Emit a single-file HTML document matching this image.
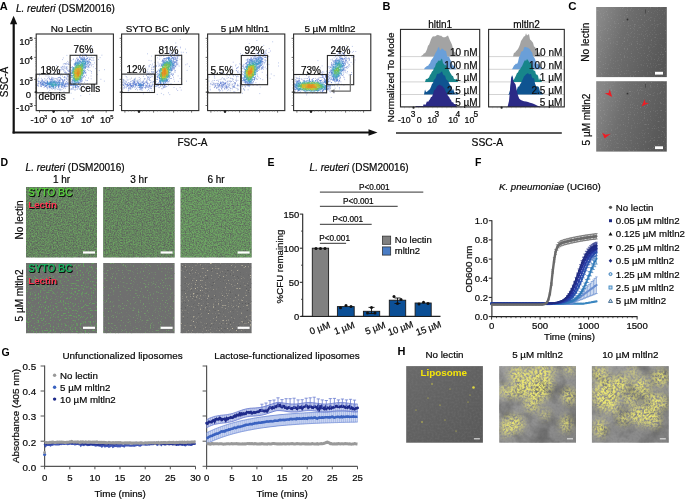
<!DOCTYPE html>
<html><head><meta charset="utf-8"><style>
html,body{margin:0;padding:0;background:#fff;overflow:hidden}
svg{display:block;will-change:transform}
text{font-family:"Liberation Sans",sans-serif}
</style></head><body>
<svg width="685" height="499" viewBox="0 0 685 499" font-family='"Liberation Sans", sans-serif'>
<rect width="685" height="499" fill="#fff"/>
<text x="-0.3" y="9.6" font-size="11" font-weight="bold" fill="#000">A</text>
<text x="16.0" y="11.8" font-size="10" stroke="#1a1a1a" stroke-width="0.22"><tspan font-style="italic">L. reuteri</tspan> (DSM20016)</text>
<line x1="13.7" y1="23.0" x2="13.7" y2="133.5" stroke="#111" stroke-width="2.2"/>
<line x1="12.6" y1="132.5" x2="369.0" y2="132.5" stroke="#111" stroke-width="2.2"/>
<path d="M13.6 15.8 L10.0 24.2 L17.2 24.2 Z" fill="#111"/>
<path d="M377.5 132.5 L368.5 129.3 L368.5 135.7 Z" fill="#111"/>
<text x="8.3" y="82.0" font-size="10" text-anchor="middle" stroke="#1a1a1a" stroke-width="0.22" transform="rotate(-90 8.3 82.0)">SSC-A</text>
<text x="192.5" y="146.2" font-size="10" text-anchor="middle" stroke="#1a1a1a" stroke-width="0.22">FSC-A</text>
<text x="71.5" y="31.5" font-size="9.9" text-anchor="middle" stroke="#1a1a1a" stroke-width="0.22">No Lectin</text>
<path d="M98.8 70.6h.8M56.1 65.6h.8M73.4 98.8h.8M95.8 82.6h.8M91.8 46.7h.8M89.4 94.3h.8M97.0 74.6h.8M80.4 95.7h.8M70.7 93.2h.8M62.9 57.9h.8M104.1 69.7h.8M101.5 55.2h.8M89.0 89.4h.8M103.9 81.1h.8M39.0 73.7h.8M66.5 55.4h.8M99.7 57.6h.8M53.0 73.3h.8" stroke="#849cd8" stroke-width=".8" opacity="0.85"/>
<path d="M62.1 59.6h.8M95.2 68.6h.8M100.5 79.3h.8M90.8 78.8h.8M39.0 75.7h.8M96.3 64.7h.8M93.7 87.7h.8M75.3 55.2h.8M98.0 59.5h.8M91.2 73.1h.8M90.7 50.4h.8M53.9 74.6h.8M84.8 88.7h.8M89.8 53.0h.8M88.2 78.0h.8M93.0 52.4h.8M90.7 76.0h.8M87.1 80.5h.8" stroke="#8490d8" stroke-width=".8" opacity="0.85"/>
<path d="M95.1 55.9h.8M70.8 60.7h.8M87.0 87.5h.8M91.9 86.8h.8M94.2 62.9h.8M57.4 72.5h.8M63.6 91.3h.8M44.3 73.6h.8M86.9 83.6h.8M91.2 71.5h.8M43.7 73.5h.8M60.4 90.4h.8M85.7 88.8h.8M42.3 74.1h.8M86.5 80.6h.8M67.4 61.4h.8M91.1 53.0h.8M82.1 52.7h.8M89.7 70.7h.8M60.8 73.8h.8M49.4 90.2h.8M92.9 66.8h.8M69.4 88.5h.8M83.3 53.9h.8M93.4 60.4h.8M47.6 75.9h.8M82.9 85.4h.8M45.6 76.0h.8M63.9 63.7h.8M73.2 59.0h.8M48.1 91.9h.8M85.0 80.0h.8M72.8 59.6h.8M92.8 59.0h.8M37.4 79.2h.8M64.9 63.7h.8M58.4 71.4h.8M90.6 57.5h.8M84.0 82.4h.8" stroke="#7890d8" stroke-width=".8" opacity="0.85"/>
<path d="M59.1 70.8h.8M79.4 89.5h.8M92.6 64.5h.8M66.0 63.0h.8M93.9 55.4h.8M92.4 57.8h.8M60.3 75.5h.8M79.3 88.7h.8M62.9 64.0h.8M87.9 70.4h.8M93.5 57.5h.8M85.0 77.2h.8M59.5 70.4h.8M48.8 76.8h.8M70.9 88.6h.8M64.6 63.6h.8" stroke="#7890cc" stroke-width=".8" opacity="0.85"/>
<path d="M84.8 54.7h.8M90.6 64.7h.8M68.0 64.1h.8M68.5 62.4h.8" stroke="#7884cc" stroke-width=".8" opacity="0.85"/>
<path d="M38.2 86.2h.8M88.4 57.3h.8M80.3 55.0h.8M67.4 63.7h.8M90.5 63.8h.8M47.0 88.0h.8M44.4 78.6h.8M63.2 70.9h.8M64.9 88.3h.8M71.3 89.2h.8M39.9 86.3h.8M66.4 64.2h.8M65.3 64.2h.8M60.7 67.1h.8M64.7 71.5h.8M90.9 57.3h.8M52.2 77.8h.8M80.2 54.9h.8M67.4 66.9h.8M57.7 77.7h.8M69.8 64.3h.8M90.4 59.6h.8M62.1 76.1h.8M67.9 74.2h.8M38.3 78.2h.8M66.2 78.7h.8M62.4 69.6h.8M37.4 85.4h.8M63.0 69.4h.8M64.3 79.4h.8M67.8 76.7h.8M87.0 57.8h.8M62.8 67.8h.8M86.5 55.0h.8M41.2 86.1h.8M70.0 65.3h.8M58.0 77.7h.8M78.4 87.0h.8M64.3 76.5h.8M61.6 89.4h.8M51.3 77.2h.8M68.6 79.3h.8M67.0 76.3h.8M82.0 55.0h.8M62.3 66.3h.8M59.8 89.5h.8M76.7 89.5h.8M59.8 77.6h.8M57.4 89.3h.8M72.3 88.8h.8M70.5 89.7h.8M48.4 77.4h.8M66.6 78.9h.8M58.5 77.5h.8M66.2 68.2h.8M90.3 62.6h.8M59.0 90.0h.8M63.8 77.5h.8M84.6 54.4h.8M66.1 69.3h.8M67.4 86.4h.8M79.1 57.3h.8M78.6 86.4h.8M60.3 69.7h.8M76.8 57.8h.8M63.8 77.6h.8M88.4 59.9h.8M60.6 69.9h.8M80.6 83.0h.8M69.0 69.8h.8M37.4 80.8h.8M37.6 85.8h.8M61.3 79.6h.8M63.3 88.4h.8M91.0 65.8h.8M67.6 73.3h.8M67.3 68.9h.8M55.5 78.7h.8M76.1 58.4h.8M85.8 54.9h.8M61.5 67.9h.8M46.9 88.9h.8M37.0 84.0h.8M38.5 84.1h.8M69.4 77.8h.8M75.1 89.9h.8M65.2 73.9h.8M67.5 80.4h.8M59.2 80.0h.8M59.4 77.4h.8M40.9 78.3h.8M89.9 59.1h.8M60.8 67.7h.8" stroke="#6c84cc" stroke-width=".8" opacity="0.85"/>
<path d="M69.0 79.4h.8M68.6 64.6h.8M74.3 89.9h.8M37.4 85.2h.8M64.0 68.1h.8M64.4 77.1h.8M61.7 68.9h.8M86.9 69.4h.8M44.7 80.0h.8M42.0 79.9h.8M91.5 60.5h.8M56.6 78.8h.8M60.6 78.7h.8M85.4 55.2h.8M77.5 88.4h.8M89.3 61.8h.8M89.2 58.1h.8M59.6 77.3h.8M65.9 67.3h.8" stroke="#6084cc" stroke-width=".8" opacity="0.85"/>
<path d="M57.8 89.0h.8M89.3 59.2h.8M69.9 67.1h.8M64.2 72.6h.8M65.7 72.5h.8M62.5 66.6h.8M65.2 72.6h.8M89.3 64.9h.8M46.4 79.9h.8M68.4 64.1h.8M72.7 89.3h.8M66.1 67.0h.8M66.6 79.6h.8M66.0 73.3h.8M69.9 83.2h.8M69.2 71.4h.8M64.4 70.2h.8M65.5 68.4h.8M59.5 88.7h.8M68.7 83.6h.8M40.1 84.3h.8M63.8 66.1h.8M89.4 67.3h.8M64.9 86.6h.8M88.2 66.3h.8M37.8 81.7h.8M41.1 86.6h.8M77.5 59.6h.8M79.3 57.7h.8M86.0 56.7h.8M53.7 88.3h.8M44.2 86.1h.8M38.2 81.8h.8M57.6 79.7h.8M81.4 57.9h.8M65.5 77.8h.8M66.8 75.2h.8M54.5 78.4h.8M68.0 70.3h.8M51.2 88.2h.8M77.4 59.0h.8M54.6 89.8h.8M64.3 80.3h.8M67.4 82.9h.8M62.2 79.5h.8M51.8 89.1h.8M64.6 66.9h.8M86.8 67.3h.8M66.4 81.8h.8M72.1 66.5h.8M69.2 70.8h.8M37.9 83.5h.8M67.1 70.7h.8M81.6 57.9h.8M70.1 82.8h.8M52.9 88.1h.8M39.9 82.3h.8M41.2 81.7h.8M60.2 78.6h.8M68.1 83.7h.8M38.4 81.0h.8M56.6 79.1h.8M88.0 67.7h.8M49.1 78.5h.8M86.2 75.2h.8M66.6 77.8h.8M62.9 81.5h.8M79.0 85.0h.8M60.5 79.2h.8M50.2 79.8h.8M75.0 60.2h.8M51.1 79.4h.8M82.1 56.5h.8M67.9 73.5h.8M88.6 60.3h.8M74.9 61.7h.8M47.3 78.4h.8M66.7 75.7h.8M71.9 67.8h.8M61.1 86.5h.8M82.0 80.8h.8M64.5 86.1h.8M64.9 84.7h.8M38.5 83.0h.8M86.3 56.1h.8M65.9 81.6h.8M85.5 73.0h.8M83.3 57.1h.8M41.5 81.2h.8M79.7 56.7h.8M42.0 84.2h.8" stroke="#6078cc" stroke-width=".8" opacity="0.85"/>
<path d="M67.2 83.3h.8M55.6 88.7h.8M65.7 83.9h.8M69.6 82.8h.8M88.8 64.6h.8M79.0 56.6h.8M76.8 86.0h.8M75.3 87.9h.8M80.6 81.0h.8M38.9 81.6h.8M52.8 79.6h.8M59.7 86.0h.8M70.2 85.1h.8M40.7 80.9h.8M81.4 83.4h.8M88.7 64.1h.8M59.6 80.2h.8M52.2 79.3h.8M65.8 86.4h.8M64.4 84.4h.8M83.1 76.3h.8M44.8 80.9h.8M50.4 79.7h.8M70.7 84.9h.8M77.9 87.0h.8M90.0 62.8h.8M44.2 81.9h.8M85.1 72.4h.8M51.6 78.8h.8M89.3 59.5h.8M81.4 81.7h.8" stroke="#5478cc" stroke-width=".8" opacity="0.85"/>
<path d="M63.9 80.1h.8M78.0 60.0h.8M45.0 86.1h.8M81.5 57.9h.8M85.0 73.2h.8M61.5 87.5h.8M73.8 63.9h.8M58.8 81.7h.8M67.7 82.3h.8M88.6 65.6h.8M70.8 85.5h.8M69.3 74.1h.8M85.5 72.1h.8M87.7 66.3h.8M78.3 84.0h.8M83.9 76.2h.8M88.8 62.0h.8M77.4 87.0h.8M82.5 77.7h.8M62.9 86.1h.8M75.4 86.9h.8M65.6 86.7h.8M40.7 84.9h.8M43.7 87.4h.8M70.7 84.5h.8M68.3 71.5h.8M65.7 85.2h.8M56.6 81.3h.8M63.5 81.5h.8M65.8 84.2h.8M71.3 81.6h.8M78.1 59.3h.8M58.5 87.2h.8M84.3 57.2h.8M62.3 80.4h.8M53.1 78.1h.8M67.6 84.8h.8M86.3 59.5h.8M84.8 70.5h.8M72.0 81.1h.8M43.2 81.3h.8M68.1 84.9h.8M80.2 85.4h.8M81.7 58.9h.8M48.9 79.1h.8M82.8 77.1h.8M63.7 85.3h.8M81.3 59.6h.8M75.8 87.6h.8M85.4 59.6h.8M80.2 85.2h.8M66.7 83.6h.8M58.4 81.6h.8M44.9 86.5h.8M74.1 65.3h.8M64.8 83.7h.8M40.2 83.1h.8M62.4 80.2h.8M51.0 78.4h.8M84.6 68.1h.8M87.8 66.3h.8M49.6 79.9h.8M46.7 80.9h.8M64.5 80.0h.8" stroke="#546ccc" stroke-width=".8" opacity="0.85"/>
<path d="M87.5 61.3h.8M67.5 84.4h.8M71.3 83.4h.8M71.3 84.2h.8M48.6 86.1h.8M71.3 67.4h.8M71.5 84.8h.8M68.9 75.7h.8M84.3 57.9h.8M42.5 81.5h.8M63.6 87.4h.8M62.6 85.5h.8M41.5 80.0h.8M57.4 80.4h.8M60.8 82.7h.8M62.2 85.4h.8M89.1 62.0h.8M62.2 87.0h.8M56.3 81.3h.8M55.0 81.9h.8M62.3 81.4h.8M59.1 80.3h.8M41.9 82.1h.8M63.4 83.7h.8M50.2 81.9h.8M62.8 84.4h.8M70.2 67.6h.8M39.8 83.3h.8M65.1 84.2h.8M78.4 83.2h.8M72.4 87.1h.8M62.7 80.6h.8M72.8 87.0h.8M44.9 86.3h.8M46.5 86.9h.8M87.8 62.9h.8M42.3 83.4h.8M43.0 85.0h.8M77.9 86.5h.8M47.1 81.4h.8M62.9 82.5h.8M45.7 85.7h.8M82.8 59.4h.8M71.1 82.9h.8M42.1 80.4h.8M84.3 58.8h.8M59.7 80.7h.8M41.0 84.8h.8M43.6 82.8h.8M86.6 60.9h.8M51.0 79.9h.8M63.1 83.1h.8M44.9 83.2h.8M58.2 81.0h.8M78.0 84.2h.8M77.1 85.1h.8M82.8 57.7h.8M44.8 83.2h.8M61.7 83.5h.8M72.8 84.6h.8M41.9 84.1h.8M49.4 87.6h.8M47.4 81.3h.8M59.2 82.4h.8M84.2 71.5h.8M49.1 86.1h.8M86.4 64.7h.8M80.2 57.7h.8M70.9 84.9h.8M49.4 86.8h.8M73.6 87.3h.8M64.1 86.5h.8M64.2 86.6h.8M43.1 85.0h.8M42.2 83.5h.8M81.3 80.9h.8M87.2 58.4h.8M49.4 86.7h.8M40.2 82.7h.8M73.8 64.4h.8M86.5 64.4h.8M60.9 87.0h.8M60.8 82.6h.8M84.4 66.6h.8M65.2 83.0h.8M41.5 83.0h.8M78.8 82.4h.8M70.2 85.2h.8M84.8 67.8h.8M46.0 83.6h.8M86.4 60.9h.8M86.8 58.3h.8M71.8 85.3h.8M79.0 61.9h.8M40.9 83.8h.8M45.1 82.9h.8M80.1 61.4h.8M45.3 82.7h.8M73.2 87.9h.8M80.5 80.8h.8M81.9 58.8h.8M55.0 81.2h.8M78.5 82.7h.8M80.4 59.0h.8M82.2 59.7h.8M75.2 62.5h.8M62.2 85.0h.8M77.3 60.8h.8M71.3 79.9h.8M61.5 85.8h.8M77.4 60.1h.8M61.4 84.7h.8M75.1 87.4h.8M74.9 85.9h.8M82.6 59.6h.8M58.2 85.3h.8M86.7 65.4h.8M85.3 67.5h.8M84.6 66.2h.8M84.4 61.1h.8M86.0 58.5h.8M75.0 86.5h.8M75.2 86.1h.8M78.3 82.2h.8M47.2 82.7h.8M58.4 86.4h.8M61.2 85.2h.8M73.3 84.4h.8M59.0 80.8h.8M62.5 83.2h.8M77.3 86.0h.8M58.1 86.6h.8M74.5 85.0h.8M80.1 82.0h.8M46.8 82.2h.8M43.8 83.8h.8M84.2 58.3h.8M46.6 87.6h.8M64.3 85.8h.8M63.4 82.9h.8M55.4 87.2h.8M81.6 78.6h.8M54.9 87.7h.8M72.1 76.9h.8M75.9 63.6h.8M80.1 81.0h.8M41.4 84.4h.8M74.7 85.2h.8M48.7 87.9h.8M46.0 83.5h.8M51.2 86.1h.8M52.9 81.6h.8M72.1 80.0h.8M40.3 85.8h.8" stroke="#486ccc" stroke-width=".8" opacity="0.85"/>
<path d="M62.6 82.1h.8M85.9 66.5h.8M43.5 82.2h.8M65.8 83.3h.8M49.7 82.0h.8M81.4 79.7h.8M42.7 83.4h.8M45.1 83.6h.8M82.2 75.1h.8M85.4 65.1h.8M87.0 63.3h.8M47.3 84.4h.8M79.0 60.5h.8M75.3 63.5h.8M88.0 62.0h.8M85.8 61.4h.8M47.1 81.5h.8M48.8 87.2h.8M47.9 83.0h.8M73.3 85.4h.8M58.0 82.3h.8M53.4 86.4h.8M78.8 82.3h.8M51.6 80.7h.8M85.0 59.4h.8M50.3 81.1h.8M72.5 85.2h.8M78.6 81.2h.8M72.1 82.1h.8M42.7 82.5h.8M42.3 85.0h.8M62.2 84.6h.8M54.2 81.2h.8M42.3 85.1h.8M73.6 67.8h.8M51.3 81.9h.8M60.2 82.1h.8M83.9 75.8h.8M85.7 66.8h.8M46.3 85.9h.8M45.8 85.7h.8M73.0 85.2h.8M77.4 82.4h.8M82.8 59.7h.8M56.4 85.5h.8M42.3 84.1h.8M46.9 82.8h.8M76.3 85.5h.8M40.7 82.7h.8M57.7 86.8h.8M55.9 86.5h.8M70.2 74.0h.8M40.4 82.3h.8M62.1 82.9h.8M77.3 60.9h.8M50.6 88.0h.8M55.1 87.0h.8M54.6 80.9h.8M63.3 83.9h.8M87.8 62.2h.8M73.5 83.6h.8M84.4 68.6h.8M56.2 82.3h.8M43.7 84.5h.8M80.5 79.1h.8M87.6 61.1h.8M87.0 61.8h.8M58.6 84.9h.8M85.0 68.1h.8M84.1 59.6h.8M60.5 84.4h.8M71.5 70.8h.8M85.1 61.9h.8M84.9 67.8h.8M43.1 85.4h.8M49.5 82.3h.8M83.8 59.3h.8M47.1 84.1h.8M73.7 84.3h.8M52.4 86.1h.8M72.0 72.2h.8M71.2 77.3h.8M46.4 85.3h.8" stroke="#4878cc" stroke-width=".8" opacity="0.85"/>
<path d="M76.2 61.9h.8M47.5 84.0h.8M47.3 82.4h.8M56.6 83.5h.8M63.8 84.9h.8M59.1 85.8h.8M80.7 58.6h.8M74.7 85.2h.8M70.9 75.1h.8M63.8 85.7h.8M81.3 79.5h.8M47.9 84.1h.8M58.1 87.4h.8M50.7 81.6h.8M48.9 84.3h.8M77.9 61.6h.8M80.1 61.5h.8M55.1 82.9h.8M54.2 81.9h.8M50.9 86.1h.8M57.7 85.6h.8M47.3 83.6h.8M87.9 63.3h.8M82.5 60.7h.8M75.8 85.2h.8M58.8 84.6h.8M70.4 69.2h.8M58.5 83.1h.8M85.6 62.3h.8M48.6 84.2h.8M85.1 63.1h.8M86.9 61.5h.8M58.9 82.5h.8M79.1 61.6h.8M59.4 85.1h.8M54.9 82.9h.8M48.6 86.2h.8M47.5 85.7h.8M43.2 84.1h.8M45.7 85.6h.8M81.3 59.6h.8M86.7 62.3h.8M80.4 59.0h.8M83.3 72.4h.8M53.4 88.0h.8M71.9 75.5h.8M71.8 73.7h.8M76.7 60.0h.8M45.9 85.4h.8M57.4 85.3h.8M44.3 85.1h.8M57.3 82.9h.8M44.1 82.3h.8M53.8 80.1h.8M75.7 85.8h.8M71.2 73.6h.8M74.8 63.5h.8M50.1 82.4h.8M49.6 82.1h.8M43.7 82.4h.8M49.8 86.9h.8M52.9 86.5h.8M72.2 82.1h.8M52.5 86.2h.8M52.8 86.1h.8M72.6 84.8h.8M51.1 82.0h.8M71.4 75.7h.8M79.5 60.9h.8M82.5 59.0h.8M83.6 59.0h.8M60.8 84.0h.8M54.7 83.6h.8M61.1 83.7h.8M79.4 80.5h.8M50.2 84.4h.8M52.5 82.8h.8M73.4 82.1h.8M83.4 58.9h.8" stroke="#3c78cc" stroke-width=".8" opacity="0.85"/>
<path d="M50.7 83.3h.8M51.8 82.3h.8M51.4 82.3h.8M84.7 63.6h.8M59.3 83.1h.8M76.8 64.0h.8M58.0 85.2h.8M49.0 83.3h.8M71.5 70.4h.8M48.9 84.3h.8M62.1 82.8h.8M47.7 84.4h.8M70.9 77.1h.8M87.4 63.9h.8M45.7 84.2h.8M50.8 83.7h.8M84.8 62.6h.8M75.2 86.0h.8M86.6 63.8h.8M44.9 84.8h.8M51.1 84.7h.8M62.1 84.7h.8M74.0 84.5h.8M58.9 84.1h.8M52.6 80.7h.8M75.8 63.2h.8M74.7 63.2h.8M55.5 85.0h.8M46.8 83.8h.8M76.5 82.6h.8M72.2 71.1h.8M52.4 86.6h.8M76.1 82.6h.8M60.8 84.8h.8M53.2 82.5h.8M50.5 84.0h.8M75.0 64.4h.8M84.4 63.3h.8M56.8 84.0h.8M72.1 72.3h.8M57.7 82.7h.8M59.4 83.7h.8M52.5 86.6h.8M84.1 71.8h.8M84.8 64.0h.8M47.5 84.1h.8M59.3 83.0h.8M56.5 83.6h.8M55.2 85.0h.8M47.7 83.5h.8M52.9 81.3h.8M84.6 62.9h.8M77.4 82.6h.8M82.3 71.5h.8M46.1 82.2h.8M75.5 65.3h.8M70.4 77.9h.8M53.9 81.9h.8M81.5 62.9h.8M51.1 86.3h.8M73.7 85.9h.8M51.8 81.3h.8M73.2 83.8h.8M84.5 60.9h.8M84.4 61.4h.8M82.4 61.2h.8M74.9 63.3h.8M85.1 63.5h.8M80.4 78.3h.8M59.5 84.1h.8M73.7 81.7h.8M49.5 85.9h.8M80.2 80.1h.8M50.2 87.1h.8M80.5 77.6h.8M77.0 63.1h.8M46.4 83.6h.8M80.3 62.6h.8M83.1 68.0h.8M52.2 84.4h.8M51.5 82.3h.8M72.3 80.2h.8M47.3 84.8h.8M46.7 82.5h.8M83.0 60.8h.8M59.6 84.2h.8M75.2 82.5h.8M85.1 62.8h.8M81.4 62.0h.8M76.0 82.7h.8M52.7 86.6h.8M49.3 84.4h.8M53.7 83.8h.8M82.4 69.5h.8M83.9 63.2h.8M51.9 80.0h.8M52.6 82.1h.8M77.3 62.2h.8M83.6 72.7h.8M82.9 74.0h.8M73.9 81.4h.8M70.9 72.9h.8M73.5 68.5h.8M74.2 83.7h.8M77.3 62.4h.8M50.4 82.5h.8M82.7 65.4h.8M84.5 64.1h.8M85.1 66.5h.8M80.7 63.7h.8M59.0 84.1h.8M57.7 83.7h.8M83.6 73.3h.8M50.4 84.0h.8M54.9 83.6h.8M56.8 85.0h.8M71.9 75.3h.8M82.2 69.9h.8M70.9 72.9h.8M74.1 81.0h.8M76.3 62.4h.8M73.4 68.2h.8M57.1 82.5h.8M71.8 72.7h.8M57.8 84.9h.8M82.7 71.9h.8M70.8 72.7h.8M51.0 83.1h.8M82.2 61.5h.8M83.8 69.8h.8M54.5 84.2h.8M54.7 85.6h.8M47.9 84.3h.8M77.3 63.5h.8M74.0 81.2h.8M73.1 80.6h.8M53.0 82.3h.8M73.6 69.0h.8M70.9 75.8h.8M56.4 82.4h.8" stroke="#3c84cc" stroke-width=".8" opacity="0.85"/>
<path d="M85.2 64.0h.8M83.3 64.9h.8M78.3 63.8h.8M73.5 80.4h.8M73.4 83.5h.8M55.5 82.7h.8M77.9 62.5h.8M73.5 79.8h.8M52.7 86.2h.8M83.4 67.1h.8M48.2 83.4h.8M84.1 63.7h.8M76.1 64.8h.8M83.5 70.7h.8M82.4 73.0h.8M83.2 64.7h.8M55.5 82.6h.8M82.5 65.4h.8M71.9 70.0h.8M50.4 84.1h.8M48.7 82.2h.8M77.7 64.0h.8M74.0 83.3h.8M81.7 60.1h.8M82.9 61.6h.8M78.1 82.9h.8M84.0 65.2h.8M74.8 64.6h.8M49.7 85.5h.8M82.1 63.6h.8M82.4 62.1h.8M82.3 63.3h.8M57.6 82.2h.8M83.9 63.6h.8M82.3 67.1h.8M49.3 83.9h.8M77.8 63.1h.8M81.8 61.5h.8M83.3 63.9h.8M71.8 70.2h.8M82.3 73.2h.8M85.1 64.9h.8M48.9 83.8h.8M55.4 84.5h.8M56.7 84.2h.8M54.5 84.8h.8M77.2 63.6h.8M84.0 67.5h.8M51.5 83.6h.8M55.5 84.8h.8M71.8 71.8h.8M83.7 70.1h.8M72.3 69.8h.8M72.3 68.6h.8M55.8 84.2h.8M49.5 82.9h.8M83.2 65.3h.8M75.6 84.0h.8M51.8 85.8h.8M71.4 73.6h.8M72.2 83.2h.8M52.5 84.4h.8M84.3 61.0h.8M74.9 83.8h.8M83.7 60.8h.8M51.2 85.5h.8M85.3 60.7h.8M74.7 64.2h.8M71.5 71.4h.8M74.2 78.8h.8M51.5 84.4h.8M50.4 83.3h.8M83.4 67.1h.8M73.5 82.0h.8M73.0 67.9h.8M80.4 60.1h.8M80.8 62.2h.8M77.9 63.5h.8M72.1 73.4h.8M83.0 61.3h.8M82.7 67.0h.8M75.8 65.5h.8M74.6 80.7h.8M83.2 63.1h.8M52.7 87.9h.8M73.6 78.7h.8M53.6 87.7h.8M83.9 61.4h.8M71.9 73.3h.8M82.6 65.1h.8M52.6 87.5h.8M79.6 62.2h.8M84.0 64.6h.8M53.8 83.3h.8M76.1 65.8h.8M80.3 66.0h.8M82.3 61.7h.8M70.5 75.5h.8M81.7 65.8h.8M72.8 69.2h.8M85.2 62.1h.8M56.3 84.4h.8M73.3 78.5h.8M78.1 64.3h.8M76.6 63.9h.8M73.5 79.1h.8M76.3 62.8h.8M52.0 84.7h.8M74.9 83.0h.8M76.5 80.0h.8M84.0 65.3h.8M55.3 84.6h.8M84.7 65.3h.8M81.8 65.7h.8M54.0 84.8h.8M80.1 64.0h.8M83.4 73.0h.8M57.9 84.5h.8M76.0 65.7h.8M82.6 70.1h.8" stroke="#3c90cc" stroke-width=".8" opacity="0.85"/>
<path d="M53.0 85.3h.8M58.0 84.4h.8M73.3 67.7h.8M80.9 77.3h.8M72.6 67.6h.8M74.2 82.3h.8M50.2 82.4h.8M72.8 67.7h.8M49.9 83.6h.8M80.3 74.7h.8M53.9 85.0h.8M82.9 73.8h.8M73.5 70.6h.8M52.5 84.8h.8M74.8 80.2h.8M77.1 65.1h.8M79.2 63.3h.8M75.1 83.7h.8M72.7 69.5h.8M54.0 82.5h.8M55.2 84.7h.8M79.0 65.2h.8M75.5 67.5h.8M51.3 84.1h.8M49.3 83.7h.8M82.2 65.0h.8M50.2 84.7h.8M75.8 66.3h.8M80.3 74.6h.8M77.2 64.5h.8M83.5 65.8h.8M82.3 63.6h.8M74.9 66.1h.8M51.6 84.6h.8M72.5 78.3h.8M53.3 82.2h.8M79.6 78.5h.8M82.4 60.0h.8M83.0 61.8h.8M82.7 63.6h.8M79.5 65.5h.8M73.3 75.4h.8M53.3 84.9h.8M74.3 83.7h.8M80.2 74.4h.8M85.3 63.2h.8M55.8 84.6h.8M50.7 84.6h.8M52.4 84.0h.8M85.5 62.6h.8M79.7 65.2h.8M79.9 78.8h.8M80.5 76.8h.8M75.0 64.1h.8M73.5 78.4h.8M82.2 65.4h.8M78.1 63.0h.8M80.8 65.4h.8M81.8 63.1h.8M81.4 76.6h.8M80.6 78.0h.8M50.9 84.8h.8M54.3 82.4h.8M55.0 85.3h.8M80.8 74.4h.8M82.5 60.5h.8M74.2 80.0h.8M79.7 78.4h.8M52.8 84.8h.8M75.5 64.9h.8M73.9 77.7h.8M49.4 83.8h.8M48.8 83.3h.8M82.5 66.9h.8M80.4 64.7h.8M80.9 66.7h.8M73.7 74.8h.8M84.7 62.1h.8M80.0 78.6h.8M82.6 73.6h.8M77.5 81.8h.8M81.7 64.5h.8M80.9 66.4h.8M81.5 63.2h.8M49.7 84.0h.8M82.7 63.6h.8M74.9 80.2h.8M55.5 85.9h.8M74.7 81.1h.8M76.7 65.5h.8M50.0 84.3h.8M79.1 63.6h.8M48.3 83.0h.8M80.1 64.9h.8M82.3 69.1h.8M77.6 62.1h.8M55.5 84.6h.8M74.8 81.7h.8M54.9 84.9h.8M75.7 67.2h.8M52.4 82.2h.8M75.5 80.2h.8M75.1 64.8h.8M81.8 63.9h.8M74.1 79.1h.8M76.0 66.8h.8M75.0 80.3h.8M73.5 68.6h.8M74.6 80.4h.8M72.3 80.4h.8M53.8 82.2h.8M52.9 83.6h.8M80.7 62.4h.8M80.5 77.8h.8M52.9 85.9h.8M82.7 68.3h.8M74.8 81.6h.8M73.8 73.3h.8M78.7 63.2h.8M73.7 72.0h.8M79.2 63.1h.8" stroke="#3c9cc0" stroke-width=".8" opacity="0.85"/>
<path d="M77.6 81.3h.8M82.2 74.0h.8M52.4 83.3h.8M82.4 71.9h.8M75.1 80.3h.8M77.8 65.7h.8M80.9 62.3h.8M74.1 74.1h.8M55.8 84.5h.8M73.9 72.0h.8M73.1 80.2h.8M82.0 65.5h.8M76.5 81.3h.8M82.3 67.2h.8M74.0 76.5h.8M74.7 66.6h.8M84.2 71.7h.8M74.3 81.1h.8M78.9 65.4h.8M54.1 82.0h.8M55.0 85.8h.8M73.6 73.3h.8M55.0 84.1h.8M79.7 65.9h.8M51.5 85.9h.8M78.8 63.0h.8M51.7 85.0h.8M73.5 69.2h.8M52.5 83.4h.8M80.8 72.1h.8M81.0 73.7h.8M78.2 80.0h.8M82.5 66.4h.8M74.8 80.0h.8M53.6 85.1h.8M78.6 78.5h.8M75.0 67.9h.8M52.2 84.8h.8M80.5 64.9h.8M81.9 77.8h.8M77.5 65.6h.8M83.7 62.0h.8M80.4 74.2h.8M76.1 80.3h.8M51.7 83.6h.8M74.6 79.1h.8M78.2 66.0h.8M84.2 64.0h.8M73.1 74.4h.8M82.4 66.6h.8M77.0 65.1h.8M73.7 77.4h.8M77.7 65.3h.8M81.7 69.2h.8M75.8 81.2h.8" stroke="#3ca8b4" stroke-width=".8" opacity="0.85"/>
<path d="M74.9 79.7h.8M82.5 62.5h.8M82.0 65.9h.8M81.9 68.7h.8M74.1 76.3h.8M73.9 76.0h.8M82.1 76.0h.8M73.3 74.7h.8M55.0 84.5h.8M77.2 80.0h.8M77.3 81.4h.8M53.7 85.9h.8M72.4 76.4h.8M77.8 67.6h.8M81.6 75.5h.8M80.9 78.0h.8M52.4 85.5h.8M80.5 65.9h.8M78.8 66.9h.8M79.4 76.2h.8M76.2 78.7h.8M76.8 78.3h.8M77.8 79.9h.8M77.7 79.6h.8M73.9 75.7h.8M78.2 66.8h.8M77.0 80.5h.8M55.4 84.3h.8M76.9 80.7h.8M81.7 72.4h.8M73.5 79.9h.8M73.9 69.9h.8M75.7 78.9h.8M80.3 69.6h.8M83.2 71.0h.8M81.7 65.1h.8M76.9 65.9h.8M74.1 75.7h.8M81.5 70.7h.8M73.9 79.9h.8M73.0 78.9h.8" stroke="#48a8b4" stroke-width=".8" opacity="0.85"/>
<path d="M75.7 67.5h.8M81.4 63.2h.8M78.5 77.0h.8M79.3 66.0h.8M81.8 73.4h.8M84.2 63.9h.8M80.4 75.1h.8M55.7 85.6h.8M82.4 63.8h.8M75.7 80.7h.8M83.0 70.5h.8M80.0 67.5h.8M76.0 67.1h.8M82.6 66.5h.8M75.0 69.8h.8M83.8 67.4h.8M83.6 66.7h.8M76.4 80.6h.8M81.6 63.2h.8M75.5 80.0h.8M78.9 79.7h.8M73.0 77.6h.8M79.9 77.5h.8M75.8 66.7h.8M75.1 78.7h.8M83.3 70.5h.8M81.3 72.6h.8M72.6 73.3h.8M83.1 62.3h.8M80.1 79.6h.8M80.4 65.7h.8M82.5 68.5h.8M80.3 69.4h.8M76.1 67.7h.8M83.6 67.6h.8M77.7 79.4h.8M81.2 71.5h.8M77.4 80.4h.8M73.1 69.8h.8M81.0 71.5h.8M53.5 84.5h.8M75.7 68.4h.8M80.5 75.5h.8M74.3 69.6h.8M78.3 78.8h.8M81.5 64.9h.8M76.8 81.0h.8M74.0 77.1h.8M73.9 70.0h.8M73.2 71.5h.8M74.4 80.2h.8M81.7 74.9h.8M79.5 78.6h.8M76.2 69.3h.8M52.6 85.5h.8M79.4 77.7h.8M73.5 68.9h.8M83.0 64.0h.8M77.8 65.8h.8M82.3 66.3h.8M74.2 77.4h.8M81.5 69.5h.8M79.2 66.1h.8M76.1 78.8h.8M77.7 66.1h.8M73.5 78.4h.8M72.8 69.1h.8M75.5 79.1h.8M81.2 72.3h.8M76.2 76.2h.8M77.8 78.2h.8M76.7 79.8h.8M77.7 65.0h.8M81.2 71.0h.8M73.8 71.7h.8M82.4 65.3h.8M77.8 64.3h.8M52.5 85.3h.8M80.6 70.9h.8" stroke="#48b4a8" stroke-width=".8" opacity="0.85"/>
<path d="M74.0 75.3h.8M78.7 66.5h.8M76.1 67.0h.8M75.4 79.5h.8M76.2 67.0h.8M77.9 79.5h.8M76.1 76.4h.8M75.2 79.1h.8M74.0 71.7h.8M72.8 76.2h.8M79.7 65.4h.8" stroke="#48b49c" stroke-width=".8" opacity="0.85"/>
<path d="M74.3 76.7h.8M78.3 77.3h.8M76.5 66.7h.8M80.4 70.5h.8M72.3 79.4h.8M76.3 78.7h.8M79.0 79.5h.8M80.0 76.4h.8M79.0 79.1h.8" stroke="#54b49c" stroke-width=".8" opacity="0.85"/>
<path d="M72.9 77.9h.8M79.6 67.7h.8M82.1 68.2h.8M82.0 69.1h.8M72.8 72.8h.8M74.1 75.1h.8M80.2 77.5h.8M77.0 67.7h.8M78.9 79.7h.8M78.9 79.1h.8M80.7 68.0h.8M80.6 64.0h.8M75.6 67.4h.8M81.9 65.3h.8M78.6 76.1h.8M78.4 65.2h.8M81.4 72.4h.8M78.3 64.8h.8M73.2 71.8h.8M75.4 81.1h.8M76.3 76.6h.8M80.6 70.4h.8M80.1 76.6h.8M78.7 74.6h.8M81.8 70.5h.8M81.5 66.5h.8M75.7 67.6h.8M73.7 76.3h.8M74.5 78.0h.8M80.7 69.5h.8M76.7 77.1h.8M79.6 65.0h.8M82.0 65.3h.8" stroke="#54b490" stroke-width=".8" opacity="0.85"/>
<path d="M73.9 77.0h.8M81.7 69.0h.8M76.5 68.0h.8M74.8 80.3h.8M73.7 72.6h.8M77.8 67.5h.8M74.0 73.6h.8M77.0 66.7h.8M82.1 75.2h.8M73.4 71.9h.8M75.0 76.2h.8M78.5 76.1h.8M77.3 69.6h.8M73.7 75.7h.8M80.0 68.9h.8M79.8 79.3h.8M79.5 76.2h.8M77.3 67.4h.8M73.0 70.3h.8M73.0 70.4h.8M81.6 64.3h.8M76.2 67.4h.8M73.1 71.4h.8M74.2 78.3h.8M78.8 69.6h.8M74.0 71.7h.8M80.7 65.9h.8" stroke="#54b484" stroke-width=".8" opacity="0.85"/>
<path d="M77.0 79.2h.8M76.0 68.9h.8M76.8 66.7h.8M79.6 76.6h.8M81.9 75.3h.8" stroke="#60c084" stroke-width=".8" opacity="0.85"/>
<path d="M73.8 72.7h.8M81.7 64.6h.8M78.8 75.7h.8M75.9 71.2h.8M80.5 65.4h.8M78.0 68.4h.8M78.4 76.4h.8M75.5 71.0h.8M72.6 71.3h.8M73.9 71.6h.8M72.2 77.4h.8M80.2 71.6h.8M81.9 70.0h.8M77.9 66.2h.8M80.1 77.6h.8M79.9 68.4h.8M81.3 65.3h.8M78.4 67.7h.8M75.6 80.4h.8M81.4 67.5h.8M75.0 73.1h.8M77.5 67.1h.8M76.3 65.7h.8M73.9 76.3h.8M79.0 69.5h.8M75.0 71.1h.8M80.1 74.7h.8M78.0 79.0h.8M78.2 65.5h.8M80.2 66.2h.8M73.2 78.0h.8M81.8 65.0h.8M77.4 68.5h.8M73.3 75.3h.8M80.8 67.8h.8" stroke="#60c078" stroke-width=".8" opacity="0.85"/>
<path d="M75.6 74.7h.8M81.2 70.4h.8M80.7 66.7h.8M81.2 73.4h.8M75.9 80.5h.8M78.8 75.8h.8M78.2 76.2h.8M74.9 76.3h.8M74.5 67.6h.8M78.8 71.8h.8M80.6 67.3h.8M76.4 65.5h.8M75.4 74.6h.8M81.3 72.0h.8M79.2 74.1h.8M74.1 72.4h.8M74.0 76.0h.8M75.5 74.7h.8M74.5 76.0h.8M80.7 68.2h.8M72.9 71.4h.8M80.7 74.7h.8M76.1 74.0h.8M78.8 64.9h.8M75.9 77.1h.8M77.7 67.0h.8M76.4 64.1h.8M80.5 75.5h.8M81.1 70.6h.8" stroke="#60c06c" stroke-width=".8" opacity="0.85"/>
<path d="M79.1 74.1h.8M79.1 71.9h.8" stroke="#60c060" stroke-width=".8" opacity="0.85"/>
<path d="M75.4 71.9h.8M81.8 67.1h.8M79.0 75.4h.8M79.8 77.9h.8M75.2 66.8h.8M77.7 68.1h.8M81.0 67.4h.8M74.9 79.3h.8M75.3 74.2h.8M77.3 78.7h.8M78.4 71.0h.8M80.5 69.6h.8M75.5 70.5h.8M79.1 72.0h.8M76.3 76.7h.8M79.6 75.3h.8M81.1 74.8h.8M79.2 70.5h.8M81.7 70.7h.8M73.4 75.5h.8M76.2 67.0h.8M80.4 75.8h.8M74.3 71.7h.8M75.7 76.5h.8M78.2 71.8h.8M79.5 67.8h.8M75.3 78.1h.8M76.8 74.1h.8M76.2 67.8h.8M76.5 75.2h.8M76.5 78.8h.8M79.6 76.7h.8M76.6 79.1h.8M78.4 73.4h.8M74.4 67.8h.8M81.2 64.6h.8" stroke="#6cc060" stroke-width=".8" opacity="0.85"/>
<path d="M77.7 75.8h.8M79.9 69.1h.8M77.9 79.3h.8M74.9 75.5h.8M79.0 65.7h.8M78.0 68.4h.8M73.2 70.0h.8M74.7 74.4h.8M76.2 74.9h.8M80.4 68.3h.8M78.5 65.3h.8M80.5 70.5h.8M79.6 72.8h.8M78.7 73.1h.8M76.1 72.1h.8M78.1 69.3h.8M77.5 67.7h.8M77.5 75.5h.8M74.2 72.1h.8M75.1 69.0h.8M81.9 73.8h.8M78.1 76.6h.8M78.2 75.3h.8M76.6 69.1h.8M75.4 76.3h.8M80.1 68.0h.8M74.0 74.0h.8M74.0 73.9h.8M76.1 79.4h.8M79.2 77.4h.8M79.8 75.2h.8" stroke="#6cc054" stroke-width=".8" opacity="0.85"/>
<path d="M76.1 78.0h.8M81.6 73.6h.8M76.0 79.0h.8M82.1 68.7h.8M78.6 71.3h.8M78.3 75.4h.8M74.6 72.5h.8M79.6 76.5h.8M80.5 70.0h.8" stroke="#6cc048" stroke-width=".8" opacity="0.85"/>
<path d="M76.4 74.4h.8M76.9 74.7h.8M75.2 69.5h.8M75.5 76.1h.8M79.9 72.0h.8M79.7 66.4h.8M77.0 77.2h.8M73.6 73.4h.8M77.5 77.8h.8M77.4 78.5h.8M74.9 74.3h.8M76.8 77.6h.8M75.3 71.8h.8M75.9 70.7h.8M77.2 70.5h.8M72.8 75.4h.8M81.8 70.4h.8M78.9 76.8h.8M76.5 69.5h.8M76.7 68.0h.8M76.0 71.9h.8M79.7 68.4h.8M78.5 70.9h.8M73.5 73.8h.8M79.7 74.7h.8M75.9 70.4h.8M80.7 70.9h.8M78.2 66.2h.8M80.1 68.0h.8M81.4 73.8h.8M72.2 72.1h.8M81.9 66.3h.8M79.9 68.5h.8M79.5 69.7h.8M77.8 72.1h.8M79.3 66.6h.8" stroke="#78c048" stroke-width=".8" opacity="0.85"/>
<path d="M81.0 69.7h.8M75.1 79.1h.8M72.7 72.5h.8M77.3 76.3h.8M81.8 66.2h.8M81.5 70.3h.8M74.8 75.7h.8M78.8 75.9h.8M72.2 73.3h.8M81.0 66.3h.8M81.3 72.0h.8M79.9 75.4h.8M82.1 72.1h.8M79.4 70.5h.8M79.8 68.2h.8M77.8 72.3h.8M80.8 71.3h.8M77.2 74.1h.8M77.7 67.4h.8M76.5 74.8h.8M76.8 79.1h.8M80.0 69.2h.8M77.3 73.9h.8M81.4 70.9h.8M73.7 73.7h.8M75.5 70.0h.8M74.7 76.6h.8M74.8 69.1h.8M79.9 72.8h.8M77.5 73.7h.8M75.6 79.2h.8M75.0 68.1h.8M74.4 74.8h.8M81.1 68.5h.8M77.5 71.2h.8M81.1 70.3h.8M76.2 69.0h.8M80.0 71.5h.8M78.1 72.3h.8M81.4 72.9h.8M78.1 73.6h.8M76.4 71.5h.8M75.4 74.9h.8M75.8 73.3h.8M81.5 68.9h.8M78.1 78.1h.8" stroke="#84c048" stroke-width=".8" opacity="0.85"/>
<path d="M80.9 69.1h.8M76.3 76.4h.8M80.4 73.6h.8M76.5 79.6h.8M79.8 71.8h.8M80.8 70.0h.8M76.9 73.1h.8M75.6 72.1h.8M79.3 76.3h.8M76.0 71.0h.8M74.2 77.4h.8M78.2 71.9h.8M75.2 79.1h.8M76.9 78.9h.8M77.1 76.7h.8M76.4 69.9h.8M76.2 76.4h.8M78.7 74.1h.8M77.3 72.9h.8M74.4 77.1h.8M79.6 70.1h.8M78.7 72.4h.8M76.1 75.3h.8M75.5 79.1h.8M81.1 71.0h.8M75.0 76.0h.8M78.9 77.6h.8M80.0 78.0h.8M75.7 69.3h.8M80.0 77.4h.8M78.4 73.3h.8M74.9 73.7h.8M82.0 72.4h.8M74.5 70.4h.8M78.8 66.3h.8M75.5 70.4h.8M79.1 67.1h.8M78.8 76.2h.8M79.4 74.3h.8M76.0 71.9h.8M76.9 79.8h.8M79.4 67.3h.8M75.7 79.3h.8M79.4 69.5h.8M75.1 79.6h.8M77.1 74.0h.8M75.7 73.5h.8M80.9 72.1h.8M81.5 69.6h.8M77.6 78.2h.8M77.9 71.7h.8M78.3 68.3h.8M76.4 75.8h.8M77.5 73.8h.8M74.6 73.6h.8M75.5 70.7h.8M79.1 75.2h.8" stroke="#90c048" stroke-width=".8" opacity="0.85"/>
<path d="M80.8 73.2h.8M74.8 69.0h.8M82.1 70.3h.8M79.4 73.6h.8M74.5 71.8h.8M78.0 78.9h.8M76.5 73.7h.8M78.1 78.9h.8M77.3 68.4h.8M79.5 72.1h.8M79.2 72.9h.8M74.7 76.1h.8M79.0 66.1h.8M77.2 68.7h.8M77.2 73.3h.8M74.9 78.1h.8M74.7 76.7h.8M81.2 69.8h.8M76.7 73.9h.8M77.6 73.2h.8M80.3 72.4h.8M78.8 76.0h.8M74.7 68.5h.8M80.6 68.9h.8M75.4 73.1h.8M76.8 68.5h.8M79.0 72.8h.8M77.9 74.9h.8M76.3 78.4h.8M77.4 78.1h.8M74.9 69.2h.8M76.2 70.3h.8M78.8 72.0h.8M79.7 68.2h.8M79.3 66.2h.8M75.8 73.1h.8" stroke="#9cc03c" stroke-width=".8" opacity="0.85"/>
<path d="M77.9 68.4h.8M78.1 78.0h.8M75.9 78.8h.8M79.9 67.7h.8M75.2 69.5h.8M76.0 78.3h.8M77.7 72.6h.8M75.8 78.9h.8M79.8 66.7h.8M78.0 72.9h.8M78.6 73.2h.8M74.7 73.8h.8M77.2 72.9h.8M79.2 70.3h.8M76.1 76.9h.8M74.4 69.8h.8M75.9 76.7h.8M74.8 69.8h.8M74.6 75.3h.8" stroke="#a8c03c" stroke-width=".8" opacity="0.85"/>
<path d="M77.1 69.0h.8M78.7 75.4h.8M74.9 72.0h.8M76.0 77.5h.8M78.2 74.8h.8M75.6 69.0h.8M76.0 76.2h.8M75.2 78.6h.8M80.4 69.2h.8M77.1 66.0h.8M75.6 68.2h.8M76.4 70.5h.8M76.7 69.7h.8M80.6 72.0h.8M75.9 71.1h.8" stroke="#a8cc3c" stroke-width=".8" opacity="0.85"/>
<path d="M77.9 66.7h.8M79.6 75.3h.8M76.4 66.9h.8M77.5 71.1h.8M77.7 68.5h.8M80.8 71.7h.8M78.4 70.0h.8M80.3 71.2h.8M76.4 71.4h.8M76.1 75.0h.8M77.4 67.7h.8M79.1 70.0h.8M79.5 73.6h.8M76.3 68.7h.8M79.7 72.5h.8M76.3 74.1h.8M77.8 74.4h.8M75.7 77.5h.8M77.1 69.4h.8M80.2 71.2h.8M76.8 73.4h.8M75.2 70.5h.8M81.9 70.2h.8M75.1 75.1h.8M78.9 68.5h.8M76.8 73.0h.8" stroke="#b4cc3c" stroke-width=".8" opacity="0.85"/>
<path d="M75.9 70.4h.8M79.1 75.6h.8M77.4 71.3h.8M80.2 73.2h.8M77.4 71.1h.8M78.1 76.9h.8M74.9 71.2h.8M75.8 73.7h.8M76.8 76.5h.8M75.6 69.8h.8M78.1 69.9h.8M77.9 71.3h.8M74.7 75.4h.8M76.3 77.0h.8M74.7 76.8h.8M78.8 68.8h.8" stroke="#c0cc3c" stroke-width=".8" opacity="0.85"/>
<path d="M79.8 74.1h.8M76.6 73.5h.8M75.5 70.6h.8M75.1 77.1h.8M76.4 75.0h.8M75.3 74.5h.8M78.8 71.5h.8M75.5 72.2h.8M75.5 74.6h.8M76.4 72.1h.8M77.7 74.8h.8" stroke="#cccc3c" stroke-width=".8" opacity="0.85"/>
<path d="M77.0 71.7h.8M77.6 77.2h.8M76.3 75.4h.8M79.3 70.2h.8M74.8 76.2h.8M78.5 75.1h.8M75.9 76.6h.8M76.5 72.8h.8M74.5 75.4h.8M77.2 70.0h.8M75.2 73.8h.8M78.4 69.8h.8M75.9 71.6h.8M79.9 73.9h.8M76.3 72.7h.8M80.1 71.9h.8M74.3 72.4h.8M77.7 68.4h.8M79.6 70.2h.8M74.7 73.1h.8M76.6 69.7h.8" stroke="#cccc30" stroke-width=".8" opacity="0.85"/>
<path d="M80.0 69.0h.8M77.7 72.0h.8M75.0 75.0h.8M79.2 69.3h.8M75.8 70.7h.8" stroke="#ccc030" stroke-width=".8" opacity="0.85"/>
<path d="M76.9 70.1h.8M74.7 76.1h.8M76.4 69.0h.8M75.6 77.6h.8M79.6 68.5h.8M78.0 70.2h.8M78.6 75.6h.8M74.3 77.4h.8M76.6 75.1h.8M75.2 77.1h.8M76.5 76.9h.8M78.8 74.4h.8M78.1 76.0h.8M76.3 72.7h.8M77.3 70.2h.8M75.6 74.4h.8M74.6 72.6h.8M79.0 74.9h.8M79.5 68.3h.8M79.7 70.2h.8M77.1 70.7h.8M78.3 72.1h.8" stroke="#d8c030" stroke-width=".8" opacity="0.85"/>
<path d="M80.2 74.3h.8M77.4 74.9h.8M80.1 68.3h.8M74.7 75.0h.8M77.8 68.5h.8M74.9 71.5h.8M76.5 73.6h.8M75.4 74.6h.8M79.2 68.4h.8M79.7 73.5h.8M76.8 77.2h.8M75.8 75.8h.8M76.7 70.0h.8M79.3 68.7h.8" stroke="#d8b430" stroke-width=".8" opacity="0.85"/>
<path d="M76.4 69.1h.8M76.7 77.2h.8M77.2 73.9h.8M77.6 75.8h.8M75.1 72.6h.8M77.4 76.0h.8M79.3 73.3h.8M76.0 71.0h.8M78.3 68.4h.8M76.1 75.3h.8M77.8 71.3h.8M79.0 73.8h.8M74.4 70.8h.8M80.1 68.3h.8M77.0 73.0h.8M80.1 68.9h.8M76.2 73.3h.8" stroke="#e4b430" stroke-width=".8" opacity="0.85"/>
<path d="M79.0 69.0h.8M77.9 74.2h.8M79.0 72.2h.8M78.6 70.8h.8M74.3 72.3h.8M74.4 71.1h.8M77.4 73.2h.8M75.8 72.0h.8M78.5 71.8h.8M77.2 72.8h.8M77.0 70.1h.8M75.0 72.9h.8M79.6 73.6h.8M74.8 70.3h.8M78.6 71.0h.8M76.7 74.2h.8M76.0 75.9h.8M79.8 68.1h.8M80.0 69.3h.8M77.3 73.1h.8M76.8 74.6h.8M75.7 70.6h.8M75.2 70.7h.8M78.0 69.4h.8M79.2 69.1h.8M74.4 73.6h.8M77.0 72.0h.8M78.4 74.3h.8M78.2 73.8h.8M76.4 69.6h.8M76.6 72.6h.8M80.1 74.1h.8M76.9 69.2h.8M74.9 73.5h.8M75.2 72.3h.8M75.4 75.5h.8M78.1 68.8h.8M78.4 73.6h.8M79.0 73.7h.8M77.9 72.6h.8M79.2 70.5h.8" stroke="#e4a830" stroke-width=".8" opacity="0.85"/>
<path d="M76.8 69.0h.8M78.8 73.1h.8M77.4 69.9h.8M77.3 68.8h.8M79.1 71.3h.8M74.7 73.6h.8M78.8 70.8h.8M78.2 70.2h.8M78.1 69.7h.8M78.0 75.0h.8" stroke="#e49c30" stroke-width=".8" opacity="0.85"/>
<path d="M77.5 75.8h.8M76.2 73.3h.8M76.6 73.9h.8M78.1 72.6h.8M77.9 74.5h.8M74.8 72.9h.8M78.2 71.8h.8M79.6 72.9h.8M76.5 70.7h.8M80.0 71.6h.8M76.7 73.1h.8" stroke="#e49024" stroke-width=".8" opacity="0.85"/>
<path d="M78.3 70.0h.8M79.0 71.9h.8M78.0 73.4h.8M77.2 72.0h.8M77.5 70.6h.8M78.1 75.4h.8M78.0 74.8h.8M77.8 73.5h.8M77.1 71.7h.8M77.9 74.0h.8M77.5 73.9h.8M77.0 72.1h.8M77.7 74.4h.8M77.7 76.0h.8M76.6 73.4h.8M77.4 75.8h.8M77.1 72.7h.8M77.3 72.9h.8M78.1 71.9h.8M79.3 73.4h.8M77.5 72.4h.8M77.9 75.0h.8M77.3 74.8h.8M77.5 76.0h.8" stroke="#e48424" stroke-width=".8" opacity="0.85"/>
<rect x="36.2" y="34.0" width="77.2" height="76.6" fill="none" stroke="#2a2a2a" stroke-width="1.1"/>
<line x1="34.2" y1="38.3" x2="36.2" y2="38.3" stroke="#444" stroke-width="0.8"/>
<line x1="34.2" y1="57.4" x2="36.2" y2="57.4" stroke="#444" stroke-width="0.8"/>
<line x1="34.2" y1="79.4" x2="36.2" y2="79.4" stroke="#444" stroke-width="0.8"/>
<line x1="34.2" y1="92.2" x2="36.2" y2="92.2" stroke="#444" stroke-width="0.8"/>
<line x1="34.2" y1="105.5" x2="36.2" y2="105.5" stroke="#444" stroke-width="0.8"/>
<line x1="35.0" y1="40.5" x2="36.2" y2="40.5" stroke="#777" stroke-width="0.5"/>
<line x1="35.0" y1="42.5" x2="36.2" y2="42.5" stroke="#777" stroke-width="0.5"/>
<line x1="35.0" y1="44.6" x2="36.2" y2="44.6" stroke="#777" stroke-width="0.5"/>
<line x1="35.0" y1="47.0" x2="36.2" y2="47.0" stroke="#777" stroke-width="0.5"/>
<line x1="35.0" y1="51.0" x2="36.2" y2="51.0" stroke="#777" stroke-width="0.5"/>
<line x1="35.0" y1="59.5" x2="36.2" y2="59.5" stroke="#777" stroke-width="0.5"/>
<line x1="35.0" y1="61.5" x2="36.2" y2="61.5" stroke="#777" stroke-width="0.5"/>
<line x1="35.0" y1="63.5" x2="36.2" y2="63.5" stroke="#777" stroke-width="0.5"/>
<line x1="35.0" y1="66.0" x2="36.2" y2="66.0" stroke="#777" stroke-width="0.5"/>
<line x1="35.0" y1="70.0" x2="36.2" y2="70.0" stroke="#777" stroke-width="0.5"/>
<line x1="35.0" y1="82.0" x2="36.2" y2="82.0" stroke="#777" stroke-width="0.5"/>
<line x1="35.0" y1="85.0" x2="36.2" y2="85.0" stroke="#777" stroke-width="0.5"/>
<line x1="35.0" y1="88.0" x2="36.2" y2="88.0" stroke="#777" stroke-width="0.5"/>
<line x1="35.0" y1="95.0" x2="36.2" y2="95.0" stroke="#777" stroke-width="0.5"/>
<line x1="35.0" y1="98.0" x2="36.2" y2="98.0" stroke="#777" stroke-width="0.5"/>
<line x1="35.0" y1="101.0" x2="36.2" y2="101.0" stroke="#777" stroke-width="0.5"/>
<line x1="35.0" y1="103.0" x2="36.2" y2="103.0" stroke="#777" stroke-width="0.5"/>
<line x1="39.5" y1="110.6" x2="39.5" y2="112.6" stroke="#444" stroke-width="0.8"/>
<line x1="53.6" y1="110.6" x2="53.6" y2="112.6" stroke="#444" stroke-width="0.8"/>
<line x1="68.2" y1="110.6" x2="68.2" y2="112.6" stroke="#444" stroke-width="0.8"/>
<line x1="88.2" y1="110.6" x2="88.2" y2="112.6" stroke="#444" stroke-width="0.8"/>
<line x1="106.2" y1="110.6" x2="106.2" y2="112.6" stroke="#444" stroke-width="0.8"/>
<line x1="43.0" y1="110.6" x2="43.0" y2="111.8" stroke="#777" stroke-width="0.5"/>
<line x1="46.0" y1="110.6" x2="46.0" y2="111.8" stroke="#777" stroke-width="0.5"/>
<line x1="49.0" y1="110.6" x2="49.0" y2="111.8" stroke="#777" stroke-width="0.5"/>
<line x1="57.0" y1="110.6" x2="57.0" y2="111.8" stroke="#777" stroke-width="0.5"/>
<line x1="61.0" y1="110.6" x2="61.0" y2="111.8" stroke="#777" stroke-width="0.5"/>
<line x1="64.0" y1="110.6" x2="64.0" y2="111.8" stroke="#777" stroke-width="0.5"/>
<line x1="72.0" y1="110.6" x2="72.0" y2="111.8" stroke="#777" stroke-width="0.5"/>
<line x1="75.0" y1="110.6" x2="75.0" y2="111.8" stroke="#777" stroke-width="0.5"/>
<line x1="78.0" y1="110.6" x2="78.0" y2="111.8" stroke="#777" stroke-width="0.5"/>
<line x1="81.0" y1="110.6" x2="81.0" y2="111.8" stroke="#777" stroke-width="0.5"/>
<line x1="84.0" y1="110.6" x2="84.0" y2="111.8" stroke="#777" stroke-width="0.5"/>
<line x1="92.0" y1="110.6" x2="92.0" y2="111.8" stroke="#777" stroke-width="0.5"/>
<line x1="95.0" y1="110.6" x2="95.0" y2="111.8" stroke="#777" stroke-width="0.5"/>
<line x1="98.0" y1="110.6" x2="98.0" y2="111.8" stroke="#777" stroke-width="0.5"/>
<line x1="101.0" y1="110.6" x2="101.0" y2="111.8" stroke="#777" stroke-width="0.5"/>
<line x1="103.0" y1="110.6" x2="103.0" y2="111.8" stroke="#777" stroke-width="0.5"/>
<circle cx="53.6" cy="111.6" r="1.3" fill="#222"/>
<circle cx="36.2" cy="92.2" r="1.1" fill="#222"/>
<rect x="36.2" y="74.2" width="33.0" height="18.6" fill="none" stroke="#2a2a2a" stroke-width="1.1"/>
<rect x="70.1" y="55.3" width="26.7" height="28.8" fill="none" stroke="#2a2a2a" stroke-width="1.1"/>
<text x="40.5" y="73.8" font-size="10" stroke="#1a1a1a" stroke-width="0.22">18%</text>
<text x="83.5" y="53.4" font-size="10" text-anchor="middle" stroke="#1a1a1a" stroke-width="0.22">76%</text>
<text x="157.7" y="31.5" font-size="9.9" text-anchor="middle" stroke="#1a1a1a" stroke-width="0.22">SYTO BC only</text>
<path d="M156.8 94.4h.8M186.7 70.4h.8M147.1 53.8h.8M163.3 94.7h.8M181.8 84.3h.8M185.1 49.1h.8M140.3 67.5h.8M189.2 66.4h.8M186.0 81.1h.8M175.4 43.0h.8M124.7 74.8h.8M151.3 56.1h.8M174.1 81.3h.8M179.9 39.5h.8M169.4 94.6h.8M177.4 84.6h.8M160.9 93.4h.8M150.8 60.8h.8M157.1 57.8h.8M177.7 75.9h.8M186.0 52.7h.8M168.0 92.8h.8" stroke="#849cd8" stroke-width=".8" opacity="0.85"/>
<path d="M180.8 90.1h.8M180.1 47.1h.8M148.6 60.4h.8M185.4 64.8h.8M179.6 78.6h.8M186.8 63.9h.8M174.3 47.6h.8M173.6 87.5h.8M179.7 87.6h.8M177.3 90.5h.8M172.3 48.0h.8M177.9 81.4h.8M176.1 89.0h.8M145.4 67.2h.8M161.0 55.9h.8M177.2 46.9h.8M179.6 59.3h.8M143.3 74.2h.8M142.9 93.9h.8M180.1 47.9h.8M148.7 65.6h.8" stroke="#8490d8" stroke-width=".8" opacity="0.85"/>
<path d="M125.8 76.5h.8M159.5 56.6h.8M178.7 66.1h.8M182.8 52.3h.8M177.9 51.1h.8M174.7 50.3h.8M181.5 59.0h.8M143.4 70.4h.8M138.8 77.5h.8M151.5 90.8h.8M154.1 62.4h.8M126.6 77.8h.8M169.7 50.9h.8M163.4 56.4h.8M168.9 51.2h.8M122.6 89.0h.8M147.0 90.7h.8M168.0 85.3h.8M159.3 59.2h.8M147.5 69.2h.8M127.8 90.9h.8M143.9 71.9h.8M148.9 66.2h.8M143.2 76.3h.8M149.0 91.0h.8M170.6 83.6h.8M151.6 65.9h.8M171.2 52.0h.8M180.8 52.2h.8M139.3 79.5h.8M147.2 71.3h.8M122.6 79.4h.8M145.6 72.2h.8M174.9 72.1h.8M148.6 66.9h.8M124.0 88.2h.8M128.4 90.5h.8M140.2 78.8h.8M173.4 79.2h.8M155.7 65.8h.8M181.0 54.3h.8M169.5 53.7h.8M147.2 73.1h.8M152.0 64.1h.8M156.1 66.1h.8M157.8 64.0h.8" stroke="#7890d8" stroke-width=".8" opacity="0.85"/>
<path d="M135.1 89.5h.8M169.5 52.4h.8M136.0 88.6h.8M129.7 79.2h.8M152.8 69.4h.8M152.6 71.6h.8M143.9 79.6h.8M155.9 66.0h.8M153.4 71.7h.8M161.0 88.7h.8M178.2 56.1h.8M127.7 79.9h.8M141.9 90.2h.8M137.6 80.0h.8M143.6 72.8h.8M153.2 81.6h.8M178.8 55.7h.8M143.9 78.5h.8M151.1 71.4h.8M178.2 55.1h.8M153.2 81.5h.8M154.1 86.9h.8M152.8 69.5h.8M148.7 72.3h.8M149.8 64.5h.8M169.4 52.8h.8M151.6 72.0h.8M153.7 88.0h.8M173.9 72.0h.8M175.7 52.9h.8M131.1 78.1h.8M154.7 66.0h.8M152.1 82.8h.8M152.9 82.0h.8M146.2 74.9h.8M123.4 79.5h.8M135.2 79.9h.8" stroke="#7890cc" stroke-width=".8" opacity="0.85"/>
<path d="M162.3 88.8h.8M148.2 73.6h.8" stroke="#7884cc" stroke-width=".8" opacity="0.85"/>
<path d="M145.1 88.3h.8M156.5 83.5h.8M150.0 77.5h.8M150.5 88.4h.8M126.7 80.0h.8M153.2 74.1h.8M175.0 53.1h.8M172.3 75.6h.8M148.4 79.6h.8M157.6 62.2h.8M166.4 86.5h.8M151.2 67.9h.8M151.8 76.2h.8M146.8 79.7h.8M137.0 89.9h.8M154.4 66.2h.8M149.9 80.7h.8M123.2 87.8h.8M151.1 69.5h.8M173.2 77.2h.8M151.1 88.6h.8M148.3 77.6h.8M175.1 70.5h.8M153.2 66.6h.8M151.7 85.1h.8M151.0 74.2h.8M156.3 86.2h.8M171.2 78.4h.8M149.0 78.4h.8M151.4 72.0h.8M150.2 73.7h.8M124.5 80.5h.8M130.6 89.0h.8M151.8 84.2h.8M156.8 84.2h.8M155.1 86.4h.8M168.4 83.1h.8M179.4 55.8h.8M153.6 86.4h.8M147.0 74.4h.8M155.0 70.4h.8M158.8 87.6h.8M174.2 70.1h.8M177.9 54.3h.8M150.4 88.3h.8M170.0 55.5h.8M155.5 74.3h.8M125.7 81.7h.8M164.6 87.2h.8M156.6 85.5h.8M152.5 74.2h.8M142.4 88.7h.8M151.6 81.2h.8M133.8 79.4h.8M140.0 80.9h.8M164.3 86.3h.8M124.7 81.6h.8M155.7 81.7h.8M176.6 52.6h.8M162.8 87.7h.8M148.5 74.1h.8M173.8 68.6h.8M144.7 78.7h.8M151.5 76.9h.8M147.0 76.8h.8M153.3 72.4h.8M176.8 54.4h.8M152.2 73.1h.8M130.9 81.2h.8M130.2 88.5h.8M152.7 67.6h.8M147.5 78.0h.8M155.1 77.9h.8M124.0 83.0h.8M153.6 67.3h.8M123.0 85.2h.8M157.3 71.0h.8M150.6 82.5h.8M173.1 55.4h.8M176.7 56.4h.8M174.3 52.7h.8M172.0 75.5h.8M161.6 61.6h.8M124.7 82.8h.8M122.6 82.7h.8M176.4 59.2h.8M122.9 81.4h.8M146.4 80.7h.8M139.5 89.3h.8M129.2 88.4h.8M153.5 66.6h.8M158.5 87.2h.8M173.0 74.2h.8M146.0 75.3h.8M129.7 89.3h.8M146.9 83.1h.8M132.3 80.7h.8M147.0 78.2h.8M147.7 76.9h.8M164.3 87.5h.8M174.2 55.0h.8M122.7 82.4h.8M125.1 83.5h.8M152.3 85.1h.8M145.5 81.9h.8M150.3 82.6h.8" stroke="#6c84cc" stroke-width=".8" opacity="0.85"/>
<path d="M155.7 86.3h.8M135.8 81.0h.8M135.1 78.2h.8M177.4 58.2h.8M151.0 74.8h.8M123.2 80.4h.8M175.9 60.5h.8M168.3 81.6h.8M137.2 81.1h.8M149.7 75.8h.8M159.4 64.1h.8M157.0 84.1h.8M134.3 81.8h.8M149.3 74.3h.8M148.9 84.6h.8M148.1 89.5h.8M133.8 79.4h.8M133.5 81.0h.8M149.3 79.8h.8M156.6 79.5h.8M172.8 74.0h.8M128.7 82.9h.8M157.5 73.6h.8M141.9 81.4h.8" stroke="#6084cc" stroke-width=".8" opacity="0.85"/>
<path d="M134.3 79.1h.8M172.1 55.4h.8M154.6 85.0h.8M167.6 81.6h.8M170.3 78.5h.8M170.2 54.5h.8M149.3 80.3h.8M156.0 72.5h.8M149.2 85.7h.8M160.2 86.3h.8M134.4 87.7h.8M173.9 57.3h.8M134.9 86.9h.8M148.7 88.1h.8M148.6 77.1h.8M176.8 58.9h.8M146.9 84.5h.8M130.0 81.7h.8M126.2 82.1h.8M152.7 84.6h.8M149.8 87.1h.8M142.9 81.4h.8M177.5 63.1h.8M157.6 77.5h.8M172.0 54.0h.8M166.9 82.9h.8M129.5 87.1h.8M163.9 85.2h.8M157.9 85.5h.8M149.9 85.3h.8M165.5 86.7h.8M151.5 86.7h.8M128.2 88.8h.8M148.5 86.9h.8M163.0 86.6h.8M161.5 85.8h.8M166.6 57.6h.8M159.0 65.7h.8M157.0 71.6h.8M151.0 85.9h.8M176.2 65.0h.8M124.5 85.9h.8M156.7 76.6h.8M124.3 86.8h.8M126.9 86.1h.8M146.2 85.9h.8M128.0 88.8h.8M150.7 86.7h.8M156.8 79.3h.8M174.5 54.2h.8M147.9 74.6h.8M127.0 83.3h.8M177.0 57.9h.8M144.8 87.3h.8M124.6 87.6h.8M127.2 84.5h.8M177.1 64.2h.8M143.9 83.6h.8M164.9 84.9h.8M147.7 83.4h.8M149.6 86.6h.8M147.1 83.3h.8M143.0 80.9h.8M139.7 89.7h.8M144.3 83.5h.8M138.6 81.0h.8M157.1 85.8h.8M148.8 86.0h.8M170.4 54.2h.8M163.0 87.6h.8M174.2 55.2h.8M146.3 85.9h.8M136.7 87.2h.8M122.9 84.8h.8M176.7 61.0h.8M146.6 81.2h.8M141.2 88.8h.8M176.2 64.1h.8M164.1 60.0h.8M176.3 63.8h.8M163.3 58.5h.8M176.8 57.3h.8M148.8 86.3h.8M126.3 86.2h.8M174.6 66.5h.8M176.5 60.7h.8M177.2 56.0h.8M173.6 54.9h.8M177.3 60.4h.8M150.8 86.5h.8M136.8 81.3h.8M158.2 85.6h.8M132.1 87.7h.8M164.1 85.2h.8M177.5 64.8h.8M172.5 55.1h.8M145.1 87.7h.8M122.4 84.6h.8M134.1 80.7h.8M125.6 84.6h.8M133.3 86.0h.8M129.4 84.0h.8M134.8 86.3h.8M166.0 57.9h.8" stroke="#6078cc" stroke-width=".8" opacity="0.85"/>
<path d="M160.0 84.6h.8M175.8 61.8h.8M149.4 83.8h.8M145.8 82.8h.8M133.5 81.1h.8M133.6 81.5h.8M123.7 83.7h.8M131.1 86.4h.8M132.5 83.4h.8M124.7 84.3h.8M123.3 85.6h.8M145.5 86.4h.8M163.7 84.3h.8M160.0 85.2h.8M147.1 87.0h.8M172.1 70.1h.8M164.6 58.8h.8M169.7 76.2h.8M174.6 58.2h.8M162.2 85.0h.8M139.8 88.8h.8M156.8 79.3h.8M174.6 59.5h.8M158.8 84.0h.8M147.2 86.1h.8M133.7 82.4h.8M131.4 85.8h.8M158.3 66.1h.8M146.1 87.2h.8M165.7 83.3h.8M132.5 87.3h.8" stroke="#5478cc" stroke-width=".8" opacity="0.85"/>
<path d="M169.1 80.9h.8M157.5 73.7h.8M140.9 89.9h.8M176.0 60.2h.8M175.2 57.8h.8M156.2 72.3h.8M129.9 85.0h.8M171.3 56.6h.8M163.9 58.6h.8M133.2 85.0h.8M156.5 74.7h.8M162.7 60.2h.8M129.7 83.2h.8M176.4 62.8h.8M174.0 54.9h.8M168.2 57.2h.8M158.6 84.6h.8M174.7 59.5h.8M127.3 86.3h.8M157.2 76.9h.8M125.4 84.2h.8M149.0 85.6h.8M129.7 84.2h.8M130.3 84.3h.8M145.5 85.7h.8M145.9 82.1h.8M142.9 83.4h.8M133.3 83.3h.8M137.4 85.8h.8M147.8 87.5h.8M157.8 83.6h.8M128.2 82.7h.8M126.0 87.8h.8M144.5 87.5h.8M173.3 59.7h.8M174.3 61.8h.8M134.2 82.1h.8M126.1 84.7h.8M173.8 65.2h.8M132.6 80.8h.8M147.3 83.1h.8M146.4 82.2h.8M163.7 85.0h.8M134.9 82.1h.8M171.9 68.2h.8M145.5 82.2h.8M156.4 72.1h.8M132.5 84.7h.8M172.4 69.0h.8M172.0 58.0h.8M142.9 86.2h.8M175.5 56.9h.8M138.4 87.4h.8M171.8 68.0h.8M163.1 61.0h.8M142.6 87.3h.8M130.0 87.0h.8M136.8 82.4h.8M157.5 77.1h.8M173.7 67.3h.8M173.9 62.1h.8M147.9 85.9h.8M170.9 56.3h.8M174.7 58.8h.8M146.4 85.4h.8M143.7 82.3h.8M160.5 63.8h.8M173.4 69.0h.8M135.6 84.0h.8M134.9 84.3h.8M139.2 87.4h.8M160.5 84.1h.8M142.1 85.1h.8M126.8 84.2h.8M164.5 85.9h.8M130.9 85.5h.8M175.0 66.2h.8M129.9 85.1h.8M135.6 83.5h.8M171.9 70.0h.8M138.3 83.9h.8M129.5 87.2h.8" stroke="#546ccc" stroke-width=".8" opacity="0.85"/>
<path d="M130.5 85.7h.8M128.1 85.0h.8M173.7 56.8h.8M173.9 64.9h.8M141.7 84.8h.8M160.3 84.4h.8M156.9 77.0h.8M170.6 56.4h.8M171.6 74.3h.8M172.3 57.7h.8M129.6 84.8h.8M130.5 83.9h.8M174.2 67.9h.8M175.4 62.0h.8M161.5 64.3h.8M128.3 87.7h.8M133.7 82.1h.8M171.5 73.8h.8M126.9 85.3h.8M164.9 58.4h.8M128.4 85.7h.8M128.0 85.6h.8M167.8 58.0h.8M135.9 83.8h.8M132.8 86.4h.8M143.1 85.7h.8M173.3 58.1h.8M175.5 58.6h.8M175.3 61.2h.8M130.8 86.7h.8M160.4 82.8h.8M131.3 86.0h.8M140.4 83.2h.8M141.9 87.0h.8M127.1 84.8h.8M162.1 85.7h.8M141.9 82.5h.8M139.9 87.3h.8M132.2 85.8h.8M160.0 83.4h.8M131.1 86.1h.8M130.6 87.9h.8M169.0 57.5h.8M159.0 70.6h.8M175.3 65.1h.8M129.0 84.3h.8M140.4 88.0h.8M135.6 85.5h.8M163.0 61.8h.8M132.7 85.1h.8M164.1 58.8h.8M162.5 61.2h.8M130.4 83.7h.8M138.0 83.3h.8M161.1 83.8h.8M175.4 66.8h.8M134.8 84.6h.8M174.3 63.1h.8M168.6 56.9h.8M159.2 81.2h.8M173.7 65.6h.8M137.4 82.4h.8M145.0 85.0h.8M129.8 85.6h.8M143.5 85.3h.8M142.4 85.5h.8M161.1 64.7h.8M141.7 87.9h.8M134.3 84.3h.8M168.3 57.5h.8M134.7 84.1h.8M159.3 78.4h.8M172.8 68.7h.8M162.9 82.9h.8M172.8 57.6h.8M142.0 87.7h.8M172.6 67.3h.8M133.9 82.5h.8M172.3 62.0h.8M168.6 79.0h.8M141.3 84.6h.8M141.0 87.8h.8M163.3 84.2h.8M135.3 84.5h.8M136.6 83.7h.8M139.1 85.9h.8M135.6 85.5h.8M172.1 57.6h.8M164.5 82.4h.8M171.6 60.8h.8M162.6 60.1h.8M167.6 58.2h.8M159.5 69.0h.8M137.8 83.5h.8M135.2 84.8h.8M140.8 82.2h.8M134.3 83.4h.8M172.4 66.1h.8M138.7 85.6h.8M158.5 82.5h.8M174.8 62.6h.8M138.3 85.2h.8M167.8 58.3h.8M162.7 60.0h.8M173.5 61.7h.8M143.0 83.3h.8M143.0 84.2h.8M131.8 83.3h.8M158.8 71.9h.8M163.9 83.5h.8M127.7 85.2h.8M159.1 80.1h.8M142.4 82.5h.8M162.1 60.4h.8M170.8 74.2h.8M132.7 82.5h.8M161.1 65.5h.8M159.0 78.7h.8M140.0 86.3h.8M173.3 59.1h.8M161.3 65.6h.8M165.3 83.0h.8M133.1 85.9h.8M137.7 84.1h.8M141.4 87.6h.8M141.1 85.5h.8M169.7 59.6h.8M172.6 63.5h.8M172.5 65.5h.8M142.7 84.7h.8M139.4 87.4h.8M172.3 62.0h.8M133.3 83.7h.8M139.2 85.0h.8M137.8 82.5h.8M128.3 85.6h.8M174.0 62.7h.8M168.1 57.8h.8M138.4 83.7h.8M168.1 76.4h.8M170.9 70.5h.8M132.9 83.9h.8M140.9 84.9h.8M166.1 80.8h.8M169.6 74.0h.8M165.6 59.3h.8M170.8 56.7h.8M161.9 61.1h.8M173.1 58.5h.8M138.6 82.0h.8M175.6 62.6h.8M159.3 78.9h.8M172.6 63.1h.8M170.9 58.4h.8M168.5 76.0h.8M166.1 59.2h.8" stroke="#486ccc" stroke-width=".8" opacity="0.85"/>
<path d="M172.6 58.8h.8M140.1 83.4h.8M160.1 83.2h.8M172.0 66.3h.8M165.9 58.6h.8M159.8 82.9h.8M166.8 80.9h.8M142.5 85.4h.8M132.1 85.9h.8M139.4 86.9h.8M168.1 58.7h.8M166.4 81.1h.8M142.9 84.0h.8M168.1 58.7h.8M140.9 85.7h.8M168.5 78.2h.8M141.4 83.8h.8M159.4 81.1h.8M134.6 84.9h.8M168.1 59.5h.8M173.3 63.8h.8M159.6 81.7h.8M138.7 84.3h.8M166.9 80.2h.8M160.4 66.1h.8M169.9 70.0h.8M164.9 60.9h.8M159.0 81.1h.8M173.2 67.2h.8M166.0 80.4h.8M139.7 86.2h.8M168.7 77.3h.8M163.3 62.4h.8M140.2 85.5h.8M141.0 85.5h.8M158.9 73.9h.8M134.7 84.7h.8M136.0 85.2h.8M157.9 75.0h.8M160.6 82.8h.8M135.9 84.5h.8M167.9 59.8h.8M169.9 68.1h.8M161.4 66.3h.8M170.7 70.8h.8M167.7 76.5h.8M170.7 59.6h.8" stroke="#4878cc" stroke-width=".8" opacity="0.85"/>
<path d="M170.6 71.0h.8M171.2 70.7h.8M172.9 59.9h.8M172.4 64.3h.8M165.4 81.3h.8M171.0 69.8h.8M159.2 71.4h.8M173.3 65.3h.8M138.7 84.9h.8M139.9 85.2h.8M171.2 61.0h.8M141.0 86.7h.8M164.7 80.7h.8M169.3 58.4h.8M139.3 83.7h.8M159.0 70.4h.8M139.8 87.9h.8M166.8 80.3h.8M165.0 82.2h.8M157.7 76.0h.8M166.9 61.8h.8M171.0 58.3h.8M164.8 81.3h.8M169.3 59.7h.8M167.2 58.0h.8M137.9 85.5h.8M164.3 61.9h.8M142.7 85.0h.8M164.9 80.7h.8M139.4 84.5h.8M162.8 62.0h.8M168.6 58.8h.8M159.4 70.1h.8M159.5 78.5h.8M170.4 72.5h.8M162.5 82.1h.8M173.2 61.9h.8M167.6 58.5h.8M142.6 84.6h.8M140.2 84.7h.8M167.0 80.8h.8M166.2 79.3h.8M165.7 81.5h.8M166.4 79.1h.8M173.4 66.9h.8" stroke="#3c78cc" stroke-width=".8" opacity="0.85"/>
<path d="M158.0 70.0h.8M165.9 61.3h.8M159.0 77.6h.8M170.9 69.0h.8M159.8 82.8h.8M169.6 58.3h.8M160.0 82.2h.8M168.5 77.4h.8M172.6 61.8h.8M170.0 69.8h.8M167.5 79.8h.8M164.1 80.8h.8M160.0 80.9h.8M160.1 81.0h.8M171.8 64.9h.8M139.2 84.3h.8M140.1 84.4h.8M140.7 85.8h.8M171.2 61.1h.8M168.7 60.7h.8M162.8 83.3h.8M169.8 66.6h.8M172.1 63.2h.8M171.4 60.5h.8M173.6 63.2h.8M173.3 60.6h.8M173.3 64.0h.8M165.7 80.3h.8M140.2 85.1h.8M170.9 68.6h.8M139.9 86.0h.8M169.3 61.3h.8M166.3 81.0h.8M138.6 85.6h.8M168.5 58.1h.8M140.9 84.5h.8M138.2 85.5h.8M170.0 61.7h.8M163.0 83.3h.8M162.5 63.5h.8M159.5 74.3h.8M171.7 64.4h.8M162.5 65.1h.8M163.0 81.9h.8M139.5 84.3h.8M138.8 85.4h.8M169.7 63.5h.8M167.9 61.9h.8M171.0 62.6h.8M170.5 62.9h.8M163.2 83.2h.8M171.9 66.3h.8M171.8 67.5h.8M164.0 80.0h.8M168.6 75.4h.8M169.2 77.0h.8M166.5 79.8h.8M168.3 75.1h.8M173.2 65.6h.8M167.8 58.9h.8M162.4 80.1h.8M171.7 64.1h.8M170.0 65.1h.8M168.3 74.9h.8M169.3 58.1h.8M170.6 59.5h.8M168.1 59.3h.8M170.8 67.8h.8M166.2 78.8h.8M157.6 75.2h.8M160.3 81.5h.8M172.9 65.0h.8M162.4 80.2h.8M159.0 78.7h.8M162.4 62.8h.8M164.6 61.0h.8M167.8 76.1h.8M169.2 75.9h.8M158.8 77.9h.8M164.8 60.6h.8M171.5 65.2h.8M161.3 68.5h.8M160.3 69.0h.8M170.9 69.4h.8M160.6 81.8h.8M170.9 66.2h.8M169.9 61.5h.8M162.2 65.1h.8" stroke="#3c84cc" stroke-width=".8" opacity="0.85"/>
<path d="M169.6 60.5h.8M170.2 68.3h.8M162.8 65.9h.8M159.4 72.1h.8M168.8 58.7h.8M172.2 64.5h.8M170.4 66.7h.8M169.7 62.7h.8M160.7 68.4h.8M159.6 80.5h.8M163.8 62.6h.8M164.0 63.3h.8M173.0 65.2h.8M164.3 61.7h.8M164.2 63.4h.8M163.4 64.6h.8M167.9 58.4h.8M159.9 81.4h.8M159.4 74.0h.8M168.0 74.2h.8M166.9 61.4h.8M169.7 69.1h.8M166.6 79.2h.8M164.5 81.1h.8M168.1 59.0h.8M169.9 64.8h.8M163.9 81.6h.8M163.7 62.7h.8M170.4 61.2h.8M167.5 79.7h.8M161.6 80.9h.8M165.5 62.3h.8M163.2 63.5h.8M170.6 69.2h.8M166.1 79.3h.8M170.0 68.2h.8M170.0 64.9h.8M165.6 63.7h.8M170.3 62.1h.8M159.6 74.9h.8M172.7 64.1h.8M168.7 72.6h.8M163.2 64.7h.8M170.2 64.6h.8M161.5 78.6h.8M170.0 60.9h.8M168.0 60.4h.8M171.1 62.2h.8M167.9 62.3h.8M167.2 63.6h.8M168.0 72.5h.8M170.2 61.2h.8M165.8 76.2h.8M158.6 76.0h.8M168.0 73.0h.8M171.6 65.6h.8M167.7 72.6h.8M159.1 75.3h.8M168.3 68.7h.8M162.4 80.6h.8M170.0 65.4h.8M161.7 64.0h.8M169.8 64.0h.8M164.3 81.2h.8M169.3 69.8h.8M165.5 80.2h.8M170.2 65.3h.8M163.0 81.5h.8M167.6 71.5h.8M169.6 63.5h.8M164.3 80.2h.8M169.2 72.7h.8M166.0 61.3h.8M159.8 81.8h.8M170.3 64.5h.8M163.9 62.5h.8M159.0 77.3h.8M167.7 75.0h.8M163.9 62.6h.8M170.7 60.9h.8M160.8 80.5h.8M163.6 64.1h.8M168.2 76.0h.8M171.5 63.0h.8M164.8 62.5h.8M161.5 81.1h.8" stroke="#3c90cc" stroke-width=".8" opacity="0.85"/>
<path d="M158.6 75.0h.8M159.4 77.1h.8M165.5 63.8h.8M168.5 71.6h.8M166.4 62.6h.8M163.2 80.7h.8M160.7 79.4h.8M166.2 60.9h.8M167.7 68.7h.8M167.6 73.8h.8M168.9 66.6h.8M165.8 61.9h.8M167.9 73.9h.8M170.4 64.8h.8M168.3 63.3h.8M166.8 76.2h.8M160.2 80.4h.8M159.2 74.4h.8M168.8 61.7h.8M163.0 80.2h.8M167.0 61.3h.8M170.7 61.3h.8M161.5 79.5h.8M169.8 61.0h.8M169.1 66.7h.8M167.2 77.8h.8M160.6 68.3h.8M160.6 69.6h.8M160.8 81.7h.8M169.2 65.2h.8M167.9 72.4h.8M163.7 65.8h.8M165.4 65.8h.8M163.6 79.0h.8M162.6 79.1h.8M166.4 79.4h.8M160.6 79.5h.8M168.9 62.0h.8M169.2 61.1h.8M160.8 78.4h.8M161.5 80.2h.8M159.7 72.5h.8M161.6 76.5h.8M167.0 62.8h.8M160.3 78.6h.8M161.9 80.1h.8M167.8 67.8h.8M163.3 64.1h.8M167.7 70.1h.8M170.9 62.6h.8M168.7 66.2h.8M170.5 63.4h.8M161.5 73.1h.8M161.6 80.4h.8M160.1 71.8h.8M167.8 68.5h.8M170.8 63.0h.8M171.4 63.4h.8M163.5 78.5h.8M161.6 73.6h.8M166.5 76.3h.8M164.2 79.7h.8M168.9 63.9h.8M168.6 75.1h.8M162.2 66.0h.8M167.9 70.9h.8M166.6 63.7h.8M161.5 80.4h.8M162.7 81.4h.8M162.5 65.0h.8M168.4 72.5h.8M165.5 63.5h.8M164.3 78.4h.8M167.8 73.2h.8M166.6 62.3h.8M166.9 63.1h.8M168.8 62.5h.8M170.0 67.4h.8M164.6 78.1h.8M164.9 63.4h.8M164.5 65.3h.8M168.4 64.0h.8M169.2 60.9h.8M168.8 64.1h.8M164.9 62.9h.8M162.4 64.8h.8M168.0 67.7h.8" stroke="#3c9cc0" stroke-width=".8" opacity="0.85"/>
<path d="M162.9 68.0h.8M160.8 77.4h.8M162.0 79.9h.8M163.4 80.4h.8M161.6 76.0h.8M168.0 63.9h.8M161.4 77.8h.8M162.0 81.3h.8M168.1 67.2h.8M161.2 80.3h.8M164.7 63.4h.8M170.2 65.7h.8M168.9 60.3h.8M160.2 70.0h.8M161.2 77.9h.8M166.6 65.7h.8M167.7 67.7h.8M169.0 63.7h.8M168.5 69.6h.8M167.6 62.1h.8M166.1 64.8h.8M159.9 76.1h.8M163.1 65.0h.8M169.1 66.9h.8M164.0 65.2h.8M165.5 62.7h.8M169.1 64.5h.8M162.5 67.2h.8M162.8 65.6h.8M166.7 63.5h.8M169.5 69.1h.8M164.2 78.7h.8M160.4 73.8h.8M167.9 66.7h.8" stroke="#3ca8b4" stroke-width=".8" opacity="0.85"/>
<path d="M161.7 78.8h.8M163.1 67.8h.8M163.4 67.7h.8M160.7 73.7h.8M165.7 64.7h.8M168.6 63.8h.8M166.6 64.5h.8M167.8 71.0h.8M166.2 64.7h.8M161.7 79.3h.8M169.0 66.2h.8M165.1 62.5h.8M170.4 67.9h.8M168.9 63.4h.8M170.7 67.0h.8M165.1 64.2h.8M167.0 76.8h.8M160.8 79.8h.8M167.2 64.8h.8M168.9 72.7h.8M160.7 70.4h.8M161.0 69.2h.8M161.7 78.7h.8M160.4 68.5h.8M168.4 66.5h.8M160.8 79.6h.8M169.2 69.1h.8M161.1 71.1h.8M168.8 65.2h.8M161.4 76.2h.8M167.0 62.3h.8M160.9 76.2h.8M164.9 63.8h.8M170.8 62.6h.8M159.7 74.7h.8M166.9 77.5h.8M167.7 67.6h.8" stroke="#48a8b4" stroke-width=".8" opacity="0.85"/>
<path d="M161.9 66.0h.8M161.3 74.7h.8M169.4 74.9h.8M162.5 80.2h.8M161.7 80.3h.8M162.0 81.6h.8M159.8 71.6h.8M165.8 76.7h.8M160.1 70.8h.8M166.0 62.7h.8M168.3 65.3h.8M167.8 75.3h.8M170.9 63.8h.8M163.8 64.6h.8M163.6 76.4h.8M160.8 70.0h.8M163.3 64.7h.8M169.4 72.0h.8M170.2 62.0h.8M160.8 69.7h.8M160.7 76.3h.8M165.1 78.8h.8M163.9 64.5h.8M168.0 68.9h.8M160.6 77.0h.8M168.0 62.9h.8M165.2 66.0h.8M161.3 74.7h.8M168.9 62.5h.8M167.0 75.8h.8M170.9 65.9h.8M164.6 78.2h.8M160.0 68.9h.8M162.8 81.2h.8M168.0 63.2h.8M170.5 65.4h.8M167.8 64.5h.8M160.1 79.9h.8M161.5 73.1h.8M161.2 75.9h.8M167.9 67.4h.8M163.2 64.8h.8M171.1 64.4h.8M165.8 75.5h.8M161.4 76.0h.8M169.5 64.1h.8M167.9 68.2h.8M169.5 70.8h.8M168.6 63.1h.8M169.7 65.1h.8M161.2 69.4h.8M161.4 76.9h.8M169.4 72.5h.8M164.4 78.1h.8M166.1 67.0h.8M167.2 67.8h.8M168.2 66.8h.8M167.4 62.8h.8M161.5 78.2h.8M159.9 69.7h.8M166.7 67.2h.8M168.4 68.3h.8M164.2 63.5h.8M161.5 74.0h.8M166.4 67.8h.8M166.3 67.7h.8M159.6 76.6h.8M166.7 77.0h.8M165.4 79.8h.8M168.5 63.4h.8M164.9 66.6h.8M164.7 65.2h.8M168.8 65.3h.8M165.5 79.7h.8M161.2 78.4h.8M162.8 79.9h.8M165.2 65.5h.8M167.4 76.5h.8M168.4 65.7h.8M165.6 78.1h.8M160.8 72.6h.8M169.4 62.2h.8M167.7 69.3h.8M164.3 67.5h.8" stroke="#48b4a8" stroke-width=".8" opacity="0.85"/>
<path d="M167.1 62.4h.8M164.0 67.9h.8M166.7 69.5h.8M166.9 64.6h.8M166.8 68.9h.8M160.5 69.3h.8M160.0 75.2h.8M164.1 66.8h.8M164.7 66.9h.8M161.0 76.8h.8M166.2 75.5h.8M168.7 62.9h.8M166.2 77.1h.8M166.9 74.6h.8" stroke="#48b49c" stroke-width=".8" opacity="0.85"/>
<path d="M169.5 63.1h.8M163.9 76.5h.8M160.0 78.5h.8M166.5 64.6h.8M163.2 69.0h.8M166.5 64.3h.8M160.2 78.8h.8M160.5 78.3h.8M161.3 79.8h.8M168.6 69.0h.8M164.0 65.5h.8" stroke="#54b49c" stroke-width=".8" opacity="0.85"/>
<path d="M160.1 75.9h.8M166.1 76.8h.8M161.3 74.7h.8M162.1 77.3h.8M162.4 67.1h.8M165.9 68.7h.8M168.7 65.2h.8M162.2 76.7h.8M160.6 77.0h.8M167.9 62.4h.8M161.9 69.0h.8M161.9 77.0h.8M160.2 76.2h.8M162.3 69.6h.8M166.3 65.4h.8M167.5 77.0h.8M168.2 64.0h.8M160.9 70.2h.8M163.2 78.6h.8M165.0 79.6h.8M168.4 64.6h.8M166.1 64.7h.8M165.6 66.0h.8M161.7 77.7h.8M169.6 70.1h.8M163.9 79.0h.8M162.9 77.2h.8M167.8 67.1h.8M163.1 69.6h.8M168.7 73.4h.8M169.5 64.8h.8" stroke="#54b490" stroke-width=".8" opacity="0.85"/>
<path d="M168.6 70.0h.8M162.2 77.0h.8M162.1 67.2h.8M168.0 69.0h.8M167.8 72.1h.8M166.6 75.7h.8M165.1 66.3h.8M168.3 72.7h.8M160.9 73.4h.8M166.1 62.9h.8M167.9 63.7h.8M161.1 74.5h.8M161.1 78.2h.8M160.5 75.7h.8M168.3 67.5h.8M161.3 77.7h.8M167.1 64.3h.8M163.0 69.2h.8M166.2 76.7h.8M167.2 71.5h.8M161.6 70.2h.8M167.5 69.5h.8M161.1 71.1h.8M162.2 69.3h.8M165.2 78.2h.8M169.0 70.1h.8M165.5 66.8h.8M162.4 69.8h.8M166.5 65.6h.8M165.8 68.2h.8M164.5 64.7h.8M168.1 66.5h.8M163.5 67.6h.8M162.1 69.9h.8M165.9 73.6h.8" stroke="#54b484" stroke-width=".8" opacity="0.85"/>
<path d="M162.8 79.2h.8M167.6 75.6h.8M162.5 78.5h.8M165.3 78.1h.8M165.4 65.1h.8M160.5 71.1h.8M163.1 66.0h.8M161.4 77.3h.8" stroke="#60c084" stroke-width=".8" opacity="0.85"/>
<path d="M169.4 62.5h.8M164.1 65.0h.8M162.4 77.0h.8M165.1 76.4h.8M160.4 70.1h.8M162.7 68.1h.8M168.0 68.3h.8M160.4 76.9h.8M166.1 63.5h.8M165.7 77.9h.8M163.9 78.7h.8M167.4 67.3h.8M160.2 70.9h.8M166.0 65.8h.8M166.7 73.7h.8M167.0 75.8h.8M165.4 64.6h.8M166.9 72.0h.8M163.6 76.8h.8M168.0 71.0h.8M163.1 78.3h.8M167.7 72.7h.8M161.9 66.5h.8M164.5 78.1h.8M164.6 64.5h.8M167.1 74.8h.8M169.3 69.3h.8M165.7 67.7h.8M169.5 64.9h.8M166.0 67.5h.8M166.4 73.8h.8M165.9 71.0h.8M162.9 77.3h.8M166.1 74.2h.8M162.2 69.5h.8M166.5 74.3h.8M166.5 69.4h.8M166.1 70.7h.8M168.9 62.4h.8M160.7 74.9h.8" stroke="#60c078" stroke-width=".8" opacity="0.85"/>
<path d="M166.8 74.8h.8M166.2 72.5h.8M163.3 74.8h.8M167.0 77.7h.8M168.4 70.8h.8M160.8 75.2h.8M168.2 71.6h.8M166.6 65.3h.8M164.9 65.5h.8M166.1 65.6h.8M163.5 68.8h.8M162.6 78.2h.8M163.8 75.0h.8M162.7 68.1h.8M161.8 79.0h.8M161.0 72.6h.8M165.9 74.7h.8M166.8 69.8h.8M159.8 70.0h.8M165.6 62.8h.8M163.2 78.4h.8M166.7 72.9h.8M168.3 64.3h.8M161.8 79.5h.8M160.1 76.1h.8M163.3 67.0h.8M169.5 62.9h.8M167.4 68.8h.8M167.4 71.6h.8M161.0 74.6h.8M162.9 74.9h.8M163.5 77.3h.8M167.8 71.5h.8M169.0 70.1h.8M165.7 63.7h.8M167.2 62.2h.8M163.9 75.6h.8M163.2 69.1h.8M167.0 70.2h.8M167.8 70.7h.8" stroke="#60c06c" stroke-width=".8" opacity="0.85"/>
<path d="M164.8 75.5h.8M164.1 68.9h.8" stroke="#60c060" stroke-width=".8" opacity="0.85"/>
<path d="M164.7 79.8h.8M167.4 67.2h.8M167.8 66.4h.8M165.0 76.5h.8M164.7 69.6h.8M162.8 69.9h.8M167.9 66.8h.8M165.6 68.4h.8M168.7 67.5h.8M163.9 67.8h.8M162.0 66.5h.8M161.5 73.3h.8M162.3 66.3h.8M165.9 74.0h.8M164.2 76.1h.8M162.5 69.1h.8M166.8 65.9h.8M162.9 74.5h.8M165.8 73.8h.8M161.7 68.7h.8M168.1 67.6h.8M166.2 74.8h.8M164.1 76.0h.8M163.8 76.5h.8M169.3 64.2h.8M162.6 78.9h.8M163.8 75.7h.8M160.1 75.0h.8M160.5 74.8h.8M162.2 75.4h.8M169.4 66.9h.8" stroke="#6cc060" stroke-width=".8" opacity="0.85"/>
<path d="M162.5 78.7h.8M164.4 68.0h.8M161.8 69.2h.8M161.5 73.9h.8M168.5 66.6h.8M166.3 68.6h.8M161.6 74.2h.8M166.3 67.6h.8M161.1 77.5h.8M167.1 75.0h.8M163.7 67.2h.8M166.9 68.4h.8M165.3 77.0h.8M169.1 66.7h.8M164.3 64.1h.8M161.9 69.6h.8M165.5 76.8h.8M161.0 72.4h.8M163.0 69.6h.8M159.9 76.5h.8M163.6 77.1h.8M167.5 69.7h.8M162.5 79.6h.8M163.5 78.5h.8M163.2 73.3h.8M161.7 72.4h.8M165.3 69.2h.8M167.2 66.8h.8M160.2 72.9h.8M163.0 74.3h.8M164.2 68.4h.8M165.5 68.2h.8M165.9 64.2h.8M161.8 75.7h.8M168.6 64.6h.8M163.5 72.4h.8M164.4 64.0h.8M163.9 64.9h.8M164.7 69.9h.8" stroke="#6cc054" stroke-width=".8" opacity="0.85"/>
<path d="M164.1 75.0h.8M167.3 71.0h.8M163.9 65.3h.8M166.0 65.4h.8M163.6 74.1h.8M162.4 78.7h.8M167.0 67.7h.8M164.8 75.1h.8" stroke="#6cc048" stroke-width=".8" opacity="0.85"/>
<path d="M165.9 72.9h.8M161.1 74.1h.8M164.7 69.4h.8M165.5 68.2h.8M162.5 69.0h.8M161.6 76.0h.8M164.4 76.3h.8M163.5 72.0h.8M167.9 65.3h.8M166.5 72.6h.8M168.2 65.2h.8M165.7 75.4h.8M163.6 71.8h.8M169.3 64.8h.8M166.4 74.1h.8M167.0 64.7h.8M166.1 74.0h.8M166.7 65.3h.8M162.2 77.6h.8M160.9 74.9h.8M160.6 75.2h.8M166.0 64.2h.8M166.0 67.9h.8M161.7 74.2h.8M162.9 71.6h.8M163.5 69.6h.8M162.0 78.2h.8M167.5 66.6h.8M162.8 69.8h.8M163.1 68.4h.8M162.3 74.5h.8M162.1 76.8h.8M162.2 66.8h.8M162.3 67.5h.8M161.1 72.8h.8M166.9 70.8h.8M165.7 71.2h.8M162.6 77.5h.8M163.9 74.8h.8M165.3 77.2h.8M168.6 65.6h.8M165.6 65.1h.8M166.1 70.4h.8" stroke="#78c048" stroke-width=".8" opacity="0.85"/>
<path d="M159.9 75.7h.8M164.5 66.3h.8M164.8 65.3h.8M163.0 70.3h.8M166.8 72.2h.8M161.7 69.6h.8M164.1 72.0h.8M166.6 73.6h.8M165.8 64.6h.8M165.8 75.1h.8M165.3 65.0h.8M165.2 67.9h.8M166.8 64.3h.8M163.9 70.2h.8M164.9 74.1h.8M167.6 74.0h.8M164.2 69.0h.8M165.8 68.3h.8M167.0 74.6h.8M164.8 75.6h.8M163.7 77.3h.8M166.8 73.0h.8M163.2 71.1h.8M160.1 75.4h.8M163.4 74.4h.8M166.0 70.8h.8M160.2 75.7h.8M162.7 76.7h.8M167.6 75.2h.8M167.0 69.8h.8M160.8 73.3h.8M166.9 73.4h.8M161.8 68.8h.8M162.7 74.3h.8M160.2 74.0h.8M167.1 64.0h.8M163.7 70.6h.8M164.4 68.0h.8M167.3 64.3h.8" stroke="#84c048" stroke-width=".8" opacity="0.85"/>
<path d="M167.3 75.1h.8M163.9 72.1h.8M163.8 71.8h.8M166.4 71.8h.8M163.7 77.5h.8M162.5 72.1h.8M162.4 71.1h.8M163.9 69.5h.8M164.5 70.0h.8M164.5 73.9h.8M163.9 68.8h.8M159.8 75.7h.8M166.8 73.7h.8M163.9 72.0h.8M165.9 64.7h.8M165.6 66.7h.8M166.3 65.9h.8M166.8 73.7h.8M166.7 72.7h.8M160.5 74.2h.8M165.3 77.5h.8M163.0 73.4h.8M163.7 75.2h.8M162.0 70.3h.8M165.3 76.2h.8M165.8 73.2h.8M161.7 76.7h.8M163.7 77.0h.8M165.8 66.7h.8" stroke="#90c048" stroke-width=".8" opacity="0.85"/>
<path d="M165.7 71.3h.8M165.1 74.8h.8M166.8 71.4h.8M165.7 67.3h.8M164.9 72.9h.8M162.6 77.4h.8M165.2 68.8h.8M163.6 71.2h.8M166.3 75.6h.8M162.8 70.1h.8M164.3 71.7h.8M163.8 74.0h.8M165.4 74.0h.8M163.4 70.0h.8M164.5 73.5h.8M166.6 75.0h.8M163.0 75.0h.8M164.5 76.7h.8M162.2 75.6h.8M163.3 77.5h.8M165.9 72.5h.8M166.8 72.2h.8M164.0 70.8h.8" stroke="#9cc03c" stroke-width=".8" opacity="0.85"/>
<path d="M163.3 77.4h.8M163.5 74.4h.8M164.8 69.0h.8M163.8 70.0h.8M166.0 71.1h.8M166.1 72.4h.8M167.4 75.1h.8M163.7 74.0h.8M162.9 68.1h.8M162.1 76.9h.8M164.3 67.9h.8M167.1 68.8h.8" stroke="#a8c03c" stroke-width=".8" opacity="0.85"/>
<path d="M164.9 66.9h.8M161.8 71.2h.8M163.3 75.7h.8M162.5 70.7h.8M164.4 74.2h.8M161.8 73.9h.8M165.4 69.2h.8M163.2 76.9h.8M167.2 74.7h.8M162.2 75.8h.8M162.6 69.9h.8" stroke="#a8cc3c" stroke-width=".8" opacity="0.85"/>
<path d="M165.7 69.8h.8M164.9 69.0h.8M162.0 73.0h.8M165.7 66.5h.8M165.0 71.1h.8M162.2 70.4h.8M164.8 77.0h.8M165.0 69.2h.8M162.3 68.8h.8M162.6 77.3h.8M166.0 69.2h.8M161.8 76.4h.8M166.4 71.2h.8M164.6 69.9h.8M164.1 75.9h.8M164.0 72.4h.8M164.7 72.6h.8M163.6 75.8h.8M167.0 70.5h.8M163.0 70.3h.8M162.5 68.2h.8M163.2 71.6h.8M162.6 77.4h.8M162.1 70.4h.8M163.4 72.3h.8M164.6 73.0h.8M162.7 76.7h.8M165.4 69.0h.8M163.0 76.3h.8M167.5 73.6h.8M163.5 77.2h.8M164.3 74.8h.8M164.7 76.0h.8M164.0 76.8h.8M167.3 72.3h.8M163.1 77.8h.8M164.4 67.5h.8M164.7 76.0h.8M167.2 72.1h.8" stroke="#b4cc3c" stroke-width=".8" opacity="0.85"/>
<path d="M162.6 76.7h.8M166.3 68.1h.8M163.6 72.8h.8M164.1 77.6h.8M165.2 68.1h.8M164.8 75.3h.8M165.5 77.9h.8M164.1 72.5h.8M164.5 66.8h.8M165.2 66.7h.8M166.7 72.6h.8M165.0 66.4h.8M164.7 74.9h.8M161.8 77.5h.8M161.8 68.9h.8M163.7 66.2h.8M162.9 70.5h.8M163.1 77.9h.8M166.3 70.2h.8M166.1 72.8h.8M167.1 73.3h.8M162.3 72.7h.8M165.5 76.8h.8M164.1 75.4h.8M164.9 67.8h.8M164.0 73.2h.8M162.7 77.0h.8M162.4 71.0h.8" stroke="#c0cc3c" stroke-width=".8" opacity="0.85"/>
<path d="M164.3 73.5h.8M162.3 71.7h.8M162.2 70.0h.8M164.0 69.2h.8M162.3 73.6h.8M163.0 72.9h.8M163.5 72.6h.8M166.3 73.7h.8M161.6 77.3h.8M165.6 69.3h.8M162.9 68.9h.8M163.8 70.2h.8M161.8 77.5h.8" stroke="#cccc3c" stroke-width=".8" opacity="0.85"/>
<path d="M164.2 70.9h.8M164.4 68.6h.8M162.8 69.4h.8M165.4 69.8h.8M164.6 72.1h.8M162.0 71.1h.8M166.5 74.0h.8M165.1 69.4h.8M165.7 71.3h.8M166.1 72.0h.8M163.0 72.9h.8M161.7 69.3h.8M163.4 72.2h.8M164.4 73.2h.8M162.4 71.8h.8M166.3 71.0h.8M162.6 70.1h.8M165.1 69.4h.8M162.3 77.6h.8M162.1 75.5h.8M163.3 77.2h.8M162.4 73.7h.8M166.6 71.6h.8M162.6 71.9h.8" stroke="#cccc30" stroke-width=".8" opacity="0.85"/>
<path d="M164.4 74.4h.8M164.7 72.7h.8M162.4 72.4h.8M162.6 69.2h.8M164.4 71.8h.8M163.7 73.5h.8" stroke="#ccc030" stroke-width=".8" opacity="0.85"/>
<path d="M163.1 69.3h.8M165.1 70.5h.8M165.9 72.5h.8M167.3 72.1h.8M163.2 69.0h.8M165.7 71.8h.8M162.1 74.1h.8M164.7 72.4h.8M165.0 73.1h.8M163.0 69.0h.8M166.3 71.4h.8M164.9 71.7h.8M163.9 71.6h.8M162.9 71.7h.8M162.8 75.6h.8M165.7 70.4h.8M162.0 75.5h.8M167.2 70.7h.8M162.0 73.9h.8M166.5 71.6h.8M162.1 75.4h.8M162.2 74.8h.8M163.5 68.5h.8M162.8 71.6h.8M164.2 70.3h.8M162.8 75.2h.8M164.2 71.9h.8M163.5 77.1h.8M165.6 72.4h.8M164.8 70.2h.8M165.0 74.1h.8" stroke="#d8c030" stroke-width=".8" opacity="0.85"/>
<path d="M166.3 71.6h.8M162.4 69.7h.8M163.2 75.1h.8M163.2 68.8h.8M163.3 72.5h.8M163.7 70.7h.8M164.2 68.3h.8M163.1 71.3h.8M166.5 70.7h.8M164.5 72.2h.8M164.1 74.9h.8M162.4 69.3h.8M166.8 72.5h.8M164.1 68.9h.8M164.5 70.8h.8M167.6 72.8h.8M165.4 73.8h.8M162.9 73.9h.8M163.5 73.5h.8" stroke="#d8b430" stroke-width=".8" opacity="0.85"/>
<path d="M162.0 73.9h.8M164.6 70.5h.8M162.6 73.7h.8M162.5 69.5h.8M164.2 75.0h.8M161.9 74.7h.8M163.8 68.8h.8M166.9 70.5h.8M164.1 71.8h.8M164.8 69.3h.8M162.4 71.0h.8" stroke="#e4b430" stroke-width=".8" opacity="0.85"/>
<path d="M165.5 73.9h.8M165.1 69.4h.8M162.0 70.1h.8M166.4 73.8h.8M165.3 72.0h.8M164.4 72.5h.8M166.5 71.7h.8M162.1 74.8h.8M165.9 73.4h.8M163.8 70.9h.8M163.1 72.7h.8M162.7 70.0h.8M164.6 68.8h.8M163.2 72.8h.8M161.8 72.5h.8M167.0 71.0h.8M162.6 74.2h.8M163.0 74.7h.8M163.0 73.7h.8M164.2 70.9h.8M162.4 75.6h.8M163.6 75.0h.8M164.8 68.7h.8" stroke="#e4a830" stroke-width=".8" opacity="0.85"/>
<path d="M163.6 69.9h.8M165.2 69.0h.8M164.2 69.6h.8M165.5 72.0h.8M164.0 75.8h.8M164.7 69.3h.8M165.2 72.7h.8M162.4 72.6h.8M163.2 72.5h.8M163.6 70.1h.8M162.3 70.3h.8M164.6 69.8h.8M165.5 69.5h.8M165.3 73.2h.8" stroke="#e49c30" stroke-width=".8" opacity="0.85"/>
<path d="M162.7 70.0h.8M161.8 73.5h.8M164.7 70.2h.8M164.0 71.6h.8M163.9 68.6h.8M162.0 75.4h.8M165.1 71.3h.8M164.9 75.9h.8M163.1 71.1h.8M163.6 72.9h.8M165.1 73.5h.8M165.6 74.0h.8M163.4 71.6h.8M161.9 74.9h.8M162.6 74.6h.8M164.5 73.7h.8M163.9 70.7h.8M164.4 73.0h.8M162.1 75.1h.8M164.1 72.3h.8M165.2 73.8h.8M161.9 75.5h.8M161.6 72.3h.8" stroke="#e49024" stroke-width=".8" opacity="0.85"/>
<path d="M163.7 69.1h.8M164.4 69.1h.8M161.9 73.1h.8M163.1 71.8h.8M164.4 74.7h.8M164.8 73.5h.8M163.8 68.5h.8M162.4 76.0h.8M163.5 74.4h.8M163.7 75.9h.8M163.6 76.0h.8M162.2 73.1h.8M164.7 74.7h.8M164.9 68.9h.8M164.5 73.9h.8M165.3 72.0h.8M163.7 73.1h.8M165.0 71.0h.8M162.3 73.7h.8M161.8 73.0h.8M165.5 73.3h.8M164.9 71.2h.8M164.3 73.3h.8M162.2 72.1h.8M164.4 70.7h.8M162.1 72.9h.8M165.2 70.4h.8M164.5 72.2h.8M164.6 70.1h.8M162.5 73.0h.8M165.0 70.5h.8M165.5 73.5h.8M162.4 73.8h.8M161.9 73.5h.8M164.3 71.9h.8M164.5 70.8h.8M164.5 71.5h.8M164.5 73.8h.8M165.3 72.3h.8M163.7 70.8h.8M164.3 73.7h.8M164.3 73.4h.8M164.5 70.1h.8M164.1 72.9h.8" stroke="#e48424" stroke-width=".8" opacity="0.85"/>
<rect x="121.6" y="34.0" width="77.2" height="76.6" fill="none" stroke="#2a2a2a" stroke-width="1.1"/>
<line x1="119.6" y1="38.3" x2="121.6" y2="38.3" stroke="#444" stroke-width="0.8"/>
<line x1="119.6" y1="57.4" x2="121.6" y2="57.4" stroke="#444" stroke-width="0.8"/>
<line x1="119.6" y1="79.4" x2="121.6" y2="79.4" stroke="#444" stroke-width="0.8"/>
<line x1="119.6" y1="92.2" x2="121.6" y2="92.2" stroke="#444" stroke-width="0.8"/>
<line x1="119.6" y1="105.5" x2="121.6" y2="105.5" stroke="#444" stroke-width="0.8"/>
<line x1="120.4" y1="40.5" x2="121.6" y2="40.5" stroke="#777" stroke-width="0.5"/>
<line x1="120.4" y1="42.5" x2="121.6" y2="42.5" stroke="#777" stroke-width="0.5"/>
<line x1="120.4" y1="44.6" x2="121.6" y2="44.6" stroke="#777" stroke-width="0.5"/>
<line x1="120.4" y1="47.0" x2="121.6" y2="47.0" stroke="#777" stroke-width="0.5"/>
<line x1="120.4" y1="51.0" x2="121.6" y2="51.0" stroke="#777" stroke-width="0.5"/>
<line x1="120.4" y1="59.5" x2="121.6" y2="59.5" stroke="#777" stroke-width="0.5"/>
<line x1="120.4" y1="61.5" x2="121.6" y2="61.5" stroke="#777" stroke-width="0.5"/>
<line x1="120.4" y1="63.5" x2="121.6" y2="63.5" stroke="#777" stroke-width="0.5"/>
<line x1="120.4" y1="66.0" x2="121.6" y2="66.0" stroke="#777" stroke-width="0.5"/>
<line x1="120.4" y1="70.0" x2="121.6" y2="70.0" stroke="#777" stroke-width="0.5"/>
<line x1="120.4" y1="82.0" x2="121.6" y2="82.0" stroke="#777" stroke-width="0.5"/>
<line x1="120.4" y1="85.0" x2="121.6" y2="85.0" stroke="#777" stroke-width="0.5"/>
<line x1="120.4" y1="88.0" x2="121.6" y2="88.0" stroke="#777" stroke-width="0.5"/>
<line x1="120.4" y1="95.0" x2="121.6" y2="95.0" stroke="#777" stroke-width="0.5"/>
<line x1="120.4" y1="98.0" x2="121.6" y2="98.0" stroke="#777" stroke-width="0.5"/>
<line x1="120.4" y1="101.0" x2="121.6" y2="101.0" stroke="#777" stroke-width="0.5"/>
<line x1="120.4" y1="103.0" x2="121.6" y2="103.0" stroke="#777" stroke-width="0.5"/>
<line x1="124.9" y1="110.6" x2="124.9" y2="112.6" stroke="#444" stroke-width="0.8"/>
<line x1="139.0" y1="110.6" x2="139.0" y2="112.6" stroke="#444" stroke-width="0.8"/>
<line x1="153.6" y1="110.6" x2="153.6" y2="112.6" stroke="#444" stroke-width="0.8"/>
<line x1="173.6" y1="110.6" x2="173.6" y2="112.6" stroke="#444" stroke-width="0.8"/>
<line x1="191.6" y1="110.6" x2="191.6" y2="112.6" stroke="#444" stroke-width="0.8"/>
<line x1="128.4" y1="110.6" x2="128.4" y2="111.8" stroke="#777" stroke-width="0.5"/>
<line x1="131.4" y1="110.6" x2="131.4" y2="111.8" stroke="#777" stroke-width="0.5"/>
<line x1="134.4" y1="110.6" x2="134.4" y2="111.8" stroke="#777" stroke-width="0.5"/>
<line x1="142.4" y1="110.6" x2="142.4" y2="111.8" stroke="#777" stroke-width="0.5"/>
<line x1="146.4" y1="110.6" x2="146.4" y2="111.8" stroke="#777" stroke-width="0.5"/>
<line x1="149.4" y1="110.6" x2="149.4" y2="111.8" stroke="#777" stroke-width="0.5"/>
<line x1="157.4" y1="110.6" x2="157.4" y2="111.8" stroke="#777" stroke-width="0.5"/>
<line x1="160.4" y1="110.6" x2="160.4" y2="111.8" stroke="#777" stroke-width="0.5"/>
<line x1="163.4" y1="110.6" x2="163.4" y2="111.8" stroke="#777" stroke-width="0.5"/>
<line x1="166.4" y1="110.6" x2="166.4" y2="111.8" stroke="#777" stroke-width="0.5"/>
<line x1="169.4" y1="110.6" x2="169.4" y2="111.8" stroke="#777" stroke-width="0.5"/>
<line x1="177.4" y1="110.6" x2="177.4" y2="111.8" stroke="#777" stroke-width="0.5"/>
<line x1="180.4" y1="110.6" x2="180.4" y2="111.8" stroke="#777" stroke-width="0.5"/>
<line x1="183.4" y1="110.6" x2="183.4" y2="111.8" stroke="#777" stroke-width="0.5"/>
<line x1="186.4" y1="110.6" x2="186.4" y2="111.8" stroke="#777" stroke-width="0.5"/>
<line x1="188.4" y1="110.6" x2="188.4" y2="111.8" stroke="#777" stroke-width="0.5"/>
<circle cx="139.0" cy="111.6" r="1.3" fill="#222"/>
<circle cx="121.6" cy="92.2" r="1.1" fill="#222"/>
<rect x="121.6" y="74.1" width="32.9" height="18.4" fill="none" stroke="#2a2a2a" stroke-width="1.1"/>
<rect x="155.3" y="55.3" width="26.4" height="29.2" fill="none" stroke="#2a2a2a" stroke-width="1.1"/>
<text x="126.5" y="73.3" font-size="10" stroke="#1a1a1a" stroke-width="0.22">12%</text>
<text x="168.5" y="54.2" font-size="10" text-anchor="middle" stroke="#1a1a1a" stroke-width="0.22">81%</text>
<text x="245.0" y="31.5" font-size="9.9" text-anchor="middle" stroke="#1a1a1a" stroke-width="0.22">5 µM hltln1</text>
<path d="M263.4 45.4h.8M248.8 43.5h.8M256.5 40.5h.8M254.5 47.5h.8M273.7 75.7h.8M259.8 87.1h.8M272.3 41.8h.8M240.1 53.7h.8M238.5 92.5h.8M278.1 62.9h.8M259.4 93.6h.8M208.6 77.2h.8M242.1 93.3h.8M242.2 54.5h.8M278.0 66.0h.8M258.9 84.3h.8M269.7 78.3h.8M230.1 65.8h.8M239.0 63.8h.8M270.8 74.0h.8" stroke="#849cd8" stroke-width=".8" opacity="0.85"/>
<path d="M232.8 62.2h.8M261.8 72.3h.8M268.8 48.6h.8M223.6 73.5h.8M270.1 51.0h.8M266.7 77.2h.8M255.0 50.5h.8M226.2 92.4h.8M221.2 72.5h.8M268.5 64.4h.8M213.9 75.8h.8M266.0 75.1h.8M262.4 79.7h.8M232.0 66.9h.8M265.9 68.8h.8M256.7 85.5h.8M234.5 91.9h.8" stroke="#8490d8" stroke-width=".8" opacity="0.85"/>
<path d="M260.1 78.7h.8M221.5 72.3h.8M221.9 77.7h.8M213.9 76.9h.8M244.3 90.0h.8M247.7 89.8h.8M268.4 56.5h.8M209.8 89.2h.8M237.7 76.6h.8M211.5 81.9h.8M231.0 70.0h.8M232.7 75.7h.8M231.9 68.8h.8M231.1 72.1h.8M268.5 52.5h.8M266.9 65.3h.8M252.2 53.5h.8M214.4 78.2h.8M233.5 91.6h.8M219.7 79.6h.8M238.1 89.7h.8M233.2 76.1h.8M209.8 90.0h.8M227.4 90.6h.8M235.0 65.8h.8M220.1 90.7h.8M239.0 74.1h.8M208.6 81.1h.8M229.3 75.5h.8M219.0 91.1h.8M232.7 70.8h.8M228.0 77.5h.8M209.6 86.8h.8M223.8 74.0h.8M226.7 75.9h.8M240.0 64.2h.8M243.1 88.8h.8M266.0 50.2h.8M238.2 66.9h.8M222.3 90.8h.8M229.8 90.8h.8M258.5 77.9h.8M225.6 74.9h.8M266.5 64.2h.8M237.0 72.7h.8M214.0 80.5h.8M235.6 64.8h.8M220.9 78.9h.8M236.1 70.7h.8M236.0 78.0h.8M255.5 82.7h.8M236.3 68.5h.8M264.9 67.0h.8M237.4 67.6h.8M235.8 88.3h.8M226.6 78.3h.8M237.1 67.7h.8M234.2 74.4h.8M237.5 80.4h.8M210.4 84.7h.8M265.5 51.9h.8M240.7 88.9h.8M266.9 54.9h.8M240.3 87.5h.8M236.1 76.5h.8" stroke="#7890d8" stroke-width=".8" opacity="0.85"/>
<path d="M261.3 50.8h.8M237.0 89.9h.8M234.9 75.5h.8M255.7 53.8h.8M236.8 75.9h.8M266.5 60.6h.8M250.6 55.5h.8M238.3 72.7h.8M211.4 84.0h.8M232.2 80.0h.8M240.7 81.8h.8M264.8 50.8h.8M250.5 55.9h.8M244.1 90.0h.8M238.1 85.2h.8M237.2 71.6h.8M260.3 51.0h.8M223.8 79.7h.8M237.4 88.4h.8M240.5 68.1h.8M243.3 88.9h.8M235.8 70.3h.8M240.9 74.4h.8M228.3 89.4h.8M212.7 82.7h.8M263.8 52.1h.8M230.6 78.4h.8M212.5 80.7h.8M240.4 84.8h.8M241.5 84.9h.8M265.8 53.7h.8" stroke="#7890cc" stroke-width=".8" opacity="0.85"/>
<path d="M236.0 68.2h.8M241.9 86.4h.8M236.0 81.3h.8M213.3 84.8h.8M252.7 85.3h.8M237.8 71.0h.8" stroke="#7884cc" stroke-width=".8" opacity="0.85"/>
<path d="M266.9 60.1h.8M231.9 78.6h.8M210.0 83.4h.8M235.8 80.0h.8M245.1 86.7h.8M263.0 69.2h.8M241.4 68.5h.8M242.8 65.1h.8M223.6 78.7h.8M239.7 83.8h.8M237.2 84.3h.8M221.5 89.2h.8M224.5 89.0h.8M211.9 84.6h.8M216.4 80.5h.8M231.9 88.9h.8M237.3 85.5h.8M235.6 80.2h.8M228.6 80.9h.8M263.8 63.8h.8M224.3 88.1h.8M223.7 78.9h.8M255.6 55.4h.8M215.1 86.2h.8M225.1 80.1h.8M235.0 82.6h.8M239.9 71.8h.8M265.3 61.8h.8M266.3 57.7h.8M216.3 88.4h.8M234.0 86.8h.8M232.1 86.9h.8M262.1 68.5h.8M235.1 83.5h.8M221.3 88.7h.8M256.6 53.5h.8M229.9 78.2h.8M232.9 81.4h.8M233.6 85.4h.8M230.3 82.0h.8M232.9 79.3h.8M248.8 86.6h.8M231.7 84.1h.8M240.7 86.1h.8M230.2 88.7h.8M231.9 84.4h.8M237.5 86.0h.8M214.0 87.2h.8M263.0 52.5h.8M236.8 85.5h.8M264.9 57.4h.8M230.5 88.4h.8M226.4 88.8h.8M227.0 81.2h.8M217.7 80.2h.8M231.2 81.5h.8M230.3 81.0h.8M244.6 86.9h.8M265.2 59.9h.8M226.6 81.9h.8M241.2 84.1h.8M261.5 68.5h.8M264.0 54.0h.8M264.3 62.6h.8M264.6 54.6h.8M265.3 53.0h.8M239.6 85.9h.8M213.1 83.6h.8M241.1 84.2h.8M233.6 83.4h.8M229.4 81.4h.8M226.6 88.6h.8M245.5 85.2h.8M247.5 59.6h.8M246.8 59.5h.8M231.7 85.8h.8M233.9 85.3h.8M255.8 78.4h.8M245.0 63.5h.8M218.2 89.9h.8M263.3 54.3h.8M251.2 57.7h.8M254.4 55.9h.8M218.2 81.7h.8M260.9 52.9h.8M214.9 86.3h.8M234.1 82.5h.8M257.2 79.3h.8M217.1 84.8h.8M242.4 66.1h.8M234.0 87.0h.8M261.9 53.5h.8M262.1 67.6h.8M234.7 83.6h.8M228.7 85.1h.8M243.9 85.2h.8M213.9 84.7h.8M212.3 84.9h.8M214.3 83.3h.8M258.2 52.3h.8M251.7 84.0h.8M216.6 83.2h.8M228.8 83.5h.8M258.1 55.2h.8M262.4 64.0h.8M260.9 54.1h.8" stroke="#6c84cc" stroke-width=".8" opacity="0.85"/>
<path d="M222.5 81.8h.8M227.6 84.4h.8M229.4 85.6h.8M245.7 60.1h.8M263.8 59.9h.8M221.1 88.2h.8M257.7 53.2h.8M255.9 79.2h.8M249.0 59.5h.8M263.2 66.1h.8M242.6 68.4h.8M233.2 87.0h.8M258.0 53.0h.8M249.6 59.6h.8M219.2 89.9h.8M227.7 87.1h.8" stroke="#6084cc" stroke-width=".8" opacity="0.85"/>
<path d="M263.8 54.5h.8M258.5 55.6h.8M233.0 86.6h.8M214.7 86.1h.8M261.4 69.4h.8M243.4 66.2h.8M260.8 68.8h.8M218.6 89.2h.8M228.6 84.8h.8M234.5 87.5h.8M215.9 87.5h.8M263.4 67.6h.8M242.4 80.9h.8M229.4 87.6h.8M215.1 83.7h.8M224.3 88.8h.8M217.2 87.2h.8M213.9 87.6h.8M226.2 87.7h.8M227.0 83.9h.8M216.6 83.8h.8M257.2 55.4h.8M234.7 83.2h.8M263.9 55.6h.8M227.6 85.9h.8M257.4 76.5h.8M234.7 84.7h.8M254.2 78.6h.8M264.5 55.6h.8M224.9 86.7h.8M225.5 82.6h.8M228.4 86.7h.8M252.9 82.8h.8M243.6 64.4h.8M233.4 86.8h.8M242.3 66.3h.8M250.3 58.0h.8M229.6 84.1h.8M242.8 82.1h.8M224.5 83.5h.8M241.8 71.7h.8M264.8 60.3h.8M252.6 56.6h.8M232.7 87.1h.8M226.4 87.0h.8M248.0 84.5h.8M242.2 80.5h.8M226.3 86.5h.8M217.1 83.8h.8M265.4 57.0h.8M223.5 83.4h.8M243.2 67.1h.8M217.6 85.3h.8M254.0 79.3h.8M258.0 54.6h.8M248.5 84.7h.8M227.5 82.0h.8M223.0 82.4h.8M227.1 87.2h.8M216.7 85.8h.8M222.7 87.2h.8M218.5 86.0h.8M246.8 85.0h.8M256.2 58.0h.8M214.8 85.0h.8M254.0 56.1h.8M220.2 83.3h.8M247.3 60.3h.8M219.2 84.5h.8M247.3 84.2h.8M220.4 85.8h.8M216.5 87.9h.8M262.1 66.5h.8M247.5 84.2h.8M263.1 56.7h.8M215.4 85.4h.8M243.6 74.7h.8M222.5 86.7h.8M262.1 59.2h.8M220.4 87.1h.8M264.0 57.4h.8M245.5 82.3h.8" stroke="#6078cc" stroke-width=".8" opacity="0.85"/>
<path d="M224.3 83.9h.8M252.9 57.8h.8M249.5 85.5h.8M247.6 85.6h.8M223.3 84.9h.8M255.0 56.9h.8M265.1 57.3h.8M261.0 67.8h.8M218.0 83.6h.8M226.3 87.1h.8M219.7 83.2h.8M225.3 85.3h.8M218.0 86.2h.8M252.1 82.3h.8M244.6 82.7h.8M221.4 86.4h.8M250.8 59.8h.8M245.9 62.6h.8M259.7 54.4h.8M252.2 59.4h.8M242.9 74.9h.8M218.7 86.4h.8M218.3 85.0h.8M220.2 83.1h.8M224.3 86.1h.8" stroke="#5478cc" stroke-width=".8" opacity="0.85"/>
<path d="M226.3 87.7h.8M261.9 62.0h.8M222.9 85.0h.8M251.6 80.4h.8M262.2 56.1h.8M224.8 82.9h.8M243.4 72.1h.8M262.4 61.6h.8M250.0 59.7h.8M247.1 61.6h.8M225.3 83.3h.8M253.7 79.5h.8M258.5 57.8h.8M258.4 70.4h.8M226.1 86.3h.8M256.8 75.1h.8M250.7 58.7h.8M226.1 85.3h.8M221.9 85.5h.8M221.6 86.1h.8M261.4 57.3h.8M220.0 82.0h.8M260.3 57.8h.8M221.7 87.6h.8M252.8 59.1h.8M247.6 58.3h.8M249.4 59.7h.8M223.3 84.7h.8M221.4 84.5h.8M250.8 58.6h.8M260.8 57.8h.8M247.7 85.9h.8M258.1 56.0h.8M219.2 85.7h.8M218.4 87.6h.8M221.5 85.0h.8M260.4 57.5h.8M254.0 79.9h.8M255.2 58.4h.8M219.3 84.5h.8M219.2 85.2h.8M222.0 86.8h.8M243.6 80.4h.8M261.6 58.3h.8M254.3 57.2h.8M224.9 87.4h.8M220.3 82.9h.8M247.1 62.4h.8M247.0 82.5h.8" stroke="#546ccc" stroke-width=".8" opacity="0.85"/>
<path d="M261.8 63.3h.8M258.6 55.3h.8M242.0 74.1h.8M260.0 66.7h.8M222.5 83.0h.8M245.3 83.2h.8M255.6 56.9h.8M255.0 59.8h.8M263.4 62.1h.8M221.4 82.7h.8M221.7 82.1h.8M220.0 83.7h.8M225.3 83.7h.8M225.2 83.7h.8M262.0 58.9h.8M247.6 60.0h.8M222.3 84.4h.8M247.1 83.7h.8M258.7 67.0h.8M261.1 59.1h.8M258.5 66.6h.8M244.9 80.3h.8M251.2 59.8h.8M244.5 82.3h.8M245.7 84.2h.8M224.3 84.3h.8M261.7 61.9h.8M259.4 69.4h.8M247.3 82.1h.8M221.2 83.3h.8M258.7 68.4h.8M248.6 85.6h.8M249.0 61.8h.8M261.4 57.9h.8M246.0 63.0h.8M243.6 79.8h.8M254.1 78.0h.8M243.0 79.9h.8M243.0 77.9h.8M223.6 82.9h.8M245.4 66.2h.8M262.7 58.8h.8M223.2 85.0h.8M262.3 61.5h.8M253.9 79.9h.8M260.6 59.7h.8M259.9 56.7h.8M245.5 82.4h.8M248.9 82.9h.8M255.7 70.0h.8M247.7 83.1h.8M243.4 78.3h.8M243.8 67.9h.8M254.4 59.2h.8M242.4 77.7h.8M249.6 60.2h.8M255.3 59.0h.8M243.4 79.2h.8M260.4 61.0h.8M220.8 85.6h.8M261.7 60.0h.8M245.9 64.0h.8M261.6 67.6h.8M257.9 59.6h.8M257.3 57.4h.8M257.8 68.0h.8M260.7 62.2h.8M257.2 58.0h.8M253.0 81.5h.8M260.3 62.1h.8M260.9 65.4h.8M260.7 65.6h.8M247.8 83.6h.8M241.8 78.5h.8M256.3 59.9h.8M244.5 80.7h.8M258.3 67.3h.8M245.7 83.2h.8M245.2 69.6h.8M245.5 81.5h.8M250.2 83.4h.8M245.0 67.1h.8M260.9 61.2h.8M249.2 82.3h.8M250.2 82.1h.8M246.5 63.2h.8M247.6 61.2h.8M258.0 59.1h.8M248.6 62.9h.8M249.5 83.7h.8" stroke="#486ccc" stroke-width=".8" opacity="0.85"/>
<path d="M260.0 57.1h.8M256.0 58.6h.8M244.8 81.9h.8M256.6 73.8h.8M260.6 63.8h.8M255.1 76.6h.8M245.6 63.8h.8M258.3 58.1h.8M260.6 60.9h.8M254.9 58.5h.8M259.0 57.8h.8M261.4 65.0h.8M260.0 60.2h.8M261.4 60.3h.8M250.7 61.4h.8M259.6 63.0h.8M250.4 82.9h.8M245.5 80.0h.8M251.0 62.0h.8M243.9 78.1h.8M261.4 59.9h.8M257.7 64.4h.8M259.3 56.6h.8M253.0 58.6h.8M257.7 66.3h.8M260.3 61.3h.8M250.8 60.8h.8M251.0 82.4h.8M257.8 57.2h.8M248.9 61.8h.8M245.6 82.5h.8M255.8 71.9h.8M258.8 57.3h.8M258.2 62.0h.8M258.9 65.8h.8M258.8 65.4h.8M245.4 69.7h.8M255.6 60.9h.8M256.2 69.1h.8M257.0 71.2h.8M248.0 61.8h.8M248.6 62.8h.8M259.9 62.3h.8M251.5 83.2h.8M261.5 64.5h.8M254.1 58.4h.8M255.3 77.9h.8M259.7 62.2h.8M256.4 59.1h.8M244.5 81.3h.8" stroke="#4878cc" stroke-width=".8" opacity="0.85"/>
<path d="M251.2 60.6h.8M249.1 62.4h.8M249.6 60.6h.8M246.5 81.6h.8M257.3 67.2h.8M259.1 67.3h.8M260.3 65.4h.8M249.7 82.0h.8M246.0 65.1h.8M258.3 59.0h.8M243.8 80.3h.8M259.9 65.4h.8M251.5 83.7h.8M245.5 79.8h.8M256.0 59.2h.8M250.0 81.6h.8M260.6 61.1h.8M247.0 65.9h.8M249.2 82.5h.8M259.4 66.4h.8M258.8 64.8h.8M259.7 62.2h.8M256.6 67.9h.8M244.6 79.6h.8M259.2 62.9h.8M260.0 64.4h.8M253.7 61.7h.8M261.6 58.9h.8M257.7 63.4h.8M258.0 61.6h.8M259.4 63.1h.8M244.5 77.6h.8M256.6 61.6h.8M253.7 77.4h.8M260.0 61.2h.8M261.0 62.0h.8M252.5 79.5h.8M251.8 61.4h.8M257.5 62.9h.8M258.8 67.0h.8M245.5 76.3h.8M244.5 76.0h.8M244.4 76.7h.8M258.9 66.9h.8" stroke="#3c78cc" stroke-width=".8" opacity="0.85"/>
<path d="M249.1 62.9h.8M256.9 61.0h.8M247.9 83.2h.8M244.4 77.6h.8M248.4 81.2h.8M256.8 69.4h.8M257.1 59.7h.8M244.1 80.3h.8M245.8 81.9h.8M254.6 61.8h.8M254.1 62.5h.8M261.3 59.0h.8M257.6 59.2h.8M256.7 60.4h.8M250.6 81.1h.8M260.8 61.8h.8M256.0 70.2h.8M249.0 80.8h.8M257.3 70.2h.8M256.1 61.1h.8M249.5 80.8h.8M251.1 80.4h.8M255.5 61.9h.8M243.8 80.8h.8M251.2 64.0h.8M247.0 64.6h.8M257.8 60.9h.8M252.6 60.1h.8M259.2 61.9h.8M259.7 63.0h.8M245.4 81.3h.8M246.7 80.3h.8M258.4 58.9h.8M253.3 63.5h.8M247.9 82.3h.8M257.3 63.4h.8M259.6 60.6h.8M260.0 58.3h.8M259.0 62.7h.8M253.9 74.8h.8M256.2 63.9h.8M249.2 64.0h.8M257.6 68.4h.8M256.3 65.0h.8M256.1 63.6h.8M255.7 68.8h.8M253.8 74.6h.8M245.0 70.9h.8M248.2 80.1h.8M259.4 58.8h.8M253.6 77.6h.8M257.4 63.2h.8M250.9 60.2h.8M249.1 83.6h.8M246.1 66.4h.8M255.6 70.0h.8M252.4 60.6h.8M244.7 78.1h.8M256.3 63.6h.8M245.1 70.8h.8M255.4 62.8h.8M256.1 60.1h.8M257.2 64.3h.8M253.9 72.1h.8M250.8 81.5h.8M256.8 63.7h.8M253.7 74.1h.8M256.3 66.3h.8M255.8 64.0h.8M253.3 63.6h.8M250.6 62.6h.8M245.7 66.7h.8M256.0 67.8h.8M244.3 76.7h.8M257.3 64.5h.8M256.1 71.3h.8M253.0 61.8h.8M252.8 60.4h.8M258.4 58.9h.8M251.0 63.1h.8M252.4 80.0h.8M256.6 61.6h.8M254.0 72.6h.8M260.2 61.2h.8M258.7 59.9h.8M260.4 63.5h.8M257.9 63.6h.8M245.6 77.0h.8M245.5 77.0h.8M253.5 61.4h.8M257.7 58.6h.8M254.0 60.4h.8M245.5 74.9h.8M251.5 62.0h.8M249.7 60.3h.8M258.2 64.8h.8M257.4 66.6h.8M257.0 71.3h.8M250.5 61.5h.8M259.5 58.9h.8M254.2 61.2h.8M252.1 63.4h.8M243.8 69.1h.8M245.2 72.0h.8M252.0 79.0h.8M258.4 62.8h.8M252.3 60.2h.8M253.6 77.6h.8M256.1 68.9h.8M246.9 65.6h.8M248.5 80.8h.8M256.1 64.0h.8" stroke="#3c84cc" stroke-width=".8" opacity="0.85"/>
<path d="M245.7 67.6h.8M246.4 78.7h.8M250.3 60.8h.8M249.4 81.8h.8M258.6 63.5h.8M255.7 63.1h.8M260.6 62.8h.8M247.8 64.6h.8M247.5 64.9h.8M259.7 62.9h.8M258.2 63.8h.8M256.7 65.5h.8M244.1 75.2h.8M245.6 76.1h.8M249.6 60.9h.8M252.3 61.8h.8M244.8 69.5h.8M248.9 81.8h.8M248.7 63.1h.8M245.7 79.8h.8M243.6 79.9h.8M246.9 79.0h.8M244.0 69.0h.8M247.7 80.1h.8M252.2 63.9h.8M253.4 77.3h.8M259.4 64.2h.8M249.6 81.0h.8M246.6 66.7h.8M245.3 73.2h.8M254.1 72.7h.8M252.6 63.4h.8M244.9 74.0h.8M247.6 81.5h.8M246.9 67.6h.8M255.0 74.5h.8M255.1 70.6h.8M253.9 70.1h.8M252.4 62.5h.8M244.4 71.5h.8M255.8 63.0h.8M247.4 79.0h.8M255.7 60.8h.8M247.8 80.7h.8M250.7 81.9h.8M253.7 74.1h.8M255.6 64.3h.8M252.5 79.8h.8M254.6 71.7h.8M252.8 63.5h.8M253.1 63.7h.8M256.5 62.2h.8M246.2 67.3h.8M259.1 60.9h.8M246.6 81.6h.8M254.9 63.4h.8M249.2 63.5h.8M255.3 60.9h.8M250.0 79.6h.8M252.2 61.4h.8M256.8 69.4h.8M247.8 64.8h.8M252.6 61.4h.8M257.1 64.4h.8M244.8 71.4h.8M256.8 60.5h.8M257.6 61.2h.8M252.3 63.0h.8M257.3 67.7h.8M256.1 63.1h.8M259.0 63.2h.8M258.3 60.3h.8M254.1 60.9h.8M245.1 72.0h.8M258.4 61.9h.8M254.8 75.0h.8M257.3 67.7h.8M245.3 79.4h.8M254.4 70.6h.8M244.1 73.0h.8M256.2 67.0h.8M256.8 60.0h.8M257.6 68.6h.8M254.1 64.3h.8M255.5 70.0h.8M256.3 61.5h.8M256.2 65.1h.8M255.7 68.1h.8M251.3 79.4h.8M243.6 79.6h.8M255.1 66.9h.8M250.4 78.7h.8M254.9 63.4h.8M258.1 62.5h.8M248.5 79.1h.8M245.3 71.9h.8M254.4 62.5h.8" stroke="#3c90cc" stroke-width=".8" opacity="0.85"/>
<path d="M250.5 78.1h.8M243.9 76.7h.8M244.5 70.0h.8M251.5 80.9h.8M255.9 64.8h.8M255.0 62.9h.8M252.9 62.8h.8M245.2 73.0h.8M247.7 64.2h.8M246.0 79.1h.8M246.3 70.0h.8M258.9 62.2h.8M258.4 63.2h.8M255.4 72.8h.8M249.9 81.4h.8M257.3 68.2h.8M244.3 76.2h.8M254.0 64.3h.8M246.6 67.2h.8M248.1 81.4h.8M250.2 79.2h.8M250.0 79.6h.8M254.0 74.2h.8M249.6 64.6h.8M249.4 64.0h.8M254.1 64.6h.8M248.0 78.3h.8M251.3 65.6h.8M244.4 75.0h.8M256.6 63.8h.8M245.1 71.2h.8M245.4 75.9h.8M251.5 65.2h.8M245.3 77.1h.8M253.8 71.2h.8M249.0 81.8h.8M259.5 60.2h.8M252.3 76.5h.8M255.1 64.9h.8M249.8 82.0h.8M249.6 64.3h.8M254.0 66.5h.8M254.8 63.6h.8M256.7 63.7h.8M251.6 65.4h.8M244.8 77.5h.8M259.2 60.8h.8M253.6 67.1h.8M247.2 69.4h.8M249.9 63.5h.8M247.3 67.4h.8M247.1 68.9h.8M246.7 66.6h.8M246.6 78.5h.8M250.8 65.5h.8M251.8 63.6h.8M255.5 66.1h.8M249.8 64.2h.8M249.7 64.5h.8M249.6 80.4h.8M255.5 66.6h.8M253.7 67.5h.8M247.0 66.2h.8M247.9 80.7h.8M257.6 64.0h.8M254.8 62.7h.8M254.4 66.5h.8M249.4 80.0h.8M246.6 77.1h.8M251.3 65.4h.8M247.3 78.3h.8M253.9 68.8h.8M247.0 77.4h.8M246.2 78.8h.8M250.3 62.6h.8M246.8 78.3h.8M256.9 63.5h.8M253.8 68.6h.8" stroke="#3c9cc0" stroke-width=".8" opacity="0.85"/>
<path d="M249.7 65.9h.8M245.6 79.1h.8M246.5 78.0h.8M247.1 68.9h.8M250.0 78.2h.8M251.7 65.1h.8M255.2 74.5h.8M251.5 63.2h.8M243.8 72.6h.8M253.8 72.3h.8M249.4 78.9h.8M255.5 71.9h.8M255.9 64.8h.8M249.8 64.8h.8M248.8 80.7h.8M249.6 64.7h.8M251.4 65.6h.8M252.2 77.5h.8M246.1 79.3h.8M254.2 72.1h.8M248.9 65.4h.8M247.3 78.8h.8M244.7 75.9h.8M254.1 64.5h.8M245.9 68.5h.8M255.1 69.7h.8M247.2 66.6h.8M252.9 74.9h.8M250.9 76.1h.8M254.4 65.4h.8" stroke="#3ca8b4" stroke-width=".8" opacity="0.85"/>
<path d="M255.0 65.2h.8M252.5 62.2h.8M253.8 63.1h.8M249.1 66.3h.8M251.9 63.2h.8M250.6 79.6h.8M252.9 64.4h.8M252.3 74.4h.8M255.5 71.1h.8M246.4 77.5h.8M247.3 69.6h.8M244.6 75.7h.8M252.5 76.5h.8M246.0 67.4h.8M254.7 72.5h.8M255.2 72.1h.8M254.5 72.8h.8M247.6 65.2h.8M254.8 69.4h.8M250.2 79.5h.8M250.3 62.3h.8M254.4 62.5h.8M245.8 79.6h.8M252.9 62.8h.8M254.0 69.2h.8M247.4 66.4h.8M252.6 75.9h.8M250.1 77.0h.8M254.0 69.9h.8M249.2 67.3h.8M249.4 66.7h.8M248.1 80.7h.8M251.1 79.2h.8M252.7 64.3h.8M248.9 80.0h.8M246.5 75.9h.8M254.0 67.8h.8M255.0 67.7h.8M250.9 64.9h.8M252.6 76.1h.8M246.2 68.2h.8M247.5 76.3h.8M244.0 73.5h.8" stroke="#48a8b4" stroke-width=".8" opacity="0.85"/>
<path d="M249.8 78.7h.8M245.3 73.6h.8M247.2 75.9h.8M248.7 67.1h.8M254.5 73.0h.8M251.7 75.1h.8M247.2 70.3h.8M255.0 73.6h.8M247.3 79.9h.8M246.9 77.9h.8M252.8 75.1h.8M248.1 78.5h.8M245.9 70.9h.8M254.7 69.5h.8M251.1 78.4h.8M254.0 73.7h.8M251.9 74.2h.8M254.7 73.6h.8M253.1 74.9h.8M251.9 63.2h.8M249.1 77.7h.8M248.4 77.4h.8M248.4 66.9h.8M250.2 65.4h.8M252.6 64.5h.8M248.8 64.3h.8M251.9 64.1h.8M253.7 71.4h.8M246.8 74.8h.8M252.9 64.4h.8M251.5 78.9h.8M247.2 77.1h.8M246.5 79.5h.8M247.6 68.9h.8M254.5 65.0h.8M254.7 72.3h.8M246.3 70.5h.8M246.2 68.4h.8M245.7 74.2h.8M248.8 66.1h.8M250.9 78.2h.8M254.2 68.5h.8M247.7 67.7h.8M249.9 78.5h.8M247.9 79.9h.8M252.8 64.5h.8M246.1 74.9h.8M250.9 77.4h.8M246.2 74.6h.8M253.3 65.6h.8M247.0 69.6h.8M255.0 64.7h.8M250.4 79.7h.8M253.6 64.4h.8M249.3 65.6h.8M254.9 64.1h.8M247.5 77.3h.8M245.9 69.6h.8M252.8 67.7h.8M252.4 64.5h.8M247.0 79.8h.8M246.2 77.8h.8M249.2 76.4h.8M247.1 75.0h.8M253.1 67.4h.8M252.7 75.6h.8M254.5 69.4h.8M249.6 77.1h.8M248.7 64.4h.8M250.8 76.6h.8M246.9 73.1h.8M248.0 79.2h.8M251.9 67.2h.8M245.8 74.0h.8M247.1 77.9h.8M248.1 66.8h.8" stroke="#48b4a8" stroke-width=".8" opacity="0.85"/>
<path d="M253.5 75.4h.8M247.7 65.3h.8M254.0 70.3h.8M248.5 67.9h.8M248.8 78.6h.8M254.7 70.5h.8M252.5 72.9h.8M249.6 65.3h.8M254.0 71.0h.8M248.4 78.1h.8M246.8 75.5h.8M252.6 65.1h.8M250.0 65.1h.8M247.8 77.3h.8M250.3 77.6h.8M246.8 74.1h.8" stroke="#48b49c" stroke-width=".8" opacity="0.85"/>
<path d="M246.7 77.9h.8M251.8 74.6h.8M247.4 71.1h.8M248.9 67.0h.8M250.0 66.9h.8M247.0 75.2h.8M246.5 70.3h.8M247.3 77.7h.8M254.7 70.0h.8M248.7 77.4h.8M249.4 76.2h.8M251.7 65.4h.8" stroke="#54b49c" stroke-width=".8" opacity="0.85"/>
<path d="M247.0 72.0h.8M250.6 65.9h.8M251.7 65.8h.8M245.7 72.9h.8M252.3 76.1h.8M253.5 72.2h.8M251.3 67.3h.8M253.9 65.2h.8M253.0 74.1h.8M246.1 72.5h.8M253.2 64.6h.8M251.3 66.4h.8M252.0 67.0h.8M251.7 77.3h.8M249.5 76.2h.8M250.7 76.7h.8M250.5 78.0h.8M250.7 78.9h.8M253.7 68.0h.8M248.9 76.4h.8M252.2 70.5h.8M246.1 75.7h.8M253.1 75.6h.8M250.2 76.2h.8M248.7 79.6h.8M249.4 68.3h.8M249.2 67.4h.8M247.7 77.6h.8" stroke="#54b490" stroke-width=".8" opacity="0.85"/>
<path d="M249.6 79.1h.8M250.6 77.7h.8M252.9 73.2h.8M252.1 66.8h.8M251.7 71.0h.8M250.6 74.5h.8M249.4 76.5h.8M251.7 75.4h.8M245.9 72.1h.8M249.9 75.9h.8M252.7 69.7h.8M250.1 74.4h.8M254.8 66.2h.8M249.5 77.5h.8M250.9 65.8h.8M252.3 73.8h.8M248.9 67.2h.8M253.4 64.3h.8M252.7 72.3h.8M252.4 69.9h.8M248.9 79.5h.8M245.9 70.6h.8M251.6 66.5h.8M252.5 65.7h.8M252.7 75.9h.8" stroke="#54b484" stroke-width=".8" opacity="0.85"/>
<path d="M247.3 74.7h.8M247.4 70.5h.8M255.3 67.0h.8M245.9 71.7h.8M254.1 71.7h.8" stroke="#60c084" stroke-width=".8" opacity="0.85"/>
<path d="M250.1 79.2h.8M253.9 71.1h.8M252.2 65.5h.8M245.7 74.4h.8M250.6 74.5h.8M254.7 66.6h.8M249.7 75.0h.8M255.3 66.9h.8M247.4 77.1h.8M247.7 76.2h.8M250.1 79.7h.8M249.7 76.7h.8M250.4 66.0h.8M252.1 75.7h.8M246.7 72.0h.8M246.1 68.6h.8M250.4 77.9h.8M253.8 66.6h.8M251.9 69.5h.8M250.9 75.2h.8M253.4 74.5h.8M251.5 67.8h.8M247.7 74.5h.8M252.7 68.8h.8M247.2 76.5h.8M247.9 75.5h.8M246.7 75.0h.8M249.0 75.2h.8M247.4 72.7h.8M245.7 75.3h.8M249.4 67.0h.8" stroke="#60c078" stroke-width=".8" opacity="0.85"/>
<path d="M247.4 76.0h.8M255.5 68.2h.8M248.9 75.8h.8M253.2 68.2h.8M247.3 71.7h.8M249.0 76.2h.8M251.6 66.6h.8M247.4 73.6h.8M251.4 77.2h.8M255.3 69.5h.8M251.9 68.6h.8M250.5 65.4h.8M248.7 77.2h.8M248.9 76.7h.8M249.0 67.8h.8M251.7 71.7h.8M246.7 77.3h.8M250.3 67.2h.8M252.5 74.9h.8M251.8 74.9h.8M248.3 69.9h.8M250.8 66.0h.8M248.2 79.9h.8M253.3 67.5h.8M250.1 65.8h.8" stroke="#60c06c" stroke-width=".8" opacity="0.85"/>
<path d="M246.9 71.7h.8M248.8 68.1h.8M253.1 74.3h.8" stroke="#60c060" stroke-width=".8" opacity="0.85"/>
<path d="M253.2 72.1h.8M255.6 69.4h.8M247.4 70.2h.8M250.9 76.4h.8M248.1 66.7h.8M247.2 71.8h.8M249.3 67.9h.8M247.8 79.6h.8M253.6 68.0h.8M249.8 65.3h.8M252.9 68.2h.8M255.0 68.8h.8M247.5 73.0h.8M246.5 68.8h.8M252.5 67.9h.8M248.1 67.1h.8M251.0 77.2h.8M253.9 69.4h.8M246.4 70.9h.8M253.9 67.4h.8M248.1 79.7h.8M247.9 79.2h.8M247.4 69.2h.8M254.4 66.5h.8M247.3 72.4h.8" stroke="#6cc060" stroke-width=".8" opacity="0.85"/>
<path d="M252.3 74.5h.8M247.3 72.6h.8M250.2 67.6h.8M251.3 67.9h.8M252.3 67.2h.8M250.3 74.1h.8M252.3 73.9h.8M251.1 67.3h.8M251.7 73.9h.8M251.9 75.8h.8M249.5 67.9h.8M248.9 74.7h.8M253.7 68.2h.8M249.6 77.6h.8M249.2 79.2h.8M252.5 74.7h.8M252.0 72.4h.8M253.3 66.4h.8M253.0 65.4h.8M247.2 73.4h.8M251.0 68.8h.8M249.2 69.8h.8M249.4 71.4h.8M248.8 77.0h.8M248.9 75.6h.8M248.7 76.5h.8M248.4 78.4h.8M251.9 74.8h.8M248.1 78.8h.8M251.2 76.9h.8M247.7 70.9h.8M253.1 67.0h.8M248.7 79.4h.8M250.0 73.4h.8M249.9 67.9h.8M253.1 72.0h.8" stroke="#6cc054" stroke-width=".8" opacity="0.85"/>
<path d="M253.0 67.2h.8M247.5 74.0h.8M251.0 67.1h.8M252.1 66.0h.8M250.7 69.7h.8M250.9 65.5h.8M248.4 75.4h.8M248.1 68.6h.8M249.1 75.9h.8M251.2 76.0h.8M253.1 68.2h.8M248.9 68.1h.8M247.7 70.4h.8M252.4 72.2h.8M253.1 66.3h.8M251.6 68.6h.8M253.3 69.3h.8" stroke="#6cc048" stroke-width=".8" opacity="0.85"/>
<path d="M248.3 73.4h.8M251.9 66.0h.8M250.8 77.4h.8M252.1 75.6h.8M247.8 72.1h.8M246.1 72.2h.8M247.3 77.1h.8M248.2 70.2h.8M247.2 75.1h.8M253.0 68.2h.8M247.6 75.9h.8M252.1 73.8h.8M252.5 71.3h.8M250.5 66.5h.8M249.4 75.8h.8M250.1 72.8h.8M253.1 65.5h.8M249.6 75.2h.8M249.7 73.8h.8M247.5 71.6h.8M245.9 76.6h.8M249.2 73.8h.8M249.3 66.8h.8M248.0 68.7h.8M250.5 69.7h.8M245.8 70.6h.8M253.0 71.3h.8M253.5 69.5h.8M250.4 69.4h.8M248.8 74.2h.8M247.1 71.5h.8M251.8 72.0h.8M245.9 76.9h.8M247.2 70.3h.8M253.1 74.6h.8M251.2 74.0h.8M247.4 71.2h.8" stroke="#78c048" stroke-width=".8" opacity="0.85"/>
<path d="M252.5 68.6h.8M253.3 66.7h.8M249.9 70.6h.8M249.6 67.3h.8M252.5 73.5h.8M249.8 74.0h.8M250.9 66.3h.8M249.5 71.3h.8M250.6 73.0h.8M251.5 66.3h.8M250.2 77.9h.8M250.3 72.2h.8M253.2 75.6h.8M252.7 74.6h.8M249.9 76.5h.8M251.2 76.3h.8M253.4 70.0h.8M247.8 67.5h.8M250.6 68.4h.8M250.4 71.7h.8M248.9 76.3h.8M248.1 71.1h.8M248.2 71.1h.8M253.4 74.1h.8M253.2 68.7h.8M252.2 69.1h.8" stroke="#84c048" stroke-width=".8" opacity="0.85"/>
<path d="M249.6 68.5h.8M251.0 71.3h.8M250.4 67.2h.8M248.2 67.4h.8M247.8 75.3h.8M252.0 66.3h.8M252.0 73.7h.8M249.3 67.2h.8M248.2 74.0h.8M251.9 75.5h.8M250.5 73.7h.8M252.6 74.7h.8M251.1 72.8h.8M247.4 74.9h.8M253.0 70.9h.8M248.5 66.1h.8M252.0 70.8h.8M250.7 70.1h.8M250.0 72.2h.8M246.7 75.8h.8M251.7 67.2h.8M245.6 70.5h.8M252.2 69.2h.8M253.1 69.5h.8M248.4 73.4h.8M252.5 72.5h.8M249.7 74.0h.8M253.2 67.5h.8M250.7 72.8h.8M246.9 70.2h.8M252.3 68.8h.8M249.8 69.8h.8M249.9 72.0h.8M250.2 74.8h.8M248.0 69.5h.8M248.7 67.2h.8M250.5 77.4h.8M248.8 72.5h.8" stroke="#90c048" stroke-width=".8" opacity="0.85"/>
<path d="M249.8 77.5h.8M250.3 71.7h.8M246.7 72.8h.8M245.7 71.0h.8M249.3 69.7h.8M252.1 67.5h.8M250.2 77.1h.8M246.7 73.0h.8M252.2 69.0h.8M251.6 76.0h.8M249.3 76.0h.8M250.4 76.2h.8M251.9 73.1h.8M246.4 71.0h.8M252.8 75.1h.8M253.2 66.0h.8M251.6 68.5h.8M250.6 70.7h.8M252.0 75.1h.8M250.4 74.3h.8M249.4 73.0h.8M253.1 68.3h.8M252.2 67.8h.8M252.3 66.6h.8M248.8 76.1h.8M247.8 74.0h.8M248.1 66.6h.8M246.7 72.2h.8M251.8 75.4h.8M249.2 72.4h.8" stroke="#9cc03c" stroke-width=".8" opacity="0.85"/>
<path d="M249.7 68.8h.8M249.8 74.7h.8M246.6 70.5h.8M248.6 77.2h.8M252.9 74.9h.8M245.8 72.3h.8M251.8 72.9h.8M249.7 66.0h.8M247.8 73.4h.8M248.2 68.1h.8M250.4 70.1h.8M249.0 76.5h.8M249.2 72.1h.8M249.3 77.8h.8M250.3 76.9h.8M245.9 75.4h.8" stroke="#a8c03c" stroke-width=".8" opacity="0.85"/>
<path d="M247.9 74.1h.8M249.6 66.7h.8M252.6 70.2h.8M246.0 74.2h.8M248.4 73.1h.8M249.1 70.3h.8M250.9 66.5h.8M249.3 68.3h.8M249.6 69.2h.8M251.4 69.3h.8M251.1 74.1h.8M250.3 75.6h.8M253.0 69.1h.8M247.4 70.4h.8M249.4 68.3h.8M249.6 71.2h.8M252.9 72.7h.8" stroke="#a8cc3c" stroke-width=".8" opacity="0.85"/>
<path d="M252.3 68.6h.8M251.7 68.3h.8M248.9 74.1h.8M249.1 71.5h.8M246.5 71.6h.8M246.1 75.0h.8M252.0 72.0h.8M250.1 72.2h.8M248.9 75.6h.8M252.0 70.9h.8M246.8 74.0h.8M251.7 68.3h.8M250.1 72.7h.8M245.7 72.1h.8M250.7 75.6h.8M247.6 74.0h.8M247.3 75.0h.8M250.0 67.5h.8M251.1 69.4h.8M250.2 71.9h.8M247.4 71.3h.8M252.0 71.6h.8M246.5 73.2h.8" stroke="#b4cc3c" stroke-width=".8" opacity="0.85"/>
<path d="M251.4 69.7h.8M249.1 70.1h.8M252.4 69.3h.8M247.6 75.5h.8M246.7 70.4h.8M252.5 69.2h.8M250.1 70.9h.8M249.6 74.2h.8M251.1 69.3h.8M248.5 74.8h.8M252.9 67.4h.8M247.8 76.6h.8M250.6 75.1h.8M245.7 72.7h.8M251.3 67.3h.8M253.1 67.7h.8M247.1 73.1h.8M249.5 72.0h.8M253.6 66.2h.8M251.4 68.5h.8M248.6 73.5h.8M246.3 73.8h.8M248.8 68.6h.8M247.6 70.8h.8M250.5 71.7h.8M252.0 73.0h.8M252.7 71.4h.8M252.3 69.4h.8M249.8 74.7h.8M252.3 71.0h.8M249.0 73.5h.8M253.2 71.9h.8M246.6 73.2h.8M252.3 66.2h.8" stroke="#c0cc3c" stroke-width=".8" opacity="0.85"/>
<path d="M250.1 75.4h.8M252.3 72.6h.8M252.8 70.0h.8M249.0 72.0h.8M249.3 70.3h.8M248.1 70.5h.8M248.4 69.6h.8M251.1 66.2h.8M251.6 70.8h.8M249.4 73.9h.8M252.7 66.5h.8M252.9 69.6h.8M253.5 70.8h.8" stroke="#cccc3c" stroke-width=".8" opacity="0.85"/>
<path d="M248.1 70.4h.8M253.6 68.4h.8M248.8 72.9h.8M250.8 69.2h.8M250.0 72.9h.8M252.5 71.4h.8M249.2 75.3h.8M247.8 68.6h.8M252.1 67.9h.8M253.0 73.3h.8M249.4 69.9h.8M247.7 73.9h.8M248.3 74.4h.8M246.9 73.8h.8M249.9 69.9h.8M248.3 74.9h.8M246.2 72.5h.8M248.6 72.9h.8M248.8 69.9h.8M251.3 70.1h.8M249.6 69.5h.8M249.4 74.7h.8" stroke="#cccc30" stroke-width=".8" opacity="0.85"/>
<path d="M246.6 72.3h.8M246.8 72.6h.8M250.5 74.8h.8M249.3 73.6h.8M250.8 67.1h.8M249.4 70.8h.8" stroke="#ccc030" stroke-width=".8" opacity="0.85"/>
<path d="M249.2 71.9h.8M246.6 73.6h.8M251.1 71.7h.8M247.5 73.6h.8M249.8 69.5h.8M249.6 74.7h.8M249.9 73.0h.8M249.9 70.6h.8M247.8 72.1h.8M249.2 73.6h.8M248.5 70.9h.8M248.2 70.1h.8M251.3 69.7h.8M252.8 70.2h.8M248.3 70.4h.8M248.0 71.7h.8M250.8 72.1h.8M247.6 72.5h.8M250.3 71.4h.8M250.6 73.0h.8M250.1 67.1h.8M250.2 68.3h.8M249.7 75.5h.8M251.5 71.2h.8M249.8 68.7h.8M250.9 71.4h.8M250.2 69.4h.8M250.7 69.7h.8M246.8 73.1h.8M248.7 69.4h.8M248.6 75.5h.8M250.3 70.0h.8M249.4 71.9h.8M250.2 69.9h.8M250.1 70.9h.8M250.8 75.9h.8M251.9 71.1h.8M248.9 74.2h.8M251.2 72.8h.8M250.9 73.2h.8" stroke="#d8c030" stroke-width=".8" opacity="0.85"/>
<path d="M250.4 75.7h.8M251.0 73.4h.8M250.2 67.6h.8M248.4 74.6h.8M250.5 66.6h.8M250.6 67.4h.8M248.1 71.2h.8M253.0 69.1h.8M248.9 68.2h.8M251.6 68.2h.8M248.5 72.1h.8M251.0 69.3h.8" stroke="#d8b430" stroke-width=".8" opacity="0.85"/>
<path d="M248.0 71.5h.8M251.3 75.8h.8M252.3 71.8h.8M251.2 66.6h.8M249.6 72.9h.8M248.5 69.6h.8M251.9 71.5h.8M252.6 69.0h.8M251.0 70.8h.8M248.4 68.8h.8M248.1 75.9h.8M250.3 70.8h.8M251.1 70.0h.8M250.9 72.9h.8M249.7 68.7h.8" stroke="#e4b430" stroke-width=".8" opacity="0.85"/>
<path d="M248.2 68.0h.8M250.4 72.9h.8M251.3 72.0h.8M248.0 75.9h.8M250.4 70.0h.8M249.5 75.4h.8M251.5 70.5h.8M249.9 68.0h.8M250.2 73.4h.8M250.6 72.7h.8M249.1 72.9h.8M248.7 71.8h.8M251.5 71.5h.8M250.7 70.9h.8M249.2 69.3h.8M249.1 68.1h.8M251.4 70.7h.8M249.8 71.0h.8M248.6 70.0h.8M249.5 69.1h.8M248.5 68.8h.8M248.2 71.0h.8M248.5 73.2h.8M249.5 74.2h.8" stroke="#e4a830" stroke-width=".8" opacity="0.85"/>
<path d="M251.0 69.7h.8M248.8 73.1h.8M249.2 75.1h.8M248.4 72.3h.8M248.8 70.5h.8M248.0 75.1h.8M251.0 75.3h.8M250.1 71.2h.8M249.9 69.5h.8M248.8 74.0h.8M248.7 72.2h.8M250.6 68.2h.8M251.1 69.2h.8M249.2 72.4h.8M249.2 74.4h.8M250.9 69.4h.8" stroke="#e49c30" stroke-width=".8" opacity="0.85"/>
<path d="M250.7 72.5h.8M250.9 71.6h.8M251.4 72.6h.8M248.3 72.9h.8M247.8 73.5h.8M250.5 71.4h.8M248.0 73.0h.8M251.2 71.9h.8M250.4 72.6h.8M248.8 73.2h.8M251.2 68.6h.8M248.2 74.0h.8M250.0 69.5h.8" stroke="#e49024" stroke-width=".8" opacity="0.85"/>
<path d="M248.5 74.5h.8M250.3 72.4h.8M250.1 71.4h.8M250.8 71.5h.8M249.8 72.6h.8M251.4 69.5h.8M249.0 71.3h.8M249.7 71.3h.8M248.4 71.5h.8M250.8 73.9h.8M251.2 68.4h.8M249.6 71.2h.8M250.2 70.8h.8M250.5 73.4h.8M249.9 73.5h.8M250.0 70.9h.8M247.7 71.5h.8M248.3 71.8h.8M250.9 73.8h.8M248.1 73.6h.8M249.2 73.9h.8M248.4 73.3h.8M250.6 70.5h.8M248.3 73.2h.8M248.2 71.3h.8M251.6 71.7h.8M249.6 71.8h.8M247.8 72.8h.8M249.8 70.7h.8M249.7 71.2h.8M251.0 70.3h.8M250.6 71.9h.8M249.2 72.8h.8M249.6 73.5h.8M249.7 71.1h.8M248.3 73.7h.8M250.3 71.0h.8M251.4 68.8h.8M251.3 71.7h.8M248.3 72.0h.8M250.1 70.3h.8M249.9 73.2h.8M251.0 68.1h.8M248.3 73.8h.8M250.8 71.8h.8M251.5 71.5h.8" stroke="#e48424" stroke-width=".8" opacity="0.85"/>
<rect x="207.6" y="34.0" width="77.2" height="76.6" fill="none" stroke="#2a2a2a" stroke-width="1.1"/>
<line x1="205.6" y1="38.3" x2="207.6" y2="38.3" stroke="#444" stroke-width="0.8"/>
<line x1="205.6" y1="57.4" x2="207.6" y2="57.4" stroke="#444" stroke-width="0.8"/>
<line x1="205.6" y1="79.4" x2="207.6" y2="79.4" stroke="#444" stroke-width="0.8"/>
<line x1="205.6" y1="92.2" x2="207.6" y2="92.2" stroke="#444" stroke-width="0.8"/>
<line x1="205.6" y1="105.5" x2="207.6" y2="105.5" stroke="#444" stroke-width="0.8"/>
<line x1="206.4" y1="40.5" x2="207.6" y2="40.5" stroke="#777" stroke-width="0.5"/>
<line x1="206.4" y1="42.5" x2="207.6" y2="42.5" stroke="#777" stroke-width="0.5"/>
<line x1="206.4" y1="44.6" x2="207.6" y2="44.6" stroke="#777" stroke-width="0.5"/>
<line x1="206.4" y1="47.0" x2="207.6" y2="47.0" stroke="#777" stroke-width="0.5"/>
<line x1="206.4" y1="51.0" x2="207.6" y2="51.0" stroke="#777" stroke-width="0.5"/>
<line x1="206.4" y1="59.5" x2="207.6" y2="59.5" stroke="#777" stroke-width="0.5"/>
<line x1="206.4" y1="61.5" x2="207.6" y2="61.5" stroke="#777" stroke-width="0.5"/>
<line x1="206.4" y1="63.5" x2="207.6" y2="63.5" stroke="#777" stroke-width="0.5"/>
<line x1="206.4" y1="66.0" x2="207.6" y2="66.0" stroke="#777" stroke-width="0.5"/>
<line x1="206.4" y1="70.0" x2="207.6" y2="70.0" stroke="#777" stroke-width="0.5"/>
<line x1="206.4" y1="82.0" x2="207.6" y2="82.0" stroke="#777" stroke-width="0.5"/>
<line x1="206.4" y1="85.0" x2="207.6" y2="85.0" stroke="#777" stroke-width="0.5"/>
<line x1="206.4" y1="88.0" x2="207.6" y2="88.0" stroke="#777" stroke-width="0.5"/>
<line x1="206.4" y1="95.0" x2="207.6" y2="95.0" stroke="#777" stroke-width="0.5"/>
<line x1="206.4" y1="98.0" x2="207.6" y2="98.0" stroke="#777" stroke-width="0.5"/>
<line x1="206.4" y1="101.0" x2="207.6" y2="101.0" stroke="#777" stroke-width="0.5"/>
<line x1="206.4" y1="103.0" x2="207.6" y2="103.0" stroke="#777" stroke-width="0.5"/>
<line x1="210.9" y1="110.6" x2="210.9" y2="112.6" stroke="#444" stroke-width="0.8"/>
<line x1="225.0" y1="110.6" x2="225.0" y2="112.6" stroke="#444" stroke-width="0.8"/>
<line x1="239.6" y1="110.6" x2="239.6" y2="112.6" stroke="#444" stroke-width="0.8"/>
<line x1="259.6" y1="110.6" x2="259.6" y2="112.6" stroke="#444" stroke-width="0.8"/>
<line x1="277.6" y1="110.6" x2="277.6" y2="112.6" stroke="#444" stroke-width="0.8"/>
<line x1="214.4" y1="110.6" x2="214.4" y2="111.8" stroke="#777" stroke-width="0.5"/>
<line x1="217.4" y1="110.6" x2="217.4" y2="111.8" stroke="#777" stroke-width="0.5"/>
<line x1="220.4" y1="110.6" x2="220.4" y2="111.8" stroke="#777" stroke-width="0.5"/>
<line x1="228.4" y1="110.6" x2="228.4" y2="111.8" stroke="#777" stroke-width="0.5"/>
<line x1="232.4" y1="110.6" x2="232.4" y2="111.8" stroke="#777" stroke-width="0.5"/>
<line x1="235.4" y1="110.6" x2="235.4" y2="111.8" stroke="#777" stroke-width="0.5"/>
<line x1="243.4" y1="110.6" x2="243.4" y2="111.8" stroke="#777" stroke-width="0.5"/>
<line x1="246.4" y1="110.6" x2="246.4" y2="111.8" stroke="#777" stroke-width="0.5"/>
<line x1="249.4" y1="110.6" x2="249.4" y2="111.8" stroke="#777" stroke-width="0.5"/>
<line x1="252.4" y1="110.6" x2="252.4" y2="111.8" stroke="#777" stroke-width="0.5"/>
<line x1="255.4" y1="110.6" x2="255.4" y2="111.8" stroke="#777" stroke-width="0.5"/>
<line x1="263.4" y1="110.6" x2="263.4" y2="111.8" stroke="#777" stroke-width="0.5"/>
<line x1="266.4" y1="110.6" x2="266.4" y2="111.8" stroke="#777" stroke-width="0.5"/>
<line x1="269.4" y1="110.6" x2="269.4" y2="111.8" stroke="#777" stroke-width="0.5"/>
<line x1="272.4" y1="110.6" x2="272.4" y2="111.8" stroke="#777" stroke-width="0.5"/>
<line x1="274.4" y1="110.6" x2="274.4" y2="111.8" stroke="#777" stroke-width="0.5"/>
<circle cx="225.0" cy="111.6" r="1.3" fill="#222"/>
<circle cx="207.6" cy="92.2" r="1.1" fill="#222"/>
<rect x="207.6" y="74.5" width="33.1" height="18.3" fill="none" stroke="#2a2a2a" stroke-width="1.1"/>
<rect x="241.3" y="55.5" width="26.3" height="29.2" fill="none" stroke="#2a2a2a" stroke-width="1.1"/>
<text x="210.5" y="73.8" font-size="10" stroke="#1a1a1a" stroke-width="0.22">5.5%</text>
<text x="254.5" y="54.4" font-size="10" text-anchor="middle" stroke="#1a1a1a" stroke-width="0.22">92%</text>
<text x="330.0" y="31.5" font-size="9.9" text-anchor="middle" stroke="#1a1a1a" stroke-width="0.22">5 µM mltln2</text>
<path d="M353.1 82.2h.8M342.6 47.8h.8M346.2 45.6h.8M317.5 60.6h.8M319.9 67.9h.8M315.0 74.6h.8M330.8 97.5h.8M321.7 65.9h.8M351.9 46.4h.8" stroke="#849cd8" stroke-width=".8" opacity="0.85"/>
<path d="M302.6 74.7h.8M353.8 56.6h.8M351.9 52.4h.8M339.1 88.9h.8M352.7 64.2h.8M334.7 88.2h.8M354.6 60.0h.8M345.9 48.3h.8M351.7 57.3h.8M355.4 51.5h.8M329.9 92.1h.8M295.6 74.9h.8M343.5 85.2h.8M353.6 62.1h.8M333.1 92.1h.8M333.6 93.2h.8" stroke="#8490d8" stroke-width=".8" opacity="0.85"/>
<path d="M349.8 51.8h.8M348.7 74.9h.8M330.5 59.8h.8M351.2 74.5h.8M351.0 74.5h.8M348.9 48.7h.8M344.3 79.6h.8M306.2 75.5h.8M351.3 72.5h.8M341.0 84.3h.8M339.2 87.6h.8M348.5 55.2h.8M350.7 62.4h.8M353.2 51.4h.8M295.6 77.3h.8M351.5 56.8h.8M306.3 94.9h.8M299.0 76.8h.8M343.9 77.8h.8M330.8 91.0h.8M344.1 50.8h.8M320.4 73.4h.8M321.9 71.6h.8M337.8 53.6h.8M325.7 93.1h.8M347.0 71.5h.8" stroke="#7890d8" stroke-width=".8" opacity="0.85"/>
<path d="M326.1 71.2h.8M347.9 65.7h.8M337.1 85.9h.8M346.6 72.9h.8M348.1 67.2h.8M338.2 53.0h.8M333.7 57.9h.8" stroke="#7890cc" stroke-width=".8" opacity="0.85"/>
<path d="M323.6 92.4h.8M336.8 54.6h.8M321.4 72.5h.8M340.5 81.8h.8M342.7 53.0h.8M345.0 72.1h.8M343.6 54.3h.8" stroke="#7884cc" stroke-width=".8" opacity="0.85"/>
<path d="M294.9 79.6h.8M318.7 77.6h.8M349.5 66.1h.8M334.1 85.7h.8M342.8 54.0h.8M300.9 79.0h.8M329.9 88.5h.8M348.8 58.4h.8M329.6 66.5h.8M334.0 84.6h.8M340.3 53.6h.8M301.6 79.3h.8M320.8 75.5h.8M336.6 55.9h.8M332.2 84.8h.8M299.4 92.5h.8M338.2 52.8h.8M346.7 68.5h.8M343.3 77.0h.8M342.0 52.7h.8M343.9 54.3h.8M299.6 92.2h.8M322.1 73.2h.8M308.0 77.1h.8M335.0 56.7h.8M308.7 76.5h.8M316.9 79.0h.8M346.0 67.3h.8M328.2 66.8h.8M323.4 72.1h.8M331.2 62.7h.8M348.5 64.7h.8M345.0 57.3h.8M346.1 57.1h.8M322.6 92.8h.8M308.6 77.8h.8M316.4 79.7h.8M348.3 58.0h.8M332.0 85.3h.8M343.7 54.5h.8M328.9 68.2h.8M331.9 59.2h.8M318.3 79.7h.8M349.2 64.7h.8M320.3 77.6h.8M320.9 77.6h.8M303.8 78.8h.8M331.1 82.5h.8M349.1 59.2h.8M329.1 91.1h.8M295.3 91.8h.8M324.9 75.3h.8M328.1 81.4h.8M343.1 53.8h.8M348.5 58.4h.8M329.8 81.1h.8M327.9 82.8h.8M346.5 62.4h.8M338.4 83.6h.8M336.7 57.9h.8M332.6 61.0h.8M340.5 52.9h.8M314.9 78.4h.8M342.2 53.6h.8M346.2 60.5h.8" stroke="#6c84cc" stroke-width=".8" opacity="0.85"/>
<path d="M312.2 79.1h.8M348.8 60.5h.8M305.7 93.1h.8M333.1 85.0h.8M339.0 57.1h.8M345.8 67.4h.8M328.1 79.0h.8M343.2 74.8h.8M334.8 82.9h.8M325.3 75.7h.8M332.6 60.6h.8M328.7 72.8h.8M322.5 77.0h.8" stroke="#6084cc" stroke-width=".8" opacity="0.85"/>
<path d="M296.0 78.2h.8M317.7 79.5h.8M333.4 61.4h.8M338.3 82.9h.8M318.4 78.7h.8M345.3 70.2h.8M331.4 63.2h.8M297.5 78.1h.8M341.4 54.7h.8M326.0 90.6h.8M343.7 68.5h.8M344.6 58.1h.8M321.9 77.4h.8M330.3 85.3h.8M328.4 76.3h.8M339.6 54.7h.8M348.8 59.7h.8M330.8 82.8h.8M345.7 58.8h.8M305.6 78.4h.8M341.7 75.3h.8M307.0 78.6h.8M344.2 56.3h.8M325.5 76.2h.8M321.6 79.8h.8M330.9 64.4h.8M336.7 83.8h.8M309.1 78.8h.8M297.0 91.3h.8M331.3 82.5h.8M325.3 74.9h.8M326.1 74.3h.8M298.8 79.2h.8M330.3 87.2h.8M345.7 60.9h.8M340.3 56.7h.8M340.7 57.2h.8M329.5 89.1h.8M327.1 74.1h.8M344.9 59.8h.8M297.6 78.5h.8M326.7 78.1h.8M346.8 58.8h.8M329.9 85.4h.8M297.5 90.2h.8M328.0 85.5h.8M347.5 63.4h.8M340.5 56.6h.8M338.6 81.4h.8M325.2 76.8h.8M341.8 75.5h.8M329.4 71.0h.8M322.8 77.3h.8M322.6 77.1h.8M340.0 77.4h.8M346.7 66.7h.8M328.7 75.1h.8M346.8 66.8h.8M329.0 72.9h.8M338.4 81.5h.8M313.1 78.5h.8M323.5 78.5h.8M337.5 59.1h.8M330.8 67.8h.8" stroke="#6078cc" stroke-width=".8" opacity="0.85"/>
<path d="M344.0 59.0h.8M327.8 77.3h.8M331.4 78.2h.8M333.2 63.9h.8M345.4 60.5h.8M329.2 77.8h.8M312.2 79.7h.8M338.3 56.1h.8M325.0 74.6h.8M344.3 70.8h.8M329.3 72.6h.8M327.8 80.2h.8M321.8 75.4h.8M339.4 57.1h.8M328.1 81.5h.8M327.7 84.3h.8M330.9 66.0h.8M336.1 58.5h.8M315.8 92.6h.8M322.2 75.1h.8M316.6 93.0h.8M328.8 86.1h.8M295.4 81.0h.8M328.8 81.2h.8M344.9 62.9h.8M331.2 84.6h.8" stroke="#5478cc" stroke-width=".8" opacity="0.85"/>
<path d="M331.2 65.0h.8M342.2 59.0h.8M330.3 86.0h.8M299.3 78.5h.8M325.0 75.1h.8M328.6 86.7h.8M345.7 59.0h.8M311.4 79.8h.8M323.4 81.0h.8M329.8 79.6h.8M339.5 78.8h.8M328.3 74.6h.8M344.3 69.8h.8M322.6 75.4h.8M325.9 80.0h.8M327.8 76.7h.8M333.0 62.2h.8M345.0 67.7h.8M306.9 93.0h.8M329.4 75.7h.8M327.6 84.6h.8M329.1 78.4h.8M342.7 59.0h.8M347.4 61.9h.8M343.1 70.9h.8M312.0 92.9h.8M327.1 76.5h.8M309.0 79.3h.8M328.5 88.6h.8M327.9 79.3h.8M309.1 79.9h.8M322.4 76.7h.8M330.8 79.2h.8M298.1 90.5h.8M324.2 79.5h.8M337.9 59.9h.8M294.4 89.3h.8M325.0 76.7h.8M321.7 81.6h.8M325.2 77.1h.8M344.1 58.5h.8M336.2 80.7h.8M327.8 88.4h.8M328.4 89.8h.8M342.5 70.3h.8M323.3 90.7h.8M345.5 61.3h.8M332.6 80.5h.8M336.0 80.7h.8M327.2 83.8h.8M334.2 81.2h.8M337.2 80.5h.8M297.6 81.0h.8M344.3 63.3h.8M339.3 80.5h.8" stroke="#546ccc" stroke-width=".8" opacity="0.85"/>
<path d="M337.0 80.1h.8M296.9 81.8h.8M325.8 83.4h.8M327.4 79.7h.8M335.3 80.9h.8M335.0 61.9h.8M324.0 78.9h.8M330.6 67.2h.8M342.1 58.2h.8M335.7 59.9h.8M308.9 79.6h.8M331.0 73.7h.8M295.0 89.8h.8M338.9 80.8h.8M329.3 85.5h.8M324.3 78.3h.8M332.2 79.8h.8M339.9 58.6h.8M327.1 89.3h.8M335.7 59.9h.8M299.0 80.6h.8M339.5 78.2h.8M326.0 84.2h.8M343.8 63.2h.8M331.4 79.4h.8M342.9 59.7h.8M341.0 74.5h.8M331.0 72.7h.8M326.1 82.5h.8M330.4 77.9h.8M339.2 80.2h.8M344.9 61.0h.8M328.9 87.3h.8M342.5 60.0h.8M326.6 88.2h.8M299.2 90.1h.8M322.2 91.4h.8M322.4 90.7h.8M342.1 59.3h.8M343.4 72.9h.8M297.2 81.3h.8M326.6 84.6h.8M332.4 65.4h.8M296.6 81.4h.8M336.5 80.7h.8M317.1 80.9h.8M302.8 80.5h.8M344.1 62.1h.8M298.2 80.8h.8M324.2 81.3h.8M342.4 70.7h.8M325.7 89.2h.8M344.1 65.1h.8M329.9 67.5h.8M331.6 65.0h.8M331.5 72.5h.8M338.5 76.2h.8M296.5 82.0h.8M326.8 89.0h.8M341.7 70.9h.8M339.6 58.1h.8M321.8 90.0h.8M320.1 80.6h.8M296.4 80.2h.8M336.5 81.5h.8M336.4 60.0h.8M343.9 67.3h.8M324.2 80.2h.8M342.7 63.2h.8M325.8 83.1h.8M334.9 61.3h.8M330.8 74.3h.8M298.8 81.7h.8M333.1 78.2h.8M327.5 88.2h.8M317.3 81.4h.8M325.3 81.6h.8M340.6 58.6h.8M325.5 79.5h.8M330.5 72.9h.8M333.7 80.0h.8M330.8 76.8h.8M294.4 83.8h.8M299.1 80.9h.8M295.5 87.6h.8M343.1 61.1h.8M331.4 69.9h.8M333.9 60.8h.8M321.9 90.5h.8M339.8 59.2h.8M328.4 86.7h.8M325.3 80.5h.8M345.1 63.2h.8M298.2 90.4h.8M294.5 86.1h.8M321.0 80.5h.8M294.8 84.4h.8M325.7 87.1h.8M324.5 81.8h.8M301.1 90.0h.8M330.9 70.6h.8M325.1 82.8h.8M330.7 71.4h.8M324.6 81.8h.8M345.0 64.4h.8M335.0 61.0h.8M343.0 69.3h.8M341.5 59.1h.8M294.5 89.2h.8M342.5 58.5h.8M341.7 69.8h.8M327.1 86.8h.8M342.4 61.5h.8M337.7 79.9h.8M333.2 78.2h.8M304.3 90.8h.8M330.4 69.8h.8M324.4 88.1h.8M330.2 70.9h.8M333.1 78.5h.8M342.1 70.2h.8M332.9 66.7h.8M320.2 91.2h.8M294.5 86.9h.8M316.8 81.0h.8M297.5 83.6h.8M323.0 90.1h.8M322.0 91.3h.8M304.1 80.9h.8M295.3 89.7h.8M331.5 73.2h.8M341.8 70.0h.8" stroke="#486ccc" stroke-width=".8" opacity="0.85"/>
<path d="M344.4 65.5h.8M321.5 91.9h.8M341.1 58.5h.8M341.0 58.4h.8M326.9 86.0h.8M298.4 80.1h.8M298.4 81.7h.8M332.4 64.2h.8M294.5 86.2h.8M324.1 84.8h.8M335.6 79.5h.8M338.8 59.4h.8M337.1 80.2h.8M324.8 89.6h.8M324.1 82.1h.8M334.8 81.3h.8M333.8 80.7h.8M334.4 61.1h.8M336.1 61.6h.8M326.0 88.6h.8M340.6 60.0h.8M333.7 79.7h.8M342.3 66.4h.8M324.9 88.7h.8M323.7 82.5h.8M335.9 78.0h.8M297.6 81.7h.8M343.0 63.6h.8M339.1 61.7h.8M314.4 81.9h.8M327.0 86.0h.8M294.5 88.0h.8M335.3 60.2h.8M339.9 72.2h.8M343.4 63.2h.8M333.0 78.7h.8M342.2 63.1h.8M324.9 80.1h.8M310.2 81.5h.8M330.7 72.7h.8M332.9 67.3h.8M342.2 66.3h.8M342.7 66.1h.8M330.8 74.7h.8M319.7 80.7h.8M340.4 72.8h.8M324.6 81.1h.8M333.2 64.6h.8M318.6 90.5h.8M303.0 81.2h.8M331.2 72.2h.8M341.8 61.4h.8M319.1 80.7h.8M336.4 61.9h.8M324.9 81.6h.8M298.2 90.9h.8M325.3 82.2h.8M295.7 81.8h.8M332.9 67.1h.8M333.9 63.9h.8M327.3 89.8h.8M343.1 61.6h.8M305.7 81.4h.8M342.2 63.4h.8M325.2 86.0h.8M333.3 80.0h.8M325.8 87.8h.8M321.9 83.4h.8M332.4 76.5h.8M340.9 60.4h.8M299.3 90.4h.8M319.7 81.1h.8M325.1 85.6h.8M334.6 79.4h.8" stroke="#4878cc" stroke-width=".8" opacity="0.85"/>
<path d="M320.2 80.5h.8M316.4 80.2h.8M332.5 77.1h.8M311.9 81.2h.8M325.1 80.9h.8M343.4 68.8h.8M295.4 87.6h.8M297.3 83.2h.8M307.1 80.6h.8M335.6 78.5h.8M337.9 76.2h.8M303.6 90.8h.8M311.5 81.0h.8M336.3 79.7h.8M295.1 87.1h.8M311.9 81.6h.8M296.7 88.9h.8M332.8 77.6h.8M325.9 85.5h.8M339.6 76.9h.8M338.3 61.0h.8M320.0 81.9h.8M298.9 84.0h.8M341.6 58.3h.8M332.8 79.1h.8M319.7 80.5h.8M325.2 82.7h.8M295.9 85.0h.8M295.9 84.9h.8M340.6 59.1h.8M330.5 71.6h.8M330.5 75.5h.8M298.5 82.6h.8M342.9 69.4h.8M326.1 88.3h.8M331.6 73.0h.8M337.6 60.4h.8M335.2 63.5h.8M335.3 63.5h.8M333.4 79.3h.8M335.0 60.3h.8M312.0 81.5h.8M304.6 91.5h.8M335.6 63.7h.8M306.5 90.4h.8M343.5 67.2h.8M333.2 77.7h.8M331.2 70.7h.8M295.8 83.2h.8M315.0 81.1h.8M298.8 88.3h.8M318.1 81.8h.8M342.7 69.8h.8M339.6 61.3h.8M336.9 79.7h.8M336.8 79.0h.8M332.6 74.4h.8M306.2 80.8h.8M318.0 90.2h.8M334.8 78.0h.8M319.6 83.8h.8M343.0 65.4h.8M325.9 86.2h.8M334.4 79.9h.8M335.3 62.8h.8M325.1 83.2h.8M342.0 65.9h.8M336.0 60.7h.8" stroke="#3c78cc" stroke-width=".8" opacity="0.85"/>
<path d="M324.1 87.9h.8M304.4 80.6h.8M343.4 65.3h.8M326.2 86.8h.8M315.1 90.2h.8M312.7 90.6h.8M299.5 88.6h.8M297.2 88.3h.8M317.3 90.5h.8M302.8 90.4h.8M296.9 82.5h.8M333.3 67.7h.8M336.3 76.2h.8M308.5 90.6h.8M317.4 91.2h.8M336.2 79.7h.8M335.2 77.8h.8M339.9 73.2h.8M303.9 81.9h.8M339.6 62.3h.8M333.6 65.1h.8M296.1 87.5h.8M332.2 72.2h.8M323.2 89.6h.8M341.9 62.2h.8M300.3 91.1h.8M323.4 84.0h.8M313.2 81.0h.8M333.6 74.8h.8M324.5 88.5h.8M333.3 69.4h.8M332.9 79.6h.8M334.2 62.6h.8M317.4 91.3h.8M341.1 71.5h.8M325.3 85.7h.8M298.6 89.6h.8M335.3 77.9h.8M335.9 77.7h.8M297.5 89.6h.8M296.0 83.7h.8M322.0 88.3h.8M338.2 74.5h.8M336.6 63.3h.8M337.2 78.2h.8M315.5 90.8h.8M333.0 76.3h.8M296.6 85.1h.8M336.4 76.6h.8M341.9 67.0h.8M315.2 80.6h.8M342.7 68.3h.8M320.7 83.4h.8M339.9 69.8h.8M323.8 89.4h.8M295.4 85.7h.8M320.5 89.4h.8M334.8 76.3h.8M311.5 91.4h.8M320.8 88.3h.8M332.7 76.3h.8M322.4 88.9h.8M333.0 69.9h.8M324.5 82.1h.8M319.9 83.9h.8M340.2 69.2h.8M295.9 86.6h.8M331.8 72.6h.8M295.9 88.8h.8M313.4 81.0h.8M337.4 77.5h.8M337.7 61.8h.8M309.4 81.9h.8M336.8 79.5h.8M337.5 60.7h.8M342.6 65.8h.8M337.6 61.8h.8M299.6 83.9h.8M343.2 64.0h.8M305.7 90.4h.8M304.8 90.6h.8M332.1 74.0h.8M339.5 75.5h.8M323.6 84.6h.8M341.8 65.6h.8M333.1 70.6h.8M314.2 91.0h.8M324.0 88.8h.8M343.2 64.5h.8M300.3 82.9h.8M296.0 85.5h.8M339.6 63.5h.8M295.6 86.1h.8M332.7 73.5h.8M318.5 90.6h.8M343.5 66.4h.8M294.6 84.3h.8M297.8 83.4h.8M341.2 65.9h.8M337.0 63.8h.8M334.5 77.1h.8M295.9 88.0h.8M294.6 84.3h.8M314.0 90.4h.8M325.3 86.7h.8M337.9 76.2h.8M338.5 63.8h.8M340.9 64.3h.8M309.4 81.0h.8M322.7 82.9h.8M313.9 90.5h.8M294.6 85.1h.8M298.2 89.8h.8M334.4 66.3h.8M341.6 63.0h.8M336.5 63.2h.8M303.8 81.5h.8M341.0 67.1h.8M296.5 83.1h.8M296.6 89.3h.8M335.9 76.2h.8M332.8 66.9h.8M322.8 89.1h.8M309.9 91.3h.8M321.5 88.4h.8M342.2 63.4h.8M311.6 90.9h.8M315.2 80.6h.8M334.3 75.9h.8M337.3 76.9h.8M334.7 67.8h.8M341.4 70.6h.8M333.4 69.2h.8M340.4 71.7h.8M308.0 81.1h.8M336.4 65.4h.8M342.4 65.5h.8M334.2 77.5h.8M337.9 62.8h.8M299.4 89.4h.8M337.1 76.4h.8" stroke="#3c84cc" stroke-width=".8" opacity="0.85"/>
<path d="M334.9 62.2h.8M312.0 80.7h.8M335.0 64.5h.8M339.6 63.2h.8M305.5 81.5h.8M320.7 82.7h.8M298.3 89.2h.8M321.7 82.7h.8M307.1 90.5h.8M297.0 85.4h.8M340.6 70.9h.8M341.5 66.2h.8M309.0 90.2h.8M338.7 61.4h.8M297.9 86.3h.8M296.7 86.5h.8M312.2 81.6h.8M334.8 62.4h.8M332.4 66.0h.8M307.2 90.4h.8M331.7 69.6h.8M333.3 72.6h.8M295.8 85.3h.8M318.6 90.7h.8M296.8 87.2h.8M298.0 86.6h.8M324.8 86.5h.8M318.3 82.6h.8M316.1 90.4h.8M332.9 74.4h.8M299.8 89.0h.8M337.9 60.5h.8M340.4 63.7h.8M296.3 82.8h.8M295.8 85.0h.8M341.1 73.6h.8M296.2 88.6h.8M333.2 74.8h.8M332.4 66.8h.8M309.3 81.5h.8M299.9 89.4h.8M337.5 63.0h.8M342.4 63.0h.8M338.6 63.3h.8M336.7 64.1h.8M338.7 75.9h.8M322.9 82.8h.8M340.3 65.3h.8M341.6 61.1h.8M333.2 69.4h.8M310.9 90.1h.8M297.1 87.2h.8M294.9 86.2h.8M324.5 89.6h.8M324.7 87.7h.8M331.8 67.9h.8M341.2 61.2h.8M335.2 66.4h.8M325.4 89.5h.8M337.7 75.2h.8M341.5 72.9h.8M322.4 86.7h.8M315.9 90.3h.8M332.9 69.1h.8M339.7 73.9h.8M296.8 89.0h.8M321.5 88.5h.8M310.1 81.9h.8M339.5 61.5h.8M340.3 73.7h.8M342.1 67.8h.8M297.0 88.6h.8M341.4 64.5h.8M303.7 90.5h.8M332.6 76.2h.8M306.7 81.4h.8M315.6 90.6h.8M300.0 83.2h.8M308.7 80.4h.8M337.1 60.8h.8M334.8 65.6h.8M338.7 75.8h.8M322.8 89.6h.8M299.4 85.1h.8M324.9 89.0h.8M295.9 85.7h.8M333.8 64.6h.8M332.1 76.4h.8M300.1 88.0h.8M338.7 74.1h.8M333.3 66.5h.8M316.4 90.2h.8M338.1 75.6h.8M336.6 62.8h.8M311.5 90.7h.8M341.6 63.8h.8M301.6 88.1h.8M334.0 74.5h.8M340.4 62.0h.8M318.3 84.0h.8M319.2 83.7h.8M333.5 73.9h.8M297.4 85.1h.8M338.3 75.7h.8M332.6 67.2h.8M322.6 85.2h.8M342.7 68.0h.8M339.6 70.2h.8M337.0 74.9h.8M324.4 87.3h.8M332.1 70.0h.8M333.7 76.3h.8M337.2 60.6h.8M339.4 60.8h.8M322.1 87.9h.8M321.6 86.2h.8M308.8 80.5h.8M331.7 68.6h.8M338.2 63.3h.8M332.8 75.8h.8M298.9 88.6h.8M335.0 67.7h.8M309.5 90.3h.8M334.9 63.2h.8M334.2 78.9h.8M338.1 73.8h.8M324.1 87.6h.8M337.4 76.2h.8M336.8 63.8h.8M305.1 91.8h.8M340.1 70.2h.8M334.4 78.8h.8M325.1 87.3h.8M320.3 88.3h.8M333.2 70.7h.8M337.8 74.7h.8M299.4 82.8h.8M308.5 82.0h.8M332.1 70.1h.8M339.9 67.3h.8M338.4 65.6h.8M340.1 66.2h.8M333.0 75.5h.8M298.7 89.2h.8M319.5 89.3h.8M335.5 62.3h.8M299.5 83.2h.8M339.5 60.3h.8M335.4 64.5h.8M338.8 65.6h.8M317.8 89.8h.8M334.0 66.9h.8M324.1 85.5h.8M335.3 67.2h.8M338.8 73.0h.8M336.8 65.4h.8M343.4 64.9h.8M322.4 86.9h.8M322.7 86.0h.8M335.8 63.9h.8M341.3 62.7h.8M337.3 64.6h.8M341.7 64.7h.8M337.9 62.9h.8M338.3 64.7h.8M302.3 83.0h.8M339.2 60.1h.8M299.4 85.8h.8M335.1 68.5h.8M321.8 88.0h.8M339.2 60.9h.8M338.0 63.5h.8M340.9 67.0h.8M336.1 76.6h.8M320.5 82.5h.8M338.6 67.5h.8M297.9 86.3h.8" stroke="#3c90cc" stroke-width=".8" opacity="0.85"/>
<path d="M340.6 66.6h.8M325.2 85.4h.8M332.6 72.0h.8M337.4 63.4h.8M333.8 75.0h.8M336.3 77.1h.8M335.9 75.1h.8M314.4 91.6h.8M341.1 69.9h.8M335.8 67.0h.8M308.9 90.5h.8M303.4 83.3h.8M318.0 90.0h.8M335.9 62.4h.8M335.5 65.8h.8M323.3 86.7h.8M319.3 89.6h.8M337.9 63.1h.8M300.2 82.2h.8M334.4 73.7h.8M336.7 63.9h.8M316.5 90.2h.8M298.6 83.7h.8M331.6 75.7h.8M298.3 85.9h.8M334.5 69.6h.8M303.5 83.6h.8M297.1 85.0h.8M297.9 88.7h.8M334.5 74.3h.8M309.2 80.8h.8M339.4 70.6h.8M339.3 69.4h.8M339.0 65.1h.8M338.5 64.2h.8M339.7 66.1h.8M334.6 64.5h.8M315.8 90.2h.8M335.0 74.5h.8M338.9 67.0h.8M340.6 67.2h.8M336.2 62.9h.8M338.4 75.3h.8M335.6 72.9h.8M339.1 69.3h.8M332.4 71.7h.8M336.2 64.1h.8M320.7 83.7h.8M306.6 91.6h.8M334.2 67.8h.8M323.4 86.5h.8M337.4 77.0h.8M316.5 90.5h.8M306.0 90.5h.8M308.1 90.2h.8M321.8 86.7h.8M298.5 89.4h.8M302.4 89.5h.8M333.7 76.1h.8M325.3 87.9h.8M335.4 64.2h.8M338.5 69.8h.8M339.8 69.8h.8M340.0 67.1h.8M337.1 65.7h.8M296.7 84.7h.8M332.8 68.1h.8M322.2 85.0h.8M335.2 74.9h.8M332.0 68.8h.8M298.4 83.3h.8M341.1 66.1h.8M325.1 86.8h.8M322.0 84.9h.8M297.5 86.6h.8M337.6 65.4h.8M339.8 68.5h.8M334.2 71.3h.8M337.4 65.0h.8M312.9 90.6h.8M298.4 83.0h.8M323.9 86.4h.8M336.3 77.8h.8M337.2 64.4h.8M339.5 62.6h.8M335.7 66.6h.8M336.2 63.3h.8M341.4 69.9h.8M317.3 82.4h.8M338.7 72.5h.8M335.4 67.1h.8M338.4 62.5h.8M332.0 75.2h.8M338.9 63.6h.8M300.8 89.2h.8M319.8 82.9h.8M306.3 91.0h.8M338.7 73.2h.8M338.0 67.7h.8M333.6 75.9h.8M340.3 66.3h.8M321.0 85.5h.8M324.2 87.0h.8M317.7 88.7h.8M334.5 76.2h.8M297.4 86.5h.8M337.6 74.5h.8M334.8 77.8h.8M340.7 65.0h.8M334.9 76.1h.8M334.4 75.2h.8M334.8 72.2h.8M295.8 85.9h.8M296.5 85.0h.8M319.7 84.9h.8M299.0 86.3h.8M337.1 65.6h.8M308.6 91.0h.8M299.4 88.5h.8M339.7 67.3h.8M335.6 64.2h.8M300.6 88.8h.8M307.1 83.6h.8M336.8 72.5h.8M306.2 82.7h.8M314.2 83.0h.8M298.6 89.2h.8M324.5 87.8h.8M339.3 72.2h.8M334.6 72.8h.8M307.1 83.4h.8M299.4 84.2h.8M338.2 62.2h.8M320.8 87.9h.8M312.6 83.7h.8M310.6 83.9h.8M304.9 82.0h.8M317.3 90.9h.8M336.9 73.9h.8M322.7 88.0h.8M336.3 68.9h.8M336.4 68.2h.8M314.3 84.0h.8M302.2 89.4h.8M340.2 70.2h.8M333.6 69.5h.8M337.6 68.4h.8M304.2 83.5h.8M335.8 74.0h.8M302.9 88.8h.8M302.5 83.4h.8M320.7 85.7h.8M299.1 84.7h.8M300.0 89.3h.8M317.5 90.3h.8M320.7 89.5h.8M336.6 73.0h.8" stroke="#3c9cc0" stroke-width=".8" opacity="0.85"/>
<path d="M338.5 67.3h.8M297.7 83.9h.8M318.7 82.9h.8M341.1 64.1h.8M303.7 82.7h.8M335.7 66.5h.8M339.6 62.8h.8M334.9 77.2h.8M335.8 67.9h.8M339.5 74.8h.8M313.0 91.6h.8M298.1 83.7h.8M339.2 66.1h.8M321.0 84.7h.8M319.0 88.7h.8M311.2 83.2h.8M309.0 82.2h.8M337.6 71.9h.8M335.5 68.9h.8M296.3 84.2h.8M334.7 72.9h.8M298.2 83.3h.8M332.1 71.0h.8M318.6 88.2h.8M341.5 69.1h.8M336.1 78.0h.8M310.1 90.7h.8M317.6 83.0h.8M336.8 75.1h.8M318.8 83.2h.8M335.8 65.2h.8M310.6 91.1h.8M320.7 88.2h.8M334.5 71.0h.8M333.5 70.7h.8M305.4 88.1h.8M318.3 89.1h.8M298.5 88.9h.8M336.0 76.8h.8M336.7 76.2h.8M335.8 68.2h.8M339.8 64.3h.8M336.7 75.3h.8M333.5 71.6h.8M309.5 90.3h.8M314.5 83.1h.8M336.9 75.8h.8M336.9 70.7h.8M338.3 64.1h.8M332.4 69.0h.8M337.8 71.6h.8M338.7 71.7h.8M300.7 86.2h.8M335.8 68.3h.8M338.4 67.8h.8M311.2 83.3h.8M333.3 68.7h.8M320.9 87.4h.8M334.8 75.4h.8M304.0 89.1h.8M340.4 66.6h.8M311.4 90.4h.8M300.3 86.3h.8M338.1 74.4h.8M337.2 71.3h.8M300.1 82.8h.8M335.0 72.7h.8M318.0 88.6h.8M311.2 90.1h.8M299.7 85.1h.8M323.5 86.9h.8M334.4 69.9h.8M336.4 71.4h.8M301.4 83.8h.8M335.2 68.6h.8M307.7 83.7h.8M338.4 69.4h.8M338.7 63.8h.8M312.2 90.0h.8M332.2 70.3h.8M305.6 89.0h.8M337.4 68.4h.8" stroke="#3ca8b4" stroke-width=".8" opacity="0.85"/>
<path d="M301.6 83.8h.8M338.5 69.1h.8M337.6 71.8h.8M334.3 70.1h.8M337.5 64.6h.8M315.5 83.7h.8M302.7 89.1h.8M337.4 74.0h.8M337.4 73.2h.8M300.3 82.9h.8M333.1 71.1h.8M337.5 63.4h.8M337.9 70.1h.8M319.9 88.6h.8M340.4 68.0h.8M321.0 88.0h.8M304.2 82.0h.8M311.0 90.5h.8M322.3 87.0h.8M339.4 63.4h.8M304.9 83.6h.8M298.2 86.2h.8M319.2 87.6h.8M321.1 88.7h.8M311.9 83.7h.8M318.9 88.7h.8M321.0 88.8h.8M332.4 73.2h.8M333.7 76.5h.8M337.2 67.8h.8M335.0 76.5h.8M307.4 82.7h.8M334.8 71.4h.8M297.9 84.7h.8M317.2 84.0h.8M334.9 71.4h.8M320.1 89.9h.8M335.7 75.6h.8M332.1 73.5h.8M300.7 84.8h.8M336.2 78.0h.8M337.2 66.0h.8M337.2 67.0h.8M336.4 71.9h.8M340.7 68.9h.8M336.8 69.2h.8M317.0 88.2h.8M301.6 89.6h.8M323.5 85.8h.8M319.4 83.6h.8M300.5 85.3h.8M321.7 84.6h.8M319.3 84.4h.8M303.7 89.9h.8M302.4 83.5h.8M315.0 88.6h.8M305.1 88.9h.8M337.6 70.5h.8M303.5 82.8h.8M318.6 83.5h.8M301.0 84.9h.8M302.0 89.8h.8M317.0 89.6h.8M337.3 64.7h.8M301.3 85.7h.8M301.1 85.7h.8M299.8 85.5h.8M337.8 64.2h.8M303.6 88.1h.8M318.5 84.1h.8M314.8 88.4h.8M297.9 85.1h.8M334.9 77.2h.8M319.6 89.0h.8M336.5 74.0h.8M299.7 89.2h.8M335.6 69.3h.8" stroke="#48a8b4" stroke-width=".8" opacity="0.85"/>
<path d="M339.3 73.7h.8M338.7 73.8h.8M333.7 73.8h.8M307.4 83.7h.8M305.1 88.8h.8M307.7 83.1h.8M321.4 86.7h.8M305.7 88.4h.8M340.9 65.6h.8M313.7 89.1h.8M340.7 65.9h.8M318.4 83.8h.8M334.0 67.5h.8M321.8 86.0h.8M300.0 86.2h.8M311.4 90.9h.8M304.0 82.5h.8M299.7 82.3h.8M298.6 85.0h.8M303.9 82.7h.8M321.7 86.2h.8M339.5 64.4h.8M334.3 69.9h.8M315.5 82.0h.8M304.5 83.2h.8M339.2 62.2h.8M318.2 84.5h.8M305.8 88.7h.8M308.7 83.8h.8M338.0 64.4h.8M313.3 82.4h.8M308.6 82.3h.8M307.4 88.7h.8M298.8 85.9h.8M317.2 88.8h.8M340.6 66.0h.8M322.6 85.0h.8M314.0 82.4h.8M311.7 83.1h.8M334.5 71.2h.8M305.7 83.1h.8M337.1 74.1h.8M309.8 84.0h.8M336.9 74.7h.8M298.3 84.6h.8M333.7 74.9h.8M320.3 84.8h.8M306.6 88.2h.8M320.6 85.5h.8M319.0 85.2h.8M302.3 83.3h.8M339.4 66.6h.8M299.9 88.5h.8M300.9 89.4h.8M335.7 75.9h.8M336.7 68.2h.8M302.4 82.3h.8M322.7 86.4h.8M308.1 83.3h.8M321.0 84.8h.8M334.9 72.7h.8M336.5 66.0h.8M338.7 66.3h.8M308.3 89.4h.8M320.6 84.5h.8M301.6 83.4h.8M339.9 65.9h.8M303.9 83.9h.8M320.5 84.8h.8M338.1 73.2h.8M315.8 89.6h.8M338.1 66.6h.8M300.4 87.8h.8M308.9 88.4h.8M334.4 73.2h.8M337.1 74.3h.8M340.5 65.0h.8M318.8 85.3h.8M305.8 83.1h.8M334.2 68.6h.8M314.0 88.4h.8M321.0 85.2h.8M308.3 82.6h.8M306.6 83.0h.8M299.7 88.9h.8M313.9 83.1h.8M303.2 88.0h.8M309.1 82.7h.8M309.5 83.7h.8M335.3 70.9h.8M298.9 85.5h.8M320.9 88.9h.8M318.7 84.7h.8M338.2 68.5h.8M301.0 84.3h.8M312.4 88.8h.8M339.4 66.4h.8M338.1 69.8h.8M318.5 83.4h.8M318.9 85.7h.8M314.1 82.5h.8M322.7 84.6h.8M336.1 68.4h.8M309.2 88.0h.8M317.7 84.1h.8M302.7 88.1h.8M336.2 73.7h.8M310.1 83.8h.8M321.2 86.5h.8M339.2 65.4h.8M318.7 83.3h.8M336.3 73.0h.8M339.6 67.3h.8M321.8 87.6h.8M302.8 82.6h.8M302.9 88.3h.8M300.3 85.9h.8M335.9 75.6h.8M321.1 87.2h.8M316.1 82.8h.8M339.4 64.4h.8M300.4 88.5h.8M317.9 83.0h.8M316.5 89.4h.8M307.2 82.7h.8M301.6 87.8h.8M313.9 89.5h.8M303.4 88.8h.8M297.8 86.7h.8M339.3 69.6h.8M335.8 66.2h.8M320.4 87.5h.8M301.3 85.2h.8" stroke="#48b4a8" stroke-width=".8" opacity="0.85"/>
<path d="M317.6 85.4h.8M320.1 86.6h.8M302.0 88.0h.8M321.9 84.6h.8M336.6 73.9h.8M307.6 88.2h.8M333.6 71.9h.8M322.4 84.5h.8M335.9 75.6h.8M321.8 86.2h.8M337.7 69.8h.8M335.3 71.0h.8M307.4 83.8h.8M323.0 87.0h.8M302.9 82.2h.8M313.1 83.3h.8M317.7 88.4h.8M339.0 70.7h.8M305.6 89.5h.8M334.1 72.2h.8M309.2 83.3h.8M316.0 84.7h.8M336.4 70.1h.8M318.0 84.8h.8M309.9 89.0h.8M335.6 68.0h.8M338.7 65.3h.8M338.6 72.4h.8" stroke="#48b49c" stroke-width=".8" opacity="0.85"/>
<path d="M298.3 86.4h.8M334.5 73.6h.8M336.0 74.5h.8M307.8 83.0h.8M319.9 86.6h.8M315.2 89.5h.8M313.8 83.3h.8M317.3 89.5h.8M338.2 70.8h.8M317.1 86.1h.8M318.4 86.6h.8M317.4 88.4h.8M337.2 65.7h.8M300.3 88.4h.8M299.3 87.2h.8M335.0 69.8h.8M303.2 88.1h.8" stroke="#54b49c" stroke-width=".8" opacity="0.85"/>
<path d="M304.4 89.3h.8M337.2 71.3h.8M339.4 64.5h.8M338.0 68.3h.8M334.7 71.8h.8M321.2 86.3h.8M339.5 64.0h.8M338.0 73.0h.8M338.5 70.4h.8M339.2 73.5h.8M312.0 83.5h.8M301.1 85.2h.8M317.0 88.0h.8M298.8 86.2h.8M338.4 71.4h.8M335.6 68.7h.8M316.7 82.6h.8M337.9 70.5h.8M307.1 83.2h.8M306.6 88.4h.8M318.0 85.5h.8M334.7 70.4h.8M339.0 69.7h.8M298.7 86.4h.8M319.9 85.9h.8M321.6 87.7h.8M320.2 85.5h.8M316.1 89.8h.8M336.2 74.4h.8M335.6 72.2h.8M337.9 67.7h.8M317.6 85.4h.8M300.1 85.5h.8M308.6 89.9h.8M305.0 89.6h.8M316.5 88.2h.8M336.7 73.8h.8M335.5 73.1h.8M316.6 86.3h.8M311.8 84.0h.8M305.7 89.0h.8M301.7 82.4h.8M338.1 73.2h.8M312.1 89.7h.8M319.4 84.2h.8M334.5 71.7h.8M320.4 85.3h.8M338.2 70.6h.8M338.0 69.4h.8M307.0 88.1h.8M305.9 88.2h.8" stroke="#54b490" stroke-width=".8" opacity="0.85"/>
<path d="M316.0 86.5h.8M308.4 83.4h.8M299.1 86.2h.8M337.1 67.5h.8M298.2 87.1h.8M307.9 82.7h.8M303.2 88.7h.8M297.8 85.5h.8M305.7 88.4h.8M311.4 82.4h.8M336.4 72.1h.8M338.9 66.7h.8M309.7 88.2h.8M298.0 87.0h.8M334.8 68.5h.8M301.1 86.4h.8M300.5 86.5h.8M323.0 87.6h.8M316.6 86.4h.8M302.5 83.5h.8M336.2 70.2h.8M337.9 72.5h.8M338.2 68.7h.8M303.7 84.1h.8M310.7 89.3h.8M322.9 87.8h.8M299.1 84.5h.8M301.6 83.8h.8M333.9 70.0h.8M338.2 72.7h.8M339.4 64.8h.8M317.1 88.4h.8M338.0 69.6h.8M322.2 86.5h.8M338.1 67.9h.8M316.5 86.5h.8M321.3 84.8h.8M301.7 83.8h.8M320.4 86.1h.8M335.6 71.3h.8M315.8 82.9h.8M338.5 64.4h.8M338.0 70.5h.8M339.5 65.2h.8" stroke="#54b484" stroke-width=".8" opacity="0.85"/>
<path d="M318.5 87.1h.8M315.8 89.9h.8M314.7 85.7h.8M302.9 88.6h.8M314.8 83.0h.8M333.7 70.8h.8M316.7 83.6h.8M321.3 86.5h.8M320.6 85.4h.8M317.5 83.0h.8M335.6 73.4h.8" stroke="#60c084" stroke-width=".8" opacity="0.85"/>
<path d="M313.7 85.4h.8M301.6 86.6h.8M334.3 72.7h.8M338.4 71.0h.8M304.4 85.2h.8M303.3 85.6h.8M303.5 90.0h.8M335.1 73.1h.8M316.3 82.2h.8M319.1 85.6h.8M318.2 88.4h.8M316.4 84.8h.8M315.1 83.5h.8M337.7 64.9h.8M316.7 86.0h.8M315.8 89.6h.8M335.7 69.9h.8M320.9 86.9h.8M338.0 72.0h.8M313.6 85.7h.8M335.8 72.5h.8M302.6 84.6h.8M335.9 68.0h.8M306.9 84.4h.8M339.1 69.4h.8M318.1 84.4h.8M314.9 89.9h.8M306.6 85.8h.8M316.1 88.5h.8M339.1 70.8h.8M312.7 82.9h.8M305.1 83.2h.8M304.5 88.7h.8M335.4 70.4h.8" stroke="#60c078" stroke-width=".8" opacity="0.85"/>
<path d="M315.9 87.1h.8M320.4 87.1h.8M338.0 70.7h.8M315.5 89.8h.8M305.6 87.5h.8M306.6 83.8h.8M307.4 88.4h.8M339.1 69.5h.8M308.1 89.2h.8M304.7 82.9h.8M302.5 85.7h.8M306.1 85.9h.8M303.4 84.4h.8M337.0 68.3h.8M317.9 85.0h.8M320.5 85.5h.8M317.0 83.1h.8M308.7 83.4h.8M310.9 83.9h.8M305.9 83.9h.8M316.6 88.3h.8M303.3 84.4h.8M336.7 72.4h.8M319.7 87.5h.8M307.6 82.8h.8M321.5 86.4h.8M320.1 85.5h.8M307.1 83.6h.8M337.5 68.6h.8M300.4 85.2h.8M335.9 69.4h.8M320.0 85.5h.8M301.5 85.5h.8M314.9 87.2h.8M315.6 89.5h.8M334.8 73.8h.8M334.1 73.4h.8M315.9 84.0h.8M305.3 89.5h.8M308.8 89.8h.8M299.7 86.2h.8M301.7 89.4h.8M336.4 70.7h.8M301.2 86.7h.8M317.3 83.1h.8" stroke="#60c06c" stroke-width=".8" opacity="0.85"/>
<path d="M338.9 67.0h.8M317.5 82.7h.8" stroke="#60c060" stroke-width=".8" opacity="0.85"/>
<path d="M320.5 85.4h.8M312.2 85.9h.8M314.3 82.6h.8M314.4 89.1h.8M320.9 86.6h.8M303.3 87.9h.8M320.2 86.8h.8M338.3 70.2h.8M338.3 69.3h.8M311.9 85.6h.8M337.5 73.7h.8M337.7 70.3h.8M334.6 73.9h.8M303.7 89.1h.8M334.5 70.4h.8M334.0 70.0h.8M337.2 68.5h.8M338.5 66.3h.8M310.6 88.2h.8M315.0 85.4h.8M306.9 89.3h.8M302.8 89.2h.8M303.6 84.7h.8M310.0 89.5h.8M336.1 69.5h.8M336.3 72.2h.8M299.8 86.8h.8M314.4 83.8h.8M303.0 84.4h.8M305.6 88.9h.8M306.3 88.0h.8M303.8 83.7h.8M306.7 82.9h.8M309.0 88.4h.8M309.7 88.2h.8M311.0 84.5h.8M315.1 86.4h.8M306.9 90.0h.8M334.6 73.3h.8M315.5 86.9h.8M337.6 70.6h.8M311.6 84.0h.8M306.7 85.8h.8M316.1 88.7h.8" stroke="#6cc060" stroke-width=".8" opacity="0.85"/>
<path d="M304.7 86.9h.8M312.4 85.8h.8M305.4 83.0h.8M336.2 70.5h.8M316.7 89.4h.8M306.2 86.5h.8M314.9 85.2h.8M318.9 86.0h.8M308.5 89.4h.8M305.4 85.8h.8M313.5 89.6h.8M337.0 70.2h.8M337.9 70.8h.8M304.7 85.8h.8M306.1 89.7h.8M320.6 85.2h.8M338.3 71.4h.8M315.5 83.0h.8M311.0 83.9h.8M334.5 70.8h.8M310.5 85.9h.8M303.3 86.7h.8M334.7 70.7h.8M318.6 85.5h.8M315.6 83.5h.8M308.3 89.1h.8M314.1 86.8h.8M305.6 89.8h.8M313.2 84.4h.8M311.6 84.0h.8M336.3 68.3h.8M314.8 88.5h.8M303.1 87.2h.8M303.7 85.5h.8M316.3 84.6h.8M311.7 82.4h.8M312.1 85.5h.8M305.2 86.1h.8M306.9 86.0h.8M303.4 85.2h.8M311.7 88.8h.8M309.1 87.1h.8M337.8 68.0h.8" stroke="#6cc054" stroke-width=".8" opacity="0.85"/>
<path d="M300.6 86.2h.8M312.4 89.1h.8M312.3 83.4h.8M302.1 86.0h.8M321.3 86.7h.8M318.8 86.0h.8M337.1 71.8h.8M306.7 83.5h.8M336.3 69.2h.8M312.8 89.1h.8M306.8 89.2h.8M318.2 85.2h.8M305.0 83.9h.8M311.6 82.7h.8M313.2 82.9h.8M300.3 87.0h.8M315.0 83.9h.8M307.5 85.6h.8M315.4 87.7h.8M334.8 71.2h.8M337.1 71.5h.8" stroke="#6cc048" stroke-width=".8" opacity="0.85"/>
<path d="M315.3 87.6h.8M300.8 87.7h.8M337.0 68.9h.8M307.6 87.5h.8M304.4 86.2h.8M305.6 86.3h.8M319.8 85.4h.8M314.0 83.0h.8M337.5 69.8h.8M311.2 84.9h.8M308.7 84.5h.8M316.9 84.7h.8M314.3 85.9h.8M302.0 89.7h.8M315.7 86.0h.8M314.6 84.8h.8M312.9 82.2h.8M301.7 85.9h.8M313.4 85.8h.8M318.7 87.4h.8M317.1 89.9h.8M317.4 88.7h.8M314.5 87.8h.8M316.7 84.7h.8M310.2 89.5h.8M305.2 84.2h.8M335.0 71.8h.8M306.1 86.4h.8M335.9 72.9h.8M301.6 85.3h.8M316.0 87.7h.8M316.3 85.4h.8M310.4 88.1h.8M316.7 85.9h.8M310.9 84.5h.8M308.6 83.6h.8M318.0 86.1h.8M310.0 88.8h.8M314.3 87.6h.8M308.6 82.4h.8M334.2 72.0h.8M310.9 82.1h.8M305.4 84.8h.8M304.6 85.1h.8M302.6 85.1h.8M310.8 89.3h.8M315.3 87.9h.8M311.1 85.0h.8M300.7 85.2h.8M305.8 86.1h.8M312.6 88.8h.8M314.6 86.8h.8M337.0 68.3h.8M315.1 89.5h.8M318.0 85.2h.8M311.3 87.3h.8M312.2 87.2h.8M308.5 84.9h.8M336.9 70.8h.8M334.3 70.5h.8" stroke="#78c048" stroke-width=".8" opacity="0.85"/>
<path d="M309.7 83.2h.8M318.5 86.5h.8M306.8 86.8h.8M304.2 85.5h.8M309.8 83.5h.8M314.6 85.4h.8M313.9 85.0h.8M319.1 85.5h.8M320.9 87.8h.8M316.5 88.4h.8M303.5 88.0h.8M305.1 86.4h.8M304.9 85.8h.8M305.8 88.4h.8M299.7 85.5h.8M300.0 86.2h.8M318.5 87.4h.8M302.7 85.0h.8M308.7 85.6h.8M310.1 86.6h.8M313.0 87.1h.8M315.7 87.8h.8M308.4 83.8h.8M303.0 86.9h.8M300.8 84.5h.8M335.7 70.0h.8M311.1 87.3h.8M319.1 87.7h.8M301.4 85.8h.8M318.8 85.6h.8M336.0 70.4h.8M314.8 87.0h.8M312.8 85.3h.8M337.4 70.6h.8M307.8 84.2h.8M316.4 88.9h.8M314.9 88.6h.8M300.9 87.1h.8M309.3 87.6h.8M314.4 88.6h.8M301.6 87.4h.8M304.1 86.1h.8M309.8 89.0h.8M309.9 86.2h.8M310.7 87.5h.8" stroke="#84c048" stroke-width=".8" opacity="0.85"/>
<path d="M316.3 84.3h.8M313.1 89.4h.8M305.7 86.7h.8M308.3 86.4h.8M312.6 82.1h.8M301.8 87.8h.8M317.5 89.3h.8M302.6 86.1h.8M317.2 87.9h.8M307.6 85.8h.8M312.7 89.5h.8M336.0 70.4h.8M305.0 87.7h.8M301.2 85.4h.8M303.9 85.0h.8M317.1 85.7h.8M304.2 88.7h.8M308.4 87.6h.8M304.6 89.2h.8M319.2 85.8h.8M306.9 87.6h.8M315.8 84.1h.8M310.1 82.7h.8M301.9 85.9h.8M316.3 85.9h.8M318.9 86.4h.8M309.4 88.1h.8M317.8 84.5h.8M302.1 85.8h.8M313.3 84.6h.8M304.4 84.3h.8M314.5 86.2h.8M304.4 85.8h.8M313.1 84.8h.8M315.0 86.8h.8M317.9 86.9h.8M311.0 85.0h.8M309.9 88.8h.8M307.9 88.5h.8M312.3 86.6h.8M318.0 84.9h.8M316.1 86.4h.8M308.2 88.3h.8M309.1 87.1h.8M317.8 85.4h.8" stroke="#90c048" stroke-width=".8" opacity="0.85"/>
<path d="M305.7 88.8h.8M307.9 87.2h.8M309.6 88.6h.8M302.6 87.1h.8M312.9 87.9h.8M303.0 86.4h.8M312.6 86.3h.8M316.2 87.6h.8M300.5 84.9h.8M311.7 85.8h.8M308.5 82.9h.8M314.9 88.8h.8M316.0 86.7h.8M305.4 86.5h.8M303.8 88.9h.8M315.1 89.2h.8M313.0 89.1h.8M308.3 85.9h.8M309.4 83.4h.8M304.5 86.1h.8M308.7 85.4h.8M305.7 86.8h.8M311.8 86.5h.8M312.4 87.0h.8M307.0 88.4h.8M304.6 84.2h.8M317.8 86.1h.8M335.8 70.6h.8M304.4 84.9h.8M304.1 85.1h.8M318.5 87.0h.8M312.2 89.1h.8M305.2 84.3h.8M311.4 84.7h.8M310.1 88.6h.8M305.0 85.5h.8M317.1 84.2h.8M303.2 85.4h.8M313.7 85.9h.8M318.9 87.7h.8M316.1 85.9h.8M305.7 85.9h.8M314.0 87.3h.8M304.1 86.5h.8M312.1 84.2h.8M318.2 85.2h.8M304.9 87.2h.8M302.5 86.3h.8M318.6 87.6h.8M312.6 86.0h.8M313.3 87.9h.8M301.7 84.3h.8M302.0 87.3h.8M315.1 89.9h.8" stroke="#9cc03c" stroke-width=".8" opacity="0.85"/>
<path d="M311.1 84.3h.8M302.6 87.0h.8M301.7 84.1h.8M318.8 86.7h.8M311.4 85.5h.8M314.2 85.1h.8M316.9 85.7h.8M315.2 89.1h.8M309.5 84.8h.8M313.2 86.4h.8M304.4 85.6h.8M309.2 85.1h.8" stroke="#a8c03c" stroke-width=".8" opacity="0.85"/>
<path d="M316.8 84.4h.8M302.3 85.5h.8M305.1 87.6h.8M317.6 85.4h.8M312.5 88.4h.8M309.0 88.0h.8M312.7 89.7h.8M305.4 87.2h.8M303.2 87.3h.8M311.2 84.9h.8M313.2 89.6h.8M311.5 85.3h.8M308.1 87.6h.8M314.1 84.5h.8M306.1 88.4h.8M304.1 86.3h.8M303.4 86.5h.8M306.4 85.7h.8M317.8 85.2h.8M313.6 89.4h.8M316.2 85.6h.8M314.0 85.9h.8M306.4 90.0h.8M306.0 85.5h.8" stroke="#a8cc3c" stroke-width=".8" opacity="0.85"/>
<path d="M309.6 85.8h.8M305.3 87.5h.8M313.5 86.8h.8M309.6 88.5h.8M301.7 87.9h.8M308.3 88.1h.8M309.2 88.2h.8M305.9 86.4h.8M313.0 88.3h.8M302.5 85.1h.8M307.1 84.1h.8M307.8 85.3h.8M303.7 87.7h.8M301.8 87.3h.8M306.2 86.3h.8M307.2 87.2h.8M304.7 85.8h.8M312.6 84.1h.8M313.2 85.6h.8M302.5 87.5h.8M318.6 86.6h.8M317.4 85.7h.8M308.6 88.7h.8M311.5 88.1h.8M317.9 84.1h.8M315.9 86.8h.8M315.6 86.1h.8M314.4 86.3h.8M309.1 86.0h.8M315.1 85.5h.8M306.2 84.5h.8M306.5 87.0h.8M313.3 90.0h.8M310.4 88.5h.8M307.5 88.1h.8M306.2 87.7h.8M309.6 88.6h.8M309.7 86.1h.8M311.9 87.0h.8M305.1 85.0h.8M312.4 88.6h.8M315.6 86.7h.8M312.4 88.6h.8M306.4 86.0h.8M315.5 89.1h.8M311.1 85.2h.8M309.1 85.4h.8M315.1 88.9h.8M302.1 86.1h.8" stroke="#b4cc3c" stroke-width=".8" opacity="0.85"/>
<path d="M306.9 86.9h.8M308.8 84.1h.8M306.7 86.2h.8M319.3 84.3h.8M303.5 87.4h.8M312.9 89.6h.8M304.1 86.8h.8M307.5 84.7h.8M304.6 87.8h.8M303.7 86.0h.8M313.5 88.5h.8M309.8 86.8h.8M310.9 89.0h.8M316.1 85.5h.8M312.7 85.6h.8M312.8 88.4h.8M314.9 87.3h.8M312.5 87.7h.8M311.1 88.8h.8M303.3 84.1h.8M307.6 84.2h.8M302.5 84.9h.8M306.1 85.7h.8M313.9 85.3h.8M314.5 85.2h.8M310.8 89.7h.8M313.9 87.2h.8M302.7 86.3h.8M308.9 85.1h.8M304.2 84.6h.8M304.5 85.1h.8M308.9 87.0h.8M306.7 86.7h.8M307.1 84.7h.8M317.4 84.1h.8M317.5 85.2h.8M311.9 85.5h.8M313.1 88.7h.8M301.7 87.5h.8M309.1 87.4h.8" stroke="#c0cc3c" stroke-width=".8" opacity="0.85"/>
<path d="M306.3 85.0h.8M305.3 86.9h.8M313.0 84.7h.8M308.1 87.2h.8M309.5 86.2h.8M310.7 88.8h.8M315.0 85.7h.8M316.6 86.1h.8M306.1 85.8h.8M304.1 85.3h.8M312.1 84.1h.8M316.7 87.5h.8M302.0 85.8h.8M311.5 89.5h.8M310.8 86.2h.8M315.0 84.0h.8" stroke="#cccc3c" stroke-width=".8" opacity="0.85"/>
<path d="M311.3 89.1h.8M303.7 86.6h.8M302.9 87.6h.8M302.6 87.0h.8M311.7 90.0h.8M312.9 86.2h.8M315.8 84.8h.8M311.5 88.1h.8M311.4 87.5h.8M314.8 84.9h.8M302.1 85.1h.8M312.2 84.9h.8M315.1 84.3h.8M309.4 86.1h.8M307.8 89.6h.8M313.2 85.1h.8M302.8 87.8h.8M304.2 86.9h.8M310.0 86.6h.8M309.1 84.9h.8M309.1 85.4h.8M315.9 87.2h.8" stroke="#cccc30" stroke-width=".8" opacity="0.85"/>
<path d="M312.3 87.6h.8M302.0 86.7h.8M314.2 86.4h.8M305.8 84.4h.8M303.3 86.0h.8M313.2 85.1h.8M306.0 87.2h.8" stroke="#ccc030" stroke-width=".8" opacity="0.85"/>
<path d="M311.6 85.3h.8M306.7 84.4h.8M307.9 87.7h.8M312.9 86.8h.8M311.4 87.4h.8M301.9 84.4h.8M311.6 88.4h.8M311.9 85.6h.8M311.5 88.5h.8M312.4 86.1h.8M317.1 86.3h.8M303.3 86.2h.8M304.4 87.7h.8M310.5 86.6h.8M314.0 87.8h.8M303.3 85.3h.8M302.5 84.9h.8M306.1 87.9h.8M308.5 84.8h.8M307.6 85.3h.8M310.9 87.1h.8M303.8 86.9h.8M306.1 87.7h.8M303.4 85.3h.8M306.0 85.0h.8M308.6 87.6h.8M307.5 85.7h.8M312.6 87.3h.8M315.7 86.9h.8M311.0 84.6h.8M308.9 84.4h.8M315.7 85.4h.8M313.8 87.7h.8M316.4 84.3h.8M303.4 86.7h.8M303.3 85.8h.8M302.6 86.1h.8M315.0 87.5h.8M309.4 85.9h.8M307.7 87.2h.8" stroke="#d8c030" stroke-width=".8" opacity="0.85"/>
<path d="M303.8 85.5h.8M315.6 87.4h.8M316.3 85.8h.8M303.3 85.4h.8M310.1 88.2h.8M301.8 85.4h.8M311.2 89.9h.8M311.1 85.7h.8M301.9 85.3h.8M309.2 85.5h.8M316.4 87.3h.8M314.9 86.0h.8M303.6 87.5h.8M314.4 84.6h.8M315.8 87.8h.8M309.9 86.4h.8M303.5 87.0h.8M314.3 86.7h.8M311.9 85.9h.8M302.0 85.9h.8M305.2 86.1h.8M310.6 89.3h.8M305.4 85.5h.8" stroke="#d8b430" stroke-width=".8" opacity="0.85"/>
<path d="M307.8 84.6h.8M314.1 87.1h.8M309.9 85.6h.8M306.6 86.9h.8M313.2 84.9h.8M302.7 87.5h.8M306.0 87.2h.8M309.2 85.2h.8M312.9 86.4h.8M311.8 87.6h.8M310.4 87.8h.8M306.2 85.3h.8M308.0 87.7h.8M302.2 86.8h.8M305.4 86.1h.8" stroke="#e4b430" stroke-width=".8" opacity="0.85"/>
<path d="M303.1 87.4h.8M315.3 86.6h.8M303.4 86.4h.8M307.1 86.2h.8M307.5 85.9h.8M314.4 86.8h.8M309.3 85.7h.8M304.1 84.8h.8M313.9 84.6h.8M306.7 86.3h.8M306.9 86.5h.8M313.2 84.9h.8M310.9 87.5h.8M307.2 85.9h.8M309.7 87.5h.8M314.2 85.3h.8M313.7 84.4h.8M311.1 86.8h.8M314.8 85.0h.8M312.5 85.9h.8M306.2 85.8h.8M310.4 86.0h.8M308.6 87.9h.8M306.8 86.2h.8M303.2 87.8h.8M314.5 87.4h.8M309.8 85.5h.8M312.3 85.3h.8M308.9 87.6h.8M306.3 88.0h.8" stroke="#e4a830" stroke-width=".8" opacity="0.85"/>
<path d="M312.1 87.0h.8M308.1 85.0h.8M313.9 85.9h.8M312.3 85.3h.8M311.9 86.9h.8M315.4 87.7h.8M311.2 85.4h.8M314.3 86.7h.8M312.4 85.8h.8M310.4 87.3h.8M313.8 86.3h.8M307.0 86.9h.8M310.6 87.6h.8M310.8 84.8h.8M306.1 84.4h.8M310.3 86.0h.8M308.5 87.5h.8M306.4 84.2h.8M312.0 86.3h.8M305.5 85.9h.8M309.1 86.2h.8M311.3 87.2h.8M312.7 85.1h.8M308.3 85.0h.8M310.1 86.8h.8" stroke="#e49c30" stroke-width=".8" opacity="0.85"/>
<path d="M309.8 84.8h.8M310.3 85.1h.8M309.2 84.5h.8M310.3 85.0h.8M312.1 84.9h.8M308.4 86.0h.8M313.5 87.2h.8M312.6 87.4h.8M309.1 84.5h.8M313.0 84.4h.8M312.2 85.2h.8M305.3 87.5h.8M308.4 87.1h.8M308.6 87.5h.8M307.4 87.1h.8M309.7 86.8h.8M310.5 86.2h.8M310.9 85.3h.8M313.6 86.0h.8M306.0 87.3h.8M307.3 87.4h.8" stroke="#e49024" stroke-width=".8" opacity="0.85"/>
<path d="M312.8 85.4h.8M308.4 84.6h.8M314.6 87.1h.8M311.1 86.1h.8M308.3 86.5h.8M314.3 87.2h.8M315.5 87.5h.8M308.3 87.9h.8M307.8 84.3h.8M307.6 84.9h.8M306.7 86.7h.8M309.4 86.0h.8M307.9 86.2h.8M312.2 84.6h.8M309.9 85.0h.8M308.0 86.8h.8M310.6 84.7h.8M308.9 86.4h.8M313.2 86.7h.8M308.5 86.1h.8M314.6 87.3h.8M311.3 85.5h.8M311.6 87.3h.8M309.8 86.6h.8M311.4 87.6h.8M310.5 87.0h.8M309.7 84.8h.8M311.1 87.4h.8M312.9 87.2h.8M313.1 87.7h.8M311.1 86.9h.8M311.7 87.4h.8M308.1 86.9h.8M311.8 86.1h.8M309.6 86.5h.8M309.0 85.9h.8M308.3 86.7h.8M308.4 85.2h.8M311.4 86.8h.8M310.9 87.8h.8M310.4 86.8h.8M310.6 87.6h.8M309.3 87.4h.8M311.5 86.4h.8M310.3 87.1h.8M307.6 85.3h.8M307.5 86.0h.8" stroke="#e48424" stroke-width=".8" opacity="0.85"/>
<rect x="293.6" y="34.0" width="77.2" height="76.6" fill="none" stroke="#2a2a2a" stroke-width="1.1"/>
<line x1="291.6" y1="38.3" x2="293.6" y2="38.3" stroke="#444" stroke-width="0.8"/>
<line x1="291.6" y1="57.4" x2="293.6" y2="57.4" stroke="#444" stroke-width="0.8"/>
<line x1="291.6" y1="79.4" x2="293.6" y2="79.4" stroke="#444" stroke-width="0.8"/>
<line x1="291.6" y1="92.2" x2="293.6" y2="92.2" stroke="#444" stroke-width="0.8"/>
<line x1="291.6" y1="105.5" x2="293.6" y2="105.5" stroke="#444" stroke-width="0.8"/>
<line x1="292.4" y1="40.5" x2="293.6" y2="40.5" stroke="#777" stroke-width="0.5"/>
<line x1="292.4" y1="42.5" x2="293.6" y2="42.5" stroke="#777" stroke-width="0.5"/>
<line x1="292.4" y1="44.6" x2="293.6" y2="44.6" stroke="#777" stroke-width="0.5"/>
<line x1="292.4" y1="47.0" x2="293.6" y2="47.0" stroke="#777" stroke-width="0.5"/>
<line x1="292.4" y1="51.0" x2="293.6" y2="51.0" stroke="#777" stroke-width="0.5"/>
<line x1="292.4" y1="59.5" x2="293.6" y2="59.5" stroke="#777" stroke-width="0.5"/>
<line x1="292.4" y1="61.5" x2="293.6" y2="61.5" stroke="#777" stroke-width="0.5"/>
<line x1="292.4" y1="63.5" x2="293.6" y2="63.5" stroke="#777" stroke-width="0.5"/>
<line x1="292.4" y1="66.0" x2="293.6" y2="66.0" stroke="#777" stroke-width="0.5"/>
<line x1="292.4" y1="70.0" x2="293.6" y2="70.0" stroke="#777" stroke-width="0.5"/>
<line x1="292.4" y1="82.0" x2="293.6" y2="82.0" stroke="#777" stroke-width="0.5"/>
<line x1="292.4" y1="85.0" x2="293.6" y2="85.0" stroke="#777" stroke-width="0.5"/>
<line x1="292.4" y1="88.0" x2="293.6" y2="88.0" stroke="#777" stroke-width="0.5"/>
<line x1="292.4" y1="95.0" x2="293.6" y2="95.0" stroke="#777" stroke-width="0.5"/>
<line x1="292.4" y1="98.0" x2="293.6" y2="98.0" stroke="#777" stroke-width="0.5"/>
<line x1="292.4" y1="101.0" x2="293.6" y2="101.0" stroke="#777" stroke-width="0.5"/>
<line x1="292.4" y1="103.0" x2="293.6" y2="103.0" stroke="#777" stroke-width="0.5"/>
<line x1="296.9" y1="110.6" x2="296.9" y2="112.6" stroke="#444" stroke-width="0.8"/>
<line x1="311.0" y1="110.6" x2="311.0" y2="112.6" stroke="#444" stroke-width="0.8"/>
<line x1="325.6" y1="110.6" x2="325.6" y2="112.6" stroke="#444" stroke-width="0.8"/>
<line x1="345.6" y1="110.6" x2="345.6" y2="112.6" stroke="#444" stroke-width="0.8"/>
<line x1="363.6" y1="110.6" x2="363.6" y2="112.6" stroke="#444" stroke-width="0.8"/>
<line x1="300.4" y1="110.6" x2="300.4" y2="111.8" stroke="#777" stroke-width="0.5"/>
<line x1="303.4" y1="110.6" x2="303.4" y2="111.8" stroke="#777" stroke-width="0.5"/>
<line x1="306.4" y1="110.6" x2="306.4" y2="111.8" stroke="#777" stroke-width="0.5"/>
<line x1="314.4" y1="110.6" x2="314.4" y2="111.8" stroke="#777" stroke-width="0.5"/>
<line x1="318.4" y1="110.6" x2="318.4" y2="111.8" stroke="#777" stroke-width="0.5"/>
<line x1="321.4" y1="110.6" x2="321.4" y2="111.8" stroke="#777" stroke-width="0.5"/>
<line x1="329.4" y1="110.6" x2="329.4" y2="111.8" stroke="#777" stroke-width="0.5"/>
<line x1="332.4" y1="110.6" x2="332.4" y2="111.8" stroke="#777" stroke-width="0.5"/>
<line x1="335.4" y1="110.6" x2="335.4" y2="111.8" stroke="#777" stroke-width="0.5"/>
<line x1="338.4" y1="110.6" x2="338.4" y2="111.8" stroke="#777" stroke-width="0.5"/>
<line x1="341.4" y1="110.6" x2="341.4" y2="111.8" stroke="#777" stroke-width="0.5"/>
<line x1="349.4" y1="110.6" x2="349.4" y2="111.8" stroke="#777" stroke-width="0.5"/>
<line x1="352.4" y1="110.6" x2="352.4" y2="111.8" stroke="#777" stroke-width="0.5"/>
<line x1="355.4" y1="110.6" x2="355.4" y2="111.8" stroke="#777" stroke-width="0.5"/>
<line x1="358.4" y1="110.6" x2="358.4" y2="111.8" stroke="#777" stroke-width="0.5"/>
<line x1="360.4" y1="110.6" x2="360.4" y2="111.8" stroke="#777" stroke-width="0.5"/>
<circle cx="311.0" cy="111.6" r="1.3" fill="#222"/>
<circle cx="293.6" cy="92.2" r="1.1" fill="#222"/>
<rect x="293.6" y="74.5" width="33.0" height="18.3" fill="none" stroke="#2a2a2a" stroke-width="1.1"/>
<rect x="327.4" y="55.5" width="26.3" height="29.2" fill="none" stroke="#2a2a2a" stroke-width="1.1"/>
<text x="301.0" y="73.8" font-size="10" stroke="#1a1a1a" stroke-width="0.22">73%</text>
<text x="340.5" y="54.4" font-size="10" text-anchor="middle" stroke="#1a1a1a" stroke-width="0.22">24%</text>
<text x="38.6" y="100.2" font-size="10" stroke="#1a1a1a" stroke-width="0.22">debris</text>
<text x="80.2" y="92.3" font-size="10" stroke="#1a1a1a" stroke-width="0.22">cells</text>
<text x="19.2" y="44.8" font-size="9.6" stroke="#1a1a1a" stroke-width="0.22">10</text>
<text x="29.4" y="41.2" font-size="5.76" stroke="#1a1a1a" stroke-width="0.22">5</text>
<text x="19.2" y="63.7" font-size="9.6" stroke="#1a1a1a" stroke-width="0.22">10</text>
<text x="29.4" y="60.1" font-size="5.76" stroke="#1a1a1a" stroke-width="0.22">4</text>
<text x="19.2" y="84.5" font-size="9.6" stroke="#1a1a1a" stroke-width="0.22">10</text>
<text x="29.4" y="80.9" font-size="5.76" stroke="#1a1a1a" stroke-width="0.22">3</text>
<text x="31.0" y="97.8" font-size="9.6" text-anchor="end" stroke="#1a1a1a" stroke-width="0.22">0</text>
<text x="16.0" y="110.7" font-size="9.6" stroke="#1a1a1a" stroke-width="0.22">-</text>
<text x="19.2" y="110.7" font-size="9.6" stroke="#1a1a1a" stroke-width="0.22">10</text>
<text x="29.4" y="107.1" font-size="5.76" stroke="#1a1a1a" stroke-width="0.22">3</text>
<text x="30.6" y="122.5" font-size="9.6" stroke="#1a1a1a" stroke-width="0.22">-</text>
<text x="33.8" y="122.5" font-size="9.6" stroke="#1a1a1a" stroke-width="0.22">10</text>
<text x="44.0" y="118.9" font-size="5.76" stroke="#1a1a1a" stroke-width="0.22">3</text>
<text x="60.3" y="122.5" font-size="9.6" stroke="#1a1a1a" stroke-width="0.22">10</text>
<text x="70.5" y="118.9" font-size="5.76" stroke="#1a1a1a" stroke-width="0.22">3</text>
<text x="80.9" y="122.5" font-size="9.6" stroke="#1a1a1a" stroke-width="0.22">10</text>
<text x="91.1" y="118.9" font-size="5.76" stroke="#1a1a1a" stroke-width="0.22">4</text>
<text x="100.0" y="122.5" font-size="9.6" stroke="#1a1a1a" stroke-width="0.22">10</text>
<text x="110.2" y="118.9" font-size="5.76" stroke="#1a1a1a" stroke-width="0.22">5</text>
<text x="53.8" y="122.5" font-size="9.6" text-anchor="middle" stroke="#1a1a1a" stroke-width="0.22">0</text>
<path d="M350.3 74.2 V91.1 H332.5" fill="none" stroke="#666" stroke-width="1.1"/>
<path d="M330.0 91.1 L334.5 89.2 L334.5 93.0 Z" fill="#666"/>
<text x="382.5" y="9.8" font-size="11" font-weight="bold" fill="#000">B</text>
<text x="440.1" y="27.5" font-size="10" text-anchor="middle" stroke="#1a1a1a" stroke-width="0.22">hltln1</text>
<line x1="400.5" y1="56.6" x2="479.7" y2="56.6" stroke="#c8c8c8" stroke-width="0.8"/>
<path d="M421.0 56.6 L421.0 55.9 L422.0 55.4 L423.0 54.8 L424.0 53.3 L425.0 53.3 L426.0 51.6 L427.0 49.2 L428.0 45.7 L429.0 44.8 L430.0 42.2 L431.0 39.3 L432.0 37.6 L433.0 36.2 L434.0 36.5 L435.0 36.2 L436.0 36.0 L437.0 34.7 L438.0 35.2 L439.0 35.1 L440.0 35.9 L441.0 35.5 L442.0 36.6 L443.0 37.2 L444.0 37.2 L445.0 37.3 L446.0 36.7 L447.0 36.1 L448.0 35.5 L449.0 38.1 L450.0 40.4 L451.0 42.4 L452.0 44.7 L453.0 48.6 L454.0 51.8 L455.0 52.3 L456.0 52.9 L457.0 54.7 L458.0 55.4 L459.0 55.9 L460.0 56.2 L461.0 56.4 L461.0 56.6 Z" fill="#a3a3a3"/>
<line x1="400.5" y1="69.3" x2="479.7" y2="69.3" stroke="#c8c8c8" stroke-width="0.8"/>
<path d="M416.0 69.3 L416.0 69.3 L417.0 69.3 L418.0 69.3 L419.0 69.3 L420.0 69.3 L421.0 69.3 L422.0 69.3 L423.0 69.3 L424.0 69.3 L425.0 67.4 L426.0 67.0 L427.0 65.7 L428.0 66.0 L429.0 64.3 L430.0 63.2 L431.0 60.5 L432.0 59.3 L433.0 57.8 L434.0 56.3 L435.0 53.9 L436.0 51.9 L437.0 50.6 L438.0 47.7 L439.0 47.1 L440.0 50.4 L441.0 49.5 L442.0 48.2 L443.0 49.3 L444.0 49.7 L445.0 51.1 L446.0 50.8 L447.0 55.8 L448.0 56.9 L449.0 56.2 L450.0 59.3 L451.0 60.9 L452.0 63.5 L453.0 65.9 L454.0 65.2 L455.0 66.2 L456.0 69.3 L457.0 69.3 L458.0 69.3 L459.0 69.3 L460.0 69.3 L461.0 69.3 L462.0 69.3 L463.0 69.3 L464.0 69.3 L464.0 69.3 Z" fill="#6a9fd8"/>
<line x1="400.5" y1="81.9" x2="479.7" y2="81.9" stroke="#c8c8c8" stroke-width="0.8"/>
<path d="M416.0 81.9 L416.0 81.9 L417.0 81.9 L418.0 81.9 L419.0 81.9 L420.0 81.9 L421.0 81.9 L422.0 81.9 L423.0 81.9 L424.0 81.9 L425.0 81.9 L426.0 78.7 L427.0 79.2 L428.0 78.2 L429.0 77.5 L430.0 74.9 L431.0 73.8 L432.0 71.4 L433.0 70.7 L434.0 68.0 L435.0 67.1 L436.0 63.6 L437.0 62.7 L438.0 61.3 L439.0 60.3 L440.0 61.3 L441.0 59.5 L442.0 58.6 L443.0 63.1 L444.0 64.3 L445.0 65.5 L446.0 64.7 L447.0 67.2 L448.0 68.0 L449.0 70.2 L450.0 72.4 L451.0 73.9 L452.0 75.8 L453.0 76.0 L454.0 79.1 L455.0 79.3 L456.0 79.4 L457.0 78.4 L458.0 81.9 L459.0 81.9 L460.0 81.9 L461.0 81.9 L462.0 81.9 L463.0 81.9 L464.0 81.9 L464.0 81.9 Z" fill="#17858a"/>
<line x1="400.5" y1="94.5" x2="479.7" y2="94.5" stroke="#c8c8c8" stroke-width="0.8"/>
<path d="M416.0 94.5 L416.0 94.5 L417.0 94.5 L418.0 94.5 L419.0 94.5 L420.0 94.5 L421.0 94.5 L422.0 94.5 L423.0 94.5 L424.0 94.5 L425.0 89.6 L426.0 92.0 L427.0 91.8 L428.0 90.8 L429.0 90.0 L430.0 89.0 L431.0 86.7 L432.0 84.1 L433.0 82.9 L434.0 79.8 L435.0 79.1 L436.0 77.0 L437.0 73.9 L438.0 73.7 L439.0 73.8 L440.0 73.0 L441.0 72.3 L442.0 71.3 L443.0 74.3 L444.0 75.4 L445.0 75.6 L446.0 79.0 L447.0 80.2 L448.0 80.8 L449.0 82.9 L450.0 85.1 L451.0 86.1 L452.0 91.1 L453.0 88.5 L454.0 91.5 L455.0 94.5 L456.0 91.9 L457.0 92.1 L458.0 94.5 L459.0 94.5 L460.0 94.5 L461.0 94.5 L462.0 94.5 L463.0 94.5 L464.0 94.5 L464.0 94.5 Z" fill="#0f5491"/>
<line x1="400.5" y1="106.9" x2="479.7" y2="106.9" stroke="#c8c8c8" stroke-width="0.8"/>
<path d="M414.0 106.9 L414.0 106.9 L415.0 106.9 L416.0 106.1 L417.0 106.1 L418.0 106.1 L419.0 106.1 L420.0 106.1 L421.0 106.1 L422.0 106.1 L423.0 106.1 L424.0 103.7 L425.0 105.2 L426.0 103.7 L427.0 101.3 L428.0 101.9 L429.0 100.4 L430.0 99.3 L431.0 97.1 L432.0 96.7 L433.0 93.9 L434.0 90.6 L435.0 89.7 L436.0 88.4 L437.0 86.6 L438.0 85.5 L439.0 85.0 L440.0 84.6 L441.0 86.1 L442.0 85.4 L443.0 87.2 L444.0 87.7 L445.0 89.9 L446.0 92.3 L447.0 93.6 L448.0 96.1 L449.0 96.7 L450.0 99.0 L451.0 100.0 L452.0 102.5 L453.0 102.0 L454.0 104.1 L455.0 103.9 L456.0 104.8 L457.0 106.9 L458.0 106.9 L459.0 106.9 L460.0 106.9 L461.0 106.9 L462.0 106.9 L463.0 106.9 L464.0 106.9 L464.0 106.9 Z" fill="#2b2a86"/>
<text x="477.7" y="55.8" font-size="10" text-anchor="end" fill="#111" stroke="#111" stroke-width="0.22">10 nM</text>
<text x="477.7" y="68.5" font-size="10" text-anchor="end" fill="#111" stroke="#111" stroke-width="0.22">100 nM</text>
<text x="477.7" y="81.1" font-size="10" text-anchor="end" fill="#111" stroke="#111" stroke-width="0.22">1 µM</text>
<text x="477.7" y="93.7" font-size="10" text-anchor="end" fill="#111" stroke="#111" stroke-width="0.22">2.5 µM</text>
<text x="477.7" y="106.1" font-size="10" text-anchor="end" fill="#111" stroke="#111" stroke-width="0.22">5 µM</text>
<rect x="400.5" y="29.4" width="79.2" height="77.5" fill="none" stroke="#2a2a2a" stroke-width="1.1"/>
<line x1="404.5" y1="106.9" x2="404.5" y2="108.2" stroke="#777" stroke-width="0.5"/>
<line x1="409.2" y1="106.9" x2="409.2" y2="108.2" stroke="#777" stroke-width="0.5"/>
<line x1="413.9" y1="106.9" x2="413.9" y2="108.2" stroke="#777" stroke-width="0.5"/>
<line x1="418.6" y1="106.9" x2="418.6" y2="108.2" stroke="#777" stroke-width="0.5"/>
<line x1="423.3" y1="106.9" x2="423.3" y2="108.2" stroke="#777" stroke-width="0.5"/>
<line x1="428.0" y1="106.9" x2="428.0" y2="108.2" stroke="#777" stroke-width="0.5"/>
<line x1="432.7" y1="106.9" x2="432.7" y2="108.2" stroke="#777" stroke-width="0.5"/>
<line x1="437.4" y1="106.9" x2="437.4" y2="108.2" stroke="#777" stroke-width="0.5"/>
<line x1="442.1" y1="106.9" x2="442.1" y2="108.2" stroke="#777" stroke-width="0.5"/>
<line x1="446.8" y1="106.9" x2="446.8" y2="108.2" stroke="#777" stroke-width="0.5"/>
<line x1="451.5" y1="106.9" x2="451.5" y2="108.2" stroke="#777" stroke-width="0.5"/>
<line x1="456.2" y1="106.9" x2="456.2" y2="108.2" stroke="#777" stroke-width="0.5"/>
<line x1="460.9" y1="106.9" x2="460.9" y2="108.2" stroke="#777" stroke-width="0.5"/>
<line x1="465.6" y1="106.9" x2="465.6" y2="108.2" stroke="#777" stroke-width="0.5"/>
<line x1="470.3" y1="106.9" x2="470.3" y2="108.2" stroke="#777" stroke-width="0.5"/>
<line x1="475.0" y1="106.9" x2="475.0" y2="108.2" stroke="#777" stroke-width="0.5"/>
<circle cx="413.5" cy="107.7" r="1.1" fill="#222"/>
<text x="526.5" y="27.5" font-size="10" text-anchor="middle" stroke="#1a1a1a" stroke-width="0.22">mltln2</text>
<line x1="488.6" y1="56.6" x2="564.3" y2="56.6" stroke="#c8c8c8" stroke-width="0.8"/>
<path d="M505.0 56.6 L505.0 56.6 L506.0 56.6 L507.0 56.6 L508.0 56.6 L509.0 56.6 L510.0 56.6 L511.0 56.6 L512.0 56.6 L513.0 56.6 L514.0 52.8 L515.0 52.7 L516.0 51.2 L517.0 50.3 L518.0 48.9 L519.0 47.0 L520.0 44.5 L521.0 41.0 L522.0 39.4 L523.0 38.0 L524.0 36.3 L525.0 36.2 L526.0 33.3 L527.0 35.5 L528.0 34.8 L529.0 33.9 L530.0 39.5 L531.0 40.2 L532.0 41.5 L533.0 42.8 L534.0 46.5 L535.0 47.1 L536.0 48.7 L537.0 50.2 L538.0 53.9 L539.0 52.3 L540.0 52.4 L541.0 54.2 L542.0 56.6 L543.0 56.6 L544.0 56.6 L545.0 56.6 L546.0 56.6 L547.0 56.6 L548.0 56.6 L549.0 56.6 L550.0 56.6 L550.0 56.6 Z" fill="#a3a3a3"/>
<line x1="488.6" y1="69.3" x2="564.3" y2="69.3" stroke="#c8c8c8" stroke-width="0.8"/>
<path d="M505.0 69.3 L505.0 69.3 L506.0 69.3 L507.0 69.3 L508.0 69.3 L509.0 69.3 L510.0 69.3 L511.0 69.3 L512.0 69.3 L513.0 67.4 L514.0 65.6 L515.0 64.8 L516.0 63.4 L517.0 63.9 L518.0 62.0 L519.0 57.2 L520.0 55.6 L521.0 52.3 L522.0 51.1 L523.0 51.2 L524.0 47.6 L525.0 47.1 L526.0 46.9 L527.0 47.8 L528.0 47.6 L529.0 48.7 L530.0 49.1 L531.0 51.5 L532.0 52.1 L533.0 56.3 L534.0 57.2 L535.0 59.1 L536.0 62.2 L537.0 64.1 L538.0 63.5 L539.0 65.1 L540.0 66.7 L541.0 66.9 L542.0 69.3 L543.0 69.3 L544.0 69.3 L545.0 69.3 L546.0 69.3 L547.0 69.3 L548.0 69.3 L549.0 69.3 L550.0 69.3 L550.0 69.3 Z" fill="#6a9fd8"/>
<line x1="488.6" y1="81.9" x2="564.3" y2="81.9" stroke="#c8c8c8" stroke-width="0.8"/>
<path d="M505.0 81.9 L505.0 81.9 L506.0 81.9 L507.0 81.9 L508.0 81.9 L509.0 81.9 L510.0 81.9 L511.0 81.9 L512.0 79.3 L513.0 80.1 L514.0 79.6 L515.0 77.5 L516.0 75.5 L517.0 73.1 L518.0 72.4 L519.0 69.7 L520.0 69.4 L521.0 67.6 L522.0 66.3 L523.0 63.9 L524.0 61.7 L525.0 60.1 L526.0 60.9 L527.0 58.9 L528.0 60.3 L529.0 61.7 L530.0 63.2 L531.0 62.4 L532.0 66.0 L533.0 69.0 L534.0 71.1 L535.0 70.5 L536.0 74.5 L537.0 74.5 L538.0 75.7 L539.0 80.3 L540.0 77.9 L541.0 80.1 L542.0 81.9 L543.0 81.9 L544.0 81.9 L545.0 81.9 L546.0 81.9 L547.0 81.9 L548.0 81.9 L549.0 81.9 L550.0 81.9 L550.0 81.9 Z" fill="#17858a"/>
<line x1="488.6" y1="94.5" x2="564.3" y2="94.5" stroke="#c8c8c8" stroke-width="0.8"/>
<path d="M505.0 94.5 L505.0 94.5 L506.0 94.5 L507.0 94.5 L508.0 94.4 L509.0 93.7 L510.0 90.3 L511.0 82.4 L512.0 75.0 L513.0 77.2 L514.0 86.0 L515.0 91.3 L516.0 91.1 L517.0 89.6 L518.0 86.6 L519.0 86.8 L520.0 84.6 L521.0 83.1 L522.0 80.9 L523.0 78.8 L524.0 76.5 L525.0 75.4 L526.0 74.3 L527.0 73.8 L528.0 72.9 L529.0 74.5 L530.0 73.9 L531.0 74.0 L532.0 77.4 L533.0 78.5 L534.0 77.9 L535.0 83.4 L536.0 85.9 L537.0 86.6 L538.0 86.3 L539.0 87.5 L540.0 91.7 L541.0 91.1 L542.0 92.4 L543.0 94.5 L544.0 94.5 L545.0 94.5 L546.0 94.5 L547.0 94.5 L548.0 94.5 L549.0 94.5 L550.0 94.5 L550.0 94.5 Z" fill="#0f5491"/>
<line x1="488.6" y1="106.9" x2="564.3" y2="106.9" stroke="#c8c8c8" stroke-width="0.8"/>
<path d="M507.5 106.9 L507.5 106.9 L509.0 100.9 L510.3 86.9 L511.0 78.9 L511.6 75.9 L512.3 77.9 L513.2 80.9 L514.2 82.4 L515.6 84.4 L516.8 90.9 L518.0 95.4 L519.2 98.4 L520.5 99.7 L522.0 100.6 L524.0 101.3 L526.0 101.5 L528.0 101.9 L530.0 102.7 L532.0 103.3 L534.0 103.9 L536.0 104.9 L538.0 105.9 L540.0 106.6 L541.0 106.9 L541.0 106.9 Z" fill="#2b2a86"/>
<text x="562.3" y="55.8" font-size="10" text-anchor="end" fill="#111" stroke="#111" stroke-width="0.22">10 nM</text>
<text x="562.3" y="68.5" font-size="10" text-anchor="end" fill="#111" stroke="#111" stroke-width="0.22">100 nM</text>
<text x="562.3" y="81.1" font-size="10" text-anchor="end" fill="#111" stroke="#111" stroke-width="0.22">1 µM</text>
<text x="562.3" y="93.7" font-size="10" text-anchor="end" fill="#111" stroke="#111" stroke-width="0.22">2.5 µM</text>
<text x="562.3" y="106.1" font-size="10" text-anchor="end" fill="#111" stroke="#111" stroke-width="0.22">5 µM</text>
<rect x="488.6" y="29.4" width="75.7" height="77.5" fill="none" stroke="#2a2a2a" stroke-width="1.1"/>
<line x1="492.6" y1="106.9" x2="492.6" y2="108.2" stroke="#777" stroke-width="0.5"/>
<line x1="497.3" y1="106.9" x2="497.3" y2="108.2" stroke="#777" stroke-width="0.5"/>
<line x1="502.0" y1="106.9" x2="502.0" y2="108.2" stroke="#777" stroke-width="0.5"/>
<line x1="506.7" y1="106.9" x2="506.7" y2="108.2" stroke="#777" stroke-width="0.5"/>
<line x1="511.4" y1="106.9" x2="511.4" y2="108.2" stroke="#777" stroke-width="0.5"/>
<line x1="516.1" y1="106.9" x2="516.1" y2="108.2" stroke="#777" stroke-width="0.5"/>
<line x1="520.8" y1="106.9" x2="520.8" y2="108.2" stroke="#777" stroke-width="0.5"/>
<line x1="525.5" y1="106.9" x2="525.5" y2="108.2" stroke="#777" stroke-width="0.5"/>
<line x1="530.2" y1="106.9" x2="530.2" y2="108.2" stroke="#777" stroke-width="0.5"/>
<line x1="534.9" y1="106.9" x2="534.9" y2="108.2" stroke="#777" stroke-width="0.5"/>
<line x1="539.6" y1="106.9" x2="539.6" y2="108.2" stroke="#777" stroke-width="0.5"/>
<line x1="544.3" y1="106.9" x2="544.3" y2="108.2" stroke="#777" stroke-width="0.5"/>
<line x1="549.0" y1="106.9" x2="549.0" y2="108.2" stroke="#777" stroke-width="0.5"/>
<line x1="553.7" y1="106.9" x2="553.7" y2="108.2" stroke="#777" stroke-width="0.5"/>
<line x1="558.4" y1="106.9" x2="558.4" y2="108.2" stroke="#777" stroke-width="0.5"/>
<circle cx="501.6" cy="107.7" r="1.1" fill="#222"/>
<text x="397.9" y="122.6" font-size="8.8" stroke="#1a1a1a" stroke-width="0.22">-10</text>
<text x="416.7" y="122.6" font-size="8.8" stroke="#1a1a1a" stroke-width="0.22">0</text>
<text x="427.2" y="122.6" font-size="8.8" stroke="#1a1a1a" stroke-width="0.22">10</text>
<text x="448.2" y="122.6" font-size="8.8" stroke="#1a1a1a" stroke-width="0.22">10</text>
<text x="464.6" y="122.6" font-size="8.8" stroke="#1a1a1a" stroke-width="0.22">10</text>
<text x="410.8" y="117.0" font-size="8.4" stroke="#1a1a1a" stroke-width="0.22">3</text>
<text x="434.4" y="117.0" font-size="8.4" stroke="#1a1a1a" stroke-width="0.22">3</text>
<text x="455.4" y="117.0" font-size="8.4" stroke="#1a1a1a" stroke-width="0.22">4</text>
<text x="473.6" y="117.0" font-size="8.4" stroke="#1a1a1a" stroke-width="0.22">5</text>
<text x="393.8" y="77.3" font-size="9.8" text-anchor="middle" stroke="#1a1a1a" stroke-width="0.22" transform="rotate(-90 393.8 77.3)">Normalized To Mode</text>
<line x1="396.0" y1="133.0" x2="561.8" y2="133.0" stroke="#222" stroke-width="1.4"/>
<text x="487.3" y="146.0" font-size="10.3" text-anchor="middle" stroke="#1a1a1a" stroke-width="0.22">SSC-A</text>
<text x="568.3" y="9.6" font-size="11.5" font-weight="bold" fill="#000">C</text>
<defs><linearGradient id="cg" x1="0" y1="0.35" x2="1" y2="0.65"><stop offset="0" stop-color="#878787"/><stop offset="0.35" stop-color="#6e6e6e"/><stop offset="1" stop-color="#565656"/></linearGradient><filter id="noise" x="0" y="0" width="1" height="1" color-interpolation-filters="sRGB"><feTurbulence type="fractalNoise" baseFrequency="0.7" numOctaves="2" seed="3"/><feColorMatrix type="matrix" values="0 0 0 0 0.75  0 0 0 0 0.75  0 0 0 0 0.75  5 0 0 0 -3.0"/><feComposite in2="SourceGraphic" operator="in"/></filter></defs>
<rect x="596.2" y="7.0" width="70.6" height="70.1" fill="url(#cg)"/>
<rect x="596.2" y="7.0" width="70.6" height="70.1" fill="#fff" filter="url(#noise)" opacity="0.22"/>
<rect x="655.0" y="71.8" width="8.0" height="2.8" fill="#fff"/>
<circle cx="627.5" cy="19.5" r="0.9" fill="#333"/><rect x="645" y="9.5" width="0.8" height="4" fill="#444"/>
<rect x="596.2" y="81.2" width="70.6" height="70.4" fill="url(#cg)"/>
<rect x="596.2" y="81.2" width="70.6" height="70.4" fill="#fff" filter="url(#noise)" opacity="0.22"/>
<rect x="655.0" y="146.3" width="8.0" height="2.8" fill="#fff"/>
<circle cx="627.5" cy="93.7" r="0.9" fill="#333"/><rect x="645" y="83.7" width="0.8" height="4" fill="#444"/>
<text x="589.2" y="42.2" font-size="10" text-anchor="middle" stroke="#1a1a1a" stroke-width="0.22" transform="rotate(-90 589.2 42.2)">No lectin</text>
<text x="589.6" y="119.5" font-size="10" text-anchor="middle" stroke="#1a1a1a" stroke-width="0.22" transform="rotate(-90 589.6 119.5)">5 µM mltln2</text>
<path d="M612.2 97.0 L604.6 93.3 L608.6 92.9 L609.7 89.2 Z" fill="#ee1c24"/>
<path d="M641.5 106.6 L644.7 99.2 L645.4 102.7 L649.1 103.1 Z" fill="#ee1c24"/>
<path d="M604.6 138.6 L602.1 132.7 L605.9 134.7 L610.7 133.7 Z" fill="#ee1c24"/>
<text x="0.6" y="166.2" font-size="10.5" font-weight="bold" fill="#000">D</text>
<text x="25.6" y="171.0" font-size="10" stroke="#1a1a1a" stroke-width="0.22"><tspan font-style="italic">L. reuteri</tspan> (DSM20016)</text>
<text x="61.5" y="182.6" font-size="10" text-anchor="middle" stroke="#1a1a1a" stroke-width="0.22">1 hr</text>
<text x="138.9" y="182.6" font-size="10" text-anchor="middle" stroke="#1a1a1a" stroke-width="0.22">3 hr</text>
<text x="216.1" y="182.6" font-size="10" text-anchor="middle" stroke="#1a1a1a" stroke-width="0.22">6 hr</text>
<defs>
<filter id="dg1" x="0" y="0" width="1" height="1" color-interpolation-filters="sRGB">
 <feTurbulence type="fractalNoise" baseFrequency="0.75" numOctaves="3" seed="5" result="n"/>
 <feColorMatrix in="n" type="matrix" values="0 0 0 0 0.42  0 0 0 0 0.63  0 0 0 0 0.38  2.0 0 0 0 -0.45"/>
 <feComposite in2="SourceGraphic" operator="in"/>
</filter>
<filter id="dg1b" x="0" y="0" width="1" height="1" color-interpolation-filters="sRGB">
 <feTurbulence type="fractalNoise" baseFrequency="0.75" numOctaves="3" seed="15" result="n"/>
 <feColorMatrix in="n" type="matrix" values="0 0 0 0 0.42  0 0 0 0 0.63  0 0 0 0 0.38  2.0 0 0 0 -0.43"/>
 <feComposite in2="SourceGraphic" operator="in"/>
</filter>
<filter id="dg1c" x="0" y="0" width="1" height="1" color-interpolation-filters="sRGB">
 <feTurbulence type="fractalNoise" baseFrequency="0.75" numOctaves="3" seed="25" result="n"/>
 <feColorMatrix in="n" type="matrix" values="0 0 0 0 0.43  0 0 0 0 0.66  0 0 0 0 0.39  2.0 0 0 0 -0.36"/>
 <feComposite in2="SourceGraphic" operator="in"/>
</filter>
<filter id="dg2" x="0" y="0" width="1" height="1" color-interpolation-filters="sRGB">
 <feTurbulence type="fractalNoise" baseFrequency="0.6" numOctaves="2" seed="9" result="n"/>
 <feColorMatrix in="n" type="matrix" values="0 0 0 0 0.4  0 0 0 0 0.62  0 0 0 0 0.38  6 0 0 0 -3.3"/>
 <feComposite in2="SourceGraphic" operator="in"/>
</filter>
<filter id="dg2b" x="0" y="0" width="1" height="1" color-interpolation-filters="sRGB">
 <feTurbulence type="fractalNoise" baseFrequency="0.6" numOctaves="2" seed="19" result="n"/>
 <feColorMatrix in="n" type="matrix" values="0 0 0 0 0.45  0 0 0 0 0.6  0 0 0 0 0.42  6 0 0 0 -3.6"/>
 <feComposite in2="SourceGraphic" operator="in"/>
</filter>
<filter id="dg3" x="0" y="0" width="1" height="1" color-interpolation-filters="sRGB">
 <feTurbulence type="fractalNoise" baseFrequency="0.6" numOctaves="2" seed="13" result="n"/>
 <feColorMatrix in="n" type="matrix" values="0 0 0 0 0.76  0 0 0 0 0.73  0 0 0 0 0.64  5 0 0 0 -3.2"/>
 <feComposite in2="SourceGraphic" operator="in"/>
</filter>
<filter id="dd3" x="0" y="0" width="1" height="1" color-interpolation-filters="sRGB">
 <feTurbulence type="fractalNoise" baseFrequency="0.6" numOctaves="2" seed="21" result="n"/>
 <feColorMatrix in="n" type="matrix" values="0 0 0 0 0.35  0 0 0 0 0.35  0 0 0 0 0.35  0 5 0 0 -3.25"/>
 <feComposite in2="SourceGraphic" operator="in"/>
</filter>
<filter id="tsh" x="-0.1" y="-0.2" width="1.3" height="1.5"><feGaussianBlur stdDeviation="0.5"/></filter>
</defs>
<rect x="26.0" y="187.0" width="71.0" height="70.4" fill="#5d615d"/>
<rect x="26.0" y="187.0" width="71.0" height="70.4" fill="#fff" filter="url(#dg1)"/>
<rect x="83.0" y="251.4" width="12.0" height="2.2" fill="#fff"/>
<rect x="26.0" y="263.0" width="71.0" height="70.2" fill="#6f6f6f"/>
<rect x="26.0" y="263.0" width="71.0" height="70.2" fill="#fff" filter="url(#dg2)"/>
<rect x="83.0" y="326.7" width="12.0" height="2.2" fill="#fff"/>
<rect x="103.2" y="187.0" width="71.4" height="70.4" fill="#5d615d"/>
<rect x="103.2" y="187.0" width="71.4" height="70.4" fill="#fff" filter="url(#dg1b)"/>
<rect x="160.6" y="251.4" width="12.0" height="2.2" fill="#fff"/>
<rect x="103.2" y="263.0" width="71.4" height="70.2" fill="#6f6f6f"/>
<rect x="103.2" y="263.0" width="71.4" height="70.2" fill="#fff" filter="url(#dg2b)"/>
<rect x="160.6" y="326.7" width="12.0" height="2.2" fill="#fff"/>
<rect x="180.6" y="187.0" width="71.0" height="70.4" fill="#5d615d"/>
<rect x="180.6" y="187.0" width="71.0" height="70.4" fill="#fff" filter="url(#dg1c)"/>
<rect x="237.6" y="251.4" width="12.0" height="2.2" fill="#fff"/>
<rect x="180.6" y="263.0" width="71.0" height="70.2" fill="#6f6f6f"/>
<rect x="180.6" y="263.0" width="71.0" height="70.2" fill="#fff" filter="url(#dd3)"/>
<rect x="180.6" y="263.0" width="71.0" height="70.2" fill="#fff" filter="url(#dg3)"/>
<rect x="237.6" y="326.7" width="12.0" height="2.2" fill="#fff"/>
<text x="29.2" y="197.0" font-size="10" font-weight="bold" fill="#000" filter="url(#tsh)" opacity="0.7">SYTO BC</text>
<text x="28.8" y="196.6" font-size="10" font-weight="bold" fill="#111">SYTO BC</text>
<text x="28.2" y="196.0" font-size="10" font-weight="bold" fill="#58cc3e">SYTO BC</text>
<text x="29.2" y="208.9" font-size="9.8" font-weight="bold" fill="#000" filter="url(#tsh)" opacity="0.7">Lectin</text>
<text x="28.8" y="208.5" font-size="9.8" font-weight="bold" fill="#111">Lectin</text>
<text x="28.2" y="207.9" font-size="9.8" font-weight="bold" fill="#fa3550">Lectin</text>
<text x="29.2" y="273.0" font-size="10" font-weight="bold" fill="#000" filter="url(#tsh)" opacity="0.7">SYTO BC</text>
<text x="28.8" y="272.6" font-size="10" font-weight="bold" fill="#111">SYTO BC</text>
<text x="28.2" y="272.0" font-size="10" font-weight="bold" fill="#1ab05e">SYTO BC</text>
<text x="29.2" y="284.9" font-size="9.8" font-weight="bold" fill="#000" filter="url(#tsh)" opacity="0.7">Lectin</text>
<text x="28.8" y="284.5" font-size="9.8" font-weight="bold" fill="#111">Lectin</text>
<text x="28.2" y="283.9" font-size="9.8" font-weight="bold" fill="#fa3550">Lectin</text>
<text x="23.0" y="220.0" font-size="10" text-anchor="middle" stroke="#1a1a1a" stroke-width="0.22" transform="rotate(-90 23.0 220.0)">No lectin</text>
<text x="23.2" y="295.5" font-size="10" text-anchor="middle" stroke="#1a1a1a" stroke-width="0.22" transform="rotate(-90 23.2 295.5)">5 µM mltln2</text>
<text x="267.5" y="165.6" font-size="10.5" font-weight="bold" fill="#000">E</text>
<text x="309.6" y="171.0" font-size="10" stroke="#1a1a1a" stroke-width="0.22"><tspan font-style="italic">L. reuteri</tspan> (DSM20016)</text>
<line x1="302.7" y1="213.7" x2="302.7" y2="316.9" stroke="#222" stroke-width="1.1"/>
<line x1="301.2" y1="316.4" x2="440.5" y2="316.4" stroke="#222" stroke-width="1.1"/>
<line x1="299.8" y1="316.4" x2="302.7" y2="316.4" stroke="#222" stroke-width="1.0"/>
<text x="299.2" y="319.8" font-size="9.4" text-anchor="end" stroke="#1a1a1a" stroke-width="0.22">0</text>
<line x1="299.8" y1="282.3" x2="302.7" y2="282.3" stroke="#222" stroke-width="1.0"/>
<text x="299.2" y="285.7" font-size="9.4" text-anchor="end" stroke="#1a1a1a" stroke-width="0.22">50</text>
<line x1="299.8" y1="248.2" x2="302.7" y2="248.2" stroke="#222" stroke-width="1.0"/>
<text x="299.2" y="251.6" font-size="9.4" text-anchor="end" stroke="#1a1a1a" stroke-width="0.22">100</text>
<line x1="299.8" y1="214.1" x2="302.7" y2="214.1" stroke="#222" stroke-width="1.0"/>
<text x="299.2" y="217.5" font-size="9.4" text-anchor="end" stroke="#1a1a1a" stroke-width="0.22">150</text>
<line x1="301.0" y1="299.3" x2="302.7" y2="299.3" stroke="#333" stroke-width="0.8"/>
<line x1="301.0" y1="265.2" x2="302.7" y2="265.2" stroke="#333" stroke-width="0.8"/>
<line x1="301.0" y1="231.1" x2="302.7" y2="231.1" stroke="#333" stroke-width="0.8"/>
<text x="282.6" y="266.5" font-size="9.7" text-anchor="middle" stroke="#1a1a1a" stroke-width="0.22" transform="rotate(-90 282.6 266.5)">%CFU remaining</text>
<rect x="312.3" y="248.2" width="16.3" height="68.2" fill="#808080" stroke="#1a1a1a" stroke-width="0.9"/>
<rect x="337.4" y="306.6" width="16.8" height="9.8" fill="#0b4f96" stroke="#1a1a1a" stroke-width="0.9"/>
<rect x="363.4" y="311.3" width="16.3" height="5.1" fill="#0b4f96" stroke="#1a1a1a" stroke-width="0.9"/>
<rect x="389.3" y="300.2" width="16.4" height="16.2" fill="#0b4f96" stroke="#1a1a1a" stroke-width="0.9"/>
<rect x="415.1" y="303.0" width="16.1" height="13.4" fill="#0b4f96" stroke="#1a1a1a" stroke-width="0.9"/>
<circle cx="316" cy="248.5" r="1.5" fill="#111"/>
<circle cx="320.5" cy="248.5" r="1.5" fill="#111"/>
<circle cx="325" cy="248.5" r="1.5" fill="#111"/>
<circle cx="340.5" cy="307.8" r="1.5" fill="#111"/>
<circle cx="346" cy="305.6" r="1.5" fill="#111"/>
<circle cx="351" cy="306.6" r="1.5" fill="#111"/>
<circle cx="367.5" cy="313" r="1.5" fill="#111"/>
<circle cx="371.5" cy="307.6" r="1.5" fill="#111"/>
<circle cx="375" cy="313" r="1.5" fill="#111"/>
<circle cx="394" cy="296.6" r="1.5" fill="#111"/>
<circle cx="397.5" cy="303.6" r="1.5" fill="#111"/>
<circle cx="401" cy="299.6" r="1.5" fill="#111"/>
<circle cx="419" cy="304" r="1.5" fill="#111"/>
<circle cx="423.5" cy="302.2" r="1.5" fill="#111"/>
<circle cx="428" cy="303.4" r="1.5" fill="#111"/>
<line x1="371.5" y1="307.4" x2="371.5" y2="313.5" stroke="#111" stroke-width="0.9"/>
<line x1="368.5" y1="307.4" x2="374.5" y2="307.4" stroke="#111" stroke-width="0.9"/>
<line x1="368.5" y1="313.5" x2="374.5" y2="313.5" stroke="#111" stroke-width="0.9"/>
<line x1="397.5" y1="298.0" x2="397.5" y2="303.5" stroke="#111" stroke-width="0.9"/>
<line x1="394.5" y1="298.0" x2="400.5" y2="298.0" stroke="#111" stroke-width="0.9"/>
<line x1="394.5" y1="303.5" x2="400.5" y2="303.5" stroke="#111" stroke-width="0.9"/>
<line x1="319.9" y1="192.1" x2="423.3" y2="192.1" stroke="#333" stroke-width="1.0"/>
<text x="374.3" y="190.2" font-size="8.2" text-anchor="middle" stroke="#1a1a1a" stroke-width="0.22">P&lt;0.001</text>
<line x1="319.9" y1="206.3" x2="397.7" y2="206.3" stroke="#333" stroke-width="1.0"/>
<text x="358.3" y="203.8" font-size="8.2" text-anchor="middle" stroke="#1a1a1a" stroke-width="0.22">P&lt;0.001</text>
<line x1="319.9" y1="224.3" x2="371.7" y2="224.3" stroke="#333" stroke-width="1.0"/>
<text x="347.8" y="221.5" font-size="8.2" text-anchor="middle" stroke="#1a1a1a" stroke-width="0.22">P&lt;0.001</text>
<line x1="319.9" y1="243.3" x2="346.1" y2="243.3" stroke="#333" stroke-width="1.0"/>
<text x="334.6" y="241.4" font-size="8.2" text-anchor="middle" stroke="#1a1a1a" stroke-width="0.22">P&lt;0.001</text>
<rect x="382.5" y="236.1" width="8.2" height="8.2" fill="#808080" stroke="#222" stroke-width="0.7"/>
<rect x="382.5" y="246.9" width="8.2" height="8.2" fill="#4a7cc4" stroke="#222" stroke-width="0.7"/>
<text x="394.8" y="243.0" font-size="9.5" stroke="#1a1a1a" stroke-width="0.22">No lectin</text>
<text x="394.8" y="254.0" font-size="9.5" stroke="#1a1a1a" stroke-width="0.22">mltln2</text>
<text x="319.8" y="331.4" font-size="9.4" text-anchor="middle" stroke="#1a1a1a" stroke-width="0.22" transform="rotate(-20 319.8 328.2)">0 µM</text>
<text x="344.3" y="331.4" font-size="9.4" text-anchor="middle" stroke="#1a1a1a" stroke-width="0.22" transform="rotate(-20 344.3 328.2)">1 µM</text>
<text x="375.2" y="331.4" font-size="9.4" text-anchor="middle" stroke="#1a1a1a" stroke-width="0.22" transform="rotate(-20 375.2 328.2)">5 µM</text>
<text x="400.5" y="331.4" font-size="9.4" text-anchor="middle" stroke="#1a1a1a" stroke-width="0.22" transform="rotate(-20 400.5 328.2)">10 µM</text>
<text x="428.5" y="331.4" font-size="9.4" text-anchor="middle" stroke="#1a1a1a" stroke-width="0.22" transform="rotate(-20 428.5 328.2)">15 µM</text>
<text x="475.0" y="165.6" font-size="10.5" font-weight="bold" fill="#000">F</text>
<text x="499.0" y="190.0" font-size="9.7" stroke="#1a1a1a" stroke-width="0.22"><tspan font-style="italic">K. pneumoniae</tspan> (UCI60)</text>
<line x1="491.9" y1="220.3" x2="491.9" y2="317.1" stroke="#222" stroke-width="1.1"/>
<line x1="491.4" y1="316.6" x2="637.5" y2="316.6" stroke="#222" stroke-width="1.1"/>
<line x1="488.8" y1="316.6" x2="491.9" y2="316.6" stroke="#222" stroke-width="1.0"/>
<text x="488.0" y="320.0" font-size="9.5" text-anchor="end" stroke="#1a1a1a" stroke-width="0.22">0.0</text>
<line x1="488.8" y1="297.4" x2="491.9" y2="297.4" stroke="#222" stroke-width="1.0"/>
<text x="488.0" y="300.8" font-size="9.5" text-anchor="end" stroke="#1a1a1a" stroke-width="0.22">0.2</text>
<line x1="488.8" y1="278.2" x2="491.9" y2="278.2" stroke="#222" stroke-width="1.0"/>
<text x="488.0" y="281.6" font-size="9.5" text-anchor="end" stroke="#1a1a1a" stroke-width="0.22">0.4</text>
<line x1="488.8" y1="259.1" x2="491.9" y2="259.1" stroke="#222" stroke-width="1.0"/>
<text x="488.0" y="262.5" font-size="9.5" text-anchor="end" stroke="#1a1a1a" stroke-width="0.22">0.6</text>
<line x1="488.8" y1="239.9" x2="491.9" y2="239.9" stroke="#222" stroke-width="1.0"/>
<text x="488.0" y="243.3" font-size="9.5" text-anchor="end" stroke="#1a1a1a" stroke-width="0.22">0.8</text>
<line x1="488.8" y1="220.7" x2="491.9" y2="220.7" stroke="#222" stroke-width="1.0"/>
<text x="488.0" y="224.1" font-size="9.5" text-anchor="end" stroke="#1a1a1a" stroke-width="0.22">1.0</text>
<line x1="491.6" y1="316.6" x2="491.6" y2="319.6" stroke="#333" stroke-width="1.0"/>
<line x1="496.5" y1="316.6" x2="496.5" y2="318.2" stroke="#333" stroke-width="0.8"/>
<line x1="501.3" y1="316.6" x2="501.3" y2="318.2" stroke="#333" stroke-width="0.8"/>
<line x1="506.2" y1="316.6" x2="506.2" y2="318.2" stroke="#333" stroke-width="0.8"/>
<line x1="511.0" y1="316.6" x2="511.0" y2="318.2" stroke="#333" stroke-width="0.8"/>
<line x1="515.9" y1="316.6" x2="515.9" y2="318.2" stroke="#333" stroke-width="0.8"/>
<line x1="520.7" y1="316.6" x2="520.7" y2="318.2" stroke="#333" stroke-width="0.8"/>
<line x1="525.6" y1="316.6" x2="525.6" y2="318.2" stroke="#333" stroke-width="0.8"/>
<line x1="530.4" y1="316.6" x2="530.4" y2="318.2" stroke="#333" stroke-width="0.8"/>
<line x1="535.2" y1="316.6" x2="535.2" y2="318.2" stroke="#333" stroke-width="0.8"/>
<line x1="540.1" y1="316.6" x2="540.1" y2="319.6" stroke="#333" stroke-width="1.0"/>
<line x1="545.0" y1="316.6" x2="545.0" y2="318.2" stroke="#333" stroke-width="0.8"/>
<line x1="549.8" y1="316.6" x2="549.8" y2="318.2" stroke="#333" stroke-width="0.8"/>
<line x1="554.6" y1="316.6" x2="554.6" y2="318.2" stroke="#333" stroke-width="0.8"/>
<line x1="559.5" y1="316.6" x2="559.5" y2="318.2" stroke="#333" stroke-width="0.8"/>
<line x1="564.4" y1="316.6" x2="564.4" y2="318.2" stroke="#333" stroke-width="0.8"/>
<line x1="569.2" y1="316.6" x2="569.2" y2="318.2" stroke="#333" stroke-width="0.8"/>
<line x1="574.1" y1="316.6" x2="574.1" y2="318.2" stroke="#333" stroke-width="0.8"/>
<line x1="578.9" y1="316.6" x2="578.9" y2="318.2" stroke="#333" stroke-width="0.8"/>
<line x1="583.8" y1="316.6" x2="583.8" y2="318.2" stroke="#333" stroke-width="0.8"/>
<line x1="588.6" y1="316.6" x2="588.6" y2="319.6" stroke="#333" stroke-width="1.0"/>
<line x1="593.5" y1="316.6" x2="593.5" y2="318.2" stroke="#333" stroke-width="0.8"/>
<line x1="598.3" y1="316.6" x2="598.3" y2="318.2" stroke="#333" stroke-width="0.8"/>
<line x1="603.1" y1="316.6" x2="603.1" y2="318.2" stroke="#333" stroke-width="0.8"/>
<line x1="608.0" y1="316.6" x2="608.0" y2="318.2" stroke="#333" stroke-width="0.8"/>
<line x1="612.9" y1="316.6" x2="612.9" y2="318.2" stroke="#333" stroke-width="0.8"/>
<line x1="617.7" y1="316.6" x2="617.7" y2="318.2" stroke="#333" stroke-width="0.8"/>
<line x1="622.6" y1="316.6" x2="622.6" y2="318.2" stroke="#333" stroke-width="0.8"/>
<line x1="627.4" y1="316.6" x2="627.4" y2="318.2" stroke="#333" stroke-width="0.8"/>
<line x1="632.2" y1="316.6" x2="632.2" y2="318.2" stroke="#333" stroke-width="0.8"/>
<line x1="637.1" y1="316.6" x2="637.1" y2="319.6" stroke="#333" stroke-width="1.0"/>
<text x="491.6" y="329.2" font-size="9.6" text-anchor="middle" stroke="#1a1a1a" stroke-width="0.22">0</text>
<text x="540.1" y="329.2" font-size="9.6" text-anchor="middle" stroke="#1a1a1a" stroke-width="0.22">500</text>
<text x="588.6" y="329.2" font-size="9.6" text-anchor="middle" stroke="#1a1a1a" stroke-width="0.22">1000</text>
<text x="637.1" y="329.2" font-size="9.6" text-anchor="middle" stroke="#1a1a1a" stroke-width="0.22">1500</text>
<text x="569.5" y="339.6" font-size="9.7" text-anchor="middle" stroke="#1a1a1a" stroke-width="0.22">Time (mins)</text>
<text x="471.8" y="269.0" font-size="9.7" text-anchor="middle" stroke="#1a1a1a" stroke-width="0.22" transform="rotate(-90 471.8 269.0)">OD600 nm</text>
<path d="M491.6 303.7 L493.1 303.7 L494.5 303.7 L496.0 303.7 L497.4 303.7 L498.9 303.7 L500.3 303.7 L501.8 303.7 L503.2 303.7 L504.7 303.7 L506.2 303.7 L507.6 303.7 L509.1 303.7 L510.5 303.7 L512.0 303.7 L513.4 303.7 L514.9 303.7 L516.3 303.7 L517.8 303.7 L519.2 303.7 L520.7 303.7 L522.2 303.7 L523.6 303.7 L525.1 303.7 L526.5 303.7 L528.0 303.7 L529.4 303.7 L530.9 303.7 L532.3 303.7 L533.8 303.7 L535.2 303.7 L536.7 303.7 L538.2 303.7 L539.6 303.7 L541.1 303.7 L542.5 303.7 L544.0 303.7 L545.4 303.7 L546.9 303.7 L548.3 303.7 L549.8 303.7 L551.3 303.7 L552.7 303.7 L554.2 303.7 L555.6 303.7 L557.1 303.7 L558.5 303.7 L560.0 303.7 L561.4 303.7 L562.9 303.7 L564.4 303.7 L565.8 303.7 L567.3 303.7 L568.7 303.7 L570.2 303.7 L571.6 303.7 L573.1 303.7 L574.5 303.7 L576.0 303.7 L577.4 303.7 L578.9 303.7 L580.4 303.7 L581.8 303.7 L583.3 303.7 L584.7 303.5 L586.2 303.2 L587.6 303.0 L589.1 302.7 L590.5 302.5 L592.0 302.2 L593.5 301.9 L594.9 301.7 L596.4 301.4" stroke="#3a86c0" stroke-width="1.2" fill="none"/>
<path d="M491.6 303.7h.1M493.1 303.7h.1M494.5 303.7h.1M496.0 303.7h.1M497.4 303.7h.1M498.9 303.7h.1M500.3 303.7h.1M501.8 303.7h.1M503.2 303.7h.1M504.7 303.7h.1M506.2 303.7h.1M507.6 303.7h.1M509.1 303.7h.1M510.5 303.7h.1M512.0 303.7h.1M513.4 303.7h.1M514.9 303.7h.1M516.3 303.7h.1M517.8 303.7h.1M519.2 303.7h.1M520.7 303.7h.1M522.2 303.7h.1M523.6 303.7h.1M525.1 303.7h.1M526.5 303.7h.1M528.0 303.7h.1M529.4 303.7h.1M530.9 303.7h.1M532.3 303.7h.1M533.8 303.7h.1M535.2 303.7h.1M536.7 303.7h.1M538.2 303.7h.1M539.6 303.7h.1M541.1 303.7h.1M542.5 303.7h.1M544.0 303.7h.1M545.4 303.7h.1M546.9 303.7h.1M548.3 303.7h.1M549.8 303.7h.1M551.3 303.7h.1M552.7 303.7h.1M554.2 303.7h.1M555.6 303.7h.1M557.1 303.7h.1M558.5 303.7h.1M560.0 303.7h.1M561.4 303.7h.1M562.9 303.7h.1M564.4 303.7h.1M565.8 303.7h.1M567.3 303.7h.1M568.7 303.7h.1M570.2 303.7h.1M571.6 303.7h.1M573.1 303.7h.1M574.5 303.7h.1M576.0 303.7h.1M577.4 303.7h.1M578.9 303.7h.1M580.4 303.7h.1M581.8 303.7h.1M583.3 303.7h.1M584.7 303.5h.1M586.2 303.2h.1M587.6 303.0h.1M589.1 302.7h.1M590.5 302.5h.1M592.0 302.2h.1M593.5 301.9h.1M594.9 301.7h.1M596.4 301.4h.1" stroke="#3a86c0" stroke-width="2.2" stroke-linecap="round"/>
<path d="M491.6 302.8V304.5M490.3 302.8h2.6M490.3 304.5h2.6M493.1 302.8V304.5M491.8 302.8h2.6M491.8 304.5h2.6M494.5 302.8V304.5M493.2 302.8h2.6M493.2 304.5h2.6M496.0 302.8V304.5M494.7 302.8h2.6M494.7 304.5h2.6M497.4 302.8V304.5M496.1 302.8h2.6M496.1 304.5h2.6M498.9 302.8V304.5M497.6 302.8h2.6M497.6 304.5h2.6M500.3 302.8V304.5M499.0 302.8h2.6M499.0 304.5h2.6M501.8 302.8V304.5M500.5 302.8h2.6M500.5 304.5h2.6M503.2 302.8V304.5M501.9 302.8h2.6M501.9 304.5h2.6M504.7 302.8V304.5M503.4 302.8h2.6M503.4 304.5h2.6M506.2 302.8V304.5M504.9 302.8h2.6M504.9 304.5h2.6M507.6 302.8V304.5M506.3 302.8h2.6M506.3 304.5h2.6M509.1 302.8V304.5M507.8 302.8h2.6M507.8 304.5h2.6M510.5 302.8V304.5M509.2 302.8h2.6M509.2 304.5h2.6M512.0 302.8V304.5M510.7 302.8h2.6M510.7 304.5h2.6M513.4 302.8V304.5M512.1 302.8h2.6M512.1 304.5h2.6M514.9 302.8V304.5M513.6 302.8h2.6M513.6 304.5h2.6M516.3 302.8V304.5M515.0 302.8h2.6M515.0 304.5h2.6M517.8 302.8V304.5M516.5 302.8h2.6M516.5 304.5h2.6M519.2 302.8V304.5M517.9 302.8h2.6M517.9 304.5h2.6M520.7 302.8V304.5M519.4 302.8h2.6M519.4 304.5h2.6M522.2 302.8V304.5M520.9 302.8h2.6M520.9 304.5h2.6M523.6 302.8V304.5M522.3 302.8h2.6M522.3 304.5h2.6M525.1 302.8V304.5M523.8 302.8h2.6M523.8 304.5h2.6M526.5 302.8V304.5M525.2 302.8h2.6M525.2 304.5h2.6M528.0 302.8V304.5M526.7 302.8h2.6M526.7 304.5h2.6M529.4 302.8V304.5M528.1 302.8h2.6M528.1 304.5h2.6M530.9 302.8V304.5M529.6 302.8h2.6M529.6 304.5h2.6M532.3 302.8V304.5M531.0 302.8h2.6M531.0 304.5h2.6M533.8 302.8V304.5M532.5 302.8h2.6M532.5 304.5h2.6M535.2 302.8V304.5M534.0 302.8h2.6M534.0 304.5h2.6M536.7 302.8V304.5M535.4 302.8h2.6M535.4 304.5h2.6M538.2 302.8V304.5M536.9 302.8h2.6M536.9 304.5h2.6M539.6 302.8V304.5M538.3 302.8h2.6M538.3 304.5h2.6M541.1 302.8V304.5M539.8 302.8h2.6M539.8 304.5h2.6M542.5 302.8V304.5M541.2 302.8h2.6M541.2 304.5h2.6M544.0 302.8V304.5M542.7 302.8h2.6M542.7 304.5h2.6M545.4 302.8V304.5M544.1 302.8h2.6M544.1 304.5h2.6M546.9 302.8V304.5M545.6 302.8h2.6M545.6 304.5h2.6M548.3 302.8V304.5M547.0 302.8h2.6M547.0 304.5h2.6M549.8 302.8V304.5M548.5 302.8h2.6M548.5 304.5h2.6M551.3 302.8V304.5M550.0 302.8h2.6M550.0 304.5h2.6M552.7 302.8V304.5M551.4 302.8h2.6M551.4 304.5h2.6M554.2 302.8V304.5M552.9 302.8h2.6M552.9 304.5h2.6M555.6 302.8V304.5M554.3 302.8h2.6M554.3 304.5h2.6M557.1 302.8V304.5M555.8 302.8h2.6M555.8 304.5h2.6M558.5 302.8V304.5M557.2 302.8h2.6M557.2 304.5h2.6M560.0 302.8V304.5M558.7 302.8h2.6M558.7 304.5h2.6M561.4 302.8V304.5M560.1 302.8h2.6M560.1 304.5h2.6M562.9 302.8V304.5M561.6 302.8h2.6M561.6 304.5h2.6M564.4 302.8V304.5M563.1 302.8h2.6M563.1 304.5h2.6M565.8 302.8V304.5M564.5 302.8h2.6M564.5 304.5h2.6M567.3 302.8V304.5M566.0 302.8h2.6M566.0 304.5h2.6M568.7 302.8V304.5M567.4 302.8h2.6M567.4 304.5h2.6M570.2 302.8V304.5M568.9 302.8h2.6M568.9 304.5h2.6M571.6 302.4V304.2M570.3 302.4h2.6M570.3 304.2h2.6M573.1 301.4V303.1M571.8 301.4h2.6M571.8 303.1h2.6M574.5 300.0V302.3M573.2 300.0h2.6M573.2 302.3h2.6M576.0 298.5V301.7M574.7 298.5h2.6M574.7 301.7h2.6M577.4 297.0V301.1M576.1 297.0h2.6M576.1 301.1h2.6M578.9 295.4V300.5M577.6 295.4h2.6M577.6 300.5h2.6M580.4 293.9V299.9M579.1 293.9h2.6M579.1 299.9h2.6M581.8 292.3V299.4M580.5 292.3h2.6M580.5 299.4h2.6M583.3 290.8V298.8M582.0 290.8h2.6M582.0 298.8h2.6M584.7 289.2V298.2M583.4 289.2h2.6M583.4 298.2h2.6M586.2 287.7V297.6M584.9 287.7h2.6M584.9 297.6h2.6M587.6 286.1V297.0M586.3 286.1h2.6M586.3 297.0h2.6M589.1 284.6V296.4M587.8 284.6h2.6M587.8 296.4h2.6M590.5 283.1V295.8M589.2 283.1h2.6M589.2 295.8h2.6M592.0 281.5V295.3M590.7 281.5h2.6M590.7 295.3h2.6M593.5 280.0V294.7M592.2 280.0h2.6M592.2 294.7h2.6M594.9 278.4V294.1M593.6 278.4h2.6M593.6 294.1h2.6M596.4 276.9V293.5M595.1 276.9h2.6M595.1 293.5h2.6" stroke="#6a8ed0" stroke-width="0.8" fill="none" opacity="0.85"/>
<path d="M491.6 303.7 L493.1 303.7 L494.5 303.7 L496.0 303.7 L497.4 303.7 L498.9 303.7 L500.3 303.7 L501.8 303.7 L503.2 303.7 L504.7 303.7 L506.2 303.7 L507.6 303.7 L509.1 303.7 L510.5 303.7 L512.0 303.7 L513.4 303.7 L514.9 303.7 L516.3 303.7 L517.8 303.7 L519.2 303.7 L520.7 303.7 L522.2 303.7 L523.6 303.7 L525.1 303.7 L526.5 303.7 L528.0 303.7 L529.4 303.7 L530.9 303.7 L532.3 303.7 L533.8 303.7 L535.2 303.7 L536.7 303.7 L538.2 303.7 L539.6 303.7 L541.1 303.7 L542.5 303.7 L544.0 303.7 L545.4 303.7 L546.9 303.7 L548.3 303.7 L549.8 303.7 L551.3 303.7 L552.7 303.7 L554.2 303.7 L555.6 303.7 L557.1 303.7 L558.5 303.7 L560.0 303.7 L561.4 303.7 L562.9 303.7 L564.4 303.7 L565.8 303.7 L567.3 303.7 L568.7 303.7 L570.2 303.7 L571.6 303.3 L573.1 302.2 L574.5 301.2 L576.0 300.1 L577.4 299.0 L578.9 298.0 L580.4 296.9 L581.8 295.8 L583.3 294.8 L584.7 293.7 L586.2 292.6 L587.6 291.6 L589.1 290.5 L590.5 289.4 L592.0 288.4 L593.5 287.3 L594.9 286.2 L596.4 285.2" stroke="#6a8ed0" stroke-width="1.2" fill="none"/>
<path d="M491.6 303.7h.1M493.1 303.7h.1M494.5 303.7h.1M496.0 303.7h.1M497.4 303.7h.1M498.9 303.7h.1M500.3 303.7h.1M501.8 303.7h.1M503.2 303.7h.1M504.7 303.7h.1M506.2 303.7h.1M507.6 303.7h.1M509.1 303.7h.1M510.5 303.7h.1M512.0 303.7h.1M513.4 303.7h.1M514.9 303.7h.1M516.3 303.7h.1M517.8 303.7h.1M519.2 303.7h.1M520.7 303.7h.1M522.2 303.7h.1M523.6 303.7h.1M525.1 303.7h.1M526.5 303.7h.1M528.0 303.7h.1M529.4 303.7h.1M530.9 303.7h.1M532.3 303.7h.1M533.8 303.7h.1M535.2 303.7h.1M536.7 303.7h.1M538.2 303.7h.1M539.6 303.7h.1M541.1 303.7h.1M542.5 303.7h.1M544.0 303.7h.1M545.4 303.7h.1M546.9 303.7h.1M548.3 303.7h.1M549.8 303.7h.1M551.3 303.7h.1M552.7 303.7h.1M554.2 303.7h.1M555.6 303.7h.1M557.1 303.7h.1M558.5 303.7h.1M560.0 303.7h.1M561.4 303.7h.1M562.9 303.7h.1M564.4 303.7h.1M565.8 303.7h.1M567.3 303.7h.1M568.7 303.7h.1M570.2 303.7h.1M571.6 303.3h.1M573.1 302.2h.1M574.5 301.2h.1M576.0 300.1h.1M577.4 299.0h.1M578.9 298.0h.1M580.4 296.9h.1M581.8 295.8h.1M583.3 294.8h.1M584.7 293.7h.1M586.2 292.6h.1M587.6 291.6h.1M589.1 290.5h.1M590.5 289.4h.1M592.0 288.4h.1M593.5 287.3h.1M594.9 286.2h.1M596.4 285.2h.1" stroke="#6a8ed0" stroke-width="2.2" stroke-linecap="round"/>
<path d="M491.6 302.7V304.6M490.3 302.7h2.6M490.3 304.6h2.6M493.1 302.7V304.6M491.8 302.7h2.6M491.8 304.6h2.6M494.5 302.7V304.6M493.2 302.7h2.6M493.2 304.6h2.6M496.0 302.7V304.6M494.7 302.7h2.6M494.7 304.6h2.6M497.4 302.7V304.6M496.1 302.7h2.6M496.1 304.6h2.6M498.9 302.7V304.6M497.6 302.7h2.6M497.6 304.6h2.6M500.3 302.7V304.6M499.0 302.7h2.6M499.0 304.6h2.6M501.8 302.7V304.6M500.5 302.7h2.6M500.5 304.6h2.6M503.2 302.7V304.6M501.9 302.7h2.6M501.9 304.6h2.6M504.7 302.7V304.6M503.4 302.7h2.6M503.4 304.6h2.6M506.2 302.7V304.6M504.9 302.7h2.6M504.9 304.6h2.6M507.6 302.7V304.6M506.3 302.7h2.6M506.3 304.6h2.6M509.1 302.7V304.6M507.8 302.7h2.6M507.8 304.6h2.6M510.5 302.7V304.6M509.2 302.7h2.6M509.2 304.6h2.6M512.0 302.7V304.6M510.7 302.7h2.6M510.7 304.6h2.6M513.4 302.7V304.6M512.1 302.7h2.6M512.1 304.6h2.6M514.9 302.7V304.6M513.6 302.7h2.6M513.6 304.6h2.6M516.3 302.7V304.6M515.0 302.7h2.6M515.0 304.6h2.6M517.8 302.7V304.6M516.5 302.7h2.6M516.5 304.6h2.6M519.2 302.7V304.6M517.9 302.7h2.6M517.9 304.6h2.6M520.7 302.7V304.6M519.4 302.7h2.6M519.4 304.6h2.6M522.2 302.7V304.6M520.9 302.7h2.6M520.9 304.6h2.6M523.6 302.7V304.6M522.3 302.7h2.6M522.3 304.6h2.6M525.1 302.7V304.6M523.8 302.7h2.6M523.8 304.6h2.6M526.5 302.7V304.6M525.2 302.7h2.6M525.2 304.6h2.6M528.0 302.7V304.6M526.7 302.7h2.6M526.7 304.6h2.6M529.4 302.7V304.6M528.1 302.7h2.6M528.1 304.6h2.6M530.9 302.7V304.6M529.6 302.7h2.6M529.6 304.6h2.6M532.3 302.7V304.6M531.0 302.7h2.6M531.0 304.6h2.6M533.8 302.7V304.6M532.5 302.7h2.6M532.5 304.6h2.6M535.2 302.7V304.6M534.0 302.7h2.6M534.0 304.6h2.6M536.7 302.7V304.6M535.4 302.7h2.6M535.4 304.6h2.6M538.2 302.7V304.6M536.9 302.7h2.6M536.9 304.6h2.6M539.6 302.7V304.6M538.3 302.7h2.6M538.3 304.6h2.6M541.1 302.7V304.6M539.8 302.7h2.6M539.8 304.6h2.6M542.5 302.7V304.6M541.2 302.7h2.6M541.2 304.6h2.6M544.0 302.7V304.6M542.7 302.7h2.6M542.7 304.6h2.6M545.4 302.7V304.6M544.1 302.7h2.6M544.1 304.6h2.6M546.9 302.7V304.6M545.6 302.7h2.6M545.6 304.6h2.6M548.3 302.6V304.6M547.0 302.6h2.6M547.0 304.6h2.6M549.8 302.6V304.6M548.5 302.6h2.6M548.5 304.6h2.6M551.3 302.6V304.5M550.0 302.6h2.6M550.0 304.5h2.6M552.7 302.6V304.5M551.4 302.6h2.6M551.4 304.5h2.6M554.2 302.5V304.5M552.9 302.5h2.6M552.9 304.5h2.6M555.6 302.5V304.5M554.3 302.5h2.6M554.3 304.5h2.6M557.1 302.5V304.4M555.8 302.5h2.6M555.8 304.4h2.6M558.5 302.4V304.4M557.2 302.4h2.6M557.2 304.4h2.6M560.0 302.3V304.3M558.7 302.3h2.6M558.7 304.3h2.6M561.4 302.2V304.2M560.1 302.2h2.6M560.1 304.2h2.6M562.9 302.0V304.1M561.6 302.0h2.6M561.6 304.1h2.6M564.4 301.9V303.9M563.1 301.9h2.6M563.1 303.9h2.6M565.8 301.6V303.7M564.5 301.6h2.6M564.5 303.7h2.6M567.3 301.3V303.5M566.0 301.3h2.6M566.0 303.5h2.6M568.7 300.9V303.2M567.4 300.9h2.6M567.4 303.2h2.6M570.2 300.5V302.8M568.9 300.5h2.6M568.9 302.8h2.6M571.6 299.9V302.3M570.3 299.9h2.6M570.3 302.3h2.6M573.1 299.1V301.7M571.8 299.1h2.6M571.8 301.7h2.6M574.5 298.1V300.9M573.2 298.1h2.6M573.2 300.9h2.6M576.0 297.0V299.9M574.7 297.0h2.6M574.7 299.9h2.6M577.4 295.5V298.7M576.1 295.5h2.6M576.1 298.7h2.6M578.9 293.8V297.3M577.6 293.8h2.6M577.6 297.3h2.6M580.4 291.6V295.6M579.1 291.6h2.6M579.1 295.6h2.6M581.8 289.2V293.5M580.5 289.2h2.6M580.5 293.5h2.6M583.3 286.3V291.2M582.0 286.3h2.6M582.0 291.2h2.6M584.7 283.0V288.5M583.4 283.0h2.6M583.4 288.5h2.6M586.2 279.5V285.6M584.9 279.5h2.6M584.9 285.6h2.6M587.6 275.6V282.5M586.3 275.6h2.6M586.3 282.5h2.6M589.1 271.6V279.2M587.8 271.6h2.6M587.8 279.2h2.6M590.5 267.6V275.9M589.2 267.6h2.6M589.2 275.9h2.6M592.0 263.6V272.6M590.7 263.6h2.6M590.7 272.6h2.6M593.5 259.8V269.5M592.2 259.8h2.6M592.2 269.5h2.6M594.9 256.3V266.7M593.6 256.3h2.6M593.6 266.7h2.6M596.4 253.2V264.1M595.1 253.2h2.6M595.1 264.1h2.6" stroke="#2f78b8" stroke-width="0.8" fill="none" opacity="0.85"/>
<path d="M491.6 303.7 L493.1 303.7 L494.5 303.7 L496.0 303.7 L497.4 303.7 L498.9 303.7 L500.3 303.7 L501.8 303.7 L503.2 303.7 L504.7 303.7 L506.2 303.7 L507.6 303.7 L509.1 303.7 L510.5 303.7 L512.0 303.7 L513.4 303.7 L514.9 303.7 L516.3 303.7 L517.8 303.7 L519.2 303.7 L520.7 303.7 L522.2 303.7 L523.6 303.7 L525.1 303.7 L526.5 303.7 L528.0 303.7 L529.4 303.7 L530.9 303.7 L532.3 303.7 L533.8 303.6 L535.2 303.6 L536.7 303.6 L538.2 303.6 L539.6 303.6 L541.1 303.6 L542.5 303.6 L544.0 303.6 L545.4 303.6 L546.9 303.6 L548.3 303.6 L549.8 303.6 L551.3 303.6 L552.7 303.5 L554.2 303.5 L555.6 303.5 L557.1 303.4 L558.5 303.4 L560.0 303.3 L561.4 303.2 L562.9 303.1 L564.4 302.9 L565.8 302.7 L567.3 302.4 L568.7 302.1 L570.2 301.6 L571.6 301.1 L573.1 300.4 L574.5 299.5 L576.0 298.4 L577.4 297.1 L578.9 295.5 L580.4 293.6 L581.8 291.4 L583.3 288.7 L584.7 285.8 L586.2 282.5 L587.6 279.0 L589.1 275.4 L590.5 271.7 L592.0 268.1 L593.5 264.7 L594.9 261.5 L596.4 258.7" stroke="#2f78b8" stroke-width="1.2" fill="none"/>
<path d="M491.6 303.7h.1M493.1 303.7h.1M494.5 303.7h.1M496.0 303.7h.1M497.4 303.7h.1M498.9 303.7h.1M500.3 303.7h.1M501.8 303.7h.1M503.2 303.7h.1M504.7 303.7h.1M506.2 303.7h.1M507.6 303.7h.1M509.1 303.7h.1M510.5 303.7h.1M512.0 303.7h.1M513.4 303.7h.1M514.9 303.7h.1M516.3 303.7h.1M517.8 303.7h.1M519.2 303.7h.1M520.7 303.7h.1M522.2 303.7h.1M523.6 303.7h.1M525.1 303.7h.1M526.5 303.7h.1M528.0 303.7h.1M529.4 303.7h.1M530.9 303.7h.1M532.3 303.7h.1M533.8 303.6h.1M535.2 303.6h.1M536.7 303.6h.1M538.2 303.6h.1M539.6 303.6h.1M541.1 303.6h.1M542.5 303.6h.1M544.0 303.6h.1M545.4 303.6h.1M546.9 303.6h.1M548.3 303.6h.1M549.8 303.6h.1M551.3 303.6h.1M552.7 303.5h.1M554.2 303.5h.1M555.6 303.5h.1M557.1 303.4h.1M558.5 303.4h.1M560.0 303.3h.1M561.4 303.2h.1M562.9 303.1h.1M564.4 302.9h.1M565.8 302.7h.1M567.3 302.4h.1M568.7 302.1h.1M570.2 301.6h.1M571.6 301.1h.1M573.1 300.4h.1M574.5 299.5h.1M576.0 298.4h.1M577.4 297.1h.1M578.9 295.5h.1M580.4 293.6h.1M581.8 291.4h.1M583.3 288.7h.1M584.7 285.8h.1M586.2 282.5h.1M587.6 279.0h.1M589.1 275.4h.1M590.5 271.7h.1M592.0 268.1h.1M593.5 264.7h.1M594.9 261.5h.1M596.4 258.7h.1" stroke="#2f78b8" stroke-width="2.2" stroke-linecap="round"/>
<path d="M570.2 298.4V300.1M568.9 298.4h2.6M568.9 300.1h2.6M571.6 297.0V298.9M570.3 297.0h2.6M570.3 298.9h2.6M573.1 295.4V297.4M571.8 295.4h2.6M571.8 297.4h2.6M574.5 293.4V295.6M573.2 293.4h2.6M573.2 295.6h2.6M576.0 291.0V293.5M574.7 291.0h2.6M574.7 293.5h2.6M577.4 288.1V291.0M576.1 288.1h2.6M576.1 291.0h2.6M578.9 284.9V288.1M577.6 284.9h2.6M577.6 288.1h2.6M580.4 281.3V284.9M579.1 281.3h2.6M579.1 284.9h2.6M581.8 277.4V281.4M580.5 277.4h2.6M580.5 281.4h2.6M583.3 273.3V277.9M582.0 273.3h2.6M582.0 277.9h2.6M584.7 269.3V274.3M583.4 269.3h2.6M583.4 274.3h2.6M586.2 265.4V270.8M584.9 265.4h2.6M584.9 270.8h2.6M587.6 261.8V267.6M586.3 261.8h2.6M586.3 267.6h2.6M589.1 258.6V264.8M587.8 258.6h2.6M587.8 264.8h2.6M590.5 255.7V262.2M589.2 255.7h2.6M589.2 262.2h2.6M592.0 253.3V260.1M590.7 253.3h2.6M590.7 260.1h2.6M593.5 251.3V258.3M592.2 251.3h2.6M592.2 258.3h2.6M594.9 249.6V256.8M593.6 249.6h2.6M593.6 256.8h2.6M596.4 248.3V255.7M595.1 248.3h2.6M595.1 255.7h2.6" stroke="#2a56b0" stroke-width="0.8" fill="none" opacity="0.85"/>
<path d="M491.6 303.7 L493.1 303.7 L494.5 303.7 L496.0 303.7 L497.4 303.7 L498.9 303.7 L500.3 303.7 L501.8 303.7 L503.2 303.7 L504.7 303.7 L506.2 303.7 L507.6 303.7 L509.1 303.7 L510.5 303.7 L512.0 303.7 L513.4 303.7 L514.9 303.7 L516.3 303.7 L517.8 303.7 L519.2 303.7 L520.7 303.7 L522.2 303.7 L523.6 303.7 L525.1 303.7 L526.5 303.7 L528.0 303.7 L529.4 303.7 L530.9 303.7 L532.3 303.6 L533.8 303.6 L535.2 303.6 L536.7 303.6 L538.2 303.6 L539.6 303.6 L541.1 303.6 L542.5 303.6 L544.0 303.6 L545.4 303.6 L546.9 303.6 L548.3 303.6 L549.8 303.5 L551.3 303.5 L552.7 303.5 L554.2 303.4 L555.6 303.3 L557.1 303.2 L558.5 303.1 L560.0 302.9 L561.4 302.7 L562.9 302.4 L564.4 302.1 L565.8 301.6 L567.3 301.0 L568.7 300.2 L570.2 299.2 L571.6 298.0 L573.1 296.4 L574.5 294.5 L576.0 292.2 L577.4 289.5 L578.9 286.5 L580.4 283.1 L581.8 279.4 L583.3 275.6 L584.7 271.8 L586.2 268.1 L587.6 264.7 L589.1 261.7 L590.5 259.0 L592.0 256.7 L593.5 254.8 L594.9 253.2 L596.4 252.0" stroke="#2a56b0" stroke-width="1.3" fill="none"/>
<path d="M491.6 303.7h.1M493.1 303.7h.1M494.5 303.7h.1M496.0 303.7h.1M497.4 303.7h.1M498.9 303.7h.1M500.3 303.7h.1M501.8 303.7h.1M503.2 303.7h.1M504.7 303.7h.1M506.2 303.7h.1M507.6 303.7h.1M509.1 303.7h.1M510.5 303.7h.1M512.0 303.7h.1M513.4 303.7h.1M514.9 303.7h.1M516.3 303.7h.1M517.8 303.7h.1M519.2 303.7h.1M520.7 303.7h.1M522.2 303.7h.1M523.6 303.7h.1M525.1 303.7h.1M526.5 303.7h.1M528.0 303.7h.1M529.4 303.7h.1M530.9 303.7h.1M532.3 303.6h.1M533.8 303.6h.1M535.2 303.6h.1M536.7 303.6h.1M538.2 303.6h.1M539.6 303.6h.1M541.1 303.6h.1M542.5 303.6h.1M544.0 303.6h.1M545.4 303.6h.1M546.9 303.6h.1M548.3 303.6h.1M549.8 303.5h.1M551.3 303.5h.1M552.7 303.5h.1M554.2 303.4h.1M555.6 303.3h.1M557.1 303.2h.1M558.5 303.1h.1M560.0 302.9h.1M561.4 302.7h.1M562.9 302.4h.1M564.4 302.1h.1M565.8 301.6h.1M567.3 301.0h.1M568.7 300.2h.1M570.2 299.2h.1M571.6 298.0h.1M573.1 296.4h.1M574.5 294.5h.1M576.0 292.2h.1M577.4 289.5h.1M578.9 286.5h.1M580.4 283.1h.1M581.8 279.4h.1M583.3 275.6h.1M584.7 271.8h.1M586.2 268.1h.1M587.6 264.7h.1M589.1 261.7h.1M590.5 259.0h.1M592.0 256.7h.1M593.5 254.8h.1M594.9 253.2h.1M596.4 252.0h.1" stroke="#2a56b0" stroke-width="2.2" stroke-linecap="round"/>
<path d="M571.6 294.7V296.4M570.3 294.7h2.6M570.3 296.4h2.6M573.1 292.5V294.4M571.8 292.5h2.6M571.8 294.4h2.6M574.5 289.8V292.1M573.2 289.8h2.6M573.2 292.1h2.6M576.0 286.8V289.3M574.7 286.8h2.6M574.7 289.3h2.6M577.4 283.3V286.2M576.1 283.3h2.6M576.1 286.2h2.6M578.9 279.5V282.7M577.6 279.5h2.6M577.6 282.7h2.6M580.4 275.5V279.1M579.1 275.5h2.6M579.1 279.1h2.6M581.8 271.3V275.3M580.5 271.3h2.6M580.5 275.3h2.6M583.3 267.2V271.6M582.0 267.2h2.6M582.0 271.6h2.6M584.7 263.3V268.1M583.4 263.3h2.6M583.4 268.1h2.6M586.2 259.7V264.8M584.9 259.7h2.6M584.9 264.8h2.6M587.6 256.6V262.0M586.3 256.6h2.6M586.3 262.0h2.6M589.1 253.8V259.4M587.8 253.8h2.6M587.8 259.4h2.6M590.5 251.4V257.3M589.2 251.4h2.6M589.2 257.3h2.6M592.0 249.5V255.6M590.7 249.5h2.6M590.7 255.6h2.6M593.5 247.9V254.2M592.2 247.9h2.6M592.2 254.2h2.6M594.9 246.7V253.0M593.6 246.7h2.6M593.6 253.0h2.6M596.4 245.7V252.1M595.1 245.7h2.6M595.1 252.1h2.6" stroke="#2840a8" stroke-width="0.8" fill="none" opacity="0.85"/>
<path d="M491.6 303.7 L493.1 303.7 L494.5 303.7 L496.0 303.7 L497.4 303.7 L498.9 303.7 L500.3 303.7 L501.8 303.7 L503.2 303.7 L504.7 303.7 L506.2 303.7 L507.6 303.7 L509.1 303.7 L510.5 303.7 L512.0 303.7 L513.4 303.7 L514.9 303.7 L516.3 303.7 L517.8 303.7 L519.2 303.7 L520.7 303.7 L522.2 303.7 L523.6 303.7 L525.1 303.7 L526.5 303.7 L528.0 303.7 L529.4 303.7 L530.9 303.6 L532.3 303.6 L533.8 303.6 L535.2 303.6 L536.7 303.6 L538.2 303.6 L539.6 303.6 L541.1 303.6 L542.5 303.6 L544.0 303.6 L545.4 303.6 L546.9 303.6 L548.3 303.5 L549.8 303.5 L551.3 303.4 L552.7 303.4 L554.2 303.3 L555.6 303.2 L557.1 303.0 L558.5 302.9 L560.0 302.6 L561.4 302.3 L562.9 301.9 L564.4 301.3 L565.8 300.7 L567.3 299.8 L568.7 298.7 L570.2 297.3 L571.6 295.6 L573.1 293.5 L574.5 291.0 L576.0 288.0 L577.4 284.8 L578.9 281.1 L580.4 277.3 L581.8 273.3 L583.3 269.4 L584.7 265.7 L586.2 262.3 L587.6 259.3 L589.1 256.6 L590.5 254.4 L592.0 252.6 L593.5 251.1 L594.9 249.9 L596.4 248.9" stroke="#2840a8" stroke-width="1.3" fill="none"/>
<path d="M491.6 303.7h.1M493.1 303.7h.1M494.5 303.7h.1M496.0 303.7h.1M497.4 303.7h.1M498.9 303.7h.1M500.3 303.7h.1M501.8 303.7h.1M503.2 303.7h.1M504.7 303.7h.1M506.2 303.7h.1M507.6 303.7h.1M509.1 303.7h.1M510.5 303.7h.1M512.0 303.7h.1M513.4 303.7h.1M514.9 303.7h.1M516.3 303.7h.1M517.8 303.7h.1M519.2 303.7h.1M520.7 303.7h.1M522.2 303.7h.1M523.6 303.7h.1M525.1 303.7h.1M526.5 303.7h.1M528.0 303.7h.1M529.4 303.7h.1M530.9 303.6h.1M532.3 303.6h.1M533.8 303.6h.1M535.2 303.6h.1M536.7 303.6h.1M538.2 303.6h.1M539.6 303.6h.1M541.1 303.6h.1M542.5 303.6h.1M544.0 303.6h.1M545.4 303.6h.1M546.9 303.6h.1M548.3 303.5h.1M549.8 303.5h.1M551.3 303.4h.1M552.7 303.4h.1M554.2 303.3h.1M555.6 303.2h.1M557.1 303.0h.1M558.5 302.9h.1M560.0 302.6h.1M561.4 302.3h.1M562.9 301.9h.1M564.4 301.3h.1M565.8 300.7h.1M567.3 299.8h.1M568.7 298.7h.1M570.2 297.3h.1M571.6 295.6h.1M573.1 293.5h.1M574.5 291.0h.1M576.0 288.0h.1M577.4 284.8h.1M578.9 281.1h.1M580.4 277.3h.1M581.8 273.3h.1M583.3 269.4h.1M584.7 265.7h.1M586.2 262.3h.1M587.6 259.3h.1M589.1 256.6h.1M590.5 254.4h.1M592.0 252.6h.1M593.5 251.1h.1M594.9 249.9h.1M596.4 248.9h.1" stroke="#2840a8" stroke-width="2.2" stroke-linecap="round"/>
<path d="M568.7 295.8V297.5M567.4 295.8h2.6M567.4 297.5h2.6M570.2 293.8V295.7M568.9 293.8h2.6M568.9 295.7h2.6M571.6 291.5V293.5M570.3 291.5h2.6M570.3 293.5h2.6M573.1 288.6V291.0M571.8 288.6h2.6M571.8 291.0h2.6M574.5 285.4V288.0M573.2 285.4h2.6M573.2 288.0h2.6M576.0 281.7V284.7M574.7 281.7h2.6M574.7 284.7h2.6M577.4 277.8V281.2M576.1 277.8h2.6M576.1 281.2h2.6M578.9 273.6V277.4M577.6 273.6h2.6M577.6 277.4h2.6M580.4 269.4V273.6M579.1 269.4h2.6M579.1 273.6h2.6M581.8 265.3V269.9M580.5 265.3h2.6M580.5 269.9h2.6M583.3 261.4V266.4M582.0 261.4h2.6M582.0 266.4h2.6M584.7 257.9V263.2M583.4 257.9h2.6M583.4 263.2h2.6M586.2 254.8V260.4M584.9 254.8h2.6M584.9 260.4h2.6M587.6 252.1V258.0M586.3 252.1h2.6M586.3 258.0h2.6M589.1 249.9V255.9M587.8 249.9h2.6M587.8 255.9h2.6M590.5 248.1V254.3M589.2 248.1h2.6M589.2 254.3h2.6M592.0 246.6V252.9M590.7 246.6h2.6M590.7 252.9h2.6M593.5 245.4V251.8M592.2 245.4h2.6M592.2 251.8h2.6M594.9 244.4V251.0M593.6 244.4h2.6M593.6 251.0h2.6M596.4 243.7V250.3M595.1 243.7h2.6M595.1 250.3h2.6" stroke="#22309a" stroke-width="0.8" fill="none" opacity="0.85"/>
<path d="M491.6 303.7 L493.1 303.7 L494.5 303.7 L496.0 303.7 L497.4 303.7 L498.9 303.7 L500.3 303.7 L501.8 303.7 L503.2 303.7 L504.7 303.7 L506.2 303.7 L507.6 303.7 L509.1 303.7 L510.5 303.7 L512.0 303.7 L513.4 303.7 L514.9 303.7 L516.3 303.7 L517.8 303.7 L519.2 303.7 L520.7 303.7 L522.2 303.7 L523.6 303.7 L525.1 303.7 L526.5 303.7 L528.0 303.6 L529.4 303.6 L530.9 303.6 L532.3 303.6 L533.8 303.6 L535.2 303.6 L536.7 303.6 L538.2 303.6 L539.6 303.6 L541.1 303.6 L542.5 303.6 L544.0 303.6 L545.4 303.6 L546.9 303.5 L548.3 303.5 L549.8 303.4 L551.3 303.4 L552.7 303.3 L554.2 303.1 L555.6 303.0 L557.1 302.8 L558.5 302.5 L560.0 302.1 L561.4 301.7 L562.9 301.1 L564.4 300.3 L565.8 299.4 L567.3 298.1 L568.7 296.6 L570.2 294.8 L571.6 292.5 L573.1 289.8 L574.5 286.7 L576.0 283.2 L577.4 279.5 L578.9 275.5 L580.4 271.5 L581.8 267.6 L583.3 263.9 L584.7 260.5 L586.2 257.6 L587.6 255.0 L589.1 252.9 L590.5 251.2 L592.0 249.7 L593.5 248.6 L594.9 247.7 L596.4 247.0" stroke="#22309a" stroke-width="1.3" fill="none"/>
<path d="M491.6 303.7h.1M493.1 303.7h.1M494.5 303.7h.1M496.0 303.7h.1M497.4 303.7h.1M498.9 303.7h.1M500.3 303.7h.1M501.8 303.7h.1M503.2 303.7h.1M504.7 303.7h.1M506.2 303.7h.1M507.6 303.7h.1M509.1 303.7h.1M510.5 303.7h.1M512.0 303.7h.1M513.4 303.7h.1M514.9 303.7h.1M516.3 303.7h.1M517.8 303.7h.1M519.2 303.7h.1M520.7 303.7h.1M522.2 303.7h.1M523.6 303.7h.1M525.1 303.7h.1M526.5 303.7h.1M528.0 303.6h.1M529.4 303.6h.1M530.9 303.6h.1M532.3 303.6h.1M533.8 303.6h.1M535.2 303.6h.1M536.7 303.6h.1M538.2 303.6h.1M539.6 303.6h.1M541.1 303.6h.1M542.5 303.6h.1M544.0 303.6h.1M545.4 303.6h.1M546.9 303.5h.1M548.3 303.5h.1M549.8 303.4h.1M551.3 303.4h.1M552.7 303.3h.1M554.2 303.1h.1M555.6 303.0h.1M557.1 302.8h.1M558.5 302.5h.1M560.0 302.1h.1M561.4 301.7h.1M562.9 301.1h.1M564.4 300.3h.1M565.8 299.4h.1M567.3 298.1h.1M568.7 296.6h.1M570.2 294.8h.1M571.6 292.5h.1M573.1 289.8h.1M574.5 286.7h.1M576.0 283.2h.1M577.4 279.5h.1M578.9 275.5h.1M580.4 271.5h.1M581.8 267.6h.1M583.3 263.9h.1M584.7 260.5h.1M586.2 257.6h.1M587.6 255.0h.1M589.1 252.9h.1M590.5 251.2h.1M592.0 249.7h.1M593.5 248.6h.1M594.9 247.7h.1M596.4 247.0h.1" stroke="#22309a" stroke-width="2.2" stroke-linecap="round"/>
<path d="M567.3 295.7V297.3M566.0 295.7h2.6M566.0 297.3h2.6M568.7 293.7V295.5M567.4 293.7h2.6M567.4 295.5h2.6M570.2 291.3V293.4M568.9 291.3h2.6M568.9 293.4h2.6M571.6 288.4V290.8M570.3 288.4h2.6M570.3 290.8h2.6M573.1 285.1V287.8M571.8 285.1h2.6M571.8 287.8h2.6M574.5 281.4V284.4M573.2 281.4h2.6M573.2 284.4h2.6M576.0 277.4V280.8M574.7 277.4h2.6M574.7 280.8h2.6M577.4 273.1V277.0M576.1 273.1h2.6M576.1 277.0h2.6M578.9 268.9V273.1M577.6 268.9h2.6M577.6 273.1h2.6M580.4 264.7V269.3M579.1 264.7h2.6M579.1 269.3h2.6M581.8 260.7V265.7M580.5 260.7h2.6M580.5 265.7h2.6M583.3 257.2V262.5M582.0 257.2h2.6M582.0 262.5h2.6M584.7 254.0V259.7M583.4 254.0h2.6M583.4 259.7h2.6M586.2 251.3V257.2M584.9 251.3h2.6M584.9 257.2h2.6M587.6 249.0V255.1M586.3 249.0h2.6M586.3 255.1h2.6M589.1 247.2V253.5M587.8 247.2h2.6M587.8 253.5h2.6M590.5 245.7V252.1M589.2 245.7h2.6M589.2 252.1h2.6M592.0 244.4V251.0M590.7 244.4h2.6M590.7 251.0h2.6M593.5 243.5V250.1M592.2 243.5h2.6M592.2 250.1h2.6M594.9 242.7V249.5M593.6 242.7h2.6M593.6 249.5h2.6M596.4 242.2V248.9M595.1 242.2h2.6M595.1 248.9h2.6" stroke="#1f2a80" stroke-width="0.8" fill="none" opacity="0.85"/>
<path d="M491.6 303.7 L493.1 303.7 L494.5 303.7 L496.0 303.7 L497.4 303.7 L498.9 303.7 L500.3 303.7 L501.8 303.7 L503.2 303.7 L504.7 303.7 L506.2 303.7 L507.6 303.7 L509.1 303.7 L510.5 303.7 L512.0 303.7 L513.4 303.7 L514.9 303.7 L516.3 303.7 L517.8 303.7 L519.2 303.7 L520.7 303.7 L522.2 303.7 L523.6 303.7 L525.1 303.7 L526.5 303.6 L528.0 303.6 L529.4 303.6 L530.9 303.6 L532.3 303.6 L533.8 303.6 L535.2 303.6 L536.7 303.6 L538.2 303.6 L539.6 303.6 L541.1 303.6 L542.5 303.6 L544.0 303.6 L545.4 303.5 L546.9 303.5 L548.3 303.4 L549.8 303.3 L551.3 303.3 L552.7 303.1 L554.2 303.0 L555.6 302.8 L557.1 302.5 L558.5 302.1 L560.0 301.6 L561.4 301.0 L562.9 300.3 L564.4 299.3 L565.8 298.1 L567.3 296.5 L568.7 294.6 L570.2 292.3 L571.6 289.6 L573.1 286.4 L574.5 282.9 L576.0 279.1 L577.4 275.0 L578.9 271.0 L580.4 267.0 L581.8 263.2 L583.3 259.8 L584.7 256.8 L586.2 254.2 L587.6 252.1 L589.1 250.3 L590.5 248.9 L592.0 247.7 L593.5 246.8 L594.9 246.1 L596.4 245.6" stroke="#1f2a80" stroke-width="1.3" fill="none"/>
<path d="M491.6 303.7h.1M493.1 303.7h.1M494.5 303.7h.1M496.0 303.7h.1M497.4 303.7h.1M498.9 303.7h.1M500.3 303.7h.1M501.8 303.7h.1M503.2 303.7h.1M504.7 303.7h.1M506.2 303.7h.1M507.6 303.7h.1M509.1 303.7h.1M510.5 303.7h.1M512.0 303.7h.1M513.4 303.7h.1M514.9 303.7h.1M516.3 303.7h.1M517.8 303.7h.1M519.2 303.7h.1M520.7 303.7h.1M522.2 303.7h.1M523.6 303.7h.1M525.1 303.7h.1M526.5 303.6h.1M528.0 303.6h.1M529.4 303.6h.1M530.9 303.6h.1M532.3 303.6h.1M533.8 303.6h.1M535.2 303.6h.1M536.7 303.6h.1M538.2 303.6h.1M539.6 303.6h.1M541.1 303.6h.1M542.5 303.6h.1M544.0 303.6h.1M545.4 303.5h.1M546.9 303.5h.1M548.3 303.4h.1M549.8 303.3h.1M551.3 303.3h.1M552.7 303.1h.1M554.2 303.0h.1M555.6 302.8h.1M557.1 302.5h.1M558.5 302.1h.1M560.0 301.6h.1M561.4 301.0h.1M562.9 300.3h.1M564.4 299.3h.1M565.8 298.1h.1M567.3 296.5h.1M568.7 294.6h.1M570.2 292.3h.1M571.6 289.6h.1M573.1 286.4h.1M574.5 282.9h.1M576.0 279.1h.1M577.4 275.0h.1M578.9 271.0h.1M580.4 267.0h.1M581.8 263.2h.1M583.3 259.8h.1M584.7 256.8h.1M586.2 254.2h.1M587.6 252.1h.1M589.1 250.3h.1M590.5 248.9h.1M592.0 247.7h.1M593.5 246.8h.1M594.9 246.1h.1M596.4 245.6h.1" stroke="#1f2a80" stroke-width="2.2" stroke-linecap="round"/>
<path d="M549.8 293.1V295.0M548.5 293.1h2.6M548.5 295.0h2.6M551.3 282.9V285.5M550.0 282.9h2.6M550.0 285.5h2.6M552.7 269.6V273.2M551.4 269.6h2.6M551.4 273.2h2.6M554.2 257.6V262.0M552.9 257.6h2.6M552.9 262.0h2.6M555.6 249.4V254.4M554.3 249.4h2.6M554.3 254.4h2.6M557.1 244.8V250.2M555.8 244.8h2.6M555.8 250.2h2.6M558.5 242.5V247.9M557.2 242.5h2.6M557.2 247.9h2.6M560.0 241.3V246.7M558.7 241.3h2.6M558.7 246.7h2.6M561.4 240.5V245.9M560.1 240.5h2.6M560.1 245.9h2.6M562.9 240.0V245.4M561.6 240.0h2.6M561.6 245.4h2.6M564.4 239.5V244.9M563.1 239.5h2.6M563.1 244.9h2.6M565.8 239.1V244.5M564.5 239.1h2.6M564.5 244.5h2.6M567.3 238.8V244.1M566.0 238.8h2.6M566.0 244.1h2.6M568.7 238.4V243.8M567.4 238.4h2.6M567.4 243.8h2.6M570.2 238.0V243.4M568.9 238.0h2.6M568.9 243.4h2.6M571.6 237.7V243.1M570.3 237.7h2.6M570.3 243.1h2.6M573.1 237.4V242.8M571.8 237.4h2.6M571.8 242.8h2.6M574.5 237.1V242.5M573.2 237.1h2.6M573.2 242.5h2.6M576.0 236.8V242.2M574.7 236.8h2.6M574.7 242.2h2.6M577.4 236.5V241.9M576.1 236.5h2.6M576.1 241.9h2.6M578.9 236.2V241.6M577.6 236.2h2.6M577.6 241.6h2.6M580.4 236.0V241.3M579.1 236.0h2.6M579.1 241.3h2.6M581.8 235.7V241.1M580.5 235.7h2.6M580.5 241.1h2.6M583.3 235.5V240.8M582.0 235.5h2.6M582.0 240.8h2.6M584.7 235.2V240.6M583.4 235.2h2.6M583.4 240.6h2.6M586.2 235.0V240.4M584.9 235.0h2.6M584.9 240.4h2.6M587.6 234.8V240.2M586.3 234.8h2.6M586.3 240.2h2.6M589.1 234.6V239.9M587.8 234.6h2.6M587.8 239.9h2.6M590.5 234.4V239.7M589.2 234.4h2.6M589.2 239.7h2.6M592.0 234.2V239.5M590.7 234.2h2.6M590.7 239.5h2.6M593.5 234.0V239.4M592.2 234.0h2.6M592.2 239.4h2.6M594.9 233.8V239.2M593.6 233.8h2.6M593.6 239.2h2.6M596.4 233.6V239.0M595.1 233.6h2.6M595.1 239.0h2.6" stroke="#6a6a6a" stroke-width="0.8" fill="none" opacity="0.85"/>
<path d="M491.6 304.6 L493.1 304.6 L494.5 304.6 L496.0 304.6 L497.4 304.6 L498.9 304.6 L500.3 304.6 L501.8 304.6 L503.2 304.6 L504.7 304.6 L506.2 304.6 L507.6 304.6 L509.1 304.6 L510.5 304.6 L512.0 304.6 L513.4 304.6 L514.9 304.6 L516.3 304.6 L517.8 304.6 L519.2 304.6 L520.7 304.6 L522.2 304.6 L523.6 304.6 L525.1 304.6 L526.5 304.6 L528.0 304.6 L529.4 304.6 L530.9 304.6 L532.3 304.6 L533.8 304.6 L535.2 304.6 L536.7 304.6 L538.2 304.6 L539.6 304.6 L541.1 304.5 L542.5 304.5 L544.0 304.2 L545.4 303.7 L546.9 302.5 L548.3 299.7 L549.8 294.0 L551.3 284.2 L552.7 271.4 L554.2 259.8 L555.6 251.9 L557.1 247.5 L558.5 245.2 L560.0 244.0 L561.4 243.2 L562.9 242.7 L564.4 242.2 L565.8 241.8 L567.3 241.4 L568.7 241.1 L570.2 240.7 L571.6 240.4 L573.1 240.1 L574.5 239.8 L576.0 239.5 L577.4 239.2 L578.9 238.9 L580.4 238.7 L581.8 238.4 L583.3 238.2 L584.7 237.9 L586.2 237.7 L587.6 237.5 L589.1 237.3 L590.5 237.1 L592.0 236.9 L593.5 236.7 L594.9 236.5 L596.4 236.3" stroke="#6a6a6a" stroke-width="2.4" fill="none"/>
<path d="M491.6 304.6h.1M493.1 304.6h.1M494.5 304.6h.1M496.0 304.6h.1M497.4 304.6h.1M498.9 304.6h.1M500.3 304.6h.1M501.8 304.6h.1M503.2 304.6h.1M504.7 304.6h.1M506.2 304.6h.1M507.6 304.6h.1M509.1 304.6h.1M510.5 304.6h.1M512.0 304.6h.1M513.4 304.6h.1M514.9 304.6h.1M516.3 304.6h.1M517.8 304.6h.1M519.2 304.6h.1M520.7 304.6h.1M522.2 304.6h.1M523.6 304.6h.1M525.1 304.6h.1M526.5 304.6h.1M528.0 304.6h.1M529.4 304.6h.1M530.9 304.6h.1M532.3 304.6h.1M533.8 304.6h.1M535.2 304.6h.1M536.7 304.6h.1M538.2 304.6h.1M539.6 304.6h.1M541.1 304.5h.1M542.5 304.5h.1M544.0 304.2h.1M545.4 303.7h.1M546.9 302.5h.1M548.3 299.7h.1M549.8 294.0h.1M551.3 284.2h.1M552.7 271.4h.1M554.2 259.8h.1M555.6 251.9h.1M557.1 247.5h.1M558.5 245.2h.1M560.0 244.0h.1M561.4 243.2h.1M562.9 242.7h.1M564.4 242.2h.1M565.8 241.8h.1M567.3 241.4h.1M568.7 241.1h.1M570.2 240.7h.1M571.6 240.4h.1M573.1 240.1h.1M574.5 239.8h.1M576.0 239.5h.1M577.4 239.2h.1M578.9 238.9h.1M580.4 238.7h.1M581.8 238.4h.1M583.3 238.2h.1M584.7 237.9h.1M586.2 237.7h.1M587.6 237.5h.1M589.1 237.3h.1M590.5 237.1h.1M592.0 236.9h.1M593.5 236.7h.1M594.9 236.5h.1M596.4 236.3h.1" stroke="#6a6a6a" stroke-width="2.2" stroke-linecap="round"/>
<circle cx="610.5" cy="207.3" r="1.6" fill="#555"/>
<text x="615.8" y="210.7" font-size="9.7" stroke="#1a1a1a" stroke-width="0.22">No lectin</text>
<rect x="609.0" y="219.2" width="3.0" height="3.0" fill="#1f2a80"/>
<text x="615.8" y="224.1" font-size="9.7" stroke="#1a1a1a" stroke-width="0.22">0.05 µM mltln2</text>
<path d="M610.5 232.0L612.5 235.5L608.5 235.5Z" fill="#111"/>
<text x="615.8" y="237.4" font-size="9.7" stroke="#1a1a1a" stroke-width="0.22">0.125 µM mltln2</text>
<path d="M610.5 249.4L612.5 245.9L608.5 245.9Z" fill="#111"/>
<text x="615.8" y="250.8" font-size="9.7" stroke="#1a1a1a" stroke-width="0.22">0.25 µM mltln2</text>
<path d="M610.5 258.8L612.3 260.8L610.5 262.8L608.7 260.8Z" fill="#1f2a80"/>
<text x="615.8" y="264.2" font-size="9.7" stroke="#1a1a1a" stroke-width="0.22">0.5 µM mltln2</text>
<circle cx="610.5" cy="274.1" r="1.5" fill="#cde" stroke="#2f78b8" stroke-width="0.9"/>
<text x="615.8" y="277.5" font-size="9.7" stroke="#1a1a1a" stroke-width="0.22">1.25 µM mltln2</text>
<rect x="609.0" y="286.0" width="3.0" height="3.0" fill="#cde" stroke="#3a86c0" stroke-width="0.9"/>
<text x="615.8" y="290.9" font-size="9.7" stroke="#1a1a1a" stroke-width="0.22">2.5 µM mltln2</text>
<path d="M610.5 298.9L612.5 302.4L608.5 302.4Z" fill="#cde" stroke="#1f4f7a" stroke-width="0.8"/>
<text x="615.8" y="304.3" font-size="9.7" stroke="#1a1a1a" stroke-width="0.22">5 µM mltln2</text>
<text x="1.6" y="356.2" font-size="10.5" font-weight="bold" fill="#000">G</text>
<text x="122.5" y="358.6" font-size="9.9" text-anchor="middle" stroke="#1a1a1a" stroke-width="0.22">Unfunctionalized liposomes</text>
<text x="287.0" y="358.6" font-size="9.9" text-anchor="middle" stroke="#1a1a1a" stroke-width="0.22">Lactose-functionalized liposomes</text>
<line x1="44.6" y1="365.5" x2="44.6" y2="466.8" stroke="#555" stroke-width="1.2"/>
<line x1="44.1" y1="466.3" x2="195.5" y2="466.3" stroke="#555" stroke-width="1.2"/>
<line x1="40.6" y1="366.0" x2="44.6" y2="366.0" stroke="#555" stroke-width="1.0"/>
<line x1="40.6" y1="391.0" x2="44.6" y2="391.0" stroke="#555" stroke-width="1.0"/>
<line x1="40.6" y1="416.0" x2="44.6" y2="416.0" stroke="#555" stroke-width="1.0"/>
<line x1="40.6" y1="441.2" x2="44.6" y2="441.2" stroke="#555" stroke-width="1.0"/>
<line x1="40.6" y1="466.3" x2="44.6" y2="466.3" stroke="#555" stroke-width="1.0"/>
<line x1="44.6" y1="466.3" x2="44.6" y2="469.3" stroke="#555" stroke-width="1.0"/>
<text x="44.6" y="481.4" font-size="9.6" text-anchor="middle" stroke="#1a1a1a" stroke-width="0.22">0</text>
<line x1="69.8" y1="466.3" x2="69.8" y2="469.3" stroke="#555" stroke-width="1.0"/>
<text x="69.8" y="481.4" font-size="9.6" text-anchor="middle" stroke="#1a1a1a" stroke-width="0.22">5</text>
<line x1="94.9" y1="466.3" x2="94.9" y2="469.3" stroke="#555" stroke-width="1.0"/>
<text x="94.9" y="481.4" font-size="9.6" text-anchor="middle" stroke="#1a1a1a" stroke-width="0.22">10</text>
<line x1="120.0" y1="466.3" x2="120.0" y2="469.3" stroke="#555" stroke-width="1.0"/>
<text x="120.0" y="481.4" font-size="9.6" text-anchor="middle" stroke="#1a1a1a" stroke-width="0.22">15</text>
<line x1="145.2" y1="466.3" x2="145.2" y2="469.3" stroke="#555" stroke-width="1.0"/>
<text x="145.2" y="481.4" font-size="9.6" text-anchor="middle" stroke="#1a1a1a" stroke-width="0.22">20</text>
<line x1="170.3" y1="466.3" x2="170.3" y2="469.3" stroke="#555" stroke-width="1.0"/>
<text x="170.3" y="481.4" font-size="9.6" text-anchor="middle" stroke="#1a1a1a" stroke-width="0.22">25</text>
<line x1="195.5" y1="466.3" x2="195.5" y2="469.3" stroke="#555" stroke-width="1.0"/>
<text x="195.5" y="481.4" font-size="9.6" text-anchor="middle" stroke="#1a1a1a" stroke-width="0.22">30</text>
<text x="120.1" y="496.8" font-size="9.8" text-anchor="middle" stroke="#1a1a1a" stroke-width="0.22">Time (mins)</text>
<line x1="206.6" y1="365.5" x2="206.6" y2="466.8" stroke="#555" stroke-width="1.2"/>
<line x1="206.1" y1="466.3" x2="357.5" y2="466.3" stroke="#555" stroke-width="1.2"/>
<line x1="202.6" y1="366.0" x2="206.6" y2="366.0" stroke="#555" stroke-width="1.0"/>
<line x1="202.6" y1="391.0" x2="206.6" y2="391.0" stroke="#555" stroke-width="1.0"/>
<line x1="202.6" y1="416.0" x2="206.6" y2="416.0" stroke="#555" stroke-width="1.0"/>
<line x1="202.6" y1="441.2" x2="206.6" y2="441.2" stroke="#555" stroke-width="1.0"/>
<line x1="202.6" y1="466.3" x2="206.6" y2="466.3" stroke="#555" stroke-width="1.0"/>
<line x1="206.6" y1="466.3" x2="206.6" y2="469.3" stroke="#555" stroke-width="1.0"/>
<text x="206.6" y="481.4" font-size="9.6" text-anchor="middle" stroke="#1a1a1a" stroke-width="0.22">0</text>
<line x1="231.8" y1="466.3" x2="231.8" y2="469.3" stroke="#555" stroke-width="1.0"/>
<text x="231.8" y="481.4" font-size="9.6" text-anchor="middle" stroke="#1a1a1a" stroke-width="0.22">5</text>
<line x1="256.9" y1="466.3" x2="256.9" y2="469.3" stroke="#555" stroke-width="1.0"/>
<text x="256.9" y="481.4" font-size="9.6" text-anchor="middle" stroke="#1a1a1a" stroke-width="0.22">10</text>
<line x1="282.0" y1="466.3" x2="282.0" y2="469.3" stroke="#555" stroke-width="1.0"/>
<text x="282.0" y="481.4" font-size="9.6" text-anchor="middle" stroke="#1a1a1a" stroke-width="0.22">15</text>
<line x1="307.2" y1="466.3" x2="307.2" y2="469.3" stroke="#555" stroke-width="1.0"/>
<text x="307.2" y="481.4" font-size="9.6" text-anchor="middle" stroke="#1a1a1a" stroke-width="0.22">20</text>
<line x1="332.3" y1="466.3" x2="332.3" y2="469.3" stroke="#555" stroke-width="1.0"/>
<text x="332.3" y="481.4" font-size="9.6" text-anchor="middle" stroke="#1a1a1a" stroke-width="0.22">25</text>
<line x1="357.5" y1="466.3" x2="357.5" y2="469.3" stroke="#555" stroke-width="1.0"/>
<text x="357.5" y="481.4" font-size="9.6" text-anchor="middle" stroke="#1a1a1a" stroke-width="0.22">25</text>
<text x="282.1" y="496.8" font-size="9.8" text-anchor="middle" stroke="#1a1a1a" stroke-width="0.22">Time (mins)</text>
<text x="36.2" y="370.4" font-size="9.8" text-anchor="end" stroke="#1a1a1a" stroke-width="0.22">0.5</text>
<text x="36.2" y="395.4" font-size="9.8" text-anchor="end" stroke="#1a1a1a" stroke-width="0.22">0.4</text>
<text x="36.2" y="420.4" font-size="9.8" text-anchor="end" stroke="#1a1a1a" stroke-width="0.22">0.3</text>
<text x="36.2" y="445.6" font-size="9.8" text-anchor="end" stroke="#1a1a1a" stroke-width="0.22">0.2</text>
<text x="36.2" y="470.7" font-size="9.8" text-anchor="end" stroke="#1a1a1a" stroke-width="0.22">0.0</text>
<text x="18.6" y="416.0" font-size="9.8" text-anchor="middle" stroke="#1a1a1a" stroke-width="0.22" transform="rotate(-90 18.6 416.0)">Absorbance (405 nm)</text>
<circle cx="54.6" cy="375.3" r="1.7" fill="#999"/>
<text x="60.1" y="378.8" font-size="9.7" stroke="#1a1a1a" stroke-width="0.22">No lectin</text>
<circle cx="54.6" cy="387.2" r="1.7" fill="#3a62c0"/>
<text x="60.1" y="390.7" font-size="9.7" stroke="#1a1a1a" stroke-width="0.22">5 µM mltln2</text>
<circle cx="54.6" cy="399.1" r="1.7" fill="#1e2a8a"/>
<text x="60.1" y="402.6" font-size="9.7" stroke="#1a1a1a" stroke-width="0.22">10 µM mltln2</text>
<path d="M44.6 444.0 L45.6 445.7 L46.6 444.5 L47.6 444.8 L48.6 444.7 L49.6 444.6 L50.6 445.2 L51.6 444.4 L52.6 444.6 L53.7 443.0 L54.7 444.1 L55.7 444.3 L56.7 444.2 L57.7 444.3 L58.7 444.4 L59.7 444.1 L60.7 443.7 L61.7 444.0 L62.7 443.5 L63.7 443.9 L64.7 443.8 L65.7 443.2 L66.7 443.6 L67.7 444.0 L68.7 443.9 L69.8 443.6 L70.8 443.1 L71.8 443.9 L72.8 443.9 L73.8 443.5 L74.8 444.2 L75.8 444.0 L76.8 443.6 L77.8 443.8 L78.8 444.0 L79.8 443.8 L80.8 445.2 L81.8 443.8 L82.8 444.6 L83.8 444.9 L84.8 444.2 L85.8 444.1 L86.9 444.6 L87.9 444.9 L88.9 444.6 L89.9 444.7 L90.9 444.2 L91.9 444.5 L92.9 444.8 L93.9 444.5 L94.9 445.1 L95.9 445.4 L96.9 444.9 L97.9 445.0 L98.9 445.3 L99.9 445.6 L100.9 445.3 L101.9 446.3 L102.9 445.2 L104.0 445.3 L105.0 446.2 L106.0 445.6 L107.0 446.0 L108.0 445.4 L109.0 446.5 L110.0 446.1 L111.0 445.5 L112.0 445.3 L113.0 446.6 L114.0 446.0 L115.0 445.7 L116.0 446.0 L117.0 445.2 L118.0 446.2 L119.0 445.6 L120.0 446.2 L121.1 445.2 L122.1 445.7 L123.1 445.8 L124.1 446.3 L125.1 445.0 L126.1 445.3 L127.1 445.2 L128.1 445.1 L129.1 445.3 L130.1 445.6 L131.1 445.6 L132.1 445.6 L133.1 444.7 L134.1 445.7 L135.1 445.3 L136.1 445.1 L137.2 444.9 L138.2 444.7 L139.2 445.3 L140.2 445.4 L141.2 444.7 L142.2 444.2 L143.2 444.3 L144.2 444.4 L145.2 444.5 L146.2 444.3 L147.2 444.4 L148.2 443.9 L149.2 444.5 L150.2 444.1 L151.2 444.1 L152.2 443.8 L153.2 443.9 L154.3 443.0 L155.3 443.4 L156.3 443.3 L157.3 444.6 L158.3 444.0 L159.3 444.1 L160.3 443.6 L161.3 444.7 L162.3 443.4 L163.3 443.4 L164.3 444.3 L165.3 444.2 L166.3 444.1 L167.3 443.8 L168.3 443.6 L169.3 443.1 L170.3 444.0 L171.4 443.7 L172.4 443.9 L173.4 443.4 L174.4 443.8 L175.4 443.6 L176.4 444.6 L177.4 444.3 L178.4 444.6 L179.4 443.8 L180.4 444.1 L181.4 444.6 L182.4 444.7 L183.4 444.4 L184.4 444.9 L185.4 445.1 L186.4 444.4 L187.5 443.6 L188.5 444.6 L189.5 444.6 L190.5 444.7 L191.5 444.7 L192.5 443.9 L193.5 443.7 L194.5 443.9 L195.5 443.7" stroke="#2c45b0" stroke-width="2.4" fill="none" opacity="0.9"/>
<path d="M44.6 443.8 L45.6 443.7 L46.6 444.1 L47.6 443.7 L48.6 443.5 L49.6 443.7 L50.6 443.6 L51.6 443.6 L52.6 443.4 L53.7 443.0 L54.7 443.3 L55.7 443.2 L56.7 442.9 L57.7 442.9 L58.7 442.6 L59.7 443.7 L60.7 442.8 L61.7 443.2 L62.7 443.0 L63.7 442.8 L64.7 442.7 L65.7 442.8 L66.7 443.0 L67.7 442.6 L68.7 443.2 L69.8 443.2 L70.8 443.0 L71.8 443.4 L72.8 442.7 L73.8 443.1 L74.8 442.8 L75.8 443.5 L76.8 443.7 L77.8 443.5 L78.8 443.4 L79.8 443.9 L80.8 443.7 L81.8 443.9 L82.8 443.4 L83.8 444.2 L84.8 443.7 L85.8 444.3 L86.9 444.5 L87.9 444.4 L88.9 444.6 L89.9 444.3 L90.9 444.1 L91.9 444.4 L92.9 444.3 L93.9 444.0 L94.9 444.4 L95.9 444.5 L96.9 444.6 L97.9 445.0 L98.9 444.3 L99.9 445.1 L100.9 444.3 L101.9 444.5 L102.9 444.2 L104.0 444.5 L105.0 444.7 L106.0 444.3 L107.0 444.6 L108.0 444.4 L109.0 444.3 L110.0 444.3 L111.0 444.2 L112.0 444.4 L113.0 444.1 L114.0 444.7 L115.0 444.0 L116.0 444.2 L117.0 443.5 L118.0 443.4 L119.0 444.3 L120.0 443.6 L121.1 443.6 L122.1 443.8 L123.1 443.3 L124.1 443.5 L125.1 443.9 L126.1 443.4 L127.1 443.3 L128.1 443.2 L129.1 443.5 L130.1 442.9 L131.1 442.9 L132.1 443.4 L133.1 443.3 L134.1 443.1 L135.1 443.2 L136.1 442.5 L137.2 443.0 L138.2 443.4 L139.2 443.3 L140.2 443.1 L141.2 442.5 L142.2 443.2 L143.2 443.2 L144.2 443.1 L145.2 443.3 L146.2 442.7 L147.2 443.6 L148.2 443.2 L149.2 443.5 L150.2 443.4 L151.2 444.0 L152.2 443.2 L153.2 443.8 L154.3 443.8 L155.3 444.2 L156.3 444.2 L157.3 443.9 L158.3 443.8 L159.3 443.9 L160.3 443.8 L161.3 444.0 L162.3 444.3 L163.3 444.1 L164.3 444.2 L165.3 444.5 L166.3 444.2 L167.3 444.1 L168.3 444.4 L169.3 444.6 L170.3 444.3 L171.4 444.0 L172.4 444.6 L173.4 444.6 L174.4 444.6 L175.4 444.1 L176.4 445.0 L177.4 444.4 L178.4 444.1 L179.4 444.6 L180.4 443.9 L181.4 444.1 L182.4 444.4 L183.4 444.1 L184.4 444.6 L185.4 444.3 L186.4 443.5 L187.5 444.2 L188.5 443.3 L189.5 443.9 L190.5 443.5 L191.5 443.7 L192.5 444.3 L193.5 443.7 L194.5 443.5 L195.5 443.8" stroke="#1e2a8a" stroke-width="1.6" fill="none" opacity="0.8"/>
<path d="M44.6 442.8 L45.6 442.5 L46.6 442.6 L47.6 442.8 L48.6 442.6 L49.6 442.3 L50.6 442.5 L51.6 442.2 L52.6 442.0 L53.7 442.3 L54.7 442.5 L55.7 442.5 L56.7 442.3 L57.7 442.1 L58.7 442.2 L59.7 442.1 L60.7 442.3 L61.7 442.1 L62.7 442.3 L63.7 442.2 L64.7 442.4 L65.7 442.4 L66.7 442.2 L67.7 442.3 L68.7 442.3 L69.8 441.9 L70.8 442.1 L71.8 441.5 L72.8 441.9 L73.8 442.2 L74.8 441.9 L75.8 442.0 L76.8 442.2 L77.8 441.8 L78.8 442.2 L79.8 442.7 L80.8 441.9 L81.8 442.2 L82.8 441.8 L83.8 442.2 L84.8 442.3 L85.8 441.8 L86.9 442.3 L87.9 442.1 L88.9 441.9 L89.9 442.1 L90.9 442.2 L91.9 442.2 L92.9 442.0 L93.9 442.4 L94.9 442.1 L95.9 442.2 L96.9 441.8 L97.9 442.4 L98.9 442.5 L99.9 442.2 L100.9 442.5 L101.9 442.3 L102.9 442.4 L104.0 442.2 L105.0 442.6 L106.0 442.5 L107.0 443.0 L108.0 442.7 L109.0 442.3 L110.0 442.7 L111.0 442.8 L112.0 442.9 L113.0 442.6 L114.0 442.7 L115.0 443.0 L116.0 442.6 L117.0 442.7 L118.0 442.6 L119.0 442.9 L120.0 442.5 L121.1 442.8 L122.1 442.9 L123.1 443.0 L124.1 443.0 L125.1 442.8 L126.1 443.0 L127.1 442.7 L128.1 442.9 L129.1 442.7 L130.1 442.8 L131.1 443.0 L132.1 443.4 L133.1 443.0 L134.1 442.9 L135.1 443.0 L136.1 442.9 L137.2 443.1 L138.2 443.1 L139.2 443.2 L140.2 442.8 L141.2 443.0 L142.2 443.1 L143.2 443.3 L144.2 443.1 L145.2 442.7 L146.2 442.9 L147.2 443.2 L148.2 442.7 L149.2 442.7 L150.2 442.8 L151.2 442.8 L152.2 442.7 L153.2 442.8 L154.3 442.8 L155.3 443.1 L156.3 442.6 L157.3 442.8 L158.3 442.4 L159.3 443.2 L160.3 442.7 L161.3 442.6 L162.3 442.8 L163.3 442.6 L164.3 442.6 L165.3 442.6 L166.3 442.8 L167.3 442.7 L168.3 442.4 L169.3 442.3 L170.3 442.5 L171.4 442.5 L172.4 442.5 L173.4 442.3 L174.4 442.7 L175.4 442.7 L176.4 442.4 L177.4 442.6 L178.4 442.5 L179.4 442.3 L180.4 442.2 L181.4 442.5 L182.4 442.1 L183.4 442.6 L184.4 442.1 L185.4 442.5 L186.4 442.5 L187.5 442.1 L188.5 442.3 L189.5 442.3 L190.5 442.2 L191.5 442.0 L192.5 442.1 L193.5 442.1 L194.5 441.9 L195.5 442.2" stroke="#9a9a9a" stroke-width="3.0" fill="none"/>
<circle cx="44.6" cy="454.5" r="1.6" fill="#3a62c0"/><circle cx="44.6" cy="452.5" r="1.4" fill="#999"/>
<path d="M206.6 432.8 L207.6 432.3 L208.6 431.8 L209.6 431.3 L210.6 430.9 L211.6 430.4 L212.6 430.0 L213.6 429.6 L214.6 429.1 L215.7 428.7 L216.7 428.3 L217.7 427.9 L218.7 427.5 L219.7 427.2 L220.7 426.8 L221.7 426.4 L222.7 426.1 L223.7 425.7 L224.7 425.4 L225.7 425.1 L226.7 424.7 L227.7 424.4 L228.7 424.1 L229.7 423.8 L230.7 423.5 L231.8 423.2 L232.8 422.9 L233.8 422.6 L234.8 422.4 L235.8 422.1 L236.8 421.9 L237.8 421.6 L238.8 421.3 L239.8 421.1 L240.8 420.9 L241.8 420.6 L242.8 420.4 L243.8 420.2 L244.8 420.0 L245.8 419.8 L246.8 419.6 L247.8 419.3 L248.9 419.1 L249.9 419.0 L250.9 418.8 L251.9 418.6 L252.9 418.4 L253.9 418.2 L254.9 418.0 L255.9 417.9 L256.9 417.7 L257.9 417.5 L258.9 417.4 L259.9 417.2 L260.9 417.1 L261.9 416.9 L262.9 416.8 L263.9 416.6 L264.9 416.5 L266.0 416.4 L267.0 416.2 L268.0 416.1 L269.0 416.0 L270.0 415.8 L271.0 415.7 L272.0 415.6 L273.0 415.5 L274.0 415.4 L275.0 415.3 L276.0 415.2 L277.0 415.0 L278.0 414.9 L279.0 414.8 L280.0 414.7 L281.0 414.6 L282.0 414.5 L283.1 414.5 L284.1 414.4 L285.1 414.3 L286.1 414.2 L287.1 414.1 L288.1 414.0 L289.1 413.9 L290.1 413.9 L291.1 413.8 L292.1 413.7 L293.1 413.6 L294.1 413.6 L295.1 413.5 L296.1 413.4 L297.1 413.3 L298.1 413.3 L299.2 413.2 L300.2 413.1 L301.2 413.1 L302.2 413.0 L303.2 413.0 L304.2 412.9 L305.2 412.8 L306.2 412.8 L307.2 412.7 L308.2 412.7 L309.2 412.6 L310.2 412.6 L311.2 412.5 L312.2 412.5 L313.2 412.4 L314.2 412.4 L315.2 412.3 L316.3 412.3 L317.3 412.3 L318.3 412.2 L319.3 412.2 L320.3 412.1 L321.3 412.1 L322.3 412.0 L323.3 412.0 L324.3 412.0 L325.3 411.9 L326.3 411.9 L327.3 411.9 L328.3 411.8 L329.3 411.8 L330.3 411.8 L331.3 411.7 L332.3 411.7 L333.4 411.7 L334.4 411.6 L335.4 411.6 L336.4 411.6 L337.4 411.6 L338.4 411.5 L339.4 411.5 L340.4 411.5 L341.4 411.4 L342.4 411.4 L343.4 411.4 L344.4 411.4 L345.4 411.3 L346.4 411.3 L347.4 411.3 L348.4 411.3 L349.5 411.3 L350.5 411.2 L351.5 411.2 L352.5 411.2 L353.5 411.2 L354.5 411.2 L355.5 411.1 L356.5 411.1 L357.5 411.1 L357.5 422.1 L356.5 422.1 L355.5 422.1 L354.5 422.2 L353.5 422.2 L352.5 422.2 L351.5 422.2 L350.5 422.2 L349.5 422.3 L348.4 422.3 L347.4 422.3 L346.4 422.3 L345.4 422.3 L344.4 422.4 L343.4 422.4 L342.4 422.4 L341.4 422.4 L340.4 422.5 L339.4 422.5 L338.4 422.5 L337.4 422.6 L336.4 422.6 L335.4 422.6 L334.4 422.6 L333.4 422.7 L332.3 422.7 L331.3 422.7 L330.3 422.8 L329.3 422.8 L328.3 422.8 L327.3 422.9 L326.3 422.9 L325.3 422.9 L324.3 423.0 L323.3 423.0 L322.3 423.0 L321.3 423.1 L320.3 423.1 L319.3 423.2 L318.3 423.2 L317.3 423.3 L316.3 423.3 L315.2 423.3 L314.2 423.4 L313.2 423.4 L312.2 423.5 L311.2 423.5 L310.2 423.6 L309.2 423.6 L308.2 423.7 L307.2 423.7 L306.2 423.8 L305.2 423.8 L304.2 423.9 L303.2 424.0 L302.2 424.0 L301.2 424.1 L300.2 424.1 L299.2 424.2 L298.1 424.3 L297.1 424.3 L296.1 424.4 L295.1 424.5 L294.1 424.6 L293.1 424.6 L292.1 424.7 L291.1 424.8 L290.1 424.9 L289.1 424.9 L288.1 425.0 L287.1 425.1 L286.1 425.2 L285.1 425.3 L284.1 425.4 L283.1 425.5 L282.0 425.5 L281.0 425.6 L280.0 425.7 L279.0 425.8 L278.0 425.9 L277.0 426.0 L276.0 426.2 L275.0 426.3 L274.0 426.4 L273.0 426.5 L272.0 426.6 L271.0 426.7 L270.0 426.8 L269.0 427.0 L268.0 427.1 L267.0 427.2 L266.0 427.4 L264.9 427.5 L263.9 427.6 L262.9 427.8 L261.9 427.9 L260.9 428.1 L259.9 428.2 L258.9 428.4 L257.9 428.5 L256.9 428.7 L255.9 428.9 L254.9 429.0 L253.9 429.2 L252.9 429.4 L251.9 429.6 L250.9 429.8 L249.9 430.0 L248.9 430.1 L247.8 430.3 L246.8 430.6 L245.8 430.8 L244.8 431.0 L243.8 431.2 L242.8 431.4 L241.8 431.6 L240.8 431.9 L239.8 432.1 L238.8 432.3 L237.8 432.6 L236.8 432.9 L235.8 433.1 L234.8 433.4 L233.8 433.6 L232.8 433.9 L231.8 434.2 L230.7 434.5 L229.7 434.8 L228.7 435.1 L227.7 435.4 L226.7 435.7 L225.7 436.1 L224.7 436.4 L223.7 436.7 L222.7 437.1 L221.7 437.4 L220.7 437.8 L219.7 438.2 L218.7 438.5 L217.7 438.9 L216.7 439.3 L215.7 439.7 L214.6 440.1 L213.6 440.6 L212.6 441.0 L211.6 441.4 L210.6 441.9 L209.6 442.3 L208.6 442.8 L207.6 443.3 L206.6 443.8 Z" fill="#a9bbea" opacity="0.55"/>
<path d="M206.6 432.8V443.8M208.6 431.8V442.8M210.6 430.9V441.9M212.6 430.0V441.0M214.6 429.1V440.1M216.7 428.3V439.3M218.7 427.5V438.5M220.7 426.8V437.8M222.7 426.1V437.1M224.7 425.4V436.4M226.7 424.7V435.7M228.7 424.1V435.1M230.7 423.5V434.5M232.8 422.9V433.9M234.8 422.4V433.4M236.8 421.9V432.9M238.8 421.3V432.3M240.8 420.9V431.9M242.8 420.4V431.4M244.8 420.0V431.0M246.8 419.6V430.6M248.9 419.1V430.1M250.9 418.8V429.8M252.9 418.4V429.4M254.9 418.0V429.0M256.9 417.7V428.7M258.9 417.4V428.4M260.9 417.1V428.1M262.9 416.8V427.8M264.9 416.5V427.5M267.0 416.2V427.2M269.0 416.0V427.0M271.0 415.7V426.7M273.0 415.5V426.5M275.0 415.3V426.3M277.0 415.0V426.0M279.0 414.8V425.8M281.0 414.6V425.6M283.1 414.5V425.5M285.1 414.3V425.3M287.1 414.1V425.1M289.1 413.9V424.9M291.1 413.8V424.8M293.1 413.6V424.6M295.1 413.5V424.5M297.1 413.3V424.3M299.2 413.2V424.2M301.2 413.1V424.1M303.2 413.0V424.0M305.2 412.8V423.8M307.2 412.7V423.7M309.2 412.6V423.6M311.2 412.5V423.5M313.2 412.4V423.4M315.2 412.3V423.3M317.3 412.3V423.3M319.3 412.2V423.2M321.3 412.1V423.1M323.3 412.0V423.0M325.3 411.9V422.9M327.3 411.9V422.9M329.3 411.8V422.8M331.3 411.7V422.7M333.4 411.7V422.7M335.4 411.6V422.6M337.4 411.6V422.6M339.4 411.5V422.5M341.4 411.4V422.4M343.4 411.4V422.4M345.4 411.3V422.3M347.4 411.3V422.3M349.5 411.3V422.3M351.5 411.2V422.2M353.5 411.2V422.2M355.5 411.1V422.1M357.5 411.1V422.1" stroke="#7590d8" stroke-width="0.6" opacity="0.7"/>
<path d="M206.6 432.8 L207.6 432.3 L208.6 431.8 L209.6 431.3 L210.6 430.9 L211.6 430.4 L212.6 430.0 L213.6 429.6 L214.6 429.1 L215.7 428.7 L216.7 428.3 L217.7 427.9 L218.7 427.5 L219.7 427.2 L220.7 426.8 L221.7 426.4 L222.7 426.1 L223.7 425.7 L224.7 425.4 L225.7 425.1 L226.7 424.7 L227.7 424.4 L228.7 424.1 L229.7 423.8 L230.7 423.5 L231.8 423.2 L232.8 422.9 L233.8 422.6 L234.8 422.4 L235.8 422.1 L236.8 421.9 L237.8 421.6 L238.8 421.3 L239.8 421.1 L240.8 420.9 L241.8 420.6 L242.8 420.4 L243.8 420.2 L244.8 420.0 L245.8 419.8 L246.8 419.6 L247.8 419.3 L248.9 419.1 L249.9 419.0 L250.9 418.8 L251.9 418.6 L252.9 418.4 L253.9 418.2 L254.9 418.0 L255.9 417.9 L256.9 417.7 L257.9 417.5 L258.9 417.4 L259.9 417.2 L260.9 417.1 L261.9 416.9 L262.9 416.8 L263.9 416.6 L264.9 416.5 L266.0 416.4 L267.0 416.2 L268.0 416.1 L269.0 416.0 L270.0 415.8 L271.0 415.7 L272.0 415.6 L273.0 415.5 L274.0 415.4 L275.0 415.3 L276.0 415.2 L277.0 415.0 L278.0 414.9 L279.0 414.8 L280.0 414.7 L281.0 414.6 L282.0 414.5 L283.1 414.5 L284.1 414.4 L285.1 414.3 L286.1 414.2 L287.1 414.1 L288.1 414.0 L289.1 413.9 L290.1 413.9 L291.1 413.8 L292.1 413.7 L293.1 413.6 L294.1 413.6 L295.1 413.5 L296.1 413.4 L297.1 413.3 L298.1 413.3 L299.2 413.2 L300.2 413.1 L301.2 413.1 L302.2 413.0 L303.2 413.0 L304.2 412.9 L305.2 412.8 L306.2 412.8 L307.2 412.7 L308.2 412.7 L309.2 412.6 L310.2 412.6 L311.2 412.5 L312.2 412.5 L313.2 412.4 L314.2 412.4 L315.2 412.3 L316.3 412.3 L317.3 412.3 L318.3 412.2 L319.3 412.2 L320.3 412.1 L321.3 412.1 L322.3 412.0 L323.3 412.0 L324.3 412.0 L325.3 411.9 L326.3 411.9 L327.3 411.9 L328.3 411.8 L329.3 411.8 L330.3 411.8 L331.3 411.7 L332.3 411.7 L333.4 411.7 L334.4 411.6 L335.4 411.6 L336.4 411.6 L337.4 411.6 L338.4 411.5 L339.4 411.5 L340.4 411.5 L341.4 411.4 L342.4 411.4 L343.4 411.4 L344.4 411.4 L345.4 411.3 L346.4 411.3 L347.4 411.3 L348.4 411.3 L349.5 411.3 L350.5 411.2 L351.5 411.2 L352.5 411.2 L353.5 411.2 L354.5 411.2 L355.5 411.1 L356.5 411.1 L357.5 411.1" stroke="#7590d8" stroke-width="0.9" fill="none"/>
<path d="M206.6 443.8 L207.6 443.3 L208.6 442.8 L209.6 442.3 L210.6 441.9 L211.6 441.4 L212.6 441.0 L213.6 440.6 L214.6 440.1 L215.7 439.7 L216.7 439.3 L217.7 438.9 L218.7 438.5 L219.7 438.2 L220.7 437.8 L221.7 437.4 L222.7 437.1 L223.7 436.7 L224.7 436.4 L225.7 436.1 L226.7 435.7 L227.7 435.4 L228.7 435.1 L229.7 434.8 L230.7 434.5 L231.8 434.2 L232.8 433.9 L233.8 433.6 L234.8 433.4 L235.8 433.1 L236.8 432.9 L237.8 432.6 L238.8 432.3 L239.8 432.1 L240.8 431.9 L241.8 431.6 L242.8 431.4 L243.8 431.2 L244.8 431.0 L245.8 430.8 L246.8 430.6 L247.8 430.3 L248.9 430.1 L249.9 430.0 L250.9 429.8 L251.9 429.6 L252.9 429.4 L253.9 429.2 L254.9 429.0 L255.9 428.9 L256.9 428.7 L257.9 428.5 L258.9 428.4 L259.9 428.2 L260.9 428.1 L261.9 427.9 L262.9 427.8 L263.9 427.6 L264.9 427.5 L266.0 427.4 L267.0 427.2 L268.0 427.1 L269.0 427.0 L270.0 426.8 L271.0 426.7 L272.0 426.6 L273.0 426.5 L274.0 426.4 L275.0 426.3 L276.0 426.2 L277.0 426.0 L278.0 425.9 L279.0 425.8 L280.0 425.7 L281.0 425.6 L282.0 425.5 L283.1 425.5 L284.1 425.4 L285.1 425.3 L286.1 425.2 L287.1 425.1 L288.1 425.0 L289.1 424.9 L290.1 424.9 L291.1 424.8 L292.1 424.7 L293.1 424.6 L294.1 424.6 L295.1 424.5 L296.1 424.4 L297.1 424.3 L298.1 424.3 L299.2 424.2 L300.2 424.1 L301.2 424.1 L302.2 424.0 L303.2 424.0 L304.2 423.9 L305.2 423.8 L306.2 423.8 L307.2 423.7 L308.2 423.7 L309.2 423.6 L310.2 423.6 L311.2 423.5 L312.2 423.5 L313.2 423.4 L314.2 423.4 L315.2 423.3 L316.3 423.3 L317.3 423.3 L318.3 423.2 L319.3 423.2 L320.3 423.1 L321.3 423.1 L322.3 423.0 L323.3 423.0 L324.3 423.0 L325.3 422.9 L326.3 422.9 L327.3 422.9 L328.3 422.8 L329.3 422.8 L330.3 422.8 L331.3 422.7 L332.3 422.7 L333.4 422.7 L334.4 422.6 L335.4 422.6 L336.4 422.6 L337.4 422.6 L338.4 422.5 L339.4 422.5 L340.4 422.5 L341.4 422.4 L342.4 422.4 L343.4 422.4 L344.4 422.4 L345.4 422.3 L346.4 422.3 L347.4 422.3 L348.4 422.3 L349.5 422.3 L350.5 422.2 L351.5 422.2 L352.5 422.2 L353.5 422.2 L354.5 422.2 L355.5 422.1 L356.5 422.1 L357.5 422.1" stroke="#7590d8" stroke-width="0.9" fill="none"/>
<path d="M206.6 419.8 L207.6 419.2 L208.6 418.7 L209.6 418.2 L210.6 417.8 L211.6 417.4 L212.6 417.1 L213.6 416.7 L214.6 416.4 L215.7 416.2 L216.7 416.0 L217.7 415.8 L218.7 415.6 L219.7 415.5 L220.7 415.3 L221.7 415.2 L222.7 415.1 L223.7 415.0 L224.7 414.9 L225.7 414.8 L226.7 414.7 L227.7 414.5 L228.7 414.3 L229.7 414.1 L230.7 413.9 L231.8 413.6 L232.8 413.4 L233.8 413.0 L234.8 412.7 L235.8 412.3 L236.8 412.0 L237.8 411.6 L238.8 411.2 L239.8 410.9 L240.8 410.5 L241.8 410.2 L242.8 409.8 L243.8 409.5 L244.8 409.3 L245.8 409.0 L246.8 408.8 L247.8 408.6 L248.9 408.5 L249.9 408.3 L250.9 408.2 L251.9 408.2 L252.9 408.1 L253.9 408.0 L254.9 408.0 L255.9 407.9 L256.9 407.8 L257.9 407.7 L258.9 407.6 L259.9 407.5 L260.9 407.3 L261.9 407.1 L262.9 406.9 L263.9 406.6 L264.9 406.4 L266.0 406.1 L267.0 405.7 L268.0 405.4 L269.0 405.0 L270.0 404.7 L271.0 404.3 L272.0 404.0 L273.0 403.7 L274.0 403.3 L275.0 403.1 L276.0 402.8 L277.0 402.6 L278.0 402.6 L279.0 402.6 L280.0 402.6 L281.0 402.7 L282.0 402.8 L283.1 402.9 L284.1 403.1 L285.1 403.2 L286.1 403.4 L287.1 403.5 L288.1 403.7 L289.1 403.8 L290.1 403.9 L291.1 404.0 L292.1 404.0 L293.1 404.0 L294.1 404.0 L295.1 404.0 L296.1 404.0 L297.1 403.9 L298.1 403.8 L299.2 403.6 L300.2 403.5 L301.2 403.3 L302.2 403.2 L303.2 403.0 L304.2 402.9 L305.2 402.8 L306.2 402.7 L307.2 402.6 L308.2 402.6 L309.2 402.6 L310.2 402.6 L311.2 402.6 L312.2 402.7 L313.2 402.8 L314.2 402.9 L315.2 403.0 L316.3 403.2 L317.3 403.3 L318.3 403.5 L319.3 403.6 L320.3 403.7 L321.3 403.8 L322.3 403.9 L323.3 404.0 L324.3 404.0 L325.3 404.0 L326.3 404.0 L327.3 404.0 L328.3 403.9 L329.3 403.8 L330.3 403.7 L331.3 403.5 L332.3 403.4 L333.4 403.2 L334.4 403.1 L335.4 403.0 L336.4 402.8 L337.4 402.7 L338.4 402.6 L339.4 402.6 L340.4 402.6 L341.4 402.6 L342.4 402.6 L343.4 402.6 L344.4 402.7 L345.4 402.8 L346.4 403.0 L347.4 403.1 L348.4 403.2 L349.5 403.4 L350.5 403.5 L351.5 403.7 L352.5 403.8 L353.5 403.9 L354.5 404.0 L355.5 404.0 L356.5 404.0 L357.5 404.0 L357.5 412.0 L356.5 412.0 L355.5 412.0 L354.5 412.0 L353.5 411.9 L352.5 411.8 L351.5 411.7 L350.5 411.5 L349.5 411.4 L348.4 411.2 L347.4 411.1 L346.4 411.0 L345.4 410.8 L344.4 410.7 L343.4 410.6 L342.4 410.6 L341.4 410.6 L340.4 410.6 L339.4 410.6 L338.4 410.6 L337.4 410.7 L336.4 410.8 L335.4 411.0 L334.4 411.1 L333.4 411.2 L332.3 411.4 L331.3 411.5 L330.3 411.7 L329.3 411.8 L328.3 411.9 L327.3 412.0 L326.3 412.0 L325.3 412.0 L324.3 412.0 L323.3 412.0 L322.3 411.9 L321.3 411.8 L320.3 411.7 L319.3 411.6 L318.3 411.5 L317.3 411.3 L316.3 411.2 L315.2 411.0 L314.2 410.9 L313.2 410.8 L312.2 410.7 L311.2 410.6 L310.2 410.6 L309.2 410.6 L308.2 410.6 L307.2 410.6 L306.2 410.7 L305.2 410.8 L304.2 410.9 L303.2 411.0 L302.2 411.2 L301.2 411.3 L300.2 411.5 L299.2 411.6 L298.1 411.8 L297.1 411.9 L296.1 412.0 L295.1 412.0 L294.1 412.0 L293.1 412.0 L292.1 412.0 L291.1 412.0 L290.1 411.9 L289.1 411.8 L288.1 411.7 L287.1 411.5 L286.1 411.4 L285.1 411.2 L284.1 411.1 L283.1 410.9 L282.0 410.8 L281.0 410.7 L280.0 410.6 L279.0 410.6 L278.0 410.6 L277.0 410.6 L276.0 410.8 L275.0 411.1 L274.0 411.3 L273.0 411.7 L272.0 412.0 L271.0 412.3 L270.0 412.7 L269.0 413.0 L268.0 413.4 L267.0 413.7 L266.0 414.1 L264.9 414.4 L263.9 414.6 L262.9 414.9 L261.9 415.1 L260.9 415.3 L259.9 415.5 L258.9 415.6 L257.9 415.7 L256.9 415.8 L255.9 415.9 L254.9 416.0 L253.9 416.0 L252.9 416.1 L251.9 416.2 L250.9 416.2 L249.9 416.3 L248.9 416.5 L247.8 416.6 L246.8 416.8 L245.8 417.0 L244.8 417.3 L243.8 417.5 L242.8 417.8 L241.8 418.2 L240.8 418.5 L239.8 418.9 L238.8 419.2 L237.8 419.6 L236.8 420.0 L235.8 420.3 L234.8 420.7 L233.8 421.0 L232.8 421.4 L231.8 421.6 L230.7 421.9 L229.7 422.1 L228.7 422.3 L227.7 422.5 L226.7 422.7 L225.7 422.8 L224.7 422.9 L223.7 423.0 L222.7 423.1 L221.7 423.2 L220.7 423.3 L219.7 423.5 L218.7 423.6 L217.7 423.8 L216.7 424.0 L215.7 424.2 L214.6 424.4 L213.6 424.7 L212.6 425.1 L211.6 425.4 L210.6 425.8 L209.6 426.2 L208.6 426.7 L207.6 427.2 L206.6 427.8 Z" fill="#a0aee0" opacity="0.55"/>
<path d="M206.6 419.8V427.8M208.6 418.7V426.7M210.6 417.8V425.8M212.6 417.1V425.1M214.6 416.4V424.4M216.7 416.0V424.0M218.7 415.6V423.6M220.7 415.3V423.3M222.7 415.1V423.1M224.7 414.9V422.9M226.7 414.7V422.7M228.7 414.3V422.3M230.7 413.9V421.9M232.8 413.4V421.4M234.8 412.7V420.7M236.8 412.0V420.0M238.8 411.2V419.2M240.8 410.5V418.5M242.8 409.8V417.8M244.8 409.3V417.3M246.8 408.8V416.8M248.9 408.5V416.5M250.9 408.2V416.2M252.9 408.1V416.1M254.9 408.0V416.0M256.9 407.8V415.8M258.9 407.6V415.6M260.9 407.3V415.3M262.9 406.9V414.9M264.9 406.4V414.4M267.0 405.7V413.7M269.0 405.0V413.0M271.0 404.3V412.3M273.0 403.7V411.7M275.0 403.1V411.1M277.0 402.6V410.6M279.0 402.6V410.6M281.0 402.7V410.7M283.1 402.9V410.9M285.1 403.2V411.2M287.1 403.5V411.5M289.1 403.8V411.8M291.1 404.0V412.0M293.1 404.0V412.0M295.1 404.0V412.0M297.1 403.9V411.9M299.2 403.6V411.6M301.2 403.3V411.3M303.2 403.0V411.0M305.2 402.8V410.8M307.2 402.6V410.6M309.2 402.6V410.6M311.2 402.6V410.6M313.2 402.8V410.8M315.2 403.0V411.0M317.3 403.3V411.3M319.3 403.6V411.6M321.3 403.8V411.8M323.3 404.0V412.0M325.3 404.0V412.0M327.3 404.0V412.0M329.3 403.8V411.8M331.3 403.5V411.5M333.4 403.2V411.2M335.4 403.0V411.0M337.4 402.7V410.7M339.4 402.6V410.6M341.4 402.6V410.6M343.4 402.6V410.6M345.4 402.8V410.8M347.4 403.1V411.1M349.5 403.4V411.4M351.5 403.7V411.7M353.5 403.9V411.9M355.5 404.0V412.0M357.5 404.0V412.0" stroke="#6a7cd0" stroke-width="0.6" opacity="0.7"/>
<path d="M206.6 419.8 L207.6 419.2 L208.6 418.7 L209.6 418.2 L210.6 417.8 L211.6 417.4 L212.6 417.1 L213.6 416.7 L214.6 416.4 L215.7 416.2 L216.7 416.0 L217.7 415.8 L218.7 415.6 L219.7 415.5 L220.7 415.3 L221.7 415.2 L222.7 415.1 L223.7 415.0 L224.7 414.9 L225.7 414.8 L226.7 414.7 L227.7 414.5 L228.7 414.3 L229.7 414.1 L230.7 413.9 L231.8 413.6 L232.8 413.4 L233.8 413.0 L234.8 412.7 L235.8 412.3 L236.8 412.0 L237.8 411.6 L238.8 411.2 L239.8 410.9 L240.8 410.5 L241.8 410.2 L242.8 409.8 L243.8 409.5 L244.8 409.3 L245.8 409.0 L246.8 408.8 L247.8 408.6 L248.9 408.5 L249.9 408.3 L250.9 408.2 L251.9 408.2 L252.9 408.1 L253.9 408.0 L254.9 408.0 L255.9 407.9 L256.9 407.8 L257.9 407.7 L258.9 407.6 L259.9 407.5 L260.9 407.3 L261.9 407.1 L262.9 406.9 L263.9 406.6 L264.9 406.4 L266.0 406.1 L267.0 405.7 L268.0 405.4 L269.0 405.0 L270.0 404.7 L271.0 404.3 L272.0 404.0 L273.0 403.7 L274.0 403.3 L275.0 403.1 L276.0 402.8 L277.0 402.6 L278.0 402.6 L279.0 402.6 L280.0 402.6 L281.0 402.7 L282.0 402.8 L283.1 402.9 L284.1 403.1 L285.1 403.2 L286.1 403.4 L287.1 403.5 L288.1 403.7 L289.1 403.8 L290.1 403.9 L291.1 404.0 L292.1 404.0 L293.1 404.0 L294.1 404.0 L295.1 404.0 L296.1 404.0 L297.1 403.9 L298.1 403.8 L299.2 403.6 L300.2 403.5 L301.2 403.3 L302.2 403.2 L303.2 403.0 L304.2 402.9 L305.2 402.8 L306.2 402.7 L307.2 402.6 L308.2 402.6 L309.2 402.6 L310.2 402.6 L311.2 402.6 L312.2 402.7 L313.2 402.8 L314.2 402.9 L315.2 403.0 L316.3 403.2 L317.3 403.3 L318.3 403.5 L319.3 403.6 L320.3 403.7 L321.3 403.8 L322.3 403.9 L323.3 404.0 L324.3 404.0 L325.3 404.0 L326.3 404.0 L327.3 404.0 L328.3 403.9 L329.3 403.8 L330.3 403.7 L331.3 403.5 L332.3 403.4 L333.4 403.2 L334.4 403.1 L335.4 403.0 L336.4 402.8 L337.4 402.7 L338.4 402.6 L339.4 402.6 L340.4 402.6 L341.4 402.6 L342.4 402.6 L343.4 402.6 L344.4 402.7 L345.4 402.8 L346.4 403.0 L347.4 403.1 L348.4 403.2 L349.5 403.4 L350.5 403.5 L351.5 403.7 L352.5 403.8 L353.5 403.9 L354.5 404.0 L355.5 404.0 L356.5 404.0 L357.5 404.0" stroke="#6a7cd0" stroke-width="0.9" fill="none"/>
<path d="M206.6 427.8 L207.6 427.2 L208.6 426.7 L209.6 426.2 L210.6 425.8 L211.6 425.4 L212.6 425.1 L213.6 424.7 L214.6 424.4 L215.7 424.2 L216.7 424.0 L217.7 423.8 L218.7 423.6 L219.7 423.5 L220.7 423.3 L221.7 423.2 L222.7 423.1 L223.7 423.0 L224.7 422.9 L225.7 422.8 L226.7 422.7 L227.7 422.5 L228.7 422.3 L229.7 422.1 L230.7 421.9 L231.8 421.6 L232.8 421.4 L233.8 421.0 L234.8 420.7 L235.8 420.3 L236.8 420.0 L237.8 419.6 L238.8 419.2 L239.8 418.9 L240.8 418.5 L241.8 418.2 L242.8 417.8 L243.8 417.5 L244.8 417.3 L245.8 417.0 L246.8 416.8 L247.8 416.6 L248.9 416.5 L249.9 416.3 L250.9 416.2 L251.9 416.2 L252.9 416.1 L253.9 416.0 L254.9 416.0 L255.9 415.9 L256.9 415.8 L257.9 415.7 L258.9 415.6 L259.9 415.5 L260.9 415.3 L261.9 415.1 L262.9 414.9 L263.9 414.6 L264.9 414.4 L266.0 414.1 L267.0 413.7 L268.0 413.4 L269.0 413.0 L270.0 412.7 L271.0 412.3 L272.0 412.0 L273.0 411.7 L274.0 411.3 L275.0 411.1 L276.0 410.8 L277.0 410.6 L278.0 410.6 L279.0 410.6 L280.0 410.6 L281.0 410.7 L282.0 410.8 L283.1 410.9 L284.1 411.1 L285.1 411.2 L286.1 411.4 L287.1 411.5 L288.1 411.7 L289.1 411.8 L290.1 411.9 L291.1 412.0 L292.1 412.0 L293.1 412.0 L294.1 412.0 L295.1 412.0 L296.1 412.0 L297.1 411.9 L298.1 411.8 L299.2 411.6 L300.2 411.5 L301.2 411.3 L302.2 411.2 L303.2 411.0 L304.2 410.9 L305.2 410.8 L306.2 410.7 L307.2 410.6 L308.2 410.6 L309.2 410.6 L310.2 410.6 L311.2 410.6 L312.2 410.7 L313.2 410.8 L314.2 410.9 L315.2 411.0 L316.3 411.2 L317.3 411.3 L318.3 411.5 L319.3 411.6 L320.3 411.7 L321.3 411.8 L322.3 411.9 L323.3 412.0 L324.3 412.0 L325.3 412.0 L326.3 412.0 L327.3 412.0 L328.3 411.9 L329.3 411.8 L330.3 411.7 L331.3 411.5 L332.3 411.4 L333.4 411.2 L334.4 411.1 L335.4 411.0 L336.4 410.8 L337.4 410.7 L338.4 410.6 L339.4 410.6 L340.4 410.6 L341.4 410.6 L342.4 410.6 L343.4 410.6 L344.4 410.7 L345.4 410.8 L346.4 411.0 L347.4 411.1 L348.4 411.2 L349.5 411.4 L350.5 411.5 L351.5 411.7 L352.5 411.8 L353.5 411.9 L354.5 412.0 L355.5 412.0 L356.5 412.0 L357.5 412.0" stroke="#6a7cd0" stroke-width="0.9" fill="none"/>
<path d="M206.6 438.4 L207.6 437.9 L208.6 437.0 L209.6 436.6 L210.6 436.1 L211.6 435.9 L212.6 435.5 L213.6 434.8 L214.6 434.7 L215.7 434.0 L216.7 433.6 L217.7 433.6 L218.7 433.1 L219.7 432.7 L220.7 431.9 L221.7 431.3 L222.7 431.6 L223.7 431.2 L224.7 431.5 L225.7 430.5 L226.7 430.2 L227.7 430.2 L228.7 429.4 L229.7 429.7 L230.7 429.1 L231.8 428.7 L232.8 428.7 L233.8 427.9 L234.8 427.6 L235.8 428.0 L236.8 427.7 L237.8 426.9 L238.8 426.9 L239.8 426.9 L240.8 426.4 L241.8 426.2 L242.8 425.9 L243.8 425.5 L244.8 425.4 L245.8 424.8 L246.8 424.7 L247.8 424.7 L248.9 424.4 L249.9 424.1 L250.9 424.1 L251.9 424.4 L252.9 423.7 L253.9 423.7 L254.9 423.1 L255.9 423.3 L256.9 423.1 L257.9 423.0 L258.9 422.5 L259.9 422.7 L260.9 422.6 L261.9 422.4 L262.9 422.4 L263.9 422.1 L264.9 422.0 L266.0 421.8 L267.0 421.3 L268.0 421.7 L269.0 421.5 L270.0 421.4 L271.0 421.1 L272.0 421.4 L273.0 421.2 L274.0 420.9 L275.0 420.6 L276.0 420.7 L277.0 420.7 L278.0 420.7 L279.0 420.2 L280.0 419.9 L281.0 420.1 L282.0 420.0 L283.1 419.8 L284.1 420.1 L285.1 419.9 L286.1 419.8 L287.1 419.5 L288.1 419.5 L289.1 419.7 L290.1 419.1 L291.1 418.9 L292.1 419.3 L293.1 419.0 L294.1 419.0 L295.1 418.8 L296.1 419.3 L297.1 418.4 L298.1 418.9 L299.2 418.4 L300.2 418.6 L301.2 418.7 L302.2 418.6 L303.2 418.2 L304.2 418.6 L305.2 418.4 L306.2 418.4 L307.2 418.7 L308.2 417.9 L309.2 418.0 L310.2 418.1 L311.2 417.7 L312.2 418.2 L313.2 418.0 L314.2 417.5 L315.2 417.6 L316.3 418.4 L317.3 418.6 L318.3 418.0 L319.3 417.4 L320.3 417.7 L321.3 417.6 L322.3 417.4 L323.3 417.7 L324.3 417.4 L325.3 417.2 L326.3 417.3 L327.3 417.3 L328.3 417.5 L329.3 417.2 L330.3 417.4 L331.3 416.9 L332.3 416.6 L333.4 417.4 L334.4 417.7 L335.4 417.2 L336.4 417.0 L337.4 416.8 L338.4 416.8 L339.4 417.2 L340.4 417.2 L341.4 416.6 L342.4 417.2 L343.4 416.6 L344.4 416.9 L345.4 416.7 L346.4 416.6 L347.4 416.6 L348.4 416.6 L349.5 417.0 L350.5 416.7 L351.5 416.7 L352.5 416.6 L353.5 416.4 L354.5 416.7 L355.5 416.8 L356.5 416.8 L357.5 416.7" stroke="#3a62c0" stroke-width="2.6" fill="none"/>
<path d="M206.6 423.2 L207.6 423.8 L208.6 421.8 L209.6 422.0 L210.6 422.0 L211.6 422.4 L212.6 420.9 L213.6 420.2 L214.6 421.8 L215.7 419.3 L216.7 418.7 L217.7 419.5 L218.7 419.2 L219.7 417.7 L220.7 418.4 L221.7 419.9 L222.7 419.2 L223.7 419.2 L224.7 419.0 L225.7 420.6 L226.7 418.1 L227.7 419.0 L228.7 418.2 L229.7 418.2 L230.7 417.3 L231.8 417.9 L232.8 417.9 L233.8 416.6 L234.8 415.6 L235.8 416.6 L236.8 415.0 L237.8 415.4 L238.8 415.6 L239.8 413.7 L240.8 415.1 L241.8 413.4 L242.8 414.2 L243.8 413.2 L244.8 414.2 L245.8 413.6 L246.8 412.0 L247.8 412.5 L248.9 412.4 L249.9 412.7 L250.9 411.9 L251.9 413.2 L252.9 412.9 L253.9 412.1 L254.9 412.6 L255.9 412.4 L256.9 411.9 L257.9 411.8 L258.9 411.8 L259.9 410.2 L260.9 410.5 L261.9 410.2 L262.9 410.9 L263.9 411.0 L264.9 411.4 L266.0 410.3 L267.0 411.3 L268.0 409.8 L269.0 408.5 L270.0 407.5 L271.0 407.6 L272.0 408.6 L273.0 407.3 L274.0 407.9 L275.0 406.4 L276.0 406.9 L277.0 405.9 L278.0 404.6 L279.0 405.9 L280.0 404.9 L281.0 406.6 L282.0 407.1 L283.1 405.9 L284.1 405.8 L285.1 407.6 L286.1 407.3 L287.1 408.6 L288.1 407.8 L289.1 407.1 L290.1 407.9 L291.1 408.4 L292.1 409.1 L293.1 407.8 L294.1 407.4 L295.1 407.6 L296.1 407.8 L297.1 408.8 L298.1 406.4 L299.2 407.7 L300.2 407.6 L301.2 406.8 L302.2 408.8 L303.2 407.1 L304.2 407.0 L305.2 406.5 L306.2 405.7 L307.2 406.3 L308.2 407.9 L309.2 406.8 L310.2 406.4 L311.2 406.5 L312.2 407.6 L313.2 408.0 L314.2 406.5 L315.2 406.8 L316.3 407.2 L317.3 408.6 L318.3 406.1 L319.3 409.8 L320.3 408.0 L321.3 406.3 L322.3 408.1 L323.3 407.8 L324.3 408.9 L325.3 407.0 L326.3 409.0 L327.3 407.8 L328.3 407.8 L329.3 408.6 L330.3 407.0 L331.3 408.6 L332.3 407.9 L333.4 407.3 L334.4 407.4 L335.4 406.6 L336.4 406.1 L337.4 406.9 L338.4 407.0 L339.4 407.0 L340.4 406.8 L341.4 405.9 L342.4 406.7 L343.4 406.3 L344.4 406.8 L345.4 407.5 L346.4 406.3 L347.4 407.9 L348.4 407.2 L349.5 406.3 L350.5 408.4 L351.5 407.7 L352.5 409.0 L353.5 408.3 L354.5 409.1 L355.5 408.3 L356.5 408.5 L357.5 407.9" stroke="#1e2a8a" stroke-width="2.2" fill="none"/>
<path d="M206.6 423.2h.1M209.6 422.0h.1M212.6 420.9h.1M215.7 419.3h.1M218.7 419.2h.1M221.7 419.9h.1M224.7 419.0h.1M227.7 419.0h.1M230.7 417.3h.1M233.8 416.6h.1M236.8 415.0h.1M239.8 413.7h.1M242.8 414.2h.1M245.8 413.6h.1M248.9 412.4h.1M251.9 413.2h.1M254.9 412.6h.1M257.9 411.8h.1M260.9 410.5h.1M263.9 411.0h.1M267.0 411.3h.1M270.0 407.5h.1M273.0 407.3h.1M276.0 406.9h.1M279.0 405.9h.1M282.0 407.1h.1M285.1 407.6h.1M288.1 407.8h.1M291.1 408.4h.1M294.1 407.4h.1M297.1 408.8h.1M300.2 407.6h.1M303.2 407.1h.1M306.2 405.7h.1M309.2 406.8h.1M312.2 407.6h.1M315.2 406.8h.1M318.3 406.1h.1M321.3 406.3h.1M324.3 408.9h.1M327.3 407.8h.1M330.3 407.0h.1M333.4 407.3h.1M336.4 406.1h.1M339.4 407.0h.1M342.4 406.7h.1M345.4 407.5h.1M348.4 407.2h.1M351.5 407.7h.1M354.5 409.1h.1M357.5 407.9h.1" stroke="#1e2a8a" stroke-width="2.8" stroke-linecap="round"/>
<path d="M261.9 411.1V404.2M260.3 404.2h3.2M266.0 410.1V403.0M264.4 403.0h3.2M270.0 408.7V400.6M268.4 400.6h3.2M274.0 407.3V400.0M272.4 400.0h3.2M278.0 406.6V397.8M276.4 397.8h3.2M282.0 406.8V399.6M280.4 399.6h3.2M286.1 407.4V398.7M284.5 398.7h3.2M290.1 407.9V398.7M288.5 398.7h3.2M294.1 408.0V398.2M292.5 398.2h3.2M298.1 407.8V399.9M296.5 399.9h3.2M302.2 407.2V399.7M300.6 399.7h3.2M306.2 406.7V398.2M304.6 398.2h3.2M310.2 406.6V397.8M308.6 397.8h3.2M314.2 406.9V397.2M312.6 397.2h3.2M318.3 407.5V398.9M316.7 398.9h3.2M322.3 407.9V399.9M320.7 399.9h3.2M326.3 408.0V400.5M324.7 400.5h3.2M330.3 407.7V398.6M328.7 398.6h3.2M334.4 407.1V398.4M332.8 398.4h3.2M338.4 406.6V399.9M336.8 399.9h3.2M342.4 406.6V399.0M340.8 399.0h3.2M346.4 407.0V399.9M344.8 399.9h3.2M350.5 407.5V399.3M348.9 399.3h3.2M354.5 408.0V400.1M352.9 400.1h3.2" stroke="#6a7cd0" stroke-width="0.8" fill="none"/>
<path d="M206.6 443.7 L207.6 443.8 L208.6 443.7 L209.6 444.0 L210.6 444.1 L211.6 443.6 L212.6 443.6 L213.6 444.0 L214.6 443.8 L215.7 443.8 L216.7 443.7 L217.7 443.8 L218.7 443.9 L219.7 443.8 L220.7 443.8 L221.7 443.8 L222.7 444.1 L223.7 444.2 L224.7 443.9 L225.7 444.0 L226.7 443.8 L227.7 443.7 L228.7 443.8 L229.7 443.9 L230.7 443.8 L231.8 443.6 L232.8 443.9 L233.8 443.7 L234.8 443.7 L235.8 443.8 L236.8 443.6 L237.8 443.9 L238.8 443.7 L239.8 443.9 L240.8 443.9 L241.8 444.0 L242.8 443.7 L243.8 443.9 L244.8 443.8 L245.8 444.0 L246.8 443.6 L247.8 443.5 L248.9 443.8 L249.9 443.6 L250.9 443.7 L251.9 443.5 L252.9 443.8 L253.9 444.0 L254.9 443.6 L255.9 443.8 L256.9 444.0 L257.9 443.9 L258.9 444.0 L259.9 443.8 L260.9 444.0 L261.9 443.6 L262.9 443.7 L263.9 444.0 L264.9 444.0 L266.0 443.9 L267.0 444.1 L268.0 443.8 L269.0 443.8 L270.0 443.9 L271.0 443.9 L272.0 443.7 L273.0 443.6 L274.0 443.6 L275.0 443.8 L276.0 443.7 L277.0 443.9 L278.0 443.7 L279.0 443.9 L280.0 443.7 L281.0 444.0 L282.0 443.9 L283.1 443.8 L284.1 443.7 L285.1 444.0 L286.1 443.9 L287.1 443.8 L288.1 443.8 L289.1 443.9 L290.1 443.8 L291.1 443.8 L292.1 443.6 L293.1 443.7 L294.1 444.0 L295.1 444.1 L296.1 443.8 L297.1 443.6 L298.1 443.8 L299.2 443.7 L300.2 443.9 L301.2 444.0 L302.2 443.7 L303.2 443.8 L304.2 443.7 L305.2 444.0 L306.2 443.8 L307.2 443.9 L308.2 443.7 L309.2 443.9 L310.2 443.9 L311.2 443.9 L312.2 443.6 L313.2 443.8 L314.2 443.9 L315.2 444.0 L316.3 444.0 L317.3 443.6 L318.3 444.1 L319.3 443.9 L320.3 443.7 L321.3 443.6 L322.3 443.8 L323.3 443.6 L324.3 443.3 L325.3 442.9 L326.3 442.5 L327.3 442.1 L328.3 442.5 L329.3 442.8 L330.3 443.6 L331.3 443.5 L332.3 444.0 L333.4 444.0 L334.4 443.7 L335.4 443.9 L336.4 443.7 L337.4 444.0 L338.4 443.6 L339.4 443.8 L340.4 444.0 L341.4 443.8 L342.4 443.7 L343.4 443.9 L344.4 443.7 L345.4 443.5 L346.4 443.7 L347.4 443.8 L348.4 443.9 L349.5 443.7 L350.5 444.0 L351.5 444.2 L352.5 443.9 L353.5 444.0 L354.5 443.5 L355.5 443.8 L356.5 443.9 L357.5 444.0" stroke="#999" stroke-width="3.0" fill="none"/>
<text x="397.4" y="355.0" font-size="11" font-weight="bold" fill="#000">H</text>
<defs>
<filter id="mb" x="-0.5" y="-0.5" width="2" height="2"><feGaussianBlur stdDeviation="3.5"/></filter>
<mask id="hm2" maskUnits="userSpaceOnUse"><g fill="#fff" filter="url(#mb)"><ellipse cx="528" cy="384" rx="14" ry="14"/><ellipse cx="518" cy="374" rx="9" ry="7"/><ellipse cx="541" cy="372" rx="10" ry="7"/><ellipse cx="540" cy="392" rx="9" ry="9"/><ellipse cx="532" cy="404" rx="7" ry="7"/><ellipse cx="547" cy="382" rx="6" ry="8"/><ellipse cx="506" cy="391" rx="8" ry="5"/><ellipse cx="514" cy="393" rx="5" ry="5"/><ellipse cx="569" cy="370" rx="5" ry="4"/><ellipse cx="569" cy="396" rx="6" ry="8"/><ellipse cx="513" cy="424" rx="11" ry="8"/><ellipse cx="506" cy="430" rx="5" ry="6"/><ellipse cx="566" cy="424" rx="5" ry="8"/><ellipse cx="545" cy="414" rx="4" ry="4"/><ellipse cx="552" cy="370" rx="4" ry="3"/></g></mask><mask id="hm3" maskUnits="userSpaceOnUse"><g fill="#fff" filter="url(#mb)"><ellipse cx="600" cy="373" rx="8" ry="6"/><ellipse cx="606" cy="395" rx="13" ry="16"/><ellipse cx="620" cy="384" rx="9" ry="9"/><ellipse cx="641" cy="386" rx="8" ry="9"/><ellipse cx="660" cy="378" rx="8" ry="8"/><ellipse cx="659" cy="402" rx="9" ry="7"/><ellipse cx="644" cy="415" rx="15" ry="10"/><ellipse cx="623" cy="419" rx="5" ry="6"/><ellipse cx="600" cy="428" rx="6" ry="9"/><ellipse cx="630" cy="399" rx="6" ry="6"/><ellipse cx="650" cy="397" rx="5" ry="5"/><ellipse cx="613" cy="407" rx="6" ry="6"/><ellipse cx="655" cy="422" rx="6" ry="5"/><ellipse cx="632" cy="372" rx="5" ry="4"/></g></mask>
<filter id="hsp" x="0" y="0" width="1" height="1" color-interpolation-filters="sRGB">
 <feTurbulence type="fractalNoise" baseFrequency="0.45" numOctaves="2" seed="8" result="n"/>
 <feColorMatrix in="n" type="matrix" values="0 0 0 0 0.92  0 0 0 0 0.90  0 0 0 0 0.45  2.6 0 0 0 -0.72"/>
 <feComposite in2="SourceGraphic" operator="in"/>
</filter>
<filter id="hg" x="0" y="0" width="1" height="1" color-interpolation-filters="sRGB">
 <feTurbulence type="fractalNoise" baseFrequency="0.06" numOctaves="3" seed="21" result="n"/>
 <feColorMatrix in="n" type="matrix" values="0 0 0 0 0.38  0 0 0 0 0.38  0 0 0 0 0.38  2.0 0 0 0 -0.85"/>
 <feComposite in2="SourceGraphic" operator="in"/>
</filter>
<filter id="hg2" x="0" y="0" width="1" height="1" color-interpolation-filters="sRGB">
 <feTurbulence type="fractalNoise" baseFrequency="0.5" numOctaves="2" seed="31" result="n"/>
 <feColorMatrix in="n" type="matrix" values="0 0 0 0 0.3  0 0 0 0 0.3  0 0 0 0 0.3  2.0 0 0 0 -0.8"/>
 <feComposite in2="SourceGraphic" operator="in"/>
</filter>
<filter id="hg0" x="0" y="0" width="1" height="1" color-interpolation-filters="sRGB">
 <feTurbulence type="fractalNoise" baseFrequency="0.5" numOctaves="2" seed="41" result="n"/>
 <feColorMatrix in="n" type="matrix" values="0 0 0 0 0.5  0 0 0 0 0.5  0 0 0 0 0.5  1.2 0 0 0 -0.45"/>
 <feComposite in2="SourceGraphic" operator="in"/>
</filter>
<linearGradient id="hgr0" x1="0" y1="0" x2="1" y2="1"><stop offset="0" stop-color="#6a6a6a"/><stop offset="1" stop-color="#585858"/></linearGradient>
<linearGradient id="hgr" x1="0" y1="0" x2="1" y2="1"><stop offset="0" stop-color="#a0a0a0"/><stop offset="0.5" stop-color="#939393"/><stop offset="1" stop-color="#848484"/></linearGradient>
</defs>
<text x="444.5" y="357.7" font-size="9.8" text-anchor="middle" stroke="#1a1a1a" stroke-width="0.22">No lectin</text>
<rect x="406.2" y="366.1" width="76.7" height="76.6" fill="url(#hgr0)"/>
<rect x="406.2" y="366.1" width="76.7" height="76.6" fill="#fff" filter="url(#hg0)" opacity="0.5"/>
<rect x="473.9" y="438.2" width="6.0" height="1.2" fill="#ddd"/>
<text x="537.6" y="357.7" font-size="9.8" text-anchor="middle" stroke="#1a1a1a" stroke-width="0.22">5 µM mltln2</text>
<rect x="499.2" y="366.1" width="76.8" height="76.6" fill="url(#hgr)"/>
<rect x="499.2" y="366.1" width="76.8" height="76.6" fill="#fff" filter="url(#hg)"/>
<rect x="499.2" y="366.1" width="76.8" height="76.6" fill="#fff" filter="url(#hg2)" opacity="0.15"/>
<rect x="499.2" y="366.1" width="76.8" height="76.6" fill="#fff" filter="url(#hsp)" mask="url(#hm2)"/>
<rect x="567.0" y="438.2" width="6.0" height="1.2" fill="#ddd"/>
<text x="630.3" y="357.7" font-size="9.8" text-anchor="middle" stroke="#1a1a1a" stroke-width="0.22">10 µM mltln2</text>
<rect x="591.9" y="366.1" width="76.9" height="76.6" fill="url(#hgr)"/>
<rect x="591.9" y="366.1" width="76.9" height="76.6" fill="#fff" filter="url(#hg)"/>
<rect x="591.9" y="366.1" width="76.9" height="76.6" fill="#fff" filter="url(#hg2)" opacity="0.15"/>
<rect x="591.9" y="366.1" width="76.9" height="76.6" fill="#fff" filter="url(#hsp)" mask="url(#hm3)"/>
<rect x="659.8" y="438.2" width="6.0" height="1.2" fill="#ddd"/>
<text x="420.4" y="376.2" font-size="9.9" font-weight="bold" fill="#f5e60a">Liposome</text>
<circle cx="473.5" cy="387.5" r="1.3" fill="#e0d840"/>
<circle cx="432" cy="384" r="0.7" fill="#e0d840"/>
<circle cx="440" cy="405" r="0.6" fill="#e0d840"/>
<circle cx="422" cy="422" r="0.7" fill="#e0d840"/>
<circle cx="470" cy="395" r="0.5" fill="#e0d840"/>
<circle cx="456" cy="431" r="0.5" fill="#e0d840"/>
<circle cx="428" cy="398" r="0.5" fill="#e0d840"/>
<circle cx="450" cy="389" r="0.5" fill="#e0d840"/>
<circle cx="468" cy="402" r="0.5" fill="#e0d840"/>
<circle cx="416" cy="410" r="0.5" fill="#e0d840"/>
<circle cx="445" cy="420" r="0.5" fill="#e0d840"/>
</svg></body></html>
